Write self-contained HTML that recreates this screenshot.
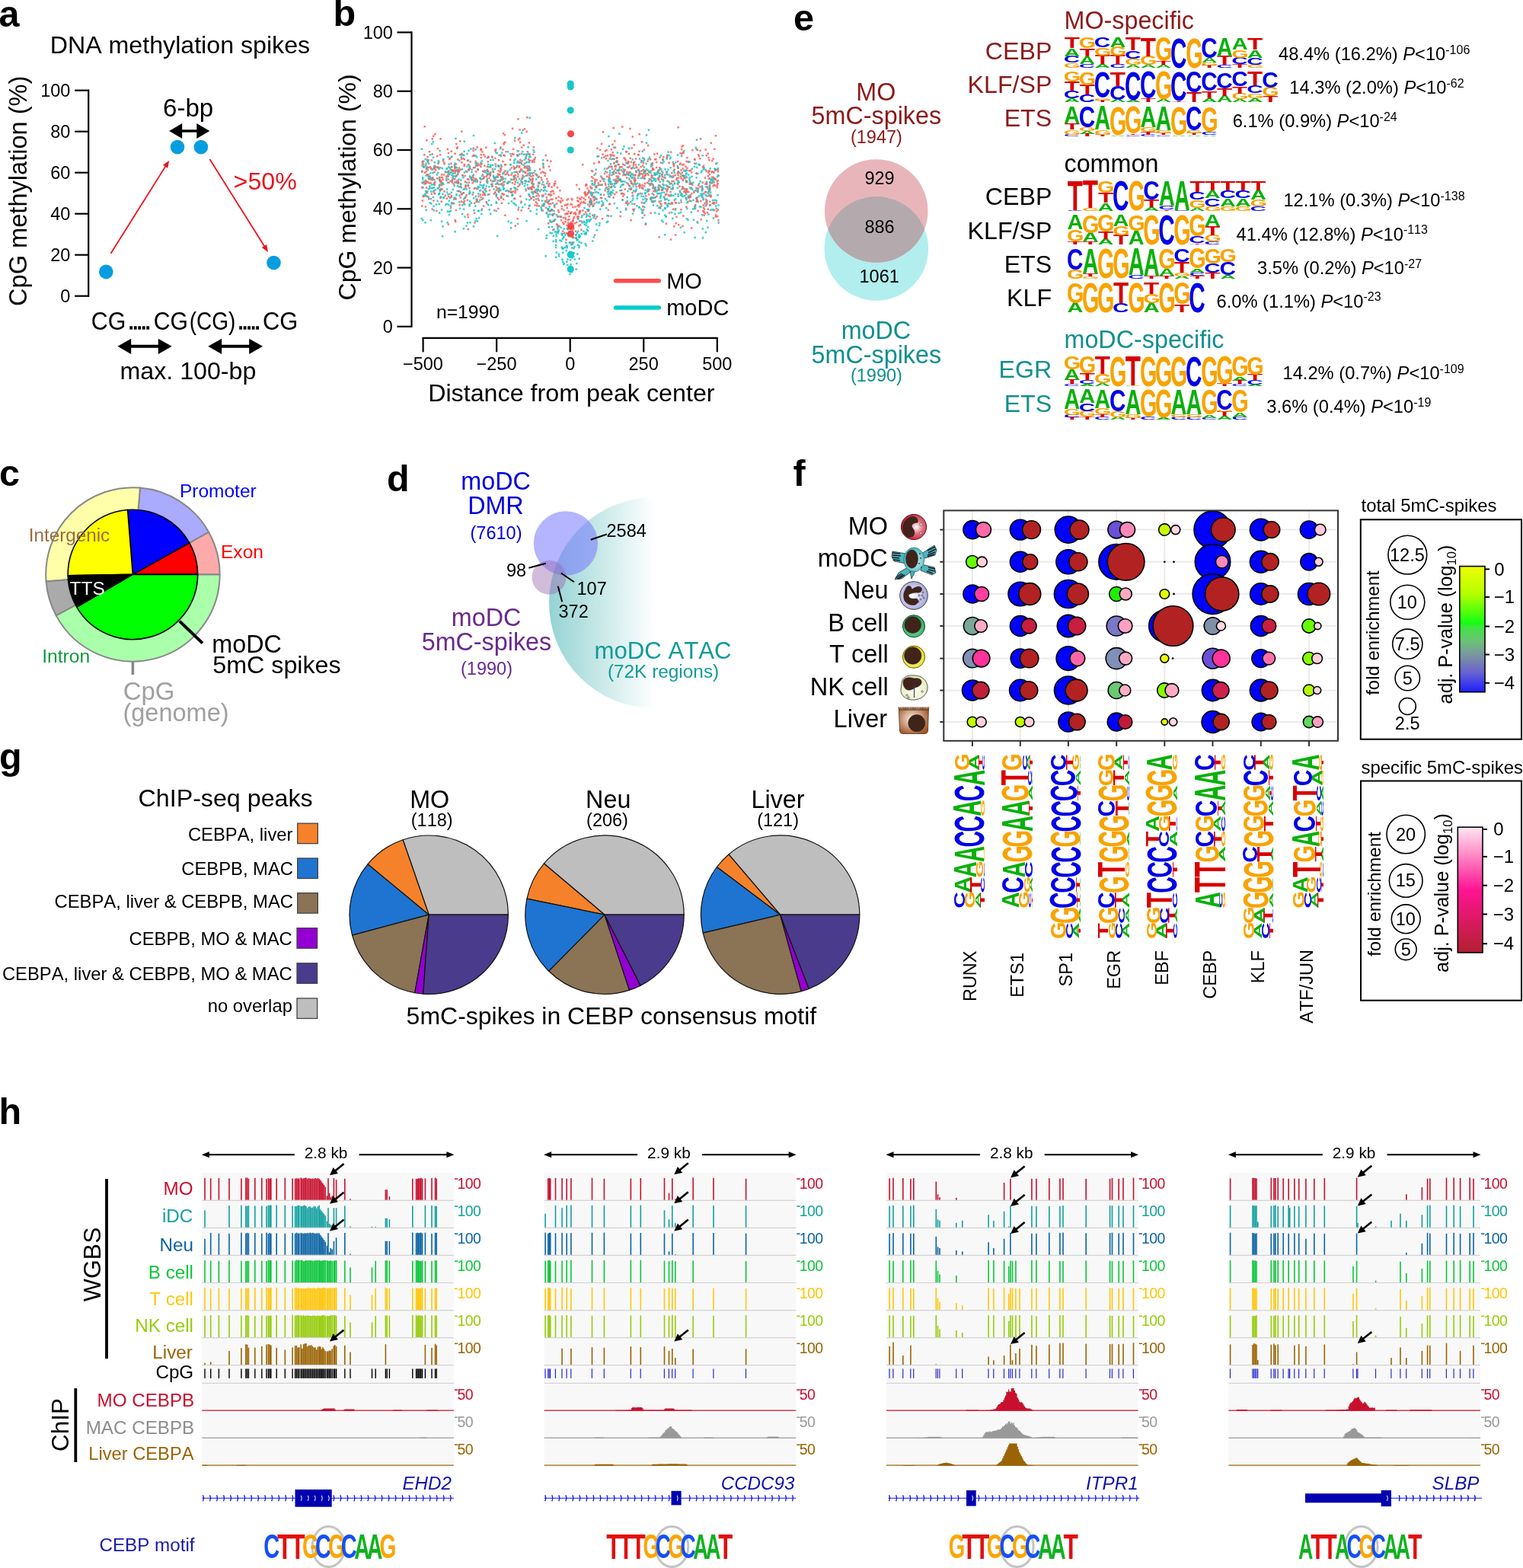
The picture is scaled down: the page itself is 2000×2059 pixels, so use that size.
<!DOCTYPE html>
<html><head><meta charset="utf-8"><title>Figure</title>
<style>html,body{margin:0;padding:0;background:#fff;overflow:hidden}svg{display:block}text{font-family:"Liberation Sans",Arial,Helvetica,sans-serif;font-kerning:none}</style>
</head><body>
<svg width="2000" height="2059" viewBox="0 0 2000 2059">
<rect width="2000" height="2059" fill="#fff"/>
<text x="-1.5" y="34.7" font-size="48.5" fill="#000" font-weight="bold">a</text>
<text x="65.76" y="70.3" font-size="32.16" fill="#000">DNA methylation spikes</text>
<line x1="116.2" y1="117.7" x2="116.2" y2="389.7" stroke="#000" stroke-width="2.2"/>
<line x1="98.2" y1="388.7" x2="117" y2="388.7" stroke="#000" stroke-width="2.2"/>
<text x="79.35" y="396.9" font-size="23.5" fill="#000">0</text>
<line x1="98.2" y1="334.7" x2="117" y2="334.7" stroke="#000" stroke-width="2.2"/>
<text x="66.28" y="342.9" font-size="23.5" fill="#000">20</text>
<line x1="98.2" y1="280.7" x2="117" y2="280.7" stroke="#000" stroke-width="2.2"/>
<text x="66.28" y="288.9" font-size="23.5" fill="#000">40</text>
<line x1="98.2" y1="226.7" x2="117" y2="226.7" stroke="#000" stroke-width="2.2"/>
<text x="66.28" y="234.9" font-size="23.5" fill="#000">60</text>
<line x1="98.2" y1="172.7" x2="117" y2="172.7" stroke="#000" stroke-width="2.2"/>
<text x="66.28" y="180.9" font-size="23.5" fill="#000">80</text>
<line x1="98.2" y1="118.7" x2="117" y2="118.7" stroke="#000" stroke-width="2.2"/>
<text x="53.21" y="126.9" font-size="23.5" fill="#000">100</text>
<text transform="translate(34.6 250.85) rotate(-90)" x="-151.11" y="0" font-size="32.6" fill="#000">CpG methylation (%)</text>
<circle cx="139.3" cy="356.9" r="9.3" fill="#069de0"/>
<circle cx="233" cy="193.1" r="9.3" fill="#069de0"/>
<circle cx="263.9" cy="193.1" r="9.3" fill="#069de0"/>
<circle cx="359.5" cy="345" r="9.3" fill="#069de0"/>
<line x1="145.4" y1="333" x2="218.16" y2="217.14" stroke="#e8141e" stroke-width="1.8"/>
<path d="M222.2 210.7 L220.32 220.74 L213.97 216.75 Z" fill="#e8141e"/>
<line x1="275.4" y1="209" x2="347.96" y2="324.56" stroke="#e8141e" stroke-width="1.8"/>
<path d="M352 331 L343.77 324.95 L350.12 320.96 Z" fill="#e8141e"/>
<text x="306.61" y="249" font-size="32.23" fill="#e8141e">&gt;50%</text>
<text x="214.02" y="153.4" font-size="33.11" fill="#000">6-bp</text>
<line x1="235.8" y1="172" x2="261.7" y2="172" stroke="#000" stroke-width="3.4"/>
<path d="M222.2 172 L239.2 162 L239.2 182 Z" fill="#000"/>
<path d="M275.3 172 L258.3 182 L258.3 162 Z" fill="#000"/>
<text transform="translate(121.3 432.8) scale(0.9193 1)" x="-1.68" y="0" font-size="33" fill="#000">CG</text>
<rect x="170.3" y="428.3" width="3.8" height="4.4" fill="#000"/>
<rect x="175.8" y="428.3" width="3.8" height="4.4" fill="#000"/>
<rect x="181.3" y="428.3" width="3.8" height="4.4" fill="#000"/>
<rect x="186.8" y="428.3" width="3.8" height="4.4" fill="#000"/>
<rect x="192.3" y="428.3" width="3.8" height="4.4" fill="#000"/>
<text transform="translate(203.2 432.8) scale(0.9127 1)" x="-1.68" y="0" font-size="33" fill="#000">CG</text>
<text transform="translate(250.5 432.8) scale(0.8488 1)" x="-2.05" y="0" font-size="33" fill="#000">(CG)</text>
<rect x="314.2" y="428.3" width="3.8" height="4.4" fill="#000"/>
<rect x="319.7" y="428.3" width="3.8" height="4.4" fill="#000"/>
<rect x="325.2" y="428.3" width="3.8" height="4.4" fill="#000"/>
<rect x="330.7" y="428.3" width="3.8" height="4.4" fill="#000"/>
<rect x="336.2" y="428.3" width="3.8" height="4.4" fill="#000"/>
<text transform="translate(346.6 432.8) scale(0.9370 1)" x="-1.68" y="0" font-size="33" fill="#000">CG</text>
<line x1="168.64" y1="454.8" x2="211.36" y2="454.8" stroke="#000" stroke-width="4.1"/>
<path d="M154.4 454.8 L172.2 444.7 L172.2 464.9 Z" fill="#000"/>
<path d="M225.6 454.8 L207.8 464.9 L207.8 444.7 Z" fill="#000"/>
<line x1="287.54" y1="454.8" x2="330.76" y2="454.8" stroke="#000" stroke-width="4.1"/>
<path d="M273.3 454.8 L291.1 444.7 L291.1 464.9 Z" fill="#000"/>
<path d="M345 454.8 L327.2 464.9 L327.2 444.7 Z" fill="#000"/>
<text x="157.46" y="497.9" font-size="32.2" fill="#000">max. 100-bp</text>
<text x="437.5" y="34" font-size="48.5" fill="#000" font-weight="bold">b</text>
<line x1="540.5" y1="41.5" x2="540.5" y2="429.8" stroke="#000" stroke-width="2.2"/>
<line x1="521.5" y1="428.8" x2="541" y2="428.8" stroke="#000" stroke-width="2.2"/>
<text x="502.85" y="437" font-size="23.5" fill="#000">0</text>
<line x1="521.5" y1="351.54" x2="541" y2="351.54" stroke="#000" stroke-width="2.2"/>
<text x="489.78" y="359.74" font-size="23.5" fill="#000">20</text>
<line x1="521.5" y1="274.28" x2="541" y2="274.28" stroke="#000" stroke-width="2.2"/>
<text x="489.78" y="282.48" font-size="23.5" fill="#000">40</text>
<line x1="521.5" y1="197.02" x2="541" y2="197.02" stroke="#000" stroke-width="2.2"/>
<text x="489.78" y="205.22" font-size="23.5" fill="#000">60</text>
<line x1="521.5" y1="119.76" x2="541" y2="119.76" stroke="#000" stroke-width="2.2"/>
<text x="489.78" y="127.96" font-size="23.5" fill="#000">80</text>
<line x1="521.5" y1="42.5" x2="541" y2="42.5" stroke="#000" stroke-width="2.2"/>
<text x="476.71" y="50.7" font-size="23.5" fill="#000">100</text>
<text transform="translate(466.5 246.05) rotate(-90)" x="-148.38" y="0" font-size="32.01" fill="#000">CpG methylation (%)</text>
<line x1="554.6" y1="443.8" x2="942.8" y2="443.8" stroke="#000" stroke-width="2.2"/>
<line x1="555.6" y1="443" x2="555.6" y2="462.3" stroke="#000" stroke-width="2.2"/>
<text x="529.01" y="485.5" font-size="23.5" fill="#000">−500</text>
<line x1="652.15" y1="443" x2="652.15" y2="462.3" stroke="#000" stroke-width="2.2"/>
<text x="625.56" y="485.5" font-size="23.5" fill="#000">−250</text>
<line x1="748.7" y1="443" x2="748.7" y2="462.3" stroke="#000" stroke-width="2.2"/>
<text x="742.17" y="485.5" font-size="23.5" fill="#000">0</text>
<line x1="845.25" y1="443" x2="845.25" y2="462.3" stroke="#000" stroke-width="2.2"/>
<text x="825.51" y="485.5" font-size="23.5" fill="#000">250</text>
<line x1="941.8" y1="443" x2="941.8" y2="462.3" stroke="#000" stroke-width="2.2"/>
<text x="922.18" y="485.5" font-size="23.5" fill="#000">500</text>
<text x="562.15" y="527" font-size="32.25" fill="#000">Distance from peak center</text>
<path d="M561.4 247.1h2.5v2.5h-2.5zM607.3 252.0h2.5v2.5h-2.5zM685.4 169.8h2.5v2.5h-2.5zM603.9 235.2h2.5v2.5h-2.5zM825.2 193.8h2.5v2.5h-2.5zM642.7 217.2h2.5v2.5h-2.5zM552.9 224.5h2.5v2.5h-2.5zM684.9 271.1h2.5v2.5h-2.5zM695.6 226.1h2.5v2.5h-2.5zM737.6 325.1h2.5v2.5h-2.5zM897.9 255.8h2.5v2.5h-2.5zM744.1 346.8h2.5v2.5h-2.5zM626.5 246.2h2.5v2.5h-2.5zM674.5 231.3h2.5v2.5h-2.5zM919.4 253.7h2.5v2.5h-2.5zM668.5 221.4h2.5v2.5h-2.5zM639.6 227.6h2.5v2.5h-2.5zM732.5 332.5h2.5v2.5h-2.5zM671.2 225.9h2.5v2.5h-2.5zM867.0 220.7h2.5v2.5h-2.5zM779.9 248.1h2.5v2.5h-2.5zM714.6 244.0h2.5v2.5h-2.5zM691.1 218.1h2.5v2.5h-2.5zM587.4 234.3h2.5v2.5h-2.5zM651.5 200.0h2.5v2.5h-2.5zM621.8 203.4h2.5v2.5h-2.5zM676.7 218.8h2.5v2.5h-2.5zM759.4 338.4h2.5v2.5h-2.5zM883.5 223.2h2.5v2.5h-2.5zM586.0 219.8h2.5v2.5h-2.5zM591.6 251.4h2.5v2.5h-2.5zM623.6 203.3h2.5v2.5h-2.5zM804.9 243.1h2.5v2.5h-2.5zM640.9 262.1h2.5v2.5h-2.5zM867.9 252.1h2.5v2.5h-2.5zM928.4 297.4h2.5v2.5h-2.5zM800.8 250.7h2.5v2.5h-2.5zM629.4 241.6h2.5v2.5h-2.5zM897.4 303.9h2.5v2.5h-2.5zM816.7 194.6h2.5v2.5h-2.5zM633.7 243.9h2.5v2.5h-2.5zM592.0 204.8h2.5v2.5h-2.5zM859.9 233.9h2.5v2.5h-2.5zM575.5 266.8h2.5v2.5h-2.5zM930.7 233.1h2.5v2.5h-2.5zM869.1 207.9h2.5v2.5h-2.5zM724.8 281.8h2.5v2.5h-2.5zM786.1 291.8h2.5v2.5h-2.5zM653.7 251.2h2.5v2.5h-2.5zM820.0 228.7h2.5v2.5h-2.5zM855.3 264.0h2.5v2.5h-2.5zM658.9 227.0h2.5v2.5h-2.5zM901.1 272.6h2.5v2.5h-2.5zM922.2 261.1h2.5v2.5h-2.5zM602.2 264.0h2.5v2.5h-2.5zM616.3 290.9h2.5v2.5h-2.5zM869.7 237.0h2.5v2.5h-2.5zM865.5 252.8h2.5v2.5h-2.5zM721.6 290.0h2.5v2.5h-2.5zM691.5 217.0h2.5v2.5h-2.5zM858.2 228.6h2.5v2.5h-2.5zM622.9 245.7h2.5v2.5h-2.5zM865.0 229.6h2.5v2.5h-2.5zM585.8 247.2h2.5v2.5h-2.5zM932.4 255.2h2.5v2.5h-2.5zM864.3 271.6h2.5v2.5h-2.5zM779.5 282.8h2.5v2.5h-2.5zM608.1 202.8h2.5v2.5h-2.5zM805.5 266.1h2.5v2.5h-2.5zM665.3 238.5h2.5v2.5h-2.5zM575.6 233.5h2.5v2.5h-2.5zM729.7 280.9h2.5v2.5h-2.5zM883.0 255.8h2.5v2.5h-2.5zM614.3 196.6h2.5v2.5h-2.5zM705.5 259.8h2.5v2.5h-2.5zM749.3 333.5h2.5v2.5h-2.5zM669.5 215.0h2.5v2.5h-2.5zM774.6 245.7h2.5v2.5h-2.5zM779.8 240.1h2.5v2.5h-2.5zM670.4 251.5h2.5v2.5h-2.5zM785.6 264.3h2.5v2.5h-2.5zM602.7 272.6h2.5v2.5h-2.5zM558.3 274.5h2.5v2.5h-2.5zM812.0 174.6h2.5v2.5h-2.5zM587.3 204.8h2.5v2.5h-2.5zM809.6 199.2h2.5v2.5h-2.5zM882.1 285.5h2.5v2.5h-2.5zM699.4 196.1h2.5v2.5h-2.5zM852.5 241.3h2.5v2.5h-2.5zM693.6 269.2h2.5v2.5h-2.5zM622.7 236.7h2.5v2.5h-2.5zM806.2 244.5h2.5v2.5h-2.5zM825.3 246.4h2.5v2.5h-2.5zM659.7 244.1h2.5v2.5h-2.5zM645.9 215.6h2.5v2.5h-2.5zM580.0 239.5h2.5v2.5h-2.5zM688.2 217.6h2.5v2.5h-2.5zM913.3 195.1h2.5v2.5h-2.5zM666.9 249.7h2.5v2.5h-2.5zM871.3 258.5h2.5v2.5h-2.5zM907.5 220.5h2.5v2.5h-2.5zM641.4 273.9h2.5v2.5h-2.5zM875.7 227.9h2.5v2.5h-2.5zM721.4 304.5h2.5v2.5h-2.5zM737.0 307.4h2.5v2.5h-2.5zM832.3 240.2h2.5v2.5h-2.5zM888.7 202.2h2.5v2.5h-2.5zM897.0 229.7h2.5v2.5h-2.5zM871.2 231.6h2.5v2.5h-2.5zM890.5 237.9h2.5v2.5h-2.5zM784.7 265.1h2.5v2.5h-2.5zM694.5 153.6h2.5v2.5h-2.5zM835.8 239.6h2.5v2.5h-2.5zM689.4 201.4h2.5v2.5h-2.5zM799.8 223.0h2.5v2.5h-2.5zM579.9 309.0h2.5v2.5h-2.5zM852.5 240.3h2.5v2.5h-2.5zM729.7 293.3h2.5v2.5h-2.5zM685.1 233.0h2.5v2.5h-2.5zM693.1 254.0h2.5v2.5h-2.5zM847.7 186.4h2.5v2.5h-2.5zM750.1 337.3h2.5v2.5h-2.5zM756.4 314.3h2.5v2.5h-2.5zM892.9 277.8h2.5v2.5h-2.5zM642.1 226.9h2.5v2.5h-2.5zM728.9 320.7h2.5v2.5h-2.5zM737.6 312.6h2.5v2.5h-2.5zM613.6 241.4h2.5v2.5h-2.5zM838.7 228.0h2.5v2.5h-2.5zM920.5 243.2h2.5v2.5h-2.5zM874.4 207.3h2.5v2.5h-2.5zM656.9 215.6h2.5v2.5h-2.5zM824.5 193.5h2.5v2.5h-2.5zM874.6 260.2h2.5v2.5h-2.5zM743.2 342.4h2.5v2.5h-2.5zM885.6 253.4h2.5v2.5h-2.5zM846.4 251.9h2.5v2.5h-2.5zM909.1 238.5h2.5v2.5h-2.5zM597.0 218.4h2.5v2.5h-2.5zM840.4 232.8h2.5v2.5h-2.5zM787.9 230.3h2.5v2.5h-2.5zM627.8 285.0h2.5v2.5h-2.5zM555.1 210.5h2.5v2.5h-2.5zM785.9 294.7h2.5v2.5h-2.5zM817.5 221.1h2.5v2.5h-2.5zM563.9 226.2h2.5v2.5h-2.5zM923.0 276.7h2.5v2.5h-2.5zM811.0 222.6h2.5v2.5h-2.5zM845.3 223.4h2.5v2.5h-2.5zM771.6 287.4h2.5v2.5h-2.5zM882.8 230.7h2.5v2.5h-2.5zM759.7 289.1h2.5v2.5h-2.5zM770.7 252.4h2.5v2.5h-2.5zM611.6 238.4h2.5v2.5h-2.5zM747.7 340.2h2.5v2.5h-2.5zM597.0 231.1h2.5v2.5h-2.5zM617.2 194.2h2.5v2.5h-2.5zM637.5 264.0h2.5v2.5h-2.5zM905.7 257.3h2.5v2.5h-2.5zM929.6 255.9h2.5v2.5h-2.5zM643.1 209.0h2.5v2.5h-2.5zM908.0 241.6h2.5v2.5h-2.5zM618.0 235.0h2.5v2.5h-2.5zM856.3 245.9h2.5v2.5h-2.5zM688.0 267.2h2.5v2.5h-2.5zM641.1 244.0h2.5v2.5h-2.5zM763.4 281.8h2.5v2.5h-2.5zM610.3 242.2h2.5v2.5h-2.5zM580.3 296.0h2.5v2.5h-2.5zM838.1 271.3h2.5v2.5h-2.5zM664.8 227.2h2.5v2.5h-2.5zM644.0 241.0h2.5v2.5h-2.5zM656.2 248.4h2.5v2.5h-2.5zM893.9 255.6h2.5v2.5h-2.5zM927.0 263.2h2.5v2.5h-2.5zM637.6 243.2h2.5v2.5h-2.5zM650.5 263.9h2.5v2.5h-2.5zM749.3 319.7h2.5v2.5h-2.5zM763.3 291.3h2.5v2.5h-2.5zM870.1 245.3h2.5v2.5h-2.5zM822.9 268.1h2.5v2.5h-2.5zM558.1 256.1h2.5v2.5h-2.5zM588.9 227.7h2.5v2.5h-2.5zM831.8 273.5h2.5v2.5h-2.5zM618.2 224.7h2.5v2.5h-2.5zM575.2 220.7h2.5v2.5h-2.5zM635.1 248.2h2.5v2.5h-2.5zM937.2 261.6h2.5v2.5h-2.5zM602.0 209.8h2.5v2.5h-2.5zM710.6 240.8h2.5v2.5h-2.5zM843.5 221.7h2.5v2.5h-2.5zM605.4 253.8h2.5v2.5h-2.5zM607.7 247.6h2.5v2.5h-2.5zM717.1 239.4h2.5v2.5h-2.5zM838.6 225.9h2.5v2.5h-2.5zM679.0 203.1h2.5v2.5h-2.5zM620.7 176.8h2.5v2.5h-2.5zM855.2 232.5h2.5v2.5h-2.5zM701.1 222.9h2.5v2.5h-2.5zM866.2 256.9h2.5v2.5h-2.5zM771.0 267.3h2.5v2.5h-2.5zM580.9 258.8h2.5v2.5h-2.5zM595.0 230.1h2.5v2.5h-2.5zM917.8 270.1h2.5v2.5h-2.5zM820.9 198.1h2.5v2.5h-2.5zM644.9 204.3h2.5v2.5h-2.5zM881.5 231.7h2.5v2.5h-2.5zM662.4 233.4h2.5v2.5h-2.5zM705.5 248.1h2.5v2.5h-2.5zM762.6 305.9h2.5v2.5h-2.5zM743.5 324.0h2.5v2.5h-2.5zM762.0 317.6h2.5v2.5h-2.5zM795.5 290.7h2.5v2.5h-2.5zM655.7 235.1h2.5v2.5h-2.5zM615.3 269.0h2.5v2.5h-2.5zM838.7 240.4h2.5v2.5h-2.5zM798.2 234.5h2.5v2.5h-2.5zM610.7 223.4h2.5v2.5h-2.5zM578.7 231.7h2.5v2.5h-2.5zM747.5 317.3h2.5v2.5h-2.5zM775.9 255.4h2.5v2.5h-2.5zM889.2 254.0h2.5v2.5h-2.5zM615.0 253.2h2.5v2.5h-2.5zM892.6 297.5h2.5v2.5h-2.5zM736.3 305.5h2.5v2.5h-2.5zM853.0 259.8h2.5v2.5h-2.5zM690.1 260.4h2.5v2.5h-2.5zM921.7 310.9h2.5v2.5h-2.5zM587.9 267.6h2.5v2.5h-2.5zM615.7 230.2h2.5v2.5h-2.5z" fill="#1cc6c6" fill-opacity="0.85"/>
<path d="M698.8 229.4h2.5v2.5h-2.5zM736.5 269.8h2.5v2.5h-2.5zM780.7 244.0h2.5v2.5h-2.5zM683.6 237.7h2.5v2.5h-2.5zM632.5 233.5h2.5v2.5h-2.5zM678.0 217.2h2.5v2.5h-2.5zM757.4 283.4h2.5v2.5h-2.5zM723.2 274.4h2.5v2.5h-2.5zM789.8 286.1h2.5v2.5h-2.5zM851.4 224.4h2.5v2.5h-2.5zM845.8 224.3h2.5v2.5h-2.5zM608.5 207.9h2.5v2.5h-2.5zM636.4 246.6h2.5v2.5h-2.5zM716.8 278.8h2.5v2.5h-2.5zM625.0 246.7h2.5v2.5h-2.5zM683.3 275.1h2.5v2.5h-2.5zM706.4 255.9h2.5v2.5h-2.5zM878.9 266.5h2.5v2.5h-2.5zM561.7 218.8h2.5v2.5h-2.5zM645.7 220.7h2.5v2.5h-2.5zM916.0 241.9h2.5v2.5h-2.5zM845.7 239.8h2.5v2.5h-2.5zM772.8 251.1h2.5v2.5h-2.5zM694.6 228.5h2.5v2.5h-2.5zM603.5 221.4h2.5v2.5h-2.5zM840.3 217.7h2.5v2.5h-2.5zM926.4 239.8h2.5v2.5h-2.5zM927.0 240.3h2.5v2.5h-2.5zM879.4 250.8h2.5v2.5h-2.5zM938.9 281.2h2.5v2.5h-2.5zM761.1 260.6h2.5v2.5h-2.5zM691.8 227.0h2.5v2.5h-2.5zM815.5 218.3h2.5v2.5h-2.5zM748.6 290.6h2.5v2.5h-2.5zM939.4 265.3h2.5v2.5h-2.5zM937.2 194.6h2.5v2.5h-2.5zM757.3 268.9h2.5v2.5h-2.5zM894.3 201.1h2.5v2.5h-2.5zM893.2 273.9h2.5v2.5h-2.5zM693.1 246.9h2.5v2.5h-2.5zM743.5 298.9h2.5v2.5h-2.5zM791.1 267.7h2.5v2.5h-2.5zM919.4 286.9h2.5v2.5h-2.5zM607.6 252.0h2.5v2.5h-2.5zM833.8 207.3h2.5v2.5h-2.5zM887.1 235.0h2.5v2.5h-2.5zM553.8 213.3h2.5v2.5h-2.5zM832.8 235.8h2.5v2.5h-2.5zM558.0 215.8h2.5v2.5h-2.5zM892.2 200.1h2.5v2.5h-2.5zM935.3 242.9h2.5v2.5h-2.5zM681.9 208.7h2.5v2.5h-2.5zM879.9 230.3h2.5v2.5h-2.5zM855.6 221.8h2.5v2.5h-2.5zM746.1 287.1h2.5v2.5h-2.5zM675.2 252.1h2.5v2.5h-2.5zM891.9 251.3h2.5v2.5h-2.5zM915.4 275.6h2.5v2.5h-2.5zM659.2 210.8h2.5v2.5h-2.5zM678.7 230.5h2.5v2.5h-2.5zM751.1 289.1h2.5v2.5h-2.5zM940.1 276.1h2.5v2.5h-2.5zM938.0 222.6h2.5v2.5h-2.5zM800.2 236.9h2.5v2.5h-2.5zM914.4 262.2h2.5v2.5h-2.5zM631.7 273.3h2.5v2.5h-2.5zM569.0 219.3h2.5v2.5h-2.5zM849.8 189.7h2.5v2.5h-2.5zM797.6 248.0h2.5v2.5h-2.5zM573.0 203.7h2.5v2.5h-2.5zM918.7 180.9h2.5v2.5h-2.5zM566.5 181.3h2.5v2.5h-2.5zM741.2 284.6h2.5v2.5h-2.5zM553.0 269.2h2.5v2.5h-2.5zM562.6 234.1h2.5v2.5h-2.5zM760.8 275.4h2.5v2.5h-2.5zM807.9 225.5h2.5v2.5h-2.5zM692.6 200.7h2.5v2.5h-2.5zM601.1 223.1h2.5v2.5h-2.5zM942.3 229.5h2.5v2.5h-2.5zM634.1 202.0h2.5v2.5h-2.5zM874.6 248.3h2.5v2.5h-2.5zM829.6 240.6h2.5v2.5h-2.5zM715.8 271.6h2.5v2.5h-2.5zM608.4 216.7h2.5v2.5h-2.5zM727.0 270.7h2.5v2.5h-2.5zM843.3 246.4h2.5v2.5h-2.5zM648.0 275.1h2.5v2.5h-2.5zM928.2 246.3h2.5v2.5h-2.5zM643.0 235.6h2.5v2.5h-2.5zM932.5 186.5h2.5v2.5h-2.5zM663.2 198.1h2.5v2.5h-2.5zM719.8 266.4h2.5v2.5h-2.5zM649.3 214.2h2.5v2.5h-2.5zM875.1 202.6h2.5v2.5h-2.5zM864.5 248.0h2.5v2.5h-2.5zM837.5 222.3h2.5v2.5h-2.5zM718.9 292.1h2.5v2.5h-2.5zM635.3 222.9h2.5v2.5h-2.5zM778.9 261.9h2.5v2.5h-2.5zM742.8 305.0h2.5v2.5h-2.5zM595.5 242.7h2.5v2.5h-2.5zM553.6 211.9h2.5v2.5h-2.5zM557.6 270.3h2.5v2.5h-2.5zM562.8 198.0h2.5v2.5h-2.5zM790.8 171.9h2.5v2.5h-2.5zM806.9 236.7h2.5v2.5h-2.5zM758.5 263.3h2.5v2.5h-2.5zM610.0 244.7h2.5v2.5h-2.5zM607.2 264.5h2.5v2.5h-2.5zM604.7 207.8h2.5v2.5h-2.5zM863.9 241.9h2.5v2.5h-2.5zM900.2 210.7h2.5v2.5h-2.5zM701.3 250.8h2.5v2.5h-2.5zM678.0 247.7h2.5v2.5h-2.5zM786.8 195.4h2.5v2.5h-2.5zM888.9 240.8h2.5v2.5h-2.5zM838.4 175.0h2.5v2.5h-2.5zM930.9 247.9h2.5v2.5h-2.5zM864.3 263.6h2.5v2.5h-2.5zM924.5 278.8h2.5v2.5h-2.5zM735.8 288.1h2.5v2.5h-2.5zM599.4 192.2h2.5v2.5h-2.5zM930.7 227.8h2.5v2.5h-2.5zM933.9 231.2h2.5v2.5h-2.5zM921.1 257.7h2.5v2.5h-2.5zM639.6 211.0h2.5v2.5h-2.5zM867.9 234.0h2.5v2.5h-2.5zM829.5 178.2h2.5v2.5h-2.5zM705.8 238.7h2.5v2.5h-2.5zM923.3 277.3h2.5v2.5h-2.5zM788.8 259.0h2.5v2.5h-2.5zM893.4 264.3h2.5v2.5h-2.5zM798.5 231.9h2.5v2.5h-2.5zM824.7 200.8h2.5v2.5h-2.5zM834.3 224.3h2.5v2.5h-2.5zM935.0 224.6h2.5v2.5h-2.5zM881.5 266.3h2.5v2.5h-2.5zM832.8 228.9h2.5v2.5h-2.5zM635.2 216.5h2.5v2.5h-2.5zM886.7 265.3h2.5v2.5h-2.5zM795.9 225.0h2.5v2.5h-2.5zM868.1 228.2h2.5v2.5h-2.5zM649.8 194.9h2.5v2.5h-2.5zM900.1 236.6h2.5v2.5h-2.5zM600.5 237.2h2.5v2.5h-2.5zM570.1 175.0h2.5v2.5h-2.5zM582.4 213.9h2.5v2.5h-2.5zM674.6 219.4h2.5v2.5h-2.5zM565.6 253.6h2.5v2.5h-2.5zM569.7 216.4h2.5v2.5h-2.5zM596.3 200.4h2.5v2.5h-2.5zM709.4 232.2h2.5v2.5h-2.5zM779.0 257.6h2.5v2.5h-2.5zM752.5 283.8h2.5v2.5h-2.5zM727.9 239.8h2.5v2.5h-2.5zM608.2 266.2h2.5v2.5h-2.5zM775.8 267.0h2.5v2.5h-2.5zM559.2 251.9h2.5v2.5h-2.5zM561.3 229.7h2.5v2.5h-2.5zM554.5 256.8h2.5v2.5h-2.5zM819.1 215.6h2.5v2.5h-2.5zM568.5 220.0h2.5v2.5h-2.5zM754.3 278.1h2.5v2.5h-2.5zM652.5 231.2h2.5v2.5h-2.5zM941.3 239.7h2.5v2.5h-2.5zM592.6 235.3h2.5v2.5h-2.5zM928.6 273.4h2.5v2.5h-2.5zM742.0 313.6h2.5v2.5h-2.5zM660.6 254.1h2.5v2.5h-2.5zM599.9 223.1h2.5v2.5h-2.5zM934.9 237.2h2.5v2.5h-2.5zM731.5 296.7h2.5v2.5h-2.5zM633.9 269.2h2.5v2.5h-2.5zM863.0 222.8h2.5v2.5h-2.5zM562.0 259.9h2.5v2.5h-2.5zM667.0 228.8h2.5v2.5h-2.5zM940.5 244.8h2.5v2.5h-2.5zM831.0 275.4h2.5v2.5h-2.5zM598.3 238.8h2.5v2.5h-2.5zM591.7 255.9h2.5v2.5h-2.5zM900.1 259.2h2.5v2.5h-2.5zM558.6 220.4h2.5v2.5h-2.5zM660.1 202.6h2.5v2.5h-2.5zM556.6 225.6h2.5v2.5h-2.5zM822.1 225.1h2.5v2.5h-2.5zM818.3 223.4h2.5v2.5h-2.5zM711.8 224.5h2.5v2.5h-2.5zM881.9 246.7h2.5v2.5h-2.5zM623.9 224.0h2.5v2.5h-2.5zM931.1 263.5h2.5v2.5h-2.5zM853.4 278.4h2.5v2.5h-2.5zM697.2 247.5h2.5v2.5h-2.5zM630.8 194.7h2.5v2.5h-2.5zM630.5 196.1h2.5v2.5h-2.5zM569.8 253.1h2.5v2.5h-2.5zM649.1 206.4h2.5v2.5h-2.5zM809.5 232.6h2.5v2.5h-2.5zM754.9 280.3h2.5v2.5h-2.5zM842.8 227.7h2.5v2.5h-2.5zM935.4 207.3h2.5v2.5h-2.5zM761.0 294.0h2.5v2.5h-2.5zM935.7 231.7h2.5v2.5h-2.5z" fill="#f8605c" fill-opacity="0.85"/>
<path d="M744.7 260.3h2.5v2.5h-2.5zM803.8 207.6h2.5v2.5h-2.5zM744.3 267.1h2.5v2.5h-2.5zM798.8 231.3h2.5v2.5h-2.5zM885.4 228.7h2.5v2.5h-2.5zM633.1 259.3h2.5v2.5h-2.5zM882.3 246.4h2.5v2.5h-2.5zM906.7 245.5h2.5v2.5h-2.5zM797.9 246.7h2.5v2.5h-2.5zM562.2 233.2h2.5v2.5h-2.5zM801.5 217.4h2.5v2.5h-2.5zM777.1 281.5h2.5v2.5h-2.5zM906.6 239.5h2.5v2.5h-2.5zM756.0 290.8h2.5v2.5h-2.5zM596.2 222.6h2.5v2.5h-2.5zM659.6 253.9h2.5v2.5h-2.5zM756.4 274.3h2.5v2.5h-2.5zM907.2 253.3h2.5v2.5h-2.5zM568.1 262.3h2.5v2.5h-2.5zM887.2 283.4h2.5v2.5h-2.5zM584.1 224.2h2.5v2.5h-2.5zM924.1 266.1h2.5v2.5h-2.5zM771.6 275.3h2.5v2.5h-2.5zM569.2 224.7h2.5v2.5h-2.5zM817.0 241.0h2.5v2.5h-2.5zM723.5 249.8h2.5v2.5h-2.5zM639.2 223.4h2.5v2.5h-2.5zM932.1 256.7h2.5v2.5h-2.5zM585.5 259.6h2.5v2.5h-2.5zM638.3 235.2h2.5v2.5h-2.5zM836.7 202.0h2.5v2.5h-2.5zM557.5 239.3h2.5v2.5h-2.5zM900.0 246.7h2.5v2.5h-2.5zM799.2 228.4h2.5v2.5h-2.5zM678.4 286.1h2.5v2.5h-2.5zM821.0 272.6h2.5v2.5h-2.5zM652.7 216.2h2.5v2.5h-2.5zM926.4 240.4h2.5v2.5h-2.5zM930.7 245.6h2.5v2.5h-2.5zM772.1 257.9h2.5v2.5h-2.5zM833.0 228.5h2.5v2.5h-2.5zM757.1 262.4h2.5v2.5h-2.5zM850.3 228.4h2.5v2.5h-2.5zM814.7 222.3h2.5v2.5h-2.5zM774.0 267.2h2.5v2.5h-2.5zM603.8 240.3h2.5v2.5h-2.5zM750.5 298.8h2.5v2.5h-2.5zM926.6 203.0h2.5v2.5h-2.5zM823.5 240.2h2.5v2.5h-2.5zM575.8 243.9h2.5v2.5h-2.5zM762.2 264.3h2.5v2.5h-2.5zM743.3 261.2h2.5v2.5h-2.5zM866.8 212.4h2.5v2.5h-2.5zM775.3 262.9h2.5v2.5h-2.5zM596.9 258.9h2.5v2.5h-2.5zM652.3 258.7h2.5v2.5h-2.5zM845.2 281.4h2.5v2.5h-2.5zM578.5 263.6h2.5v2.5h-2.5zM559.6 256.7h2.5v2.5h-2.5zM894.7 215.3h2.5v2.5h-2.5zM857.1 249.8h2.5v2.5h-2.5zM659.9 260.6h2.5v2.5h-2.5zM745.8 292.8h2.5v2.5h-2.5zM637.0 192.5h2.5v2.5h-2.5zM866.2 244.0h2.5v2.5h-2.5zM884.0 296.0h2.5v2.5h-2.5zM726.3 288.8h2.5v2.5h-2.5zM553.5 262.3h2.5v2.5h-2.5zM630.5 202.1h2.5v2.5h-2.5zM653.9 260.8h2.5v2.5h-2.5zM881.0 225.7h2.5v2.5h-2.5zM899.3 222.3h2.5v2.5h-2.5zM559.8 250.2h2.5v2.5h-2.5zM882.9 273.5h2.5v2.5h-2.5zM691.6 197.9h2.5v2.5h-2.5zM656.2 192.3h2.5v2.5h-2.5zM879.7 313.3h2.5v2.5h-2.5zM872.7 254.7h2.5v2.5h-2.5zM720.0 262.0h2.5v2.5h-2.5zM605.2 200.6h2.5v2.5h-2.5zM600.0 223.5h2.5v2.5h-2.5zM563.6 233.5h2.5v2.5h-2.5zM712.8 245.1h2.5v2.5h-2.5zM923.7 273.4h2.5v2.5h-2.5zM876.7 244.5h2.5v2.5h-2.5zM918.4 196.6h2.5v2.5h-2.5zM868.0 228.1h2.5v2.5h-2.5zM896.4 199.4h2.5v2.5h-2.5zM655.0 228.1h2.5v2.5h-2.5zM578.4 240.7h2.5v2.5h-2.5zM718.5 263.9h2.5v2.5h-2.5zM622.5 218.4h2.5v2.5h-2.5zM743.3 279.4h2.5v2.5h-2.5zM807.2 218.1h2.5v2.5h-2.5zM622.3 291.2h2.5v2.5h-2.5zM633.0 223.5h2.5v2.5h-2.5zM920.7 246.5h2.5v2.5h-2.5zM900.6 231.7h2.5v2.5h-2.5zM844.9 243.2h2.5v2.5h-2.5zM723.9 280.7h2.5v2.5h-2.5zM859.6 247.9h2.5v2.5h-2.5zM935.4 265.3h2.5v2.5h-2.5zM780.7 236.3h2.5v2.5h-2.5zM823.1 212.6h2.5v2.5h-2.5zM599.1 236.2h2.5v2.5h-2.5zM620.9 237.1h2.5v2.5h-2.5zM782.3 235.1h2.5v2.5h-2.5zM844.7 207.2h2.5v2.5h-2.5zM570.0 237.9h2.5v2.5h-2.5zM582.2 250.0h2.5v2.5h-2.5zM702.0 251.5h2.5v2.5h-2.5zM613.3 243.0h2.5v2.5h-2.5zM556.4 164.9h2.5v2.5h-2.5zM601.1 249.7h2.5v2.5h-2.5zM921.5 247.3h2.5v2.5h-2.5zM864.4 309.9h2.5v2.5h-2.5zM799.1 217.4h2.5v2.5h-2.5zM554.3 238.9h2.5v2.5h-2.5zM841.6 264.7h2.5v2.5h-2.5zM680.8 212.2h2.5v2.5h-2.5zM916.7 204.0h2.5v2.5h-2.5zM895.4 295.8h2.5v2.5h-2.5zM641.1 254.1h2.5v2.5h-2.5zM573.7 193.8h2.5v2.5h-2.5zM659.8 174.0h2.5v2.5h-2.5zM854.3 231.4h2.5v2.5h-2.5zM757.3 283.5h2.5v2.5h-2.5zM903.4 258.8h2.5v2.5h-2.5zM625.6 235.7h2.5v2.5h-2.5zM721.9 266.6h2.5v2.5h-2.5zM718.1 237.0h2.5v2.5h-2.5zM696.3 245.6h2.5v2.5h-2.5zM819.4 207.4h2.5v2.5h-2.5zM811.5 214.9h2.5v2.5h-2.5zM589.2 253.4h2.5v2.5h-2.5zM833.7 215.2h2.5v2.5h-2.5zM863.2 233.0h2.5v2.5h-2.5zM565.8 232.5h2.5v2.5h-2.5zM938.5 283.3h2.5v2.5h-2.5zM746.2 283.0h2.5v2.5h-2.5zM590.7 271.7h2.5v2.5h-2.5zM762.2 300.5h2.5v2.5h-2.5zM666.7 237.5h2.5v2.5h-2.5zM840.8 226.9h2.5v2.5h-2.5zM918.4 244.0h2.5v2.5h-2.5zM725.9 252.8h2.5v2.5h-2.5zM687.8 213.6h2.5v2.5h-2.5zM839.2 242.5h2.5v2.5h-2.5zM620.3 196.5h2.5v2.5h-2.5zM733.4 295.8h2.5v2.5h-2.5zM779.4 266.1h2.5v2.5h-2.5zM683.8 200.6h2.5v2.5h-2.5zM809.9 237.3h2.5v2.5h-2.5zM798.1 256.6h2.5v2.5h-2.5zM754.8 302.4h2.5v2.5h-2.5zM679.4 197.0h2.5v2.5h-2.5zM828.6 193.2h2.5v2.5h-2.5zM796.6 202.9h2.5v2.5h-2.5zM790.7 233.4h2.5v2.5h-2.5zM699.8 261.4h2.5v2.5h-2.5zM674.7 240.6h2.5v2.5h-2.5zM899.2 217.4h2.5v2.5h-2.5zM780.9 226.8h2.5v2.5h-2.5zM806.3 216.9h2.5v2.5h-2.5zM785.4 211.2h2.5v2.5h-2.5zM714.3 229.6h2.5v2.5h-2.5zM816.3 261.0h2.5v2.5h-2.5zM833.9 241.0h2.5v2.5h-2.5zM841.0 209.8h2.5v2.5h-2.5zM872.3 260.6h2.5v2.5h-2.5zM680.9 216.9h2.5v2.5h-2.5zM889.4 165.9h2.5v2.5h-2.5zM580.8 209.9h2.5v2.5h-2.5zM659.2 195.2h2.5v2.5h-2.5zM680.8 242.1h2.5v2.5h-2.5zM860.8 211.8h2.5v2.5h-2.5zM600.0 224.9h2.5v2.5h-2.5zM620.4 228.6h2.5v2.5h-2.5zM635.5 255.0h2.5v2.5h-2.5zM691.0 153.1h2.5v2.5h-2.5zM605.0 212.0h2.5v2.5h-2.5zM805.1 203.2h2.5v2.5h-2.5zM596.1 237.9h2.5v2.5h-2.5zM638.7 221.5h2.5v2.5h-2.5zM876.5 254.9h2.5v2.5h-2.5zM615.2 245.8h2.5v2.5h-2.5zM751.2 270.8h2.5v2.5h-2.5zM721.3 222.3h2.5v2.5h-2.5zM559.6 227.9h2.5v2.5h-2.5zM690.4 171.6h2.5v2.5h-2.5zM747.9 296.3h2.5v2.5h-2.5zM698.8 201.5h2.5v2.5h-2.5zM557.8 236.9h2.5v2.5h-2.5zM772.8 269.7h2.5v2.5h-2.5zM832.9 250.5h2.5v2.5h-2.5zM722.2 250.8h2.5v2.5h-2.5zM825.6 225.0h2.5v2.5h-2.5zM692.8 208.0h2.5v2.5h-2.5zM937.0 232.9h2.5v2.5h-2.5zM633.9 252.1h2.5v2.5h-2.5zM773.5 283.3h2.5v2.5h-2.5zM767.0 252.6h2.5v2.5h-2.5zM681.4 168.9h2.5v2.5h-2.5zM759.9 268.2h2.5v2.5h-2.5zM938.2 242.7h2.5v2.5h-2.5zM798.9 266.8h2.5v2.5h-2.5zM737.9 290.9h2.5v2.5h-2.5zM662.0 185.4h2.5v2.5h-2.5zM914.3 249.6h2.5v2.5h-2.5zM744.7 291.3h2.5v2.5h-2.5zM875.5 246.9h2.5v2.5h-2.5zM591.5 257.6h2.5v2.5h-2.5zM817.3 228.8h2.5v2.5h-2.5zM629.1 261.5h2.5v2.5h-2.5zM784.8 204.0h2.5v2.5h-2.5zM916.0 202.1h2.5v2.5h-2.5z" fill="#f8605c" fill-opacity="0.85"/>
<path d="M876.3 198.6h2.5v2.5h-2.5zM861.6 225.2h2.5v2.5h-2.5zM692.4 191.9h2.5v2.5h-2.5zM850.7 169.5h2.5v2.5h-2.5zM773.8 287.8h2.5v2.5h-2.5zM775.0 261.2h2.5v2.5h-2.5zM856.7 262.9h2.5v2.5h-2.5zM781.4 221.5h2.5v2.5h-2.5zM738.3 324.8h2.5v2.5h-2.5zM608.7 225.3h2.5v2.5h-2.5zM729.0 336.6h2.5v2.5h-2.5zM882.5 211.8h2.5v2.5h-2.5zM794.9 271.9h2.5v2.5h-2.5zM559.7 251.0h2.5v2.5h-2.5zM599.5 242.7h2.5v2.5h-2.5zM859.4 228.4h2.5v2.5h-2.5zM563.2 230.2h2.5v2.5h-2.5zM624.7 212.9h2.5v2.5h-2.5zM650.1 198.7h2.5v2.5h-2.5zM913.3 259.5h2.5v2.5h-2.5zM637.7 222.8h2.5v2.5h-2.5zM821.5 212.6h2.5v2.5h-2.5zM748.3 346.1h2.5v2.5h-2.5zM615.4 267.2h2.5v2.5h-2.5zM889.5 224.1h2.5v2.5h-2.5zM628.2 244.4h2.5v2.5h-2.5zM879.4 205.2h2.5v2.5h-2.5zM716.5 278.2h2.5v2.5h-2.5zM893.8 203.7h2.5v2.5h-2.5zM904.5 231.9h2.5v2.5h-2.5zM851.4 234.0h2.5v2.5h-2.5zM557.2 290.9h2.5v2.5h-2.5zM687.7 208.5h2.5v2.5h-2.5zM697.0 250.9h2.5v2.5h-2.5zM871.8 228.7h2.5v2.5h-2.5zM664.1 255.8h2.5v2.5h-2.5zM615.4 219.7h2.5v2.5h-2.5zM636.8 249.7h2.5v2.5h-2.5zM786.2 247.5h2.5v2.5h-2.5zM879.4 218.9h2.5v2.5h-2.5zM590.6 269.3h2.5v2.5h-2.5zM656.0 220.2h2.5v2.5h-2.5zM837.7 215.0h2.5v2.5h-2.5zM556.3 240.2h2.5v2.5h-2.5zM665.3 223.8h2.5v2.5h-2.5zM609.3 258.4h2.5v2.5h-2.5zM600.7 239.6h2.5v2.5h-2.5zM872.2 221.0h2.5v2.5h-2.5zM592.2 265.0h2.5v2.5h-2.5zM648.5 186.7h2.5v2.5h-2.5zM811.9 221.4h2.5v2.5h-2.5zM745.1 308.8h2.5v2.5h-2.5zM920.6 249.3h2.5v2.5h-2.5zM811.2 233.1h2.5v2.5h-2.5zM690.3 289.1h2.5v2.5h-2.5zM798.0 177.8h2.5v2.5h-2.5zM802.8 220.8h2.5v2.5h-2.5zM797.9 250.2h2.5v2.5h-2.5zM842.9 278.2h2.5v2.5h-2.5zM760.4 309.0h2.5v2.5h-2.5zM727.3 267.7h2.5v2.5h-2.5zM650.9 231.6h2.5v2.5h-2.5zM756.7 305.0h2.5v2.5h-2.5zM768.8 283.3h2.5v2.5h-2.5zM874.9 243.1h2.5v2.5h-2.5zM712.3 216.9h2.5v2.5h-2.5zM875.2 236.6h2.5v2.5h-2.5zM654.1 245.9h2.5v2.5h-2.5zM578.1 246.9h2.5v2.5h-2.5zM759.5 310.5h2.5v2.5h-2.5zM694.6 219.3h2.5v2.5h-2.5zM698.6 253.5h2.5v2.5h-2.5zM786.1 241.5h2.5v2.5h-2.5zM742.9 322.0h2.5v2.5h-2.5zM713.3 266.5h2.5v2.5h-2.5zM674.0 259.8h2.5v2.5h-2.5zM627.0 253.1h2.5v2.5h-2.5zM939.5 272.4h2.5v2.5h-2.5zM567.2 233.9h2.5v2.5h-2.5zM878.6 240.3h2.5v2.5h-2.5zM808.3 235.4h2.5v2.5h-2.5zM909.9 287.5h2.5v2.5h-2.5zM585.3 220.8h2.5v2.5h-2.5zM845.0 225.2h2.5v2.5h-2.5zM756.1 344.7h2.5v2.5h-2.5zM885.3 279.6h2.5v2.5h-2.5zM891.6 214.4h2.5v2.5h-2.5zM774.9 265.2h2.5v2.5h-2.5zM695.5 276.0h2.5v2.5h-2.5zM758.2 285.7h2.5v2.5h-2.5zM696.2 259.7h2.5v2.5h-2.5zM724.9 300.7h2.5v2.5h-2.5zM646.8 229.4h2.5v2.5h-2.5zM563.7 202.1h2.5v2.5h-2.5zM801.9 207.7h2.5v2.5h-2.5zM678.5 203.4h2.5v2.5h-2.5zM752.4 330.7h2.5v2.5h-2.5zM729.2 306.6h2.5v2.5h-2.5zM919.2 270.8h2.5v2.5h-2.5zM630.1 212.2h2.5v2.5h-2.5zM784.6 252.1h2.5v2.5h-2.5zM737.8 306.1h2.5v2.5h-2.5zM869.7 235.0h2.5v2.5h-2.5zM650.6 256.8h2.5v2.5h-2.5zM769.1 288.1h2.5v2.5h-2.5zM857.5 232.9h2.5v2.5h-2.5zM801.1 255.1h2.5v2.5h-2.5zM878.8 207.1h2.5v2.5h-2.5zM929.8 248.2h2.5v2.5h-2.5zM913.0 213.6h2.5v2.5h-2.5zM721.6 255.7h2.5v2.5h-2.5zM921.4 203.1h2.5v2.5h-2.5zM656.7 203.7h2.5v2.5h-2.5zM913.4 231.9h2.5v2.5h-2.5zM774.8 251.5h2.5v2.5h-2.5zM789.1 262.9h2.5v2.5h-2.5zM637.3 249.7h2.5v2.5h-2.5zM835.6 259.3h2.5v2.5h-2.5zM865.2 242.4h2.5v2.5h-2.5zM846.2 227.1h2.5v2.5h-2.5zM815.5 252.6h2.5v2.5h-2.5zM578.8 289.4h2.5v2.5h-2.5zM859.2 262.8h2.5v2.5h-2.5zM588.0 227.0h2.5v2.5h-2.5zM715.2 253.3h2.5v2.5h-2.5zM894.3 253.9h2.5v2.5h-2.5zM624.4 263.7h2.5v2.5h-2.5zM814.1 236.1h2.5v2.5h-2.5zM801.5 244.7h2.5v2.5h-2.5zM845.0 270.7h2.5v2.5h-2.5zM857.5 235.6h2.5v2.5h-2.5zM768.4 321.3h2.5v2.5h-2.5zM874.9 267.3h2.5v2.5h-2.5zM826.9 264.1h2.5v2.5h-2.5zM882.2 242.1h2.5v2.5h-2.5zM830.8 249.2h2.5v2.5h-2.5zM561.4 232.1h2.5v2.5h-2.5zM675.8 245.9h2.5v2.5h-2.5zM827.8 227.9h2.5v2.5h-2.5zM892.7 227.5h2.5v2.5h-2.5zM713.0 268.8h2.5v2.5h-2.5zM902.9 228.2h2.5v2.5h-2.5zM596.4 302.9h2.5v2.5h-2.5zM797.9 219.1h2.5v2.5h-2.5zM603.6 250.8h2.5v2.5h-2.5zM814.0 200.6h2.5v2.5h-2.5zM916.5 214.4h2.5v2.5h-2.5zM700.8 207.8h2.5v2.5h-2.5zM865.6 237.5h2.5v2.5h-2.5zM793.8 223.8h2.5v2.5h-2.5zM843.9 256.8h2.5v2.5h-2.5zM718.6 274.9h2.5v2.5h-2.5zM626.5 276.0h2.5v2.5h-2.5zM676.9 235.2h2.5v2.5h-2.5zM749.2 336.1h2.5v2.5h-2.5zM902.0 263.8h2.5v2.5h-2.5zM648.0 233.1h2.5v2.5h-2.5zM888.6 245.6h2.5v2.5h-2.5zM570.6 247.9h2.5v2.5h-2.5zM572.5 228.2h2.5v2.5h-2.5zM716.6 308.1h2.5v2.5h-2.5zM912.6 192.8h2.5v2.5h-2.5zM772.8 289.5h2.5v2.5h-2.5zM768.5 303.8h2.5v2.5h-2.5zM870.8 251.6h2.5v2.5h-2.5zM594.9 260.5h2.5v2.5h-2.5zM868.8 212.9h2.5v2.5h-2.5zM642.7 227.6h2.5v2.5h-2.5zM747.3 358.7h2.5v2.5h-2.5zM828.0 246.1h2.5v2.5h-2.5zM915.1 250.9h2.5v2.5h-2.5zM744.2 339.2h2.5v2.5h-2.5zM592.0 217.7h2.5v2.5h-2.5zM821.8 227.4h2.5v2.5h-2.5zM755.4 352.3h2.5v2.5h-2.5zM800.7 214.3h2.5v2.5h-2.5zM835.1 269.1h2.5v2.5h-2.5zM876.7 266.0h2.5v2.5h-2.5zM850.2 207.7h2.5v2.5h-2.5zM927.7 243.9h2.5v2.5h-2.5zM931.8 268.0h2.5v2.5h-2.5zM575.6 253.6h2.5v2.5h-2.5zM556.9 253.6h2.5v2.5h-2.5zM712.3 267.2h2.5v2.5h-2.5zM554.8 217.5h2.5v2.5h-2.5zM702.6 247.9h2.5v2.5h-2.5zM823.2 249.8h2.5v2.5h-2.5zM926.0 264.3h2.5v2.5h-2.5zM720.3 275.7h2.5v2.5h-2.5zM879.9 254.5h2.5v2.5h-2.5zM873.3 242.0h2.5v2.5h-2.5zM624.4 285.7h2.5v2.5h-2.5zM930.8 237.9h2.5v2.5h-2.5zM831.6 234.5h2.5v2.5h-2.5zM599.5 249.6h2.5v2.5h-2.5zM942.3 268.2h2.5v2.5h-2.5zM769.0 282.3h2.5v2.5h-2.5zM900.0 253.9h2.5v2.5h-2.5zM618.1 231.4h2.5v2.5h-2.5zM920.9 248.3h2.5v2.5h-2.5zM649.0 251.2h2.5v2.5h-2.5zM937.6 220.3h2.5v2.5h-2.5zM941.5 219.8h2.5v2.5h-2.5zM563.5 265.3h2.5v2.5h-2.5zM686.7 224.1h2.5v2.5h-2.5zM873.4 283.3h2.5v2.5h-2.5zM579.5 239.5h2.5v2.5h-2.5zM700.1 257.6h2.5v2.5h-2.5zM801.7 251.1h2.5v2.5h-2.5zM686.7 201.4h2.5v2.5h-2.5zM869.3 274.9h2.5v2.5h-2.5zM607.8 273.5h2.5v2.5h-2.5zM604.5 205.2h2.5v2.5h-2.5zM777.0 315.3h2.5v2.5h-2.5zM710.8 262.3h2.5v2.5h-2.5zM812.7 218.6h2.5v2.5h-2.5zM756.9 332.2h2.5v2.5h-2.5z" fill="#1cc6c6" fill-opacity="0.85"/>
<path d="M902.5 211.5h2.5v2.5h-2.5zM662.9 249.5h2.5v2.5h-2.5zM590.5 221.5h2.5v2.5h-2.5zM884.6 239.4h2.5v2.5h-2.5zM588.4 214.4h2.5v2.5h-2.5zM729.5 308.9h2.5v2.5h-2.5zM727.9 286.9h2.5v2.5h-2.5zM589.4 219.3h2.5v2.5h-2.5zM821.4 212.9h2.5v2.5h-2.5zM734.2 314.4h2.5v2.5h-2.5zM796.1 282.0h2.5v2.5h-2.5zM602.1 255.5h2.5v2.5h-2.5zM759.8 308.9h2.5v2.5h-2.5zM882.3 244.9h2.5v2.5h-2.5zM915.4 264.1h2.5v2.5h-2.5zM709.7 248.0h2.5v2.5h-2.5zM567.5 185.1h2.5v2.5h-2.5zM780.9 251.2h2.5v2.5h-2.5zM777.5 269.6h2.5v2.5h-2.5zM653.6 247.7h2.5v2.5h-2.5zM775.8 236.5h2.5v2.5h-2.5zM798.2 235.0h2.5v2.5h-2.5zM650.5 275.8h2.5v2.5h-2.5zM583.6 225.0h2.5v2.5h-2.5zM690.9 201.6h2.5v2.5h-2.5zM643.1 215.6h2.5v2.5h-2.5zM932.7 234.3h2.5v2.5h-2.5zM759.4 316.2h2.5v2.5h-2.5zM863.6 252.8h2.5v2.5h-2.5zM623.0 269.2h2.5v2.5h-2.5zM714.8 244.8h2.5v2.5h-2.5zM658.3 241.8h2.5v2.5h-2.5zM723.5 290.2h2.5v2.5h-2.5zM558.2 229.3h2.5v2.5h-2.5zM791.9 236.5h2.5v2.5h-2.5zM623.3 235.2h2.5v2.5h-2.5zM743.2 321.5h2.5v2.5h-2.5zM871.8 281.5h2.5v2.5h-2.5zM922.7 221.2h2.5v2.5h-2.5zM593.3 229.9h2.5v2.5h-2.5zM569.5 218.0h2.5v2.5h-2.5zM615.7 218.5h2.5v2.5h-2.5zM828.0 239.2h2.5v2.5h-2.5zM782.2 264.2h2.5v2.5h-2.5zM703.4 279.4h2.5v2.5h-2.5zM802.3 228.7h2.5v2.5h-2.5zM631.1 279.7h2.5v2.5h-2.5zM676.6 268.3h2.5v2.5h-2.5zM913.8 261.5h2.5v2.5h-2.5zM779.9 258.0h2.5v2.5h-2.5zM574.9 254.0h2.5v2.5h-2.5zM913.2 226.6h2.5v2.5h-2.5zM779.3 257.2h2.5v2.5h-2.5zM649.7 240.4h2.5v2.5h-2.5zM573.6 218.7h2.5v2.5h-2.5zM798.0 240.8h2.5v2.5h-2.5zM632.8 246.1h2.5v2.5h-2.5zM892.9 255.3h2.5v2.5h-2.5zM864.2 222.4h2.5v2.5h-2.5zM629.7 248.7h2.5v2.5h-2.5zM862.9 224.2h2.5v2.5h-2.5zM624.7 260.3h2.5v2.5h-2.5zM691.5 241.4h2.5v2.5h-2.5zM673.5 230.8h2.5v2.5h-2.5zM909.3 261.6h2.5v2.5h-2.5zM850.7 239.8h2.5v2.5h-2.5zM931.9 274.6h2.5v2.5h-2.5zM653.9 216.6h2.5v2.5h-2.5zM597.2 180.8h2.5v2.5h-2.5zM804.8 192.3h2.5v2.5h-2.5zM726.6 268.8h2.5v2.5h-2.5zM596.2 213.2h2.5v2.5h-2.5zM628.9 249.3h2.5v2.5h-2.5zM807.7 216.2h2.5v2.5h-2.5zM922.9 219.5h2.5v2.5h-2.5zM728.8 323.7h2.5v2.5h-2.5zM934.3 273.7h2.5v2.5h-2.5zM608.8 267.3h2.5v2.5h-2.5zM712.5 249.3h2.5v2.5h-2.5zM842.0 278.4h2.5v2.5h-2.5zM871.8 272.1h2.5v2.5h-2.5zM925.5 255.1h2.5v2.5h-2.5zM939.7 262.2h2.5v2.5h-2.5zM639.9 214.7h2.5v2.5h-2.5zM669.8 297.9h2.5v2.5h-2.5zM865.7 272.2h2.5v2.5h-2.5zM612.2 217.2h2.5v2.5h-2.5zM759.1 323.7h2.5v2.5h-2.5zM577.5 257.5h2.5v2.5h-2.5zM896.8 231.9h2.5v2.5h-2.5zM655.5 236.4h2.5v2.5h-2.5zM573.4 262.8h2.5v2.5h-2.5zM683.1 236.3h2.5v2.5h-2.5zM867.8 244.9h2.5v2.5h-2.5zM682.1 212.2h2.5v2.5h-2.5zM798.1 236.9h2.5v2.5h-2.5zM752.0 316.9h2.5v2.5h-2.5zM629.8 232.9h2.5v2.5h-2.5zM594.5 240.4h2.5v2.5h-2.5zM921.0 281.0h2.5v2.5h-2.5zM695.5 235.0h2.5v2.5h-2.5zM874.0 224.3h2.5v2.5h-2.5zM686.1 215.4h2.5v2.5h-2.5zM678.6 238.6h2.5v2.5h-2.5zM649.3 231.8h2.5v2.5h-2.5zM862.0 269.0h2.5v2.5h-2.5zM822.5 257.7h2.5v2.5h-2.5zM759.5 321.7h2.5v2.5h-2.5zM657.3 258.4h2.5v2.5h-2.5zM675.0 180.1h2.5v2.5h-2.5zM627.7 275.4h2.5v2.5h-2.5zM783.3 204.3h2.5v2.5h-2.5zM774.6 253.2h2.5v2.5h-2.5zM859.0 247.3h2.5v2.5h-2.5zM591.8 204.6h2.5v2.5h-2.5zM889.4 238.4h2.5v2.5h-2.5zM585.7 251.2h2.5v2.5h-2.5zM773.4 264.5h2.5v2.5h-2.5zM625.5 261.7h2.5v2.5h-2.5zM804.0 248.8h2.5v2.5h-2.5zM836.9 254.1h2.5v2.5h-2.5zM893.4 253.0h2.5v2.5h-2.5zM906.6 277.4h2.5v2.5h-2.5zM916.9 256.3h2.5v2.5h-2.5zM757.4 313.4h2.5v2.5h-2.5zM646.4 208.8h2.5v2.5h-2.5zM567.0 245.8h2.5v2.5h-2.5zM886.0 211.9h2.5v2.5h-2.5zM797.0 247.6h2.5v2.5h-2.5zM906.3 262.7h2.5v2.5h-2.5zM671.5 255.8h2.5v2.5h-2.5zM731.1 283.2h2.5v2.5h-2.5zM858.9 278.2h2.5v2.5h-2.5zM601.1 234.5h2.5v2.5h-2.5zM799.2 257.6h2.5v2.5h-2.5zM650.7 265.4h2.5v2.5h-2.5zM934.8 261.7h2.5v2.5h-2.5zM862.5 248.3h2.5v2.5h-2.5zM855.5 253.1h2.5v2.5h-2.5zM921.1 245.2h2.5v2.5h-2.5zM735.6 297.6h2.5v2.5h-2.5zM845.2 233.6h2.5v2.5h-2.5zM809.4 211.6h2.5v2.5h-2.5zM904.1 234.3h2.5v2.5h-2.5zM782.0 244.9h2.5v2.5h-2.5zM675.6 246.4h2.5v2.5h-2.5zM776.3 236.4h2.5v2.5h-2.5zM620.2 251.6h2.5v2.5h-2.5zM720.4 269.9h2.5v2.5h-2.5zM596.8 218.0h2.5v2.5h-2.5zM779.1 241.4h2.5v2.5h-2.5zM746.9 336.3h2.5v2.5h-2.5zM626.1 220.8h2.5v2.5h-2.5zM576.0 241.2h2.5v2.5h-2.5zM941.3 255.1h2.5v2.5h-2.5zM928.3 252.3h2.5v2.5h-2.5zM571.7 267.3h2.5v2.5h-2.5zM617.8 265.6h2.5v2.5h-2.5zM876.2 221.5h2.5v2.5h-2.5zM585.1 233.3h2.5v2.5h-2.5zM789.4 241.5h2.5v2.5h-2.5zM650.0 217.3h2.5v2.5h-2.5zM919.7 256.1h2.5v2.5h-2.5zM917.6 215.5h2.5v2.5h-2.5zM554.8 255.6h2.5v2.5h-2.5zM845.4 264.8h2.5v2.5h-2.5zM774.8 286.4h2.5v2.5h-2.5zM717.7 264.6h2.5v2.5h-2.5zM897.2 197.1h2.5v2.5h-2.5zM655.9 194.0h2.5v2.5h-2.5zM813.2 235.6h2.5v2.5h-2.5zM778.3 284.4h2.5v2.5h-2.5zM866.7 262.6h2.5v2.5h-2.5zM682.9 264.9h2.5v2.5h-2.5zM700.2 198.4h2.5v2.5h-2.5zM631.2 214.0h2.5v2.5h-2.5zM665.9 198.0h2.5v2.5h-2.5zM782.3 251.1h2.5v2.5h-2.5zM653.5 240.7h2.5v2.5h-2.5zM596.5 224.0h2.5v2.5h-2.5zM766.2 305.7h2.5v2.5h-2.5zM753.2 323.0h2.5v2.5h-2.5zM694.9 222.3h2.5v2.5h-2.5zM639.5 254.4h2.5v2.5h-2.5zM732.8 335.3h2.5v2.5h-2.5zM778.6 310.2h2.5v2.5h-2.5zM888.5 239.7h2.5v2.5h-2.5zM867.8 288.2h2.5v2.5h-2.5zM842.3 275.8h2.5v2.5h-2.5zM864.3 279.5h2.5v2.5h-2.5zM833.9 249.6h2.5v2.5h-2.5zM922.4 259.2h2.5v2.5h-2.5zM574.6 209.9h2.5v2.5h-2.5zM841.0 211.9h2.5v2.5h-2.5zM731.8 304.4h2.5v2.5h-2.5zM648.0 236.4h2.5v2.5h-2.5zM775.2 266.3h2.5v2.5h-2.5zM593.5 247.7h2.5v2.5h-2.5zM854.9 236.4h2.5v2.5h-2.5zM875.9 269.1h2.5v2.5h-2.5zM832.7 233.4h2.5v2.5h-2.5zM580.1 253.4h2.5v2.5h-2.5zM935.3 274.2h2.5v2.5h-2.5zM642.9 279.4h2.5v2.5h-2.5zM673.8 233.4h2.5v2.5h-2.5zM895.1 245.3h2.5v2.5h-2.5zM654.7 247.1h2.5v2.5h-2.5zM847.8 176.3h2.5v2.5h-2.5zM899.7 237.8h2.5v2.5h-2.5zM768.9 291.6h2.5v2.5h-2.5zM605.9 268.1h2.5v2.5h-2.5zM891.6 249.5h2.5v2.5h-2.5zM872.2 260.9h2.5v2.5h-2.5zM586.5 276.4h2.5v2.5h-2.5z" fill="#1cc6c6" fill-opacity="0.85"/>
<path d="M622.0 265.4h2.5v2.5h-2.5zM902.9 250.8h2.5v2.5h-2.5zM630.7 213.8h2.5v2.5h-2.5zM810.6 214.7h2.5v2.5h-2.5zM653.3 222.9h2.5v2.5h-2.5zM868.5 248.2h2.5v2.5h-2.5zM845.2 229.8h2.5v2.5h-2.5zM598.0 187.8h2.5v2.5h-2.5zM712.5 269.1h2.5v2.5h-2.5zM641.7 248.7h2.5v2.5h-2.5zM784.6 241.9h2.5v2.5h-2.5zM619.4 238.9h2.5v2.5h-2.5zM649.4 234.9h2.5v2.5h-2.5zM831.5 189.0h2.5v2.5h-2.5zM911.3 208.4h2.5v2.5h-2.5zM673.6 229.8h2.5v2.5h-2.5zM760.0 259.6h2.5v2.5h-2.5zM594.0 222.6h2.5v2.5h-2.5zM646.7 224.8h2.5v2.5h-2.5zM877.8 256.1h2.5v2.5h-2.5zM626.7 213.7h2.5v2.5h-2.5zM561.1 228.2h2.5v2.5h-2.5zM741.1 280.1h2.5v2.5h-2.5zM662.1 223.2h2.5v2.5h-2.5zM558.6 223.9h2.5v2.5h-2.5zM896.7 214.7h2.5v2.5h-2.5zM936.5 241.4h2.5v2.5h-2.5zM553.3 216.3h2.5v2.5h-2.5zM931.5 238.2h2.5v2.5h-2.5zM883.1 213.9h2.5v2.5h-2.5zM861.8 200.6h2.5v2.5h-2.5zM764.0 215.0h2.5v2.5h-2.5zM721.0 276.1h2.5v2.5h-2.5zM886.4 291.9h2.5v2.5h-2.5zM855.7 213.3h2.5v2.5h-2.5zM925.7 260.7h2.5v2.5h-2.5zM556.0 202.0h2.5v2.5h-2.5zM827.9 219.7h2.5v2.5h-2.5zM661.5 203.2h2.5v2.5h-2.5zM769.0 241.4h2.5v2.5h-2.5zM632.8 228.2h2.5v2.5h-2.5zM748.1 266.8h2.5v2.5h-2.5zM808.5 237.3h2.5v2.5h-2.5zM724.6 265.5h2.5v2.5h-2.5zM838.3 197.6h2.5v2.5h-2.5zM706.6 269.3h2.5v2.5h-2.5zM924.6 232.3h2.5v2.5h-2.5zM859.6 257.7h2.5v2.5h-2.5zM742.6 268.0h2.5v2.5h-2.5zM593.4 232.5h2.5v2.5h-2.5zM698.0 209.7h2.5v2.5h-2.5zM930.8 243.5h2.5v2.5h-2.5zM739.1 292.8h2.5v2.5h-2.5zM921.5 238.6h2.5v2.5h-2.5zM926.9 262.3h2.5v2.5h-2.5zM719.1 241.6h2.5v2.5h-2.5zM751.7 285.9h2.5v2.5h-2.5zM794.5 207.1h2.5v2.5h-2.5zM625.4 192.0h2.5v2.5h-2.5zM936.9 274.7h2.5v2.5h-2.5zM576.8 202.1h2.5v2.5h-2.5zM739.3 274.7h2.5v2.5h-2.5zM839.5 252.8h2.5v2.5h-2.5zM745.2 276.5h2.5v2.5h-2.5zM929.7 222.8h2.5v2.5h-2.5zM759.8 276.6h2.5v2.5h-2.5zM632.8 250.5h2.5v2.5h-2.5zM855.9 219.6h2.5v2.5h-2.5zM910.9 213.4h2.5v2.5h-2.5zM692.3 220.4h2.5v2.5h-2.5zM765.1 265.1h2.5v2.5h-2.5zM759.2 269.9h2.5v2.5h-2.5zM571.0 221.9h2.5v2.5h-2.5zM560.3 210.0h2.5v2.5h-2.5zM693.5 217.3h2.5v2.5h-2.5zM596.4 288.0h2.5v2.5h-2.5zM867.1 267.3h2.5v2.5h-2.5zM765.9 280.0h2.5v2.5h-2.5zM645.2 240.4h2.5v2.5h-2.5zM759.0 295.3h2.5v2.5h-2.5zM737.7 261.9h2.5v2.5h-2.5zM923.2 252.7h2.5v2.5h-2.5zM587.6 293.2h2.5v2.5h-2.5zM885.9 307.2h2.5v2.5h-2.5zM675.6 237.5h2.5v2.5h-2.5zM702.6 264.3h2.5v2.5h-2.5zM682.0 256.4h2.5v2.5h-2.5zM744.3 279.2h2.5v2.5h-2.5zM726.5 240.1h2.5v2.5h-2.5zM809.1 206.0h2.5v2.5h-2.5zM823.9 228.4h2.5v2.5h-2.5zM878.2 255.9h2.5v2.5h-2.5zM621.9 278.6h2.5v2.5h-2.5zM841.9 184.9h2.5v2.5h-2.5zM651.7 240.0h2.5v2.5h-2.5zM760.5 277.8h2.5v2.5h-2.5zM732.6 277.2h2.5v2.5h-2.5zM698.3 232.9h2.5v2.5h-2.5zM911.7 272.6h2.5v2.5h-2.5zM779.9 307.4h2.5v2.5h-2.5zM634.5 231.0h2.5v2.5h-2.5zM653.8 228.0h2.5v2.5h-2.5zM933.9 239.1h2.5v2.5h-2.5zM679.2 155.1h2.5v2.5h-2.5zM652.6 227.2h2.5v2.5h-2.5zM600.1 227.4h2.5v2.5h-2.5zM680.5 211.7h2.5v2.5h-2.5zM904.6 240.3h2.5v2.5h-2.5zM689.3 205.5h2.5v2.5h-2.5zM718.9 254.2h2.5v2.5h-2.5zM749.0 277.3h2.5v2.5h-2.5zM553.7 210.7h2.5v2.5h-2.5zM865.3 205.2h2.5v2.5h-2.5zM684.7 231.8h2.5v2.5h-2.5zM769.7 254.0h2.5v2.5h-2.5zM782.0 259.6h2.5v2.5h-2.5zM856.4 258.8h2.5v2.5h-2.5zM653.7 209.0h2.5v2.5h-2.5zM600.7 239.2h2.5v2.5h-2.5zM790.1 233.9h2.5v2.5h-2.5zM766.3 252.0h2.5v2.5h-2.5zM816.6 224.2h2.5v2.5h-2.5zM743.3 294.6h2.5v2.5h-2.5zM624.6 261.1h2.5v2.5h-2.5zM696.3 230.3h2.5v2.5h-2.5zM829.7 255.7h2.5v2.5h-2.5zM605.1 171.6h2.5v2.5h-2.5zM794.1 241.7h2.5v2.5h-2.5zM942.2 287.9h2.5v2.5h-2.5zM637.4 230.4h2.5v2.5h-2.5zM788.8 187.8h2.5v2.5h-2.5zM823.3 213.3h2.5v2.5h-2.5zM929.1 225.2h2.5v2.5h-2.5zM912.1 249.0h2.5v2.5h-2.5zM774.2 262.4h2.5v2.5h-2.5zM885.9 273.0h2.5v2.5h-2.5zM752.2 279.0h2.5v2.5h-2.5zM808.6 230.3h2.5v2.5h-2.5zM719.2 243.4h2.5v2.5h-2.5zM776.0 255.3h2.5v2.5h-2.5zM906.9 225.3h2.5v2.5h-2.5zM642.4 229.6h2.5v2.5h-2.5zM806.0 183.9h2.5v2.5h-2.5zM813.4 282.7h2.5v2.5h-2.5zM902.7 211.0h2.5v2.5h-2.5zM694.4 256.6h2.5v2.5h-2.5zM683.3 263.4h2.5v2.5h-2.5zM568.9 249.3h2.5v2.5h-2.5zM712.0 213.4h2.5v2.5h-2.5zM704.0 269.0h2.5v2.5h-2.5zM697.4 244.4h2.5v2.5h-2.5zM819.5 247.2h2.5v2.5h-2.5zM844.3 222.2h2.5v2.5h-2.5zM842.3 241.8h2.5v2.5h-2.5zM931.5 238.8h2.5v2.5h-2.5zM624.9 215.5h2.5v2.5h-2.5zM640.1 204.5h2.5v2.5h-2.5zM865.3 270.9h2.5v2.5h-2.5zM707.2 238.4h2.5v2.5h-2.5zM859.0 207.9h2.5v2.5h-2.5zM899.1 251.5h2.5v2.5h-2.5zM587.7 199.7h2.5v2.5h-2.5zM603.5 258.3h2.5v2.5h-2.5zM750.7 302.1h2.5v2.5h-2.5zM829.3 227.3h2.5v2.5h-2.5zM779.7 238.0h2.5v2.5h-2.5zM726.2 300.0h2.5v2.5h-2.5zM587.9 257.1h2.5v2.5h-2.5zM804.1 225.4h2.5v2.5h-2.5zM888.6 217.0h2.5v2.5h-2.5zM893.3 222.2h2.5v2.5h-2.5zM928.8 230.1h2.5v2.5h-2.5zM612.8 234.1h2.5v2.5h-2.5zM674.9 259.6h2.5v2.5h-2.5zM576.8 247.4h2.5v2.5h-2.5zM814.8 248.6h2.5v2.5h-2.5zM726.4 242.3h2.5v2.5h-2.5zM673.6 234.6h2.5v2.5h-2.5zM881.3 236.7h2.5v2.5h-2.5zM601.8 224.0h2.5v2.5h-2.5zM839.0 245.3h2.5v2.5h-2.5zM600.8 238.5h2.5v2.5h-2.5zM870.0 204.9h2.5v2.5h-2.5zM757.1 258.5h2.5v2.5h-2.5zM600.9 221.6h2.5v2.5h-2.5zM582.0 212.5h2.5v2.5h-2.5zM748.4 278.6h2.5v2.5h-2.5zM560.0 238.1h2.5v2.5h-2.5zM812.1 235.3h2.5v2.5h-2.5zM698.7 250.9h2.5v2.5h-2.5zM772.1 249.1h2.5v2.5h-2.5zM626.5 221.8h2.5v2.5h-2.5zM629.6 254.6h2.5v2.5h-2.5zM722.9 254.5h2.5v2.5h-2.5zM620.3 232.1h2.5v2.5h-2.5zM671.8 167.5h2.5v2.5h-2.5zM738.5 285.1h2.5v2.5h-2.5zM894.5 225.4h2.5v2.5h-2.5zM795.5 245.0h2.5v2.5h-2.5zM908.2 196.1h2.5v2.5h-2.5zM707.7 249.7h2.5v2.5h-2.5zM623.9 234.1h2.5v2.5h-2.5zM611.3 255.1h2.5v2.5h-2.5zM559.4 220.8h2.5v2.5h-2.5zM613.5 299.8h2.5v2.5h-2.5zM705.3 253.2h2.5v2.5h-2.5zM614.0 214.9h2.5v2.5h-2.5zM715.5 202.8h2.5v2.5h-2.5zM684.0 234.1h2.5v2.5h-2.5zM583.6 255.4h2.5v2.5h-2.5zM557.7 236.0h2.5v2.5h-2.5zM901.1 237.7h2.5v2.5h-2.5zM569.5 241.4h2.5v2.5h-2.5zM662.1 281.6h2.5v2.5h-2.5zM756.1 241.6h2.5v2.5h-2.5zM694.4 202.3h2.5v2.5h-2.5zM568.9 239.3h2.5v2.5h-2.5zM559.9 208.8h2.5v2.5h-2.5zM816.8 253.3h2.5v2.5h-2.5zM866.0 265.7h2.5v2.5h-2.5z" fill="#f8605c" fill-opacity="0.85"/>
<path d="M722.1 210.4h2.5v2.5h-2.5zM828.7 232.7h2.5v2.5h-2.5zM816.0 165.3h2.5v2.5h-2.5zM761.0 266.1h2.5v2.5h-2.5zM729.8 266.2h2.5v2.5h-2.5zM839.1 242.8h2.5v2.5h-2.5zM868.6 230.9h2.5v2.5h-2.5zM850.8 236.5h2.5v2.5h-2.5zM619.4 254.3h2.5v2.5h-2.5zM806.9 221.0h2.5v2.5h-2.5zM706.5 261.8h2.5v2.5h-2.5zM781.8 244.2h2.5v2.5h-2.5zM804.2 202.9h2.5v2.5h-2.5zM834.3 243.9h2.5v2.5h-2.5zM609.5 237.2h2.5v2.5h-2.5zM834.5 223.8h2.5v2.5h-2.5zM560.3 204.9h2.5v2.5h-2.5zM808.2 239.3h2.5v2.5h-2.5zM834.7 218.2h2.5v2.5h-2.5zM820.4 209.3h2.5v2.5h-2.5zM787.2 236.8h2.5v2.5h-2.5zM821.0 264.3h2.5v2.5h-2.5zM698.2 234.5h2.5v2.5h-2.5zM754.2 270.3h2.5v2.5h-2.5zM774.1 243.7h2.5v2.5h-2.5zM616.7 232.5h2.5v2.5h-2.5zM609.1 259.1h2.5v2.5h-2.5zM751.9 299.2h2.5v2.5h-2.5zM833.8 223.9h2.5v2.5h-2.5zM856.4 242.1h2.5v2.5h-2.5zM903.8 223.1h2.5v2.5h-2.5zM806.0 253.7h2.5v2.5h-2.5zM601.4 249.7h2.5v2.5h-2.5zM750.5 291.7h2.5v2.5h-2.5zM660.7 225.2h2.5v2.5h-2.5zM789.0 269.3h2.5v2.5h-2.5zM735.3 283.5h2.5v2.5h-2.5zM627.1 256.4h2.5v2.5h-2.5zM579.3 247.6h2.5v2.5h-2.5zM596.4 225.9h2.5v2.5h-2.5zM826.2 167.8h2.5v2.5h-2.5zM722.2 275.4h2.5v2.5h-2.5zM855.3 230.0h2.5v2.5h-2.5zM661.7 176.0h2.5v2.5h-2.5zM778.0 268.6h2.5v2.5h-2.5zM867.9 223.4h2.5v2.5h-2.5zM566.7 234.9h2.5v2.5h-2.5zM818.3 206.2h2.5v2.5h-2.5zM692.7 237.3h2.5v2.5h-2.5zM788.1 241.5h2.5v2.5h-2.5zM555.2 237.5h2.5v2.5h-2.5zM704.1 266.0h2.5v2.5h-2.5zM928.5 200.6h2.5v2.5h-2.5zM854.3 258.9h2.5v2.5h-2.5zM586.6 225.0h2.5v2.5h-2.5zM856.8 264.1h2.5v2.5h-2.5zM782.8 283.3h2.5v2.5h-2.5zM565.5 235.1h2.5v2.5h-2.5zM850.9 254.1h2.5v2.5h-2.5zM735.8 259.2h2.5v2.5h-2.5zM879.9 198.5h2.5v2.5h-2.5zM575.0 211.9h2.5v2.5h-2.5zM936.3 225.2h2.5v2.5h-2.5zM690.3 219.4h2.5v2.5h-2.5zM832.0 200.9h2.5v2.5h-2.5zM768.5 254.9h2.5v2.5h-2.5zM706.6 230.7h2.5v2.5h-2.5zM768.1 242.8h2.5v2.5h-2.5zM612.6 261.5h2.5v2.5h-2.5zM717.5 209.4h2.5v2.5h-2.5zM794.2 203.6h2.5v2.5h-2.5zM619.4 203.8h2.5v2.5h-2.5zM650.6 254.9h2.5v2.5h-2.5zM577.0 237.3h2.5v2.5h-2.5zM849.3 210.5h2.5v2.5h-2.5zM681.8 185.6h2.5v2.5h-2.5zM860.1 207.9h2.5v2.5h-2.5zM669.9 250.4h2.5v2.5h-2.5zM743.5 271.7h2.5v2.5h-2.5zM565.6 209.2h2.5v2.5h-2.5zM664.8 225.9h2.5v2.5h-2.5zM863.0 232.7h2.5v2.5h-2.5zM832.0 266.7h2.5v2.5h-2.5zM616.1 220.3h2.5v2.5h-2.5zM912.0 268.1h2.5v2.5h-2.5zM622.5 233.4h2.5v2.5h-2.5zM829.3 251.9h2.5v2.5h-2.5zM787.7 258.6h2.5v2.5h-2.5zM632.8 254.4h2.5v2.5h-2.5zM940.5 236.9h2.5v2.5h-2.5zM577.2 258.5h2.5v2.5h-2.5zM620.7 219.1h2.5v2.5h-2.5zM892.7 230.6h2.5v2.5h-2.5zM900.1 270.4h2.5v2.5h-2.5zM645.3 205.4h2.5v2.5h-2.5zM718.5 273.0h2.5v2.5h-2.5zM758.4 283.1h2.5v2.5h-2.5zM686.4 189.5h2.5v2.5h-2.5zM876.7 237.3h2.5v2.5h-2.5zM595.9 218.3h2.5v2.5h-2.5zM805.2 223.4h2.5v2.5h-2.5zM853.3 259.0h2.5v2.5h-2.5zM893.9 194.9h2.5v2.5h-2.5zM692.0 245.5h2.5v2.5h-2.5zM647.5 253.3h2.5v2.5h-2.5zM700.1 208.4h2.5v2.5h-2.5zM658.0 239.8h2.5v2.5h-2.5zM922.1 275.8h2.5v2.5h-2.5zM914.5 290.3h2.5v2.5h-2.5zM727.8 237.0h2.5v2.5h-2.5zM711.6 275.2h2.5v2.5h-2.5zM630.1 194.6h2.5v2.5h-2.5zM807.2 234.6h2.5v2.5h-2.5zM702.8 260.3h2.5v2.5h-2.5zM914.6 195.5h2.5v2.5h-2.5zM792.0 254.5h2.5v2.5h-2.5zM673.1 201.4h2.5v2.5h-2.5zM926.4 267.7h2.5v2.5h-2.5zM781.0 285.8h2.5v2.5h-2.5zM732.4 257.2h2.5v2.5h-2.5zM776.6 240.9h2.5v2.5h-2.5zM649.0 251.6h2.5v2.5h-2.5zM703.8 228.6h2.5v2.5h-2.5zM837.0 221.6h2.5v2.5h-2.5zM915.8 246.1h2.5v2.5h-2.5zM800.3 253.2h2.5v2.5h-2.5zM749.6 259.7h2.5v2.5h-2.5zM926.6 223.7h2.5v2.5h-2.5zM590.6 225.3h2.5v2.5h-2.5zM825.8 216.7h2.5v2.5h-2.5zM581.7 228.3h2.5v2.5h-2.5zM566.5 201.2h2.5v2.5h-2.5zM653.1 272.8h2.5v2.5h-2.5zM670.5 219.2h2.5v2.5h-2.5zM856.6 243.3h2.5v2.5h-2.5zM647.4 232.0h2.5v2.5h-2.5zM591.6 197.6h2.5v2.5h-2.5zM646.2 236.6h2.5v2.5h-2.5zM790.2 201.5h2.5v2.5h-2.5zM776.9 223.7h2.5v2.5h-2.5zM712.5 219.0h2.5v2.5h-2.5zM586.5 194.7h2.5v2.5h-2.5zM679.2 227.5h2.5v2.5h-2.5zM905.3 257.7h2.5v2.5h-2.5zM688.6 225.6h2.5v2.5h-2.5zM813.3 217.9h2.5v2.5h-2.5zM592.3 236.6h2.5v2.5h-2.5zM620.5 193.5h2.5v2.5h-2.5zM940.8 283.0h2.5v2.5h-2.5zM597.6 274.7h2.5v2.5h-2.5zM767.8 277.3h2.5v2.5h-2.5zM566.4 273.2h2.5v2.5h-2.5zM672.7 250.2h2.5v2.5h-2.5zM701.1 249.7h2.5v2.5h-2.5zM662.8 214.9h2.5v2.5h-2.5zM758.7 268.0h2.5v2.5h-2.5zM774.0 260.0h2.5v2.5h-2.5zM922.5 268.3h2.5v2.5h-2.5zM719.6 217.5h2.5v2.5h-2.5zM576.8 249.3h2.5v2.5h-2.5zM927.2 266.1h2.5v2.5h-2.5zM747.7 278.7h2.5v2.5h-2.5zM598.6 229.4h2.5v2.5h-2.5zM716.5 258.1h2.5v2.5h-2.5zM602.5 268.0h2.5v2.5h-2.5zM767.8 256.0h2.5v2.5h-2.5zM569.3 219.9h2.5v2.5h-2.5zM560.9 211.4h2.5v2.5h-2.5zM603.0 184.2h2.5v2.5h-2.5zM842.9 216.3h2.5v2.5h-2.5zM700.2 245.0h2.5v2.5h-2.5zM767.2 250.9h2.5v2.5h-2.5zM630.3 257.7h2.5v2.5h-2.5zM675.5 295.3h2.5v2.5h-2.5zM894.2 247.3h2.5v2.5h-2.5zM771.0 252.1h2.5v2.5h-2.5zM842.7 230.4h2.5v2.5h-2.5zM874.5 249.9h2.5v2.5h-2.5zM848.7 238.8h2.5v2.5h-2.5zM907.3 240.3h2.5v2.5h-2.5zM820.8 265.5h2.5v2.5h-2.5zM641.3 232.6h2.5v2.5h-2.5zM587.2 230.6h2.5v2.5h-2.5zM746.8 294.2h2.5v2.5h-2.5zM697.7 226.5h2.5v2.5h-2.5zM863.1 233.7h2.5v2.5h-2.5zM892.3 213.3h2.5v2.5h-2.5zM575.9 235.7h2.5v2.5h-2.5zM934.0 209.8h2.5v2.5h-2.5zM653.4 249.5h2.5v2.5h-2.5zM900.4 249.7h2.5v2.5h-2.5zM674.0 220.4h2.5v2.5h-2.5zM588.1 238.5h2.5v2.5h-2.5zM802.2 217.9h2.5v2.5h-2.5zM777.6 258.1h2.5v2.5h-2.5zM832.0 232.3h2.5v2.5h-2.5zM889.4 219.4h2.5v2.5h-2.5zM932.2 257.1h2.5v2.5h-2.5zM564.7 219.5h2.5v2.5h-2.5zM632.2 198.3h2.5v2.5h-2.5zM697.4 239.5h2.5v2.5h-2.5zM889.9 293.9h2.5v2.5h-2.5zM678.0 202.2h2.5v2.5h-2.5zM736.7 273.1h2.5v2.5h-2.5zM923.4 281.6h2.5v2.5h-2.5zM846.6 223.2h2.5v2.5h-2.5zM808.5 206.0h2.5v2.5h-2.5zM679.8 182.1h2.5v2.5h-2.5zM941.5 274.1h2.5v2.5h-2.5zM857.0 221.3h2.5v2.5h-2.5zM775.9 223.0h2.5v2.5h-2.5zM911.7 270.1h2.5v2.5h-2.5zM873.6 292.6h2.5v2.5h-2.5zM754.9 307.1h2.5v2.5h-2.5zM675.5 229.1h2.5v2.5h-2.5zM657.7 233.2h2.5v2.5h-2.5zM730.5 293.8h2.5v2.5h-2.5zM621.6 246.3h2.5v2.5h-2.5zM929.4 206.1h2.5v2.5h-2.5zM567.8 177.6h2.5v2.5h-2.5zM898.2 233.1h2.5v2.5h-2.5zM925.0 250.7h2.5v2.5h-2.5zM585.0 235.5h2.5v2.5h-2.5zM601.8 219.3h2.5v2.5h-2.5zM939.0 213.7h2.5v2.5h-2.5zM589.9 206.4h2.5v2.5h-2.5zM577.3 181.1h2.5v2.5h-2.5zM904.4 262.5h2.5v2.5h-2.5zM826.8 247.5h2.5v2.5h-2.5zM709.2 225.5h2.5v2.5h-2.5z" fill="#f8605c" fill-opacity="0.85"/>
<path d="M870.7 257.3h2.5v2.5h-2.5zM678.5 196.9h2.5v2.5h-2.5zM638.8 239.0h2.5v2.5h-2.5zM688.1 236.2h2.5v2.5h-2.5zM617.7 232.5h2.5v2.5h-2.5zM880.9 277.7h2.5v2.5h-2.5zM816.3 261.4h2.5v2.5h-2.5zM771.3 274.2h2.5v2.5h-2.5zM927.1 256.3h2.5v2.5h-2.5zM674.1 245.2h2.5v2.5h-2.5zM680.8 233.4h2.5v2.5h-2.5zM631.8 229.7h2.5v2.5h-2.5zM604.5 244.9h2.5v2.5h-2.5zM693.5 222.6h2.5v2.5h-2.5zM576.6 249.0h2.5v2.5h-2.5zM699.4 225.6h2.5v2.5h-2.5zM875.3 270.2h2.5v2.5h-2.5zM747.3 348.7h2.5v2.5h-2.5zM598.3 253.8h2.5v2.5h-2.5zM695.1 209.7h2.5v2.5h-2.5zM660.4 246.0h2.5v2.5h-2.5zM594.9 265.7h2.5v2.5h-2.5zM800.7 204.3h2.5v2.5h-2.5zM798.2 243.7h2.5v2.5h-2.5zM587.1 253.9h2.5v2.5h-2.5zM591.8 266.0h2.5v2.5h-2.5zM775.8 252.5h2.5v2.5h-2.5zM576.3 196.7h2.5v2.5h-2.5zM574.1 246.0h2.5v2.5h-2.5zM768.0 305.2h2.5v2.5h-2.5zM592.1 222.1h2.5v2.5h-2.5zM755.2 307.5h2.5v2.5h-2.5zM832.1 237.1h2.5v2.5h-2.5zM609.2 283.2h2.5v2.5h-2.5zM769.5 300.2h2.5v2.5h-2.5zM857.4 245.3h2.5v2.5h-2.5zM859.5 226.9h2.5v2.5h-2.5zM732.5 301.4h2.5v2.5h-2.5zM801.8 250.9h2.5v2.5h-2.5zM902.3 287.4h2.5v2.5h-2.5zM693.6 254.8h2.5v2.5h-2.5zM853.8 217.2h2.5v2.5h-2.5zM716.5 249.5h2.5v2.5h-2.5zM869.2 289.9h2.5v2.5h-2.5zM638.7 205.9h2.5v2.5h-2.5zM595.3 258.2h2.5v2.5h-2.5zM938.0 234.6h2.5v2.5h-2.5zM693.9 225.9h2.5v2.5h-2.5zM859.8 236.6h2.5v2.5h-2.5zM669.0 215.1h2.5v2.5h-2.5zM866.7 255.2h2.5v2.5h-2.5zM899.5 258.8h2.5v2.5h-2.5zM925.4 269.3h2.5v2.5h-2.5zM569.3 235.1h2.5v2.5h-2.5zM844.3 265.6h2.5v2.5h-2.5zM678.7 210.6h2.5v2.5h-2.5zM598.1 238.0h2.5v2.5h-2.5zM608.7 247.1h2.5v2.5h-2.5zM851.7 205.5h2.5v2.5h-2.5zM802.7 240.8h2.5v2.5h-2.5zM678.1 212.4h2.5v2.5h-2.5zM561.4 209.1h2.5v2.5h-2.5zM771.0 296.8h2.5v2.5h-2.5zM693.9 201.0h2.5v2.5h-2.5zM802.4 240.3h2.5v2.5h-2.5zM595.5 215.4h2.5v2.5h-2.5zM816.5 237.0h2.5v2.5h-2.5zM631.8 210.2h2.5v2.5h-2.5zM607.8 260.3h2.5v2.5h-2.5zM647.4 247.3h2.5v2.5h-2.5zM598.3 255.1h2.5v2.5h-2.5zM840.9 273.4h2.5v2.5h-2.5zM615.8 263.1h2.5v2.5h-2.5zM568.3 269.4h2.5v2.5h-2.5zM563.3 231.6h2.5v2.5h-2.5zM651.9 238.4h2.5v2.5h-2.5zM750.9 319.2h2.5v2.5h-2.5zM675.2 208.0h2.5v2.5h-2.5zM622.2 236.7h2.5v2.5h-2.5zM698.5 250.9h2.5v2.5h-2.5zM692.2 211.8h2.5v2.5h-2.5zM799.8 226.1h2.5v2.5h-2.5zM880.4 246.9h2.5v2.5h-2.5zM905.0 238.7h2.5v2.5h-2.5zM557.7 235.7h2.5v2.5h-2.5zM889.5 256.6h2.5v2.5h-2.5zM825.9 243.3h2.5v2.5h-2.5zM718.8 273.2h2.5v2.5h-2.5zM588.8 280.8h2.5v2.5h-2.5zM702.9 234.2h2.5v2.5h-2.5zM916.7 239.9h2.5v2.5h-2.5zM555.2 218.5h2.5v2.5h-2.5zM940.3 212.8h2.5v2.5h-2.5zM941.7 228.9h2.5v2.5h-2.5zM915.3 249.1h2.5v2.5h-2.5zM782.0 260.4h2.5v2.5h-2.5zM575.7 252.4h2.5v2.5h-2.5zM671.0 255.1h2.5v2.5h-2.5zM825.1 233.3h2.5v2.5h-2.5zM884.7 240.0h2.5v2.5h-2.5zM804.7 235.1h2.5v2.5h-2.5zM741.1 307.3h2.5v2.5h-2.5zM689.9 212.1h2.5v2.5h-2.5zM586.6 224.6h2.5v2.5h-2.5zM921.3 255.3h2.5v2.5h-2.5zM864.8 230.1h2.5v2.5h-2.5zM685.2 197.7h2.5v2.5h-2.5zM749.2 320.1h2.5v2.5h-2.5zM557.4 207.7h2.5v2.5h-2.5zM630.4 234.5h2.5v2.5h-2.5zM719.2 273.9h2.5v2.5h-2.5zM568.7 217.4h2.5v2.5h-2.5zM554.1 287.9h2.5v2.5h-2.5zM865.2 221.0h2.5v2.5h-2.5zM666.7 265.7h2.5v2.5h-2.5zM565.0 250.2h2.5v2.5h-2.5zM673.9 209.6h2.5v2.5h-2.5zM705.7 299.8h2.5v2.5h-2.5zM656.9 256.3h2.5v2.5h-2.5zM829.6 219.0h2.5v2.5h-2.5zM847.7 221.3h2.5v2.5h-2.5zM805.0 212.8h2.5v2.5h-2.5zM674.8 266.8h2.5v2.5h-2.5zM769.3 280.1h2.5v2.5h-2.5zM704.4 249.6h2.5v2.5h-2.5zM796.9 289.4h2.5v2.5h-2.5zM741.8 317.6h2.5v2.5h-2.5zM915.1 226.7h2.5v2.5h-2.5zM623.3 288.7h2.5v2.5h-2.5zM719.6 262.2h2.5v2.5h-2.5zM865.8 258.8h2.5v2.5h-2.5zM827.2 230.7h2.5v2.5h-2.5zM900.3 226.3h2.5v2.5h-2.5zM813.7 244.2h2.5v2.5h-2.5zM841.2 256.6h2.5v2.5h-2.5zM712.3 214.2h2.5v2.5h-2.5zM905.1 245.2h2.5v2.5h-2.5zM626.5 243.9h2.5v2.5h-2.5zM765.5 289.4h2.5v2.5h-2.5zM913.7 182.5h2.5v2.5h-2.5zM771.5 282.3h2.5v2.5h-2.5zM638.7 233.5h2.5v2.5h-2.5zM591.5 225.3h2.5v2.5h-2.5zM711.9 209.0h2.5v2.5h-2.5zM674.4 225.1h2.5v2.5h-2.5zM809.1 222.4h2.5v2.5h-2.5zM819.1 237.3h2.5v2.5h-2.5zM932.5 235.2h2.5v2.5h-2.5zM593.7 233.6h2.5v2.5h-2.5zM703.7 252.3h2.5v2.5h-2.5zM718.6 283.4h2.5v2.5h-2.5zM752.0 311.0h2.5v2.5h-2.5zM768.5 294.4h2.5v2.5h-2.5zM639.9 267.7h2.5v2.5h-2.5zM573.9 225.7h2.5v2.5h-2.5zM800.7 237.2h2.5v2.5h-2.5zM714.0 248.2h2.5v2.5h-2.5zM878.4 244.6h2.5v2.5h-2.5zM728.9 313.9h2.5v2.5h-2.5zM568.5 244.9h2.5v2.5h-2.5zM729.5 330.2h2.5v2.5h-2.5zM914.7 258.1h2.5v2.5h-2.5zM830.7 212.6h2.5v2.5h-2.5zM825.2 234.4h2.5v2.5h-2.5zM563.6 233.8h2.5v2.5h-2.5zM590.6 275.8h2.5v2.5h-2.5zM752.0 335.8h2.5v2.5h-2.5zM693.9 211.9h2.5v2.5h-2.5zM895.7 256.7h2.5v2.5h-2.5zM751.7 310.8h2.5v2.5h-2.5zM698.3 240.8h2.5v2.5h-2.5zM905.7 246.2h2.5v2.5h-2.5zM606.3 229.2h2.5v2.5h-2.5zM854.4 236.9h2.5v2.5h-2.5zM681.5 240.3h2.5v2.5h-2.5zM907.2 230.5h2.5v2.5h-2.5zM581.8 258.1h2.5v2.5h-2.5zM577.1 218.9h2.5v2.5h-2.5zM842.5 197.6h2.5v2.5h-2.5zM599.2 221.9h2.5v2.5h-2.5zM854.3 257.8h2.5v2.5h-2.5zM789.6 268.1h2.5v2.5h-2.5zM670.2 251.0h2.5v2.5h-2.5zM610.7 257.0h2.5v2.5h-2.5zM556.9 255.7h2.5v2.5h-2.5zM768.2 305.9h2.5v2.5h-2.5zM608.5 184.6h2.5v2.5h-2.5zM911.1 270.1h2.5v2.5h-2.5zM936.3 266.2h2.5v2.5h-2.5zM716.3 311.6h2.5v2.5h-2.5zM668.6 237.4h2.5v2.5h-2.5zM803.3 252.2h2.5v2.5h-2.5zM874.8 204.6h2.5v2.5h-2.5zM782.0 243.0h2.5v2.5h-2.5zM853.4 223.1h2.5v2.5h-2.5zM758.8 309.8h2.5v2.5h-2.5zM689.5 229.6h2.5v2.5h-2.5zM556.2 217.6h2.5v2.5h-2.5zM792.2 233.8h2.5v2.5h-2.5zM884.4 225.4h2.5v2.5h-2.5zM604.0 241.1h2.5v2.5h-2.5zM936.3 238.0h2.5v2.5h-2.5zM624.8 205.1h2.5v2.5h-2.5z" fill="#1cc6c6" fill-opacity="0.85"/>
<path d="M849.1 250.2h2.5v2.5h-2.5zM711.2 257.0h2.5v2.5h-2.5zM842.0 245.7h2.5v2.5h-2.5zM605.7 221.1h2.5v2.5h-2.5zM880.6 265.6h2.5v2.5h-2.5zM879.4 255.7h2.5v2.5h-2.5zM581.1 240.4h2.5v2.5h-2.5zM615.7 251.3h2.5v2.5h-2.5zM683.9 173.2h2.5v2.5h-2.5zM576.1 242.4h2.5v2.5h-2.5zM723.0 274.1h2.5v2.5h-2.5zM658.9 231.4h2.5v2.5h-2.5zM805.5 207.4h2.5v2.5h-2.5zM574.2 213.4h2.5v2.5h-2.5zM830.2 259.3h2.5v2.5h-2.5zM695.3 204.7h2.5v2.5h-2.5zM579.6 219.8h2.5v2.5h-2.5zM913.9 218.8h2.5v2.5h-2.5zM588.9 276.8h2.5v2.5h-2.5zM864.6 231.3h2.5v2.5h-2.5zM739.0 310.6h2.5v2.5h-2.5zM766.1 290.5h2.5v2.5h-2.5zM689.3 236.0h2.5v2.5h-2.5zM612.6 291.3h2.5v2.5h-2.5zM694.3 229.3h2.5v2.5h-2.5zM750.4 310.6h2.5v2.5h-2.5zM762.5 283.9h2.5v2.5h-2.5zM731.0 299.2h2.5v2.5h-2.5zM772.0 274.3h2.5v2.5h-2.5zM934.5 233.9h2.5v2.5h-2.5zM773.3 279.6h2.5v2.5h-2.5zM709.8 273.1h2.5v2.5h-2.5zM740.7 323.8h2.5v2.5h-2.5zM665.9 239.5h2.5v2.5h-2.5zM814.9 237.2h2.5v2.5h-2.5zM661.4 237.2h2.5v2.5h-2.5zM686.9 230.7h2.5v2.5h-2.5zM749.6 356.0h2.5v2.5h-2.5zM900.7 285.9h2.5v2.5h-2.5zM643.0 218.3h2.5v2.5h-2.5zM588.0 224.7h2.5v2.5h-2.5zM834.4 223.8h2.5v2.5h-2.5zM554.3 245.0h2.5v2.5h-2.5zM694.1 261.3h2.5v2.5h-2.5zM715.7 263.8h2.5v2.5h-2.5zM650.6 254.0h2.5v2.5h-2.5zM728.9 316.1h2.5v2.5h-2.5zM911.0 272.8h2.5v2.5h-2.5zM794.0 246.5h2.5v2.5h-2.5zM811.5 221.9h2.5v2.5h-2.5zM897.7 247.3h2.5v2.5h-2.5zM750.9 334.4h2.5v2.5h-2.5zM777.5 269.1h2.5v2.5h-2.5zM851.5 225.0h2.5v2.5h-2.5zM651.2 230.2h2.5v2.5h-2.5zM558.3 250.6h2.5v2.5h-2.5zM567.3 225.9h2.5v2.5h-2.5zM896.9 222.9h2.5v2.5h-2.5zM634.1 241.6h2.5v2.5h-2.5zM846.3 248.4h2.5v2.5h-2.5zM787.1 273.5h2.5v2.5h-2.5zM631.2 275.0h2.5v2.5h-2.5zM889.2 236.0h2.5v2.5h-2.5zM933.2 224.9h2.5v2.5h-2.5zM899.3 230.2h2.5v2.5h-2.5zM665.0 249.1h2.5v2.5h-2.5zM838.2 223.4h2.5v2.5h-2.5zM845.1 232.6h2.5v2.5h-2.5zM900.8 222.5h2.5v2.5h-2.5zM911.3 310.8h2.5v2.5h-2.5zM798.5 190.5h2.5v2.5h-2.5zM655.3 248.9h2.5v2.5h-2.5zM673.2 265.4h2.5v2.5h-2.5zM576.9 237.2h2.5v2.5h-2.5zM614.5 222.3h2.5v2.5h-2.5zM858.3 226.1h2.5v2.5h-2.5zM800.6 244.7h2.5v2.5h-2.5zM554.0 232.1h2.5v2.5h-2.5zM889.5 225.1h2.5v2.5h-2.5zM670.7 263.1h2.5v2.5h-2.5zM813.5 233.9h2.5v2.5h-2.5zM626.2 215.9h2.5v2.5h-2.5zM929.8 249.5h2.5v2.5h-2.5zM923.3 219.3h2.5v2.5h-2.5zM575.9 278.3h2.5v2.5h-2.5zM725.5 308.4h2.5v2.5h-2.5zM602.7 202.1h2.5v2.5h-2.5zM735.9 315.2h2.5v2.5h-2.5zM569.5 211.9h2.5v2.5h-2.5zM721.1 288.1h2.5v2.5h-2.5zM703.7 229.1h2.5v2.5h-2.5zM908.0 247.4h2.5v2.5h-2.5zM799.7 233.8h2.5v2.5h-2.5zM817.9 227.1h2.5v2.5h-2.5zM880.4 255.6h2.5v2.5h-2.5zM623.8 216.2h2.5v2.5h-2.5zM921.6 299.2h2.5v2.5h-2.5zM792.8 220.2h2.5v2.5h-2.5zM866.8 203.1h2.5v2.5h-2.5zM598.0 229.3h2.5v2.5h-2.5zM787.9 253.9h2.5v2.5h-2.5zM863.1 244.6h2.5v2.5h-2.5zM554.9 214.5h2.5v2.5h-2.5zM727.8 303.1h2.5v2.5h-2.5zM846.6 292.3h2.5v2.5h-2.5zM803.1 225.2h2.5v2.5h-2.5zM895.7 229.8h2.5v2.5h-2.5zM606.7 202.2h2.5v2.5h-2.5zM677.7 216.5h2.5v2.5h-2.5zM765.2 302.6h2.5v2.5h-2.5zM621.2 275.1h2.5v2.5h-2.5zM931.4 220.0h2.5v2.5h-2.5zM566.0 187.7h2.5v2.5h-2.5zM844.8 209.0h2.5v2.5h-2.5zM643.8 268.0h2.5v2.5h-2.5zM607.2 232.1h2.5v2.5h-2.5zM635.2 252.5h2.5v2.5h-2.5zM585.5 266.8h2.5v2.5h-2.5zM769.8 289.4h2.5v2.5h-2.5zM829.8 279.2h2.5v2.5h-2.5zM739.5 344.8h2.5v2.5h-2.5zM613.6 209.3h2.5v2.5h-2.5zM938.8 269.3h2.5v2.5h-2.5zM659.9 247.6h2.5v2.5h-2.5zM558.3 213.4h2.5v2.5h-2.5zM820.8 274.3h2.5v2.5h-2.5zM669.0 201.1h2.5v2.5h-2.5zM807.5 226.1h2.5v2.5h-2.5zM818.0 224.5h2.5v2.5h-2.5zM818.2 191.0h2.5v2.5h-2.5zM776.7 254.7h2.5v2.5h-2.5zM561.5 257.5h2.5v2.5h-2.5zM843.2 260.7h2.5v2.5h-2.5zM618.4 235.0h2.5v2.5h-2.5zM588.5 262.5h2.5v2.5h-2.5zM929.3 280.2h2.5v2.5h-2.5zM718.6 273.1h2.5v2.5h-2.5zM849.8 222.5h2.5v2.5h-2.5zM937.6 220.8h2.5v2.5h-2.5zM713.5 266.6h2.5v2.5h-2.5zM810.7 235.3h2.5v2.5h-2.5zM746.4 335.5h2.5v2.5h-2.5zM625.5 237.4h2.5v2.5h-2.5zM898.1 229.7h2.5v2.5h-2.5zM926.9 288.7h2.5v2.5h-2.5zM878.9 231.0h2.5v2.5h-2.5zM645.1 242.8h2.5v2.5h-2.5zM853.5 260.7h2.5v2.5h-2.5zM890.2 278.8h2.5v2.5h-2.5zM767.5 319.0h2.5v2.5h-2.5zM730.2 303.5h2.5v2.5h-2.5zM746.6 317.3h2.5v2.5h-2.5zM829.5 208.3h2.5v2.5h-2.5zM904.5 211.3h2.5v2.5h-2.5zM859.8 244.8h2.5v2.5h-2.5zM834.3 247.6h2.5v2.5h-2.5zM589.7 258.7h2.5v2.5h-2.5zM744.3 299.6h2.5v2.5h-2.5zM709.9 275.0h2.5v2.5h-2.5zM738.9 345.4h2.5v2.5h-2.5zM565.5 245.7h2.5v2.5h-2.5zM565.7 246.1h2.5v2.5h-2.5zM933.1 238.7h2.5v2.5h-2.5zM824.1 227.4h2.5v2.5h-2.5zM932.7 234.8h2.5v2.5h-2.5zM853.3 225.4h2.5v2.5h-2.5zM743.9 306.0h2.5v2.5h-2.5zM822.6 262.7h2.5v2.5h-2.5zM796.7 250.9h2.5v2.5h-2.5zM856.7 268.3h2.5v2.5h-2.5zM739.4 299.2h2.5v2.5h-2.5zM935.6 285.2h2.5v2.5h-2.5zM560.6 222.0h2.5v2.5h-2.5zM758.0 302.6h2.5v2.5h-2.5zM918.4 237.0h2.5v2.5h-2.5zM821.8 238.8h2.5v2.5h-2.5zM843.0 206.3h2.5v2.5h-2.5zM806.4 240.0h2.5v2.5h-2.5zM898.5 247.9h2.5v2.5h-2.5zM755.7 312.1h2.5v2.5h-2.5zM878.1 229.0h2.5v2.5h-2.5zM835.8 255.9h2.5v2.5h-2.5zM829.4 231.5h2.5v2.5h-2.5zM724.8 280.1h2.5v2.5h-2.5zM930.7 241.4h2.5v2.5h-2.5zM838.7 207.2h2.5v2.5h-2.5zM705.3 248.0h2.5v2.5h-2.5zM793.6 259.9h2.5v2.5h-2.5zM838.2 270.8h2.5v2.5h-2.5zM830.4 243.3h2.5v2.5h-2.5zM561.8 213.8h2.5v2.5h-2.5zM659.3 226.2h2.5v2.5h-2.5zM925.4 221.9h2.5v2.5h-2.5zM565.8 241.3h2.5v2.5h-2.5zM847.4 213.7h2.5v2.5h-2.5zM553.1 238.6h2.5v2.5h-2.5zM640.6 218.1h2.5v2.5h-2.5zM583.9 267.4h2.5v2.5h-2.5zM578.1 257.5h2.5v2.5h-2.5zM607.7 298.9h2.5v2.5h-2.5zM854.5 213.4h2.5v2.5h-2.5zM705.4 244.6h2.5v2.5h-2.5zM578.7 274.2h2.5v2.5h-2.5zM615.6 249.7h2.5v2.5h-2.5zM723.5 305.1h2.5v2.5h-2.5zM619.6 229.7h2.5v2.5h-2.5zM885.7 274.3h2.5v2.5h-2.5zM656.3 230.9h2.5v2.5h-2.5zM631.5 260.5h2.5v2.5h-2.5zM742.5 327.7h2.5v2.5h-2.5zM594.0 226.5h2.5v2.5h-2.5zM898.6 223.5h2.5v2.5h-2.5zM832.6 240.3h2.5v2.5h-2.5z" fill="#1cc6c6" fill-opacity="0.85"/>
<path d="M902.6 257.5h2.5v2.5h-2.5zM895.1 243.9h2.5v2.5h-2.5zM609.4 229.7h2.5v2.5h-2.5zM588.0 223.3h2.5v2.5h-2.5zM874.0 227.3h2.5v2.5h-2.5zM843.8 274.2h2.5v2.5h-2.5zM843.0 270.0h2.5v2.5h-2.5zM837.3 202.1h2.5v2.5h-2.5zM832.0 211.6h2.5v2.5h-2.5zM692.8 221.5h2.5v2.5h-2.5zM855.3 215.8h2.5v2.5h-2.5zM824.4 265.7h2.5v2.5h-2.5zM816.9 214.5h2.5v2.5h-2.5zM793.6 239.4h2.5v2.5h-2.5zM673.3 217.5h2.5v2.5h-2.5zM796.0 230.5h2.5v2.5h-2.5zM778.0 251.9h2.5v2.5h-2.5zM807.8 211.0h2.5v2.5h-2.5zM640.2 205.5h2.5v2.5h-2.5zM682.3 223.0h2.5v2.5h-2.5zM896.1 282.3h2.5v2.5h-2.5zM660.8 186.5h2.5v2.5h-2.5zM859.3 250.0h2.5v2.5h-2.5zM803.2 188.4h2.5v2.5h-2.5zM608.7 214.9h2.5v2.5h-2.5zM563.6 218.0h2.5v2.5h-2.5zM674.7 183.6h2.5v2.5h-2.5zM693.5 186.3h2.5v2.5h-2.5zM848.2 260.5h2.5v2.5h-2.5zM895.6 220.2h2.5v2.5h-2.5zM865.2 218.9h2.5v2.5h-2.5zM593.2 265.9h2.5v2.5h-2.5zM789.0 231.8h2.5v2.5h-2.5zM751.1 294.8h2.5v2.5h-2.5zM637.9 237.3h2.5v2.5h-2.5zM649.1 196.7h2.5v2.5h-2.5zM726.4 279.4h2.5v2.5h-2.5zM814.7 253.0h2.5v2.5h-2.5zM849.5 248.5h2.5v2.5h-2.5zM802.1 244.1h2.5v2.5h-2.5zM607.1 206.7h2.5v2.5h-2.5zM654.3 202.8h2.5v2.5h-2.5zM895.2 228.9h2.5v2.5h-2.5zM910.9 207.7h2.5v2.5h-2.5zM884.3 221.4h2.5v2.5h-2.5zM852.8 208.1h2.5v2.5h-2.5zM832.8 234.9h2.5v2.5h-2.5zM645.3 243.6h2.5v2.5h-2.5zM905.3 255.1h2.5v2.5h-2.5zM933.6 224.0h2.5v2.5h-2.5zM656.1 240.8h2.5v2.5h-2.5zM695.7 245.4h2.5v2.5h-2.5zM642.6 228.3h2.5v2.5h-2.5zM591.2 213.4h2.5v2.5h-2.5zM560.6 237.4h2.5v2.5h-2.5zM856.1 221.1h2.5v2.5h-2.5zM793.3 249.1h2.5v2.5h-2.5zM869.3 240.7h2.5v2.5h-2.5zM857.9 245.8h2.5v2.5h-2.5zM779.5 260.5h2.5v2.5h-2.5zM792.8 226.8h2.5v2.5h-2.5zM684.1 222.3h2.5v2.5h-2.5zM597.0 289.7h2.5v2.5h-2.5zM670.0 203.8h2.5v2.5h-2.5zM571.4 218.2h2.5v2.5h-2.5zM683.7 214.1h2.5v2.5h-2.5zM597.3 260.3h2.5v2.5h-2.5zM623.3 210.8h2.5v2.5h-2.5zM559.0 182.9h2.5v2.5h-2.5zM837.7 242.9h2.5v2.5h-2.5zM941.6 224.1h2.5v2.5h-2.5zM668.9 208.6h2.5v2.5h-2.5zM858.1 201.2h2.5v2.5h-2.5zM854.4 228.9h2.5v2.5h-2.5zM595.9 233.9h2.5v2.5h-2.5zM827.5 236.7h2.5v2.5h-2.5zM687.7 167.9h2.5v2.5h-2.5zM768.4 241.1h2.5v2.5h-2.5zM604.6 253.2h2.5v2.5h-2.5zM827.1 247.4h2.5v2.5h-2.5zM714.5 263.1h2.5v2.5h-2.5zM603.5 244.1h2.5v2.5h-2.5zM837.1 229.5h2.5v2.5h-2.5zM740.7 268.2h2.5v2.5h-2.5zM765.3 264.0h2.5v2.5h-2.5zM880.5 239.7h2.5v2.5h-2.5zM671.1 234.8h2.5v2.5h-2.5zM691.6 223.0h2.5v2.5h-2.5zM725.3 289.3h2.5v2.5h-2.5zM698.7 257.1h2.5v2.5h-2.5zM941.6 221.8h2.5v2.5h-2.5zM895.7 190.1h2.5v2.5h-2.5zM737.9 302.3h2.5v2.5h-2.5zM683.8 192.2h2.5v2.5h-2.5zM658.2 253.1h2.5v2.5h-2.5zM680.6 218.2h2.5v2.5h-2.5zM687.4 218.9h2.5v2.5h-2.5zM800.2 202.1h2.5v2.5h-2.5zM679.2 243.7h2.5v2.5h-2.5zM824.0 210.9h2.5v2.5h-2.5zM851.7 247.7h2.5v2.5h-2.5zM629.1 215.5h2.5v2.5h-2.5zM578.4 238.4h2.5v2.5h-2.5zM834.7 218.8h2.5v2.5h-2.5zM684.9 238.1h2.5v2.5h-2.5zM783.2 193.4h2.5v2.5h-2.5zM613.4 283.8h2.5v2.5h-2.5zM869.3 208.7h2.5v2.5h-2.5zM854.4 240.0h2.5v2.5h-2.5zM676.2 233.1h2.5v2.5h-2.5zM619.9 234.9h2.5v2.5h-2.5zM635.8 254.4h2.5v2.5h-2.5zM895.6 235.7h2.5v2.5h-2.5zM811.1 225.6h2.5v2.5h-2.5zM710.8 255.2h2.5v2.5h-2.5zM725.0 249.6h2.5v2.5h-2.5zM751.3 288.5h2.5v2.5h-2.5zM749.8 267.6h2.5v2.5h-2.5zM692.6 222.3h2.5v2.5h-2.5zM717.1 233.7h2.5v2.5h-2.5zM716.8 261.2h2.5v2.5h-2.5zM767.1 253.5h2.5v2.5h-2.5zM808.3 251.3h2.5v2.5h-2.5zM940.8 242.1h2.5v2.5h-2.5zM613.8 221.5h2.5v2.5h-2.5zM822.9 265.6h2.5v2.5h-2.5zM700.4 211.3h2.5v2.5h-2.5zM741.8 286.5h2.5v2.5h-2.5zM914.1 261.9h2.5v2.5h-2.5zM893.3 232.9h2.5v2.5h-2.5zM652.7 235.8h2.5v2.5h-2.5zM812.5 227.1h2.5v2.5h-2.5zM748.2 278.6h2.5v2.5h-2.5zM913.5 258.9h2.5v2.5h-2.5zM889.8 232.3h2.5v2.5h-2.5zM759.6 247.0h2.5v2.5h-2.5zM656.6 220.4h2.5v2.5h-2.5zM773.2 263.9h2.5v2.5h-2.5zM874.6 205.7h2.5v2.5h-2.5zM657.4 217.8h2.5v2.5h-2.5zM683.0 221.1h2.5v2.5h-2.5zM919.1 262.9h2.5v2.5h-2.5zM804.3 258.3h2.5v2.5h-2.5zM679.4 274.3h2.5v2.5h-2.5zM776.0 246.0h2.5v2.5h-2.5zM817.1 256.6h2.5v2.5h-2.5zM824.4 225.8h2.5v2.5h-2.5zM651.8 245.9h2.5v2.5h-2.5zM573.4 218.3h2.5v2.5h-2.5zM847.0 256.1h2.5v2.5h-2.5zM891.2 243.5h2.5v2.5h-2.5zM852.7 241.7h2.5v2.5h-2.5zM831.0 213.8h2.5v2.5h-2.5zM838.5 226.4h2.5v2.5h-2.5zM754.3 279.2h2.5v2.5h-2.5zM883.8 214.5h2.5v2.5h-2.5zM906.9 298.3h2.5v2.5h-2.5zM889.0 210.7h2.5v2.5h-2.5zM750.1 261.0h2.5v2.5h-2.5zM877.3 212.6h2.5v2.5h-2.5zM669.5 247.3h2.5v2.5h-2.5zM860.8 218.8h2.5v2.5h-2.5zM564.5 239.2h2.5v2.5h-2.5zM757.6 286.2h2.5v2.5h-2.5zM934.9 265.7h2.5v2.5h-2.5zM922.8 216.5h2.5v2.5h-2.5zM821.2 197.7h2.5v2.5h-2.5zM941.6 235.7h2.5v2.5h-2.5zM793.7 197.1h2.5v2.5h-2.5zM844.7 195.4h2.5v2.5h-2.5zM751.2 310.0h2.5v2.5h-2.5zM827.7 211.5h2.5v2.5h-2.5zM677.0 224.4h2.5v2.5h-2.5zM824.8 242.2h2.5v2.5h-2.5zM735.6 283.4h2.5v2.5h-2.5zM565.2 221.1h2.5v2.5h-2.5zM592.7 222.5h2.5v2.5h-2.5zM735.1 283.0h2.5v2.5h-2.5zM805.3 213.2h2.5v2.5h-2.5zM659.6 233.7h2.5v2.5h-2.5zM853.2 234.5h2.5v2.5h-2.5zM671.6 239.1h2.5v2.5h-2.5zM753.7 292.1h2.5v2.5h-2.5zM873.9 253.4h2.5v2.5h-2.5zM608.7 262.9h2.5v2.5h-2.5zM830.6 216.3h2.5v2.5h-2.5zM576.0 231.5h2.5v2.5h-2.5zM826.9 237.1h2.5v2.5h-2.5zM699.6 192.1h2.5v2.5h-2.5zM913.8 226.2h2.5v2.5h-2.5zM680.7 224.3h2.5v2.5h-2.5zM732.1 262.2h2.5v2.5h-2.5zM702.4 227.4h2.5v2.5h-2.5zM629.6 238.1h2.5v2.5h-2.5zM797.5 274.6h2.5v2.5h-2.5zM868.2 248.8h2.5v2.5h-2.5zM775.9 264.2h2.5v2.5h-2.5zM784.5 239.2h2.5v2.5h-2.5zM688.9 225.3h2.5v2.5h-2.5zM665.7 256.6h2.5v2.5h-2.5zM903.7 256.8h2.5v2.5h-2.5zM872.4 265.9h2.5v2.5h-2.5zM579.3 231.7h2.5v2.5h-2.5zM734.8 262.9h2.5v2.5h-2.5zM901.1 206.1h2.5v2.5h-2.5zM621.0 202.4h2.5v2.5h-2.5zM827.3 288.1h2.5v2.5h-2.5zM883.1 229.9h2.5v2.5h-2.5zM724.1 260.6h2.5v2.5h-2.5zM804.4 227.4h2.5v2.5h-2.5zM553.2 223.3h2.5v2.5h-2.5zM660.4 241.2h2.5v2.5h-2.5zM901.1 247.8h2.5v2.5h-2.5zM697.4 238.5h2.5v2.5h-2.5zM643.2 224.9h2.5v2.5h-2.5zM799.6 207.3h2.5v2.5h-2.5zM804.5 166.7h2.5v2.5h-2.5zM630.6 206.1h2.5v2.5h-2.5zM842.1 244.4h2.5v2.5h-2.5zM672.9 194.6h2.5v2.5h-2.5z" fill="#f8605c" fill-opacity="0.85"/>
<path d="M937.0 233.3h2.5v2.5h-2.5zM589.0 207.8h2.5v2.5h-2.5zM762.2 289.2h2.5v2.5h-2.5zM558.7 245.2h2.5v2.5h-2.5zM759.3 279.4h2.5v2.5h-2.5zM820.0 228.1h2.5v2.5h-2.5zM741.2 289.9h2.5v2.5h-2.5zM767.2 265.6h2.5v2.5h-2.5zM701.6 205.8h2.5v2.5h-2.5zM877.8 278.2h2.5v2.5h-2.5zM684.3 209.7h2.5v2.5h-2.5zM792.1 205.3h2.5v2.5h-2.5zM557.6 239.7h2.5v2.5h-2.5zM864.0 235.1h2.5v2.5h-2.5zM895.4 198.8h2.5v2.5h-2.5zM843.8 212.7h2.5v2.5h-2.5zM685.1 229.0h2.5v2.5h-2.5zM639.7 224.0h2.5v2.5h-2.5zM938.4 234.3h2.5v2.5h-2.5zM881.2 265.3h2.5v2.5h-2.5zM765.3 258.9h2.5v2.5h-2.5zM713.1 225.6h2.5v2.5h-2.5zM667.2 250.5h2.5v2.5h-2.5zM612.1 224.6h2.5v2.5h-2.5zM823.7 212.5h2.5v2.5h-2.5zM614.1 234.6h2.5v2.5h-2.5zM773.0 263.5h2.5v2.5h-2.5zM580.2 234.4h2.5v2.5h-2.5zM597.7 214.3h2.5v2.5h-2.5zM832.3 237.3h2.5v2.5h-2.5zM795.9 220.3h2.5v2.5h-2.5zM889.3 228.8h2.5v2.5h-2.5zM630.1 217.7h2.5v2.5h-2.5zM562.3 239.2h2.5v2.5h-2.5zM829.9 273.7h2.5v2.5h-2.5zM795.4 195.7h2.5v2.5h-2.5zM751.6 298.5h2.5v2.5h-2.5zM722.3 260.4h2.5v2.5h-2.5zM616.4 211.2h2.5v2.5h-2.5zM785.5 211.9h2.5v2.5h-2.5zM868.2 247.7h2.5v2.5h-2.5zM801.6 195.0h2.5v2.5h-2.5zM930.3 209.1h2.5v2.5h-2.5zM610.4 242.4h2.5v2.5h-2.5zM913.1 245.8h2.5v2.5h-2.5zM895.7 234.5h2.5v2.5h-2.5zM638.7 217.6h2.5v2.5h-2.5zM806.8 192.6h2.5v2.5h-2.5zM655.5 224.5h2.5v2.5h-2.5zM670.3 228.2h2.5v2.5h-2.5zM552.8 245.0h2.5v2.5h-2.5zM883.5 236.7h2.5v2.5h-2.5zM905.3 240.2h2.5v2.5h-2.5zM671.6 200.7h2.5v2.5h-2.5zM905.6 222.6h2.5v2.5h-2.5zM600.0 208.2h2.5v2.5h-2.5zM635.8 204.3h2.5v2.5h-2.5zM572.1 275.7h2.5v2.5h-2.5zM613.0 280.4h2.5v2.5h-2.5zM585.0 230.4h2.5v2.5h-2.5zM590.4 236.7h2.5v2.5h-2.5zM843.1 232.4h2.5v2.5h-2.5zM921.8 218.3h2.5v2.5h-2.5zM885.8 264.9h2.5v2.5h-2.5zM634.1 232.8h2.5v2.5h-2.5zM846.6 228.7h2.5v2.5h-2.5zM887.9 233.0h2.5v2.5h-2.5zM696.3 247.2h2.5v2.5h-2.5zM742.3 279.5h2.5v2.5h-2.5zM888.5 226.5h2.5v2.5h-2.5zM586.8 228.8h2.5v2.5h-2.5zM677.5 225.0h2.5v2.5h-2.5zM650.6 248.6h2.5v2.5h-2.5zM606.1 229.1h2.5v2.5h-2.5zM897.1 250.7h2.5v2.5h-2.5zM605.1 253.9h2.5v2.5h-2.5zM822.0 232.3h2.5v2.5h-2.5zM913.4 263.4h2.5v2.5h-2.5zM826.5 206.4h2.5v2.5h-2.5zM731.8 282.9h2.5v2.5h-2.5zM710.3 235.1h2.5v2.5h-2.5zM875.3 243.4h2.5v2.5h-2.5zM777.3 232.4h2.5v2.5h-2.5zM884.6 261.8h2.5v2.5h-2.5zM900.6 251.0h2.5v2.5h-2.5zM910.2 251.6h2.5v2.5h-2.5zM660.3 188.0h2.5v2.5h-2.5zM890.9 225.4h2.5v2.5h-2.5zM657.7 265.5h2.5v2.5h-2.5zM625.0 263.4h2.5v2.5h-2.5zM555.2 256.6h2.5v2.5h-2.5zM755.0 311.3h2.5v2.5h-2.5zM720.2 239.9h2.5v2.5h-2.5zM698.9 242.7h2.5v2.5h-2.5zM918.1 207.0h2.5v2.5h-2.5zM691.1 229.3h2.5v2.5h-2.5zM694.1 209.6h2.5v2.5h-2.5zM599.0 193.5h2.5v2.5h-2.5zM692.9 272.4h2.5v2.5h-2.5zM850.3 249.6h2.5v2.5h-2.5zM596.2 219.8h2.5v2.5h-2.5zM670.3 251.3h2.5v2.5h-2.5zM802.3 202.2h2.5v2.5h-2.5zM848.9 226.8h2.5v2.5h-2.5zM818.3 254.0h2.5v2.5h-2.5zM638.7 229.0h2.5v2.5h-2.5zM714.8 226.3h2.5v2.5h-2.5zM901.2 219.4h2.5v2.5h-2.5zM729.1 259.0h2.5v2.5h-2.5zM698.2 243.4h2.5v2.5h-2.5zM775.8 230.9h2.5v2.5h-2.5zM812.8 234.9h2.5v2.5h-2.5zM712.4 255.5h2.5v2.5h-2.5zM614.7 238.3h2.5v2.5h-2.5zM681.1 180.4h2.5v2.5h-2.5zM597.8 222.8h2.5v2.5h-2.5zM656.6 258.1h2.5v2.5h-2.5zM936.6 264.8h2.5v2.5h-2.5zM854.4 215.0h2.5v2.5h-2.5zM592.8 238.5h2.5v2.5h-2.5zM735.2 264.6h2.5v2.5h-2.5zM841.2 223.2h2.5v2.5h-2.5zM838.0 229.4h2.5v2.5h-2.5zM800.9 240.8h2.5v2.5h-2.5zM857.1 254.5h2.5v2.5h-2.5zM578.2 236.3h2.5v2.5h-2.5zM930.7 268.3h2.5v2.5h-2.5zM779.0 213.6h2.5v2.5h-2.5zM821.6 198.0h2.5v2.5h-2.5zM656.4 222.7h2.5v2.5h-2.5zM558.9 218.7h2.5v2.5h-2.5zM688.9 217.5h2.5v2.5h-2.5zM925.2 240.4h2.5v2.5h-2.5zM713.0 241.4h2.5v2.5h-2.5zM828.0 219.9h2.5v2.5h-2.5zM660.2 238.1h2.5v2.5h-2.5zM863.7 225.8h2.5v2.5h-2.5zM657.3 231.0h2.5v2.5h-2.5zM569.3 252.5h2.5v2.5h-2.5zM771.1 276.1h2.5v2.5h-2.5zM864.0 245.9h2.5v2.5h-2.5zM701.2 268.3h2.5v2.5h-2.5zM764.2 275.2h2.5v2.5h-2.5zM579.0 241.7h2.5v2.5h-2.5zM744.7 287.8h2.5v2.5h-2.5zM638.1 265.5h2.5v2.5h-2.5zM739.9 304.4h2.5v2.5h-2.5zM762.4 257.9h2.5v2.5h-2.5zM938.7 176.9h2.5v2.5h-2.5zM925.4 195.3h2.5v2.5h-2.5zM779.8 234.4h2.5v2.5h-2.5zM799.8 266.7h2.5v2.5h-2.5zM930.2 223.6h2.5v2.5h-2.5zM697.8 211.8h2.5v2.5h-2.5zM705.5 242.5h2.5v2.5h-2.5zM894.2 191.2h2.5v2.5h-2.5zM625.7 216.1h2.5v2.5h-2.5zM930.3 254.0h2.5v2.5h-2.5zM576.5 235.0h2.5v2.5h-2.5zM883.7 216.9h2.5v2.5h-2.5zM661.9 214.9h2.5v2.5h-2.5zM770.3 246.3h2.5v2.5h-2.5zM574.7 219.1h2.5v2.5h-2.5zM872.3 232.5h2.5v2.5h-2.5zM567.0 231.9h2.5v2.5h-2.5zM925.9 251.1h2.5v2.5h-2.5zM922.8 271.5h2.5v2.5h-2.5zM731.9 274.9h2.5v2.5h-2.5zM593.7 223.6h2.5v2.5h-2.5zM797.8 282.2h2.5v2.5h-2.5zM771.9 250.8h2.5v2.5h-2.5zM767.4 261.0h2.5v2.5h-2.5zM872.2 265.0h2.5v2.5h-2.5zM810.7 230.5h2.5v2.5h-2.5zM824.6 218.4h2.5v2.5h-2.5zM707.7 221.1h2.5v2.5h-2.5zM861.2 256.5h2.5v2.5h-2.5zM927.7 278.1h2.5v2.5h-2.5zM749.9 317.5h2.5v2.5h-2.5zM572.9 233.1h2.5v2.5h-2.5zM731.8 295.5h2.5v2.5h-2.5zM604.5 202.0h2.5v2.5h-2.5zM809.1 210.0h2.5v2.5h-2.5zM723.8 274.6h2.5v2.5h-2.5zM898.3 249.8h2.5v2.5h-2.5zM703.4 255.9h2.5v2.5h-2.5zM730.9 244.9h2.5v2.5h-2.5zM929.6 233.5h2.5v2.5h-2.5zM650.2 244.2h2.5v2.5h-2.5zM846.6 293.5h2.5v2.5h-2.5zM578.8 227.9h2.5v2.5h-2.5zM695.5 234.6h2.5v2.5h-2.5zM612.7 209.7h2.5v2.5h-2.5zM591.7 217.9h2.5v2.5h-2.5zM675.4 249.4h2.5v2.5h-2.5zM720.7 254.0h2.5v2.5h-2.5zM760.1 276.7h2.5v2.5h-2.5zM718.3 265.0h2.5v2.5h-2.5zM662.5 228.1h2.5v2.5h-2.5zM696.2 258.9h2.5v2.5h-2.5zM896.6 246.3h2.5v2.5h-2.5zM723.4 244.4h2.5v2.5h-2.5zM653.8 228.4h2.5v2.5h-2.5zM689.6 249.0h2.5v2.5h-2.5zM734.1 249.1h2.5v2.5h-2.5zM819.7 222.0h2.5v2.5h-2.5zM604.7 263.6h2.5v2.5h-2.5zM930.3 254.2h2.5v2.5h-2.5zM803.4 198.9h2.5v2.5h-2.5zM698.0 236.8h2.5v2.5h-2.5zM828.1 239.4h2.5v2.5h-2.5z" fill="#f8605c" fill-opacity="0.85"/>
<path d="M722.1 289.7h2.5v2.5h-2.5zM639.1 236.9h2.5v2.5h-2.5zM586.4 291.0h2.5v2.5h-2.5zM568.5 274.9h2.5v2.5h-2.5zM815.3 242.1h2.5v2.5h-2.5zM829.6 255.7h2.5v2.5h-2.5zM861.9 227.5h2.5v2.5h-2.5zM567.7 250.3h2.5v2.5h-2.5zM869.5 247.1h2.5v2.5h-2.5zM874.6 224.8h2.5v2.5h-2.5zM629.1 232.5h2.5v2.5h-2.5zM723.9 274.8h2.5v2.5h-2.5zM919.7 225.0h2.5v2.5h-2.5zM699.5 240.3h2.5v2.5h-2.5zM679.8 271.3h2.5v2.5h-2.5zM779.3 228.6h2.5v2.5h-2.5zM635.8 225.1h2.5v2.5h-2.5zM689.9 203.5h2.5v2.5h-2.5zM789.0 206.1h2.5v2.5h-2.5zM669.8 234.2h2.5v2.5h-2.5zM564.4 288.0h2.5v2.5h-2.5zM766.3 272.1h2.5v2.5h-2.5zM869.1 225.4h2.5v2.5h-2.5zM738.8 309.8h2.5v2.5h-2.5zM909.9 250.2h2.5v2.5h-2.5zM681.0 224.4h2.5v2.5h-2.5zM651.9 308.8h2.5v2.5h-2.5zM931.2 246.4h2.5v2.5h-2.5zM877.1 202.8h2.5v2.5h-2.5zM842.7 284.7h2.5v2.5h-2.5zM588.0 218.1h2.5v2.5h-2.5zM706.9 239.4h2.5v2.5h-2.5zM854.7 262.6h2.5v2.5h-2.5zM687.7 242.9h2.5v2.5h-2.5zM693.7 205.1h2.5v2.5h-2.5zM685.7 224.2h2.5v2.5h-2.5zM634.3 224.6h2.5v2.5h-2.5zM705.3 231.6h2.5v2.5h-2.5zM683.2 211.8h2.5v2.5h-2.5zM678.7 292.7h2.5v2.5h-2.5zM751.7 331.2h2.5v2.5h-2.5zM782.1 293.2h2.5v2.5h-2.5zM900.1 260.9h2.5v2.5h-2.5zM854.5 215.0h2.5v2.5h-2.5zM767.5 305.4h2.5v2.5h-2.5zM929.4 250.5h2.5v2.5h-2.5zM665.1 239.5h2.5v2.5h-2.5zM782.7 301.1h2.5v2.5h-2.5zM858.6 258.3h2.5v2.5h-2.5zM647.4 231.8h2.5v2.5h-2.5zM649.0 232.2h2.5v2.5h-2.5zM715.4 335.0h2.5v2.5h-2.5zM744.7 300.1h2.5v2.5h-2.5zM939.4 221.4h2.5v2.5h-2.5zM844.2 225.5h2.5v2.5h-2.5zM611.3 295.2h2.5v2.5h-2.5zM694.2 237.2h2.5v2.5h-2.5zM776.5 239.9h2.5v2.5h-2.5zM567.7 257.6h2.5v2.5h-2.5zM611.4 247.2h2.5v2.5h-2.5zM862.0 253.1h2.5v2.5h-2.5zM872.7 246.8h2.5v2.5h-2.5zM872.5 272.7h2.5v2.5h-2.5zM893.1 261.6h2.5v2.5h-2.5zM641.6 226.3h2.5v2.5h-2.5zM910.7 217.7h2.5v2.5h-2.5zM841.8 253.2h2.5v2.5h-2.5zM729.1 303.5h2.5v2.5h-2.5zM670.0 291.2h2.5v2.5h-2.5zM689.5 206.7h2.5v2.5h-2.5zM901.3 265.1h2.5v2.5h-2.5zM615.9 252.3h2.5v2.5h-2.5zM797.4 253.7h2.5v2.5h-2.5zM564.5 260.0h2.5v2.5h-2.5zM605.9 279.8h2.5v2.5h-2.5zM857.2 258.2h2.5v2.5h-2.5zM680.9 201.6h2.5v2.5h-2.5zM865.4 226.4h2.5v2.5h-2.5zM721.0 280.2h2.5v2.5h-2.5zM648.8 220.8h2.5v2.5h-2.5zM627.6 264.0h2.5v2.5h-2.5zM885.8 260.0h2.5v2.5h-2.5zM620.7 295.9h2.5v2.5h-2.5zM753.5 339.3h2.5v2.5h-2.5zM926.1 243.9h2.5v2.5h-2.5zM847.3 262.6h2.5v2.5h-2.5zM755.7 310.8h2.5v2.5h-2.5zM631.9 242.5h2.5v2.5h-2.5zM921.3 253.0h2.5v2.5h-2.5zM731.9 302.6h2.5v2.5h-2.5zM656.4 201.9h2.5v2.5h-2.5zM620.9 259.0h2.5v2.5h-2.5zM731.1 296.7h2.5v2.5h-2.5zM843.2 210.4h2.5v2.5h-2.5zM809.4 211.4h2.5v2.5h-2.5zM601.6 244.0h2.5v2.5h-2.5zM736.4 323.6h2.5v2.5h-2.5zM567.0 221.3h2.5v2.5h-2.5zM769.8 274.1h2.5v2.5h-2.5zM942.5 291.2h2.5v2.5h-2.5zM779.5 280.8h2.5v2.5h-2.5zM877.0 262.1h2.5v2.5h-2.5zM915.1 291.2h2.5v2.5h-2.5zM623.3 195.1h2.5v2.5h-2.5zM935.2 236.0h2.5v2.5h-2.5zM703.6 274.0h2.5v2.5h-2.5zM725.4 315.5h2.5v2.5h-2.5zM867.2 269.4h2.5v2.5h-2.5zM871.9 306.9h2.5v2.5h-2.5zM861.1 250.0h2.5v2.5h-2.5zM790.8 265.3h2.5v2.5h-2.5zM567.8 205.5h2.5v2.5h-2.5zM737.1 339.5h2.5v2.5h-2.5zM608.4 197.6h2.5v2.5h-2.5zM888.9 218.8h2.5v2.5h-2.5zM625.8 289.3h2.5v2.5h-2.5zM873.4 282.7h2.5v2.5h-2.5zM658.2 199.3h2.5v2.5h-2.5zM920.3 222.9h2.5v2.5h-2.5zM684.7 240.3h2.5v2.5h-2.5zM801.3 282.6h2.5v2.5h-2.5zM846.0 253.0h2.5v2.5h-2.5zM552.5 285.8h2.5v2.5h-2.5zM703.2 247.6h2.5v2.5h-2.5zM573.6 246.1h2.5v2.5h-2.5zM719.6 296.9h2.5v2.5h-2.5zM562.9 243.9h2.5v2.5h-2.5zM836.7 253.4h2.5v2.5h-2.5zM694.2 219.9h2.5v2.5h-2.5zM646.2 223.2h2.5v2.5h-2.5zM723.9 296.7h2.5v2.5h-2.5zM829.1 266.5h2.5v2.5h-2.5zM836.8 232.5h2.5v2.5h-2.5zM805.8 240.0h2.5v2.5h-2.5zM813.7 277.1h2.5v2.5h-2.5zM726.7 287.7h2.5v2.5h-2.5zM914.3 246.6h2.5v2.5h-2.5zM560.0 218.4h2.5v2.5h-2.5zM878.0 238.6h2.5v2.5h-2.5zM645.2 237.2h2.5v2.5h-2.5zM623.4 213.2h2.5v2.5h-2.5zM598.6 219.1h2.5v2.5h-2.5zM737.7 325.2h2.5v2.5h-2.5zM670.0 246.4h2.5v2.5h-2.5zM694.0 245.6h2.5v2.5h-2.5zM689.8 237.1h2.5v2.5h-2.5zM799.7 252.8h2.5v2.5h-2.5zM757.4 320.4h2.5v2.5h-2.5zM710.8 268.6h2.5v2.5h-2.5zM807.6 239.6h2.5v2.5h-2.5zM899.8 235.9h2.5v2.5h-2.5zM931.9 251.3h2.5v2.5h-2.5zM552.6 194.6h2.5v2.5h-2.5zM890.3 265.6h2.5v2.5h-2.5zM771.0 301.8h2.5v2.5h-2.5zM558.3 249.8h2.5v2.5h-2.5zM737.8 342.4h2.5v2.5h-2.5zM658.1 235.3h2.5v2.5h-2.5zM903.0 256.3h2.5v2.5h-2.5zM925.5 303.7h2.5v2.5h-2.5zM618.4 221.8h2.5v2.5h-2.5zM813.2 249.0h2.5v2.5h-2.5zM711.9 237.7h2.5v2.5h-2.5zM774.3 263.3h2.5v2.5h-2.5zM795.8 262.3h2.5v2.5h-2.5zM870.3 241.9h2.5v2.5h-2.5zM816.9 241.3h2.5v2.5h-2.5zM899.8 227.3h2.5v2.5h-2.5zM811.9 221.7h2.5v2.5h-2.5zM726.3 275.7h2.5v2.5h-2.5zM809.1 271.9h2.5v2.5h-2.5zM615.2 216.5h2.5v2.5h-2.5zM563.2 243.2h2.5v2.5h-2.5zM926.8 237.4h2.5v2.5h-2.5zM674.1 212.5h2.5v2.5h-2.5zM581.0 208.1h2.5v2.5h-2.5zM672.1 254.2h2.5v2.5h-2.5zM565.1 266.2h2.5v2.5h-2.5zM908.9 273.3h2.5v2.5h-2.5zM830.6 228.8h2.5v2.5h-2.5zM826.5 228.9h2.5v2.5h-2.5zM863.3 247.9h2.5v2.5h-2.5zM689.1 247.2h2.5v2.5h-2.5zM718.5 280.9h2.5v2.5h-2.5zM568.2 240.9h2.5v2.5h-2.5zM612.3 200.7h2.5v2.5h-2.5zM666.5 289.6h2.5v2.5h-2.5zM799.7 238.6h2.5v2.5h-2.5zM797.2 209.8h2.5v2.5h-2.5zM846.3 259.4h2.5v2.5h-2.5zM826.7 225.3h2.5v2.5h-2.5zM734.3 283.0h2.5v2.5h-2.5zM849.8 249.7h2.5v2.5h-2.5zM759.2 307.0h2.5v2.5h-2.5zM563.0 246.1h2.5v2.5h-2.5zM904.7 236.4h2.5v2.5h-2.5zM822.7 218.5h2.5v2.5h-2.5zM768.0 306.1h2.5v2.5h-2.5zM688.3 239.7h2.5v2.5h-2.5zM870.3 210.8h2.5v2.5h-2.5zM766.5 293.6h2.5v2.5h-2.5zM750.1 324.2h2.5v2.5h-2.5zM592.1 228.5h2.5v2.5h-2.5zM849.9 247.4h2.5v2.5h-2.5zM831.7 219.5h2.5v2.5h-2.5zM752.2 325.1h2.5v2.5h-2.5zM829.2 261.8h2.5v2.5h-2.5zM940.8 231.1h2.5v2.5h-2.5zM554.0 234.2h2.5v2.5h-2.5zM844.6 218.4h2.5v2.5h-2.5zM738.0 330.4h2.5v2.5h-2.5zM653.9 217.4h2.5v2.5h-2.5zM560.4 210.2h2.5v2.5h-2.5zM855.7 240.7h2.5v2.5h-2.5zM904.9 237.9h2.5v2.5h-2.5zM694.0 232.7h2.5v2.5h-2.5zM600.3 225.2h2.5v2.5h-2.5zM694.5 268.4h2.5v2.5h-2.5zM787.7 254.6h2.5v2.5h-2.5zM586.7 238.5h2.5v2.5h-2.5zM623.5 256.7h2.5v2.5h-2.5zM638.2 226.6h2.5v2.5h-2.5zM709.4 270.8h2.5v2.5h-2.5z" fill="#1cc6c6" fill-opacity="0.85"/>
<circle cx="749.2" cy="110.1" r="4.6" fill="#19c8c8"/>
<circle cx="749.2" cy="113.97" r="4.6" fill="#19c8c8"/>
<circle cx="749.2" cy="144.87" r="4.6" fill="#19c8c8"/>
<circle cx="749.2" cy="197.02" r="4.6" fill="#19c8c8"/>
<circle cx="749.2" cy="334.16" r="4.6" fill="#19c8c8"/>
<circle cx="749.2" cy="353.47" r="4.6" fill="#19c8c8"/>
<circle cx="749.5" cy="175.77" r="4.6" fill="#f54848"/>
<circle cx="749.5" cy="297.46" r="4.6" fill="#f54848"/>
<circle cx="749.5" cy="307.12" r="4.6" fill="#f54848"/>
<line x1="808.5" y1="368.7" x2="865.3" y2="368.7" stroke="#ff4a4a" stroke-width="5.5" stroke-linecap="round"/>
<line x1="808.5" y1="404.1" x2="865.3" y2="404.1" stroke="#00cccc" stroke-width="5.5" stroke-linecap="round"/>
<text x="875.2" y="378.6" font-size="29" fill="#000">MO</text>
<text x="875.2" y="414" font-size="29" fill="#000">moDC</text>
<text x="572.96" y="418.3" font-size="24.67" fill="#000">n=1990</text>
<text x="-1" y="638" font-size="48.5" fill="#000" font-weight="bold">c</text>
<path d="M174.4 754.4 L288.6 754.4 A114.2 114.2 0 0 0 274.09 698.69 Z" fill="#ffaaaa" stroke="#888" stroke-width="2" stroke-linejoin="round"/>
<path d="M174.4 754.4 L274.09 698.69 A114.2 114.2 0 0 0 183.96 640.6 Z" fill="#aaaaff" stroke="#888" stroke-width="2" stroke-linejoin="round"/>
<path d="M174.4 754.4 L183.96 640.6 A114.2 114.2 0 0 0 60.57 763.56 Z" fill="#ffffaa" stroke="#888" stroke-width="2" stroke-linejoin="round"/>
<path d="M174.4 754.4 L60.57 763.56 A114.2 114.2 0 0 0 73.76 808.37 Z" fill="#aaaaaa" stroke="#888" stroke-width="2" stroke-linejoin="round"/>
<path d="M174.4 754.4 L73.76 808.37 A114.2 114.2 0 0 0 288.6 754.4 Z" fill="#aaffaa" stroke="#888" stroke-width="2" stroke-linejoin="round"/>
<path d="M174.4 754.4 L259.6 754.4 A85.2 85.2 0 0 0 248.77 712.83 Z" fill="#ff0000" stroke="#000" stroke-width="1.6" stroke-linejoin="round"/>
<path d="M174.4 754.4 L248.77 712.83 A85.2 85.2 0 0 0 167.57 669.47 Z" fill="#0000ff" stroke="#000" stroke-width="1.6" stroke-linejoin="round"/>
<path d="M174.4 754.4 L167.57 669.47 A85.2 85.2 0 0 0 89.21 755.89 Z" fill="#ffff00" stroke="#000" stroke-width="1.6" stroke-linejoin="round"/>
<path d="M174.4 754.4 L89.21 755.89 A85.2 85.2 0 0 0 100.84 797.39 Z" fill="#000000" stroke="#000" stroke-width="1.6" stroke-linejoin="round"/>
<path d="M174.4 754.4 L100.84 797.39 A85.2 85.2 0 0 0 259.6 754.4 Z" fill="#00ff00" stroke="#000" stroke-width="1.6" stroke-linejoin="round"/>
<text x="91.5" y="780.5" font-size="24.5" fill="#fff">TTS</text>
<line x1="174.4" y1="868" x2="174.4" y2="886" stroke="#888" stroke-width="3.5"/>
<line x1="235.7" y1="815.6" x2="266" y2="844.6" stroke="#000" stroke-width="4"/>
<text x="235.99" y="653" font-size="24.49" fill="#0000ff">Promoter</text>
<text x="289.98" y="733" font-size="24.57" fill="#ff0000">Exon</text>
<text x="37.76" y="711" font-size="24.25" fill="#9c6b3c">Intergenic</text>
<text x="55.23" y="870" font-size="24.58" fill="#0e9a3e">Intron</text>
<text x="278.36" y="856.7" font-size="32.3" fill="#000">moDC</text>
<text x="279.21" y="884.4" font-size="32.25" fill="#000">5mC spikes</text>
<text x="161.83" y="918.5" font-size="32.89" fill="#a0a0a0">CpG</text>
<text x="161.49" y="946.5" font-size="32.49" fill="#a0a0a0">(genome)</text>
<text x="508" y="645" font-size="48.5" fill="#000" font-weight="bold">d</text>
<defs><linearGradient id="atac" x1="0" y1="0" x2="1" y2="0"><stop offset="0" stop-color="#95d3d3"/><stop offset="0.5" stop-color="#ffffff"/></linearGradient></defs>
<circle cx="859.5" cy="791.5" r="138.5" fill="url(#atac)"/>
<circle cx="742.9" cy="713.5" r="42.2" fill="#7777ff" fill-opacity="0.55"/>
<circle cx="721" cy="758.2" r="22.5" fill="#9a6ab0" fill-opacity="0.45"/>
<text x="605.28" y="643" font-size="32.3" fill="#0000dd">moDC</text>
<text x="614.15" y="675" font-size="32.3" fill="#0000dd">DMR</text>
<text x="617.54" y="707.5" font-size="23.5" fill="#0000dd">(7610)</text>
<text x="592.78" y="822" font-size="32.3" fill="#6a2a8c">moDC</text>
<text x="553.68" y="853.6" font-size="32.3" fill="#6a2a8c">5mC-spikes</text>
<text x="605.04" y="886" font-size="23.5" fill="#6a2a8c">(1990)</text>
<text x="780.43" y="864.6" font-size="31.2" fill="#139a9a">moDC ATAC</text>
<text x="797.89" y="890" font-size="24.39" fill="#139a9a">(72K regions)</text>
<text x="796.5" y="704.7" font-size="23.5" fill="#000">2584</text>
<line x1="775.8" y1="708.8" x2="796.9" y2="701.5" stroke="#000" stroke-width="2"/>
<text x="664.88" y="756.6" font-size="23.5" fill="#000">98</text>
<line x1="694.4" y1="745.7" x2="716.8" y2="739.7" stroke="#000" stroke-width="2"/>
<text x="757.5" y="781" font-size="23.5" fill="#000">107</text>
<line x1="736.8" y1="752.5" x2="754" y2="764.3" stroke="#000" stroke-width="2"/>
<text x="733.5" y="811" font-size="23.5" fill="#000">372</text>
<line x1="732.7" y1="769.7" x2="738.2" y2="790.2" stroke="#000" stroke-width="2"/>
<text x="1042" y="39.8" font-size="48.5" fill="#000" font-weight="bold">e</text>
<text x="1124.33" y="131.8" font-size="32.3" fill="#8b1a1a">MO</text>
<text x="1065.58" y="163.2" font-size="32.3" fill="#8b1a1a">5mC-spikes</text>
<text x="1116.94" y="187.5" font-size="23.5" fill="#8b1a1a">(1947)</text>
<defs><clipPath id="tealc"><circle cx="1150.8" cy="326.4" r="68.3"/></clipPath></defs>
<circle cx="1150.8" cy="326.4" r="68.3" fill="#b2eeee"/>
<circle cx="1150.7" cy="277" r="67.8" fill="#e8b6ba"/>
<circle cx="1150.7" cy="277" r="67.8" fill="#b4aaae" clip-path="url(#tealc)"/>
<text x="1135.4" y="241.8" font-size="23.5" fill="#000">929</text>
<text x="1135.4" y="306.3" font-size="23.5" fill="#000">886</text>
<text x="1128.54" y="371.4" font-size="23.5" fill="#000">1061</text>
<text x="1104.68" y="445.3" font-size="32.3" fill="#128f8f">moDC</text>
<text x="1065.58" y="477" font-size="32.3" fill="#128f8f">5mC-spikes</text>
<text x="1116.94" y="500.6" font-size="23.5" fill="#128f8f">(1990)</text>
<text x="1293.81" y="77.7" font-size="32.2" fill="#8b1a1a">CEBP</text>
<text x="1270.54" y="122" font-size="32.2" fill="#8b1a1a">KLF/SP</text>
<text x="1318.65" y="166" font-size="32.2" fill="#8b1a1a">ETS</text>
<text x="1293.81" y="269.4" font-size="32.2" fill="#000">CEBP</text>
<text x="1270.54" y="313.7" font-size="32.2" fill="#000">KLF/SP</text>
<text x="1318.65" y="357.8" font-size="32.2" fill="#000">ETS</text>
<text x="1322.03" y="401.5" font-size="32.2" fill="#000">KLF</text>
<text x="1311.52" y="496.4" font-size="32.2" fill="#128f8f">EGR</text>
<text x="1318.65" y="540.5" font-size="32.2" fill="#128f8f">ETS</text>
<text x="1397.5" y="38.4" font-size="32.3" fill="#8b1a1a">MO-specific</text>
<text x="1397.5" y="226.3" font-size="32.3" fill="#000">common</text>
<text x="1397.5" y="457.2" font-size="32.3" fill="#128f8f">moDC-specific</text>
<text transform="matrix(0.28808 0 0 0.09508 1396.82 89.11)" font-size="100" font-weight="bold" fill="#f8a300">G</text>
<text transform="matrix(0.29733 0 0 0.12305 1396.78 82.35)" font-size="100" font-weight="bold" fill="#0000e6">C</text>
<text transform="matrix(0.28976 0 0 0.15541 1397.28 73.76)" font-size="100" font-weight="bold" fill="#0ab00a">A</text>
<text transform="matrix(0.33013 0 0 0.19570 1397.63 63.06)" font-size="100" font-weight="bold" fill="#d80000">T</text>
<text transform="matrix(0.29733 0 0 0.07271 1416.82 89.13)" font-size="100" font-weight="bold" fill="#0000e6">C</text>
<text transform="matrix(0.28976 0 0 0.14390 1417.32 84.05)" font-size="100" font-weight="bold" fill="#0ab00a">A</text>
<text transform="matrix(0.33013 0 0 0.15541 1417.67 74.15)" font-size="100" font-weight="bold" fill="#d80000">T</text>
<text transform="matrix(0.28808 0 0 0.19576 1416.86 63.27)" font-size="100" font-weight="bold" fill="#f8a300">G</text>
<text transform="matrix(0.28976 0 0 0.06907 1437.36 89.2)" font-size="100" font-weight="bold" fill="#0ab00a">A</text>
<text transform="matrix(0.33013 0 0 0.16117 1437.71 84.45)" font-size="100" font-weight="bold" fill="#d80000">T</text>
<text transform="matrix(0.28808 0 0 0.15102 1436.9 73.21)" font-size="100" font-weight="bold" fill="#f8a300">G</text>
<text transform="matrix(0.29733 0 0 0.18457 1436.86 62.49)" font-size="100" font-weight="bold" fill="#0000e6">C</text>
<text transform="matrix(0.29733 0 0 0.06712 1456.9 89.13)" font-size="100" font-weight="bold" fill="#0000e6">C</text>
<text transform="matrix(0.33013 0 0 0.16117 1457.75 84.45)" font-size="100" font-weight="bold" fill="#d80000">T</text>
<text transform="matrix(0.28808 0 0 0.16220 1456.94 73.2)" font-size="100" font-weight="bold" fill="#f8a300">G</text>
<text transform="matrix(0.28976 0 0 0.17843 1457.4 61.88)" font-size="100" font-weight="bold" fill="#0ab00a">A</text>
<text transform="matrix(0.28976 0 0 0.05756 1477.44 89.2)" font-size="100" font-weight="bold" fill="#0ab00a">A</text>
<text transform="matrix(0.28808 0 0 0.11746 1476.98 85.13)" font-size="100" font-weight="bold" fill="#f8a300">G</text>
<text transform="matrix(0.29733 0 0 0.15102 1476.94 76.78)" font-size="100" font-weight="bold" fill="#0000e6">C</text>
<text transform="matrix(0.33013 0 0 0.24175 1477.79 66.23)" font-size="100" font-weight="bold" fill="#d80000">T</text>
<text transform="matrix(0.28976 0 0 0.05756 1497.48 89.2)" font-size="100" font-weight="bold" fill="#0ab00a">A</text>
<text transform="matrix(0.28808 0 0 0.16220 1497.02 85.08)" font-size="100" font-weight="bold" fill="#f8a300">G</text>
<text transform="matrix(0.33013 0 0 0.35111 1497.83 73.76)" font-size="100" font-weight="bold" fill="#d80000">T</text>
<text transform="matrix(0.28976 0 0 0.05756 1517.52 89.2)" font-size="100" font-weight="bold" fill="#0ab00a">A</text>
<text transform="matrix(0.33013 0 0 0.06907 1517.87 85.24)" font-size="100" font-weight="bold" fill="#d80000">T</text>
<text transform="matrix(0.28808 0 0 0.43627 1517.06 80.06)" font-size="100" font-weight="bold" fill="#f8a300">G</text>
<text transform="matrix(0.29733 0 0 0.55932 1537.06 88.65)" font-size="100" font-weight="bold" fill="#0000e6">C</text>
<text transform="matrix(0.28808 0 0 0.55932 1557.14 88.65)" font-size="100" font-weight="bold" fill="#f8a300">G</text>
<text transform="matrix(0.33013 0 0 0.04605 1577.99 89.2)" font-size="100" font-weight="bold" fill="#d80000">T</text>
<text transform="matrix(0.28808 0 0 0.05593 1577.18 85.98)" font-size="100" font-weight="bold" fill="#f8a300">G</text>
<text transform="matrix(0.28976 0 0 0.08634 1577.64 82.07)" font-size="100" font-weight="bold" fill="#0ab00a">A</text>
<text transform="matrix(0.29733 0 0 0.37474 1577.14 75.77)" font-size="100" font-weight="bold" fill="#0000e6">C</text>
<text transform="matrix(0.29733 0 0 0.05593 1597.18 89.15)" font-size="100" font-weight="bold" fill="#0000e6">C</text>
<text transform="matrix(0.33013 0 0 0.16117 1598.03 85.24)" font-size="100" font-weight="bold" fill="#d80000">T</text>
<text transform="matrix(0.28976 0 0 0.35687 1597.68 74.15)" font-size="100" font-weight="bold" fill="#0ab00a">A</text>
<text transform="matrix(0.33013 0 0 0.06907 1618.07 89.2)" font-size="100" font-weight="bold" fill="#d80000">T</text>
<text transform="matrix(0.29733 0 0 0.12305 1617.22 84.33)" font-size="100" font-weight="bold" fill="#0000e6">C</text>
<text transform="matrix(0.28808 0 0 0.15102 1617.26 75.59)" font-size="100" font-weight="bold" fill="#f8a300">G</text>
<text transform="matrix(0.28976 0 0 0.22448 1617.72 65.04)" font-size="100" font-weight="bold" fill="#0ab00a">A</text>
<text transform="matrix(0.28808 0 0 0.05593 1637.3 89.15)" font-size="100" font-weight="bold" fill="#f8a300">G</text>
<text transform="matrix(0.29733 0 0 0.13424 1637.26 85.11)" font-size="100" font-weight="bold" fill="#0000e6">C</text>
<text transform="matrix(0.28976 0 0 0.15541 1637.76 75.74)" font-size="100" font-weight="bold" fill="#0ab00a">A</text>
<text transform="matrix(0.33013 0 0 0.22448 1638.11 65.04)" font-size="100" font-weight="bold" fill="#d80000">T</text>
<text transform="matrix(0.28976 0 0 0.06907 1397.28 134.1)" font-size="100" font-weight="bold" fill="#0ab00a">A</text>
<text transform="matrix(0.29733 0 0 0.15102 1396.78 129.2)" font-size="100" font-weight="bold" fill="#0000e6">C</text>
<text transform="matrix(0.33013 0 0 0.16692 1397.63 118.66)" font-size="100" font-weight="bold" fill="#d80000">T</text>
<text transform="matrix(0.28808 0 0 0.17898 1396.82 107)" font-size="100" font-weight="bold" fill="#f8a300">G</text>
<text transform="matrix(0.29733 0 0 0.13983 1416.82 133.96)" font-size="100" font-weight="bold" fill="#0000e6">C</text>
<text transform="matrix(0.33013 0 0 0.17843 1417.67 124.2)" font-size="100" font-weight="bold" fill="#d80000">T</text>
<text transform="matrix(0.28808 0 0 0.24610 1416.86 111.68)" font-size="100" font-weight="bold" fill="#f8a300">G</text>
<text transform="matrix(0.33013 0 0 0.03454 1437.71 134.1)" font-size="100" font-weight="bold" fill="#d80000">T</text>
<text transform="matrix(0.28808 0 0 0.03915 1436.9 131.69)" font-size="100" font-weight="bold" fill="#f8a300">G</text>
<text transform="matrix(0.29733 0 0 0.48660 1436.86 128.48)" font-size="100" font-weight="bold" fill="#0000e6">C</text>
<text transform="matrix(0.28976 0 0 0.04605 1457.4 134.1)" font-size="100" font-weight="bold" fill="#0ab00a">A</text>
<text transform="matrix(0.29733 0 0 0.25729 1456.9 130.68)" font-size="100" font-weight="bold" fill="#0000e6">C</text>
<text transform="matrix(0.33013 0 0 0.26477 1457.75 112.72)" font-size="100" font-weight="bold" fill="#d80000">T</text>
<text transform="matrix(0.28976 0 0 0.03454 1477.44 134.1)" font-size="100" font-weight="bold" fill="#0ab00a">A</text>
<text transform="matrix(0.29733 0 0 0.52576 1476.94 131.21)" font-size="100" font-weight="bold" fill="#0000e6">C</text>
<text transform="matrix(0.33013 0 0 0.06907 1497.83 134.1)" font-size="100" font-weight="bold" fill="#d80000">T</text>
<text transform="matrix(0.29733 0 0 0.49220 1496.98 128.87)" font-size="100" font-weight="bold" fill="#0000e6">C</text>
<text transform="matrix(0.28976 0 0 0.04605 1517.52 134.1)" font-size="100" font-weight="bold" fill="#0ab00a">A</text>
<text transform="matrix(0.28808 0 0 0.51457 1517.06 130.43)" font-size="100" font-weight="bold" fill="#f8a300">G</text>
<text transform="matrix(0.33013 0 0 0.02302 1537.91 134.1)" font-size="100" font-weight="bold" fill="#d80000">T</text>
<text transform="matrix(0.29733 0 0 0.53694 1537.06 131.99)" font-size="100" font-weight="bold" fill="#0000e6">C</text>
<text transform="matrix(0.33013 0 0 0.17843 1557.95 134.1)" font-size="100" font-weight="bold" fill="#d80000">T</text>
<text transform="matrix(0.29733 0 0 0.38593 1557.1 121.45)" font-size="100" font-weight="bold" fill="#0000e6">C</text>
<text transform="matrix(0.28976 0 0 0.07483 1577.64 134.1)" font-size="100" font-weight="bold" fill="#0ab00a">A</text>
<text transform="matrix(0.33013 0 0 0.13239 1577.99 128.95)" font-size="100" font-weight="bold" fill="#d80000">T</text>
<text transform="matrix(0.29733 0 0 0.35796 1577.14 119.49)" font-size="100" font-weight="bold" fill="#0000e6">C</text>
<text transform="matrix(0.28976 0 0 0.12087 1597.68 134.1)" font-size="100" font-weight="bold" fill="#0ab00a">A</text>
<text transform="matrix(0.33013 0 0 0.14390 1598.03 125.78)" font-size="100" font-weight="bold" fill="#d80000">T</text>
<text transform="matrix(0.29733 0 0 0.30203 1597.18 115.59)" font-size="100" font-weight="bold" fill="#0000e6">C</text>
<text transform="matrix(0.28976 0 0 0.05756 1617.72 134.1)" font-size="100" font-weight="bold" fill="#0ab00a">A</text>
<text transform="matrix(0.28808 0 0 0.10627 1617.26 130.04)" font-size="100" font-weight="bold" fill="#f8a300">G</text>
<text transform="matrix(0.33013 0 0 0.13239 1618.07 122.62)" font-size="100" font-weight="bold" fill="#d80000">T</text>
<text transform="matrix(0.29733 0 0 0.26847 1617.22 113.25)" font-size="100" font-weight="bold" fill="#0000e6">C</text>
<text transform="matrix(0.28976 0 0 0.06907 1637.76 134.1)" font-size="100" font-weight="bold" fill="#0ab00a">A</text>
<text transform="matrix(0.28808 0 0 0.09508 1637.3 129.26)" font-size="100" font-weight="bold" fill="#f8a300">G</text>
<text transform="matrix(0.29733 0 0 0.15102 1637.26 122.47)" font-size="100" font-weight="bold" fill="#0000e6">C</text>
<text transform="matrix(0.33013 0 0 0.25326 1638.11 111.92)" font-size="100" font-weight="bold" fill="#d80000">T</text>
<text transform="matrix(0.33013 0 0 0.10936 1658.15 134.1)" font-size="100" font-weight="bold" fill="#d80000">T</text>
<text transform="matrix(0.28808 0 0 0.16220 1657.34 126.42)" font-size="100" font-weight="bold" fill="#f8a300">G</text>
<text transform="matrix(0.29733 0 0 0.29084 1657.3 114.81)" font-size="100" font-weight="bold" fill="#0000e6">C</text>
<text transform="matrix(0.29733 0 0 0.03288 1396.78 178.97)" font-size="100" font-weight="bold" fill="#0000e6">C</text>
<text transform="matrix(0.28808 0 0 0.09316 1396.82 176.58)" font-size="100" font-weight="bold" fill="#f8a300">G</text>
<text transform="matrix(0.33013 0 0 0.11843 1397.63 170.08)" font-size="100" font-weight="bold" fill="#d80000">T</text>
<text transform="matrix(0.28976 0 0 0.31582 1397.28 161.93)" font-size="100" font-weight="bold" fill="#0ab00a">A</text>
<text transform="matrix(0.33013 0 0 0.04512 1417.67 179)" font-size="100" font-weight="bold" fill="#d80000">T</text>
<text transform="matrix(0.28976 0 0 0.05640 1417.32 175.9)" font-size="100" font-weight="bold" fill="#0ab00a">A</text>
<text transform="matrix(0.28808 0 0 0.06576 1416.86 171.95)" font-size="100" font-weight="bold" fill="#f8a300">G</text>
<text transform="matrix(0.29733 0 0 0.38361 1416.82 166.99)" font-size="100" font-weight="bold" fill="#0000e6">C</text>
<text transform="matrix(0.33013 0 0 0.03384 1437.71 179)" font-size="100" font-weight="bold" fill="#d80000">T</text>
<text transform="matrix(0.28808 0 0 0.08768 1436.9 176.59)" font-size="100" font-weight="bold" fill="#f8a300">G</text>
<text transform="matrix(0.28976 0 0 0.43989 1437.36 170.46)" font-size="100" font-weight="bold" fill="#0ab00a">A</text>
<text transform="matrix(0.28976 0 0 0.02256 1457.4 179)" font-size="100" font-weight="bold" fill="#0ab00a">A</text>
<text transform="matrix(0.28808 0 0 0.52610 1456.94 176.93)" font-size="100" font-weight="bold" fill="#f8a300">G</text>
<text transform="matrix(0.29733 0 0 0.02192 1476.94 178.98)" font-size="100" font-weight="bold" fill="#0000e6">C</text>
<text transform="matrix(0.33013 0 0 0.02256 1477.79 177.45)" font-size="100" font-weight="bold" fill="#d80000">T</text>
<text transform="matrix(0.28808 0 0 0.50418 1476.98 175.4)" font-size="100" font-weight="bold" fill="#f8a300">G</text>
<text transform="matrix(0.29733 0 0 0.03288 1496.98 178.97)" font-size="100" font-weight="bold" fill="#0000e6">C</text>
<text transform="matrix(0.33013 0 0 0.05640 1497.83 176.67)" font-size="100" font-weight="bold" fill="#d80000">T</text>
<text transform="matrix(0.28808 0 0 0.08768 1497.02 172.71)" font-size="100" font-weight="bold" fill="#f8a300">G</text>
<text transform="matrix(0.28976 0 0 0.38349 1497.48 166.58)" font-size="100" font-weight="bold" fill="#0ab00a">A</text>
<text transform="matrix(0.29733 0 0 0.02192 1517.02 178.98)" font-size="100" font-weight="bold" fill="#0000e6">C</text>
<text transform="matrix(0.33013 0 0 0.03384 1517.87 177.45)" font-size="100" font-weight="bold" fill="#d80000">T</text>
<text transform="matrix(0.28808 0 0 0.05480 1517.06 175.07)" font-size="100" font-weight="bold" fill="#f8a300">G</text>
<text transform="matrix(0.28976 0 0 0.45117 1517.52 171.24)" font-size="100" font-weight="bold" fill="#0ab00a">A</text>
<text transform="matrix(0.28976 0 0 0.02256 1537.56 179)" font-size="100" font-weight="bold" fill="#0ab00a">A</text>
<text transform="matrix(0.28808 0 0 0.52610 1537.1 176.93)" font-size="100" font-weight="bold" fill="#f8a300">G</text>
<text transform="matrix(0.28976 0 0 0.02256 1557.6 179)" font-size="100" font-weight="bold" fill="#0ab00a">A</text>
<text transform="matrix(0.33013 0 0 0.03384 1557.95 177.45)" font-size="100" font-weight="bold" fill="#d80000">T</text>
<text transform="matrix(0.28808 0 0 0.05480 1557.14 175.07)" font-size="100" font-weight="bold" fill="#f8a300">G</text>
<text transform="matrix(0.29733 0 0 0.43841 1557.1 170.81)" font-size="100" font-weight="bold" fill="#0000e6">C</text>
<text transform="matrix(0.28976 0 0 0.02256 1577.64 179)" font-size="100" font-weight="bold" fill="#0ab00a">A</text>
<text transform="matrix(0.29733 0 0 0.05480 1577.14 177.39)" font-size="100" font-weight="bold" fill="#0000e6">C</text>
<text transform="matrix(0.28808 0 0 0.47129 1577.18 173.11)" font-size="100" font-weight="bold" fill="#f8a300">G</text>
<text transform="matrix(0.29733 0 0 0.01657 1400.98 276.88)" font-size="100" font-weight="bold" fill="#0000e6">C</text>
<text transform="matrix(0.33013 0 0 0.55127 1401.83 275.73)" font-size="100" font-weight="bold" fill="#d80000">T</text>
<text transform="matrix(0.28808 0 0 0.05523 1421.06 276.85)" font-size="100" font-weight="bold" fill="#f8a300">G</text>
<text transform="matrix(0.33013 0 0 0.51149 1421.87 272.99)" font-size="100" font-weight="bold" fill="#d80000">T</text>
<text transform="matrix(0.28976 0 0 0.15345 1441.56 276.9)" font-size="100" font-weight="bold" fill="#0ab00a">A</text>
<text transform="matrix(0.33013 0 0 0.18755 1441.91 266.34)" font-size="100" font-weight="bold" fill="#d80000">T</text>
<text transform="matrix(0.28808 0 0 0.22090 1441.1 253.22)" font-size="100" font-weight="bold" fill="#f8a300">G</text>
<text transform="matrix(0.29733 0 0 0.55225 1461.1 276.36)" font-size="100" font-weight="bold" fill="#0000e6">C</text>
<text transform="matrix(0.28808 0 0 0.55225 1481.18 276.36)" font-size="100" font-weight="bold" fill="#f8a300">G</text>
<text transform="matrix(0.28976 0 0 0.06820 1501.68 276.9)" font-size="100" font-weight="bold" fill="#0ab00a">A</text>
<text transform="matrix(0.33013 0 0 0.14208 1502.03 272.21)" font-size="100" font-weight="bold" fill="#d80000">T</text>
<text transform="matrix(0.29733 0 0 0.34792 1501.18 262.09)" font-size="100" font-weight="bold" fill="#0000e6">C</text>
<text transform="matrix(0.33013 0 0 0.02273 1522.07 276.9)" font-size="100" font-weight="bold" fill="#d80000">T</text>
<text transform="matrix(0.29733 0 0 0.07732 1521.22 275.26)" font-size="100" font-weight="bold" fill="#0000e6">C</text>
<text transform="matrix(0.28976 0 0 0.46603 1521.72 269.86)" font-size="100" font-weight="bold" fill="#0ab00a">A</text>
<text transform="matrix(0.29733 0 0 0.01657 1541.26 276.88)" font-size="100" font-weight="bold" fill="#0000e6">C</text>
<text transform="matrix(0.28976 0 0 0.55127 1541.76 275.73)" font-size="100" font-weight="bold" fill="#0ab00a">A</text>
<text transform="matrix(0.28976 0 0 0.05683 1561.8 276.9)" font-size="100" font-weight="bold" fill="#0ab00a">A</text>
<text transform="matrix(0.28808 0 0 0.14911 1561.34 272.84)" font-size="100" font-weight="bold" fill="#f8a300">G</text>
<text transform="matrix(0.29733 0 0 0.14911 1561.3 262.29)" font-size="100" font-weight="bold" fill="#0000e6">C</text>
<text transform="matrix(0.33013 0 0 0.20460 1562.15 251.88)" font-size="100" font-weight="bold" fill="#d80000">T</text>
<text transform="matrix(0.28808 0 0 0.08836 1581.38 276.81)" font-size="100" font-weight="bold" fill="#f8a300">G</text>
<text transform="matrix(0.29733 0 0 0.14911 1581.34 270.5)" font-size="100" font-weight="bold" fill="#0000e6">C</text>
<text transform="matrix(0.28976 0 0 0.15345 1581.84 260.09)" font-size="100" font-weight="bold" fill="#0ab00a">A</text>
<text transform="matrix(0.33013 0 0 0.17050 1582.19 249.53)" font-size="100" font-weight="bold" fill="#d80000">T</text>
<text transform="matrix(0.28808 0 0 0.08836 1601.42 276.81)" font-size="100" font-weight="bold" fill="#f8a300">G</text>
<text transform="matrix(0.28976 0 0 0.15345 1601.88 270.64)" font-size="100" font-weight="bold" fill="#0ab00a">A</text>
<text transform="matrix(0.29733 0 0 0.14911 1601.38 259.94)" font-size="100" font-weight="bold" fill="#0000e6">C</text>
<text transform="matrix(0.33013 0 0 0.17050 1602.23 249.53)" font-size="100" font-weight="bold" fill="#d80000">T</text>
<text transform="matrix(0.28808 0 0 0.08836 1621.46 276.81)" font-size="100" font-weight="bold" fill="#f8a300">G</text>
<text transform="matrix(0.28976 0 0 0.15345 1621.92 270.64)" font-size="100" font-weight="bold" fill="#0ab00a">A</text>
<text transform="matrix(0.29733 0 0 0.14911 1621.42 259.94)" font-size="100" font-weight="bold" fill="#0000e6">C</text>
<text transform="matrix(0.33013 0 0 0.17050 1622.27 249.53)" font-size="100" font-weight="bold" fill="#d80000">T</text>
<text transform="matrix(0.29733 0 0 0.08836 1641.46 276.81)" font-size="100" font-weight="bold" fill="#0000e6">C</text>
<text transform="matrix(0.28808 0 0 0.12702 1641.5 270.52)" font-size="100" font-weight="bold" fill="#f8a300">G</text>
<text transform="matrix(0.28976 0 0 0.17618 1641.96 261.65)" font-size="100" font-weight="bold" fill="#0ab00a">A</text>
<text transform="matrix(0.33013 0 0 0.17050 1642.31 249.53)" font-size="100" font-weight="bold" fill="#d80000">T</text>
<text transform="matrix(0.33013 0 0 0.05640 1401.83 321.1)" font-size="100" font-weight="bold" fill="#d80000">T</text>
<text transform="matrix(0.28808 0 0 0.22469 1401.02 317)" font-size="100" font-weight="bold" fill="#f8a300">G</text>
<text transform="matrix(0.28976 0 0 0.27634 1401.48 301.31)" font-size="100" font-weight="bold" fill="#0ab00a">A</text>
<text transform="matrix(0.33013 0 0 0.05640 1421.87 321.1)" font-size="100" font-weight="bold" fill="#d80000">T</text>
<text transform="matrix(0.28976 0 0 0.16355 1421.52 317.22)" font-size="100" font-weight="bold" fill="#0ab00a">A</text>
<text transform="matrix(0.28808 0 0 0.33429 1421.06 305.64)" font-size="100" font-weight="bold" fill="#f8a300">G</text>
<text transform="matrix(0.28976 0 0 0.10151 1441.56 321.1)" font-size="100" font-weight="bold" fill="#0ab00a">A</text>
<text transform="matrix(0.33013 0 0 0.14099 1441.91 314.12)" font-size="100" font-weight="bold" fill="#d80000">T</text>
<text transform="matrix(0.28808 0 0 0.31237 1441.1 304.11)" font-size="100" font-weight="bold" fill="#f8a300">G</text>
<text transform="matrix(0.33013 0 0 0.17483 1461.95 321.1)" font-size="100" font-weight="bold" fill="#d80000">T</text>
<text transform="matrix(0.28808 0 0 0.16989 1461.14 308.91)" font-size="100" font-weight="bold" fill="#f8a300">G</text>
<text transform="matrix(0.28976 0 0 0.21431 1461.6 297.04)" font-size="100" font-weight="bold" fill="#0ab00a">A</text>
<text transform="matrix(0.28976 0 0 0.25378 1481.64 321.1)" font-size="100" font-weight="bold" fill="#0ab00a">A</text>
<text transform="matrix(0.28808 0 0 0.30141 1481.18 303.35)" font-size="100" font-weight="bold" fill="#f8a300">G</text>
<text transform="matrix(0.28808 0 0 0.54802 1501.22 320.56)" font-size="100" font-weight="bold" fill="#f8a300">G</text>
<text transform="matrix(0.29733 0 0 0.54802 1521.22 320.56)" font-size="100" font-weight="bold" fill="#0000e6">C</text>
<text transform="matrix(0.28808 0 0 0.54802 1541.3 320.56)" font-size="100" font-weight="bold" fill="#f8a300">G</text>
<text transform="matrix(0.33013 0 0 0.02256 1562.15 321.1)" font-size="100" font-weight="bold" fill="#d80000">T</text>
<text transform="matrix(0.29733 0 0 0.12604 1561.3 319.42)" font-size="100" font-weight="bold" fill="#0000e6">C</text>
<text transform="matrix(0.28808 0 0 0.40005 1561.34 310.23)" font-size="100" font-weight="bold" fill="#f8a300">G</text>
<text transform="matrix(0.29733 0 0 0.05480 1581.34 321.05)" font-size="100" font-weight="bold" fill="#0000e6">C</text>
<text transform="matrix(0.28808 0 0 0.12056 1581.38 317.1)" font-size="100" font-weight="bold" fill="#f8a300">G</text>
<text transform="matrix(0.33013 0 0 0.16355 1582.19 308.68)" font-size="100" font-weight="bold" fill="#d80000">T</text>
<text transform="matrix(0.28976 0 0 0.21995 1581.84 297.43)" font-size="100" font-weight="bold" fill="#0ab00a">A</text>
<text transform="matrix(0.28808 0 0 0.15892 1401.02 365.84)" font-size="100" font-weight="bold" fill="#f8a300">G</text>
<text transform="matrix(0.29733 0 0 0.38909 1400.98 354.37)" font-size="100" font-weight="bold" fill="#0000e6">C</text>
<text transform="matrix(0.28808 0 0 0.04384 1421.06 365.96)" font-size="100" font-weight="bold" fill="#f8a300">G</text>
<text transform="matrix(0.33013 0 0 0.05640 1421.87 362.9)" font-size="100" font-weight="bold" fill="#d80000">T</text>
<text transform="matrix(0.28976 0 0 0.46245 1421.52 359.02)" font-size="100" font-weight="bold" fill="#0ab00a">A</text>
<text transform="matrix(0.28808 0 0 0.54802 1441.1 365.46)" font-size="100" font-weight="bold" fill="#f8a300">G</text>
<text transform="matrix(0.28808 0 0 0.54802 1461.14 365.46)" font-size="100" font-weight="bold" fill="#f8a300">G</text>
<text transform="matrix(0.29733 0 0 0.06576 1481.14 365.94)" font-size="100" font-weight="bold" fill="#0000e6">C</text>
<text transform="matrix(0.28976 0 0 0.49629 1481.64 361.34)" font-size="100" font-weight="bold" fill="#0ab00a">A</text>
<text transform="matrix(0.33013 0 0 0.05640 1502.03 366)" font-size="100" font-weight="bold" fill="#d80000">T</text>
<text transform="matrix(0.28976 0 0 0.50757 1501.68 362.12)" font-size="100" font-weight="bold" fill="#0ab00a">A</text>
<text transform="matrix(0.33013 0 0 0.05640 1522.07 366)" font-size="100" font-weight="bold" fill="#d80000">T</text>
<text transform="matrix(0.28976 0 0 0.12407 1521.72 362.12)" font-size="100" font-weight="bold" fill="#0ab00a">A</text>
<text transform="matrix(0.28808 0 0 0.37265 1521.26 353.22)" font-size="100" font-weight="bold" fill="#f8a300">G</text>
<text transform="matrix(0.28976 0 0 0.04512 1541.76 366)" font-size="100" font-weight="bold" fill="#0ab00a">A</text>
<text transform="matrix(0.28808 0 0 0.06576 1541.3 362.83)" font-size="100" font-weight="bold" fill="#f8a300">G</text>
<text transform="matrix(0.33013 0 0 0.19739 1542.11 358.24)" font-size="100" font-weight="bold" fill="#d80000">T</text>
<text transform="matrix(0.29733 0 0 0.24661 1541.26 344.42)" font-size="100" font-weight="bold" fill="#0000e6">C</text>
<text transform="matrix(0.33013 0 0 0.05640 1562.15 366)" font-size="100" font-weight="bold" fill="#d80000">T</text>
<text transform="matrix(0.29733 0 0 0.05480 1561.3 362.07)" font-size="100" font-weight="bold" fill="#0000e6">C</text>
<text transform="matrix(0.28976 0 0 0.07895 1561.8 358.24)" font-size="100" font-weight="bold" fill="#0ab00a">A</text>
<text transform="matrix(0.28808 0 0 0.36169 1561.34 352.45)" font-size="100" font-weight="bold" fill="#f8a300">G</text>
<text transform="matrix(0.33013 0 0 0.11279 1582.19 366)" font-size="100" font-weight="bold" fill="#d80000">T</text>
<text transform="matrix(0.29733 0 0 0.16989 1581.34 358.07)" font-size="100" font-weight="bold" fill="#0000e6">C</text>
<text transform="matrix(0.28808 0 0 0.26853 1581.38 345.95)" font-size="100" font-weight="bold" fill="#f8a300">G</text>
<text transform="matrix(0.28976 0 0 0.06768 1601.88 366)" font-size="100" font-weight="bold" fill="#0ab00a">A</text>
<text transform="matrix(0.29733 0 0 0.23565 1601.38 361.11)" font-size="100" font-weight="bold" fill="#0000e6">C</text>
<text transform="matrix(0.28808 0 0 0.24661 1601.42 344.42)" font-size="100" font-weight="bold" fill="#f8a300">G</text>
<text transform="matrix(0.28976 0 0 0.17483 1401.48 410.2)" font-size="100" font-weight="bold" fill="#0ab00a">A</text>
<text transform="matrix(0.28808 0 0 0.37813 1401.02 397.8)" font-size="100" font-weight="bold" fill="#f8a300">G</text>
<text transform="matrix(0.28808 0 0 0.54802 1421.06 409.66)" font-size="100" font-weight="bold" fill="#f8a300">G</text>
<text transform="matrix(0.28808 0 0 0.54802 1441.1 409.66)" font-size="100" font-weight="bold" fill="#f8a300">G</text>
<text transform="matrix(0.29733 0 0 0.16989 1461.1 410.03)" font-size="100" font-weight="bold" fill="#0000e6">C</text>
<text transform="matrix(0.33013 0 0 0.38913 1461.95 398.17)" font-size="100" font-weight="bold" fill="#d80000">T</text>
<text transform="matrix(0.28808 0 0 0.54802 1481.18 409.66)" font-size="100" font-weight="bold" fill="#f8a300">G</text>
<text transform="matrix(0.28976 0 0 0.17483 1501.68 410.2)" font-size="100" font-weight="bold" fill="#0ab00a">A</text>
<text transform="matrix(0.28808 0 0 0.16989 1501.22 398.01)" font-size="100" font-weight="bold" fill="#f8a300">G</text>
<text transform="matrix(0.33013 0 0 0.21431 1502.03 386.14)" font-size="100" font-weight="bold" fill="#d80000">T</text>
<text transform="matrix(0.28808 0 0 0.54802 1521.26 409.66)" font-size="100" font-weight="bold" fill="#f8a300">G</text>
<text transform="matrix(0.33013 0 0 0.15227 1542.11 410.2)" font-size="100" font-weight="bold" fill="#d80000">T</text>
<text transform="matrix(0.28808 0 0 0.40005 1541.3 399.33)" font-size="100" font-weight="bold" fill="#f8a300">G</text>
<text transform="matrix(0.29733 0 0 0.54802 1561.3 409.66)" font-size="100" font-weight="bold" fill="#0000e6">C</text>
<text transform="matrix(0.29733 0 0 0.03895 1396.78 507.16)" font-size="100" font-weight="bold" fill="#0000e6">C</text>
<text transform="matrix(0.33013 0 0 0.08590 1397.63 504.44)" font-size="100" font-weight="bold" fill="#d80000">T</text>
<text transform="matrix(0.28976 0 0 0.20044 1397.28 498.53)" font-size="100" font-weight="bold" fill="#0ab00a">A</text>
<text transform="matrix(0.28808 0 0 0.23929 1396.82 484.51)" font-size="100" font-weight="bold" fill="#f8a300">G</text>
<text transform="matrix(0.28976 0 0 0.04009 1417.32 507.2)" font-size="100" font-weight="bold" fill="#0ab00a">A</text>
<text transform="matrix(0.29733 0 0 0.07234 1416.82 504.37)" font-size="100" font-weight="bold" fill="#0000e6">C</text>
<text transform="matrix(0.33013 0 0 0.13172 1417.67 499.32)" font-size="100" font-weight="bold" fill="#d80000">T</text>
<text transform="matrix(0.28808 0 0 0.31720 1416.86 489.95)" font-size="100" font-weight="bold" fill="#f8a300">G</text>
<text transform="matrix(0.28976 0 0 0.05727 1437.36 507.2)" font-size="100" font-weight="bold" fill="#0ab00a">A</text>
<text transform="matrix(0.28808 0 0 0.17251 1436.9 503.09)" font-size="100" font-weight="bold" fill="#f8a300">G</text>
<text transform="matrix(0.33013 0 0 0.33788 1437.71 491.05)" font-size="100" font-weight="bold" fill="#d80000">T</text>
<text transform="matrix(0.28808 0 0 0.55649 1456.94 506.66)" font-size="100" font-weight="bold" fill="#f8a300">G</text>
<text transform="matrix(0.28808 0 0 0.01669 1476.98 507.18)" font-size="100" font-weight="bold" fill="#f8a300">G</text>
<text transform="matrix(0.33013 0 0 0.55550 1477.79 506.02)" font-size="100" font-weight="bold" fill="#d80000">T</text>
<text transform="matrix(0.28808 0 0 0.55649 1497.02 506.66)" font-size="100" font-weight="bold" fill="#f8a300">G</text>
<text transform="matrix(0.28808 0 0 0.55649 1517.06 506.66)" font-size="100" font-weight="bold" fill="#f8a300">G</text>
<text transform="matrix(0.28808 0 0 0.55649 1537.1 506.66)" font-size="100" font-weight="bold" fill="#f8a300">G</text>
<text transform="matrix(0.29733 0 0 0.55649 1557.1 506.66)" font-size="100" font-weight="bold" fill="#0000e6">C</text>
<text transform="matrix(0.28808 0 0 0.55649 1577.18 506.66)" font-size="100" font-weight="bold" fill="#f8a300">G</text>
<text transform="matrix(0.33013 0 0 0.04581 1598.03 507.2)" font-size="100" font-weight="bold" fill="#d80000">T</text>
<text transform="matrix(0.28808 0 0 0.51197 1597.22 503.55)" font-size="100" font-weight="bold" fill="#f8a300">G</text>
<text transform="matrix(0.29733 0 0 0.03895 1617.22 507.16)" font-size="100" font-weight="bold" fill="#0000e6">C</text>
<text transform="matrix(0.33013 0 0 0.06872 1618.07 504.44)" font-size="100" font-weight="bold" fill="#d80000">T</text>
<text transform="matrix(0.28976 0 0 0.07445 1617.72 499.71)" font-size="100" font-weight="bold" fill="#0ab00a">A</text>
<text transform="matrix(0.28808 0 0 0.37841 1617.26 494.22)" font-size="100" font-weight="bold" fill="#f8a300">G</text>
<text transform="matrix(0.28976 0 0 0.02863 1637.76 507.2)" font-size="100" font-weight="bold" fill="#0ab00a">A</text>
<text transform="matrix(0.29733 0 0 0.08347 1637.26 505.15)" font-size="100" font-weight="bold" fill="#0000e6">C</text>
<text transform="matrix(0.33013 0 0 0.10881 1638.11 499.32)" font-size="100" font-weight="bold" fill="#d80000">T</text>
<text transform="matrix(0.28808 0 0 0.33946 1637.3 491.5)" font-size="100" font-weight="bold" fill="#f8a300">G</text>
<text transform="matrix(0.33013 0 0 0.04547 1397.63 551.1)" font-size="100" font-weight="bold" fill="#d80000">T</text>
<text transform="matrix(0.29733 0 0 0.04418 1396.78 547.93)" font-size="100" font-weight="bold" fill="#0000e6">C</text>
<text transform="matrix(0.28808 0 0 0.10493 1396.82 544.74)" font-size="100" font-weight="bold" fill="#f8a300">G</text>
<text transform="matrix(0.28976 0 0 0.36941 1397.28 537.41)" font-size="100" font-weight="bold" fill="#0ab00a">A</text>
<text transform="matrix(0.33013 0 0 0.05683 1417.67 551.1)" font-size="100" font-weight="bold" fill="#d80000">T</text>
<text transform="matrix(0.28808 0 0 0.10493 1416.86 547.09)" font-size="100" font-weight="bold" fill="#f8a300">G</text>
<text transform="matrix(0.29733 0 0 0.14911 1416.82 539.62)" font-size="100" font-weight="bold" fill="#0000e6">C</text>
<text transform="matrix(0.28976 0 0 0.25006 1417.32 529.2)" font-size="100" font-weight="bold" fill="#0ab00a">A</text>
<text transform="matrix(0.29733 0 0 0.04418 1436.86 551.06)" font-size="100" font-weight="bold" fill="#0000e6">C</text>
<text transform="matrix(0.33013 0 0 0.05683 1437.71 547.97)" font-size="100" font-weight="bold" fill="#d80000">T</text>
<text transform="matrix(0.28808 0 0 0.11597 1436.9 543.95)" font-size="100" font-weight="bold" fill="#f8a300">G</text>
<text transform="matrix(0.28976 0 0 0.34668 1437.36 535.85)" font-size="100" font-weight="bold" fill="#0ab00a">A</text>
<text transform="matrix(0.28976 0 0 0.04547 1457.4 551.1)" font-size="100" font-weight="bold" fill="#0ab00a">A</text>
<text transform="matrix(0.28808 0 0 0.10493 1456.94 547.87)" font-size="100" font-weight="bold" fill="#f8a300">G</text>
<text transform="matrix(0.29733 0 0 0.40315 1456.9 540.15)" font-size="100" font-weight="bold" fill="#0000e6">C</text>
<text transform="matrix(0.33013 0 0 0.03410 1477.79 551.1)" font-size="100" font-weight="bold" fill="#d80000">T</text>
<text transform="matrix(0.28808 0 0 0.06627 1476.98 548.69)" font-size="100" font-weight="bold" fill="#f8a300">G</text>
<text transform="matrix(0.28976 0 0 0.46603 1477.44 544.06)" font-size="100" font-weight="bold" fill="#0ab00a">A</text>
<text transform="matrix(0.29733 0 0 0.05523 1496.98 551.05)" font-size="100" font-weight="bold" fill="#0000e6">C</text>
<text transform="matrix(0.28808 0 0 0.49703 1497.02 546.7)" font-size="100" font-weight="bold" fill="#f8a300">G</text>
<text transform="matrix(0.28976 0 0 0.03410 1517.52 551.1)" font-size="100" font-weight="bold" fill="#0ab00a">A</text>
<text transform="matrix(0.28808 0 0 0.51912 1517.06 548.25)" font-size="100" font-weight="bold" fill="#f8a300">G</text>
<text transform="matrix(0.29733 0 0 0.04418 1537.06 551.06)" font-size="100" font-weight="bold" fill="#0000e6">C</text>
<text transform="matrix(0.28808 0 0 0.05523 1537.1 547.92)" font-size="100" font-weight="bold" fill="#f8a300">G</text>
<text transform="matrix(0.28976 0 0 0.46603 1537.56 544.06)" font-size="100" font-weight="bold" fill="#0ab00a">A</text>
<text transform="matrix(0.29733 0 0 0.04418 1557.1 551.06)" font-size="100" font-weight="bold" fill="#0000e6">C</text>
<text transform="matrix(0.28808 0 0 0.05523 1557.14 547.92)" font-size="100" font-weight="bold" fill="#f8a300">G</text>
<text transform="matrix(0.28976 0 0 0.46603 1557.6 544.06)" font-size="100" font-weight="bold" fill="#0ab00a">A</text>
<text transform="matrix(0.29733 0 0 0.03314 1577.14 551.07)" font-size="100" font-weight="bold" fill="#0000e6">C</text>
<text transform="matrix(0.28976 0 0 0.05683 1577.64 548.75)" font-size="100" font-weight="bold" fill="#0ab00a">A</text>
<text transform="matrix(0.28808 0 0 0.46389 1577.18 544.39)" font-size="100" font-weight="bold" fill="#f8a300">G</text>
<text transform="matrix(0.28976 0 0 0.06820 1597.68 551.1)" font-size="100" font-weight="bold" fill="#0ab00a">A</text>
<text transform="matrix(0.33013 0 0 0.08525 1598.03 546.41)" font-size="100" font-weight="bold" fill="#d80000">T</text>
<text transform="matrix(0.28808 0 0 0.03314 1597.22 540.51)" font-size="100" font-weight="bold" fill="#f8a300">G</text>
<text transform="matrix(0.29733 0 0 0.37001 1597.18 537.84)" font-size="100" font-weight="bold" fill="#0000e6">C</text>
<text transform="matrix(0.29733 0 0 0.04418 1617.22 551.06)" font-size="100" font-weight="bold" fill="#0000e6">C</text>
<text transform="matrix(0.28976 0 0 0.09093 1617.72 547.97)" font-size="100" font-weight="bold" fill="#0ab00a">A</text>
<text transform="matrix(0.28808 0 0 0.41971 1617.26 541.31)" font-size="100" font-weight="bold" fill="#f8a300">G</text>
<text x="1679" y="79.1" font-size="23.7">48.4% (16.2%) <tspan font-style="italic">P</tspan>&lt;10<tspan font-size="16" dy="-8.5">-106</tspan></text>
<text x="1693.3" y="123.1" font-size="23.7">14.3% (2.0%) <tspan font-style="italic">P</tspan>&lt;10<tspan font-size="16" dy="-8.5">-62</tspan></text>
<text x="1618.7" y="167" font-size="23.7">6.1% (0.9%) <tspan font-style="italic">P</tspan>&lt;10<tspan font-size="16" dy="-8.5">-24</tspan></text>
<text x="1685.4" y="271" font-size="23.7">12.1% (0.3%) <tspan font-style="italic">P</tspan>&lt;10<tspan font-size="16" dy="-8.5">-138</tspan></text>
<text x="1623.6" y="315.6" font-size="23.7">41.4% (12.8%) <tspan font-style="italic">P</tspan>&lt;10<tspan font-size="16" dy="-8.5">-113</tspan></text>
<text x="1651" y="360" font-size="23.7">3.5% (0.2%) <tspan font-style="italic">P</tspan>&lt;10<tspan font-size="16" dy="-8.5">-27</tspan></text>
<text x="1597.5" y="403.5" font-size="23.7">6.0% (1.1%) <tspan font-style="italic">P</tspan>&lt;10<tspan font-size="16" dy="-8.5">-23</tspan></text>
<text x="1684.5" y="498" font-size="23.7">14.2% (0.7%) <tspan font-style="italic">P</tspan>&lt;10<tspan font-size="16" dy="-8.5">-109</tspan></text>
<text x="1663.3" y="542.3" font-size="23.7">3.6% (0.4%) <tspan font-style="italic">P</tspan>&lt;10<tspan font-size="16" dy="-8.5">-19</tspan></text>
<text x="1041.5" y="638" font-size="48.5" fill="#000" font-weight="bold">f</text>
<line x1="1276.9" y1="671" x2="1276.9" y2="972" stroke="#ebebeb" stroke-width="2"/>
<line x1="1339.8" y1="671" x2="1339.8" y2="972" stroke="#ebebeb" stroke-width="2"/>
<line x1="1402.9" y1="671" x2="1402.9" y2="972" stroke="#ebebeb" stroke-width="2"/>
<line x1="1466.2" y1="671" x2="1466.2" y2="972" stroke="#ebebeb" stroke-width="2"/>
<line x1="1529.3" y1="671" x2="1529.3" y2="972" stroke="#ebebeb" stroke-width="2"/>
<line x1="1592.5" y1="671" x2="1592.5" y2="972" stroke="#ebebeb" stroke-width="2"/>
<line x1="1655.8" y1="671" x2="1655.8" y2="972" stroke="#ebebeb" stroke-width="2"/>
<line x1="1719" y1="671" x2="1719" y2="972" stroke="#ebebeb" stroke-width="2"/>
<line x1="1240" y1="695.6" x2="1756" y2="695.6" stroke="#ebebeb" stroke-width="2"/>
<line x1="1240" y1="737.8" x2="1756" y2="737.8" stroke="#ebebeb" stroke-width="2"/>
<line x1="1240" y1="780" x2="1756" y2="780" stroke="#ebebeb" stroke-width="2"/>
<line x1="1240" y1="822" x2="1756" y2="822" stroke="#ebebeb" stroke-width="2"/>
<line x1="1240" y1="864.6" x2="1756" y2="864.6" stroke="#ebebeb" stroke-width="2"/>
<line x1="1240" y1="906.5" x2="1756" y2="906.5" stroke="#ebebeb" stroke-width="2"/>
<line x1="1240" y1="948" x2="1756" y2="948" stroke="#ebebeb" stroke-width="2"/>
<circle cx="1276.9" cy="695.6" r="12" fill="#0000ff" stroke="#000" stroke-width="1.6"/>
<circle cx="1291.4" cy="695.6" r="10" fill="#ff69a8" stroke="#000" stroke-width="1.6"/>
<circle cx="1339.8" cy="695.6" r="13.4" fill="#0000ff" stroke="#000" stroke-width="1.6"/>
<circle cx="1354.5" cy="695.6" r="11.9" fill="#b22222" stroke="#000" stroke-width="1.6"/>
<circle cx="1402.9" cy="695.6" r="17.6" fill="#0000ff" stroke="#000" stroke-width="1.6"/>
<circle cx="1417.4" cy="695.6" r="12.5" fill="#b22222" stroke="#000" stroke-width="1.6"/>
<circle cx="1466.2" cy="695.6" r="11.3" fill="#6a50d8" stroke="#000" stroke-width="1.6"/>
<circle cx="1480.5" cy="695.6" r="10" fill="#ff88bb" stroke="#000" stroke-width="1.6"/>
<circle cx="1529.3" cy="695.6" r="7.7" fill="#c8ff00" stroke="#000" stroke-width="1.6"/>
<circle cx="1543.8" cy="695.6" r="6" fill="#ffd8e0" stroke="#000" stroke-width="1.6"/>
<circle cx="1592.5" cy="695.6" r="24.5" fill="#0000ff" stroke="#000" stroke-width="1.6"/>
<circle cx="1606.3" cy="695.6" r="15.8" fill="#b22222" stroke="#000" stroke-width="1.6"/>
<circle cx="1655.8" cy="695.6" r="14.4" fill="#0000ff" stroke="#000" stroke-width="1.6"/>
<circle cx="1669.9" cy="695.6" r="10.8" fill="#b22222" stroke="#000" stroke-width="1.6"/>
<circle cx="1719" cy="695.6" r="11.6" fill="#0000ff" stroke="#000" stroke-width="1.6"/>
<circle cx="1733.7" cy="695.6" r="7.3" fill="#ffc8d8" stroke="#000" stroke-width="1.6"/>
<circle cx="1276.9" cy="737.8" r="8.3" fill="#66ff00" stroke="#000" stroke-width="1.6"/>
<circle cx="1289.5" cy="737.8" r="6.7" fill="#ffd0da" stroke="#000" stroke-width="1.6"/>
<circle cx="1339.8" cy="737.8" r="13.4" fill="#0000ff" stroke="#000" stroke-width="1.6"/>
<circle cx="1352.7" cy="737.8" r="10" fill="#b22222" stroke="#000" stroke-width="1.6"/>
<circle cx="1402.9" cy="737.8" r="16" fill="#0000ff" stroke="#000" stroke-width="1.6"/>
<circle cx="1415.9" cy="737.8" r="12" fill="#b22222" stroke="#000" stroke-width="1.6"/>
<circle cx="1466.2" cy="737.8" r="23.3" fill="#0000ff" stroke="#000" stroke-width="1.6"/>
<circle cx="1478.6" cy="737.8" r="24.3" fill="#b22222" stroke="#000" stroke-width="1.6"/>
<circle cx="1529.3" cy="737.8" r="1.4" fill="#000" stroke="#000" stroke-width="0"/>
<circle cx="1541.5" cy="737.8" r="1.4" fill="#000" stroke="#000" stroke-width="0"/>
<circle cx="1592.5" cy="737.8" r="23.2" fill="#0000ff" stroke="#000" stroke-width="1.6"/>
<circle cx="1604.7" cy="737.8" r="8.3" fill="#ff88bb" stroke="#000" stroke-width="1.6"/>
<circle cx="1655.8" cy="737.8" r="14.4" fill="#0000ff" stroke="#000" stroke-width="1.6"/>
<circle cx="1668" cy="737.8" r="11.2" fill="#b22222" stroke="#000" stroke-width="1.6"/>
<circle cx="1719" cy="737.8" r="11.2" fill="#0000ff" stroke="#000" stroke-width="1.6"/>
<circle cx="1731.6" cy="737.8" r="5.5" fill="#ffd0da" stroke="#000" stroke-width="1.6"/>
<circle cx="1276.9" cy="780" r="12" fill="#0000ff" stroke="#000" stroke-width="1.6"/>
<circle cx="1289.1" cy="780" r="9.5" fill="#ff40a0" stroke="#000" stroke-width="1.6"/>
<circle cx="1339.8" cy="780" r="15.8" fill="#0000ff" stroke="#000" stroke-width="1.6"/>
<circle cx="1352.3" cy="780" r="14.4" fill="#b22222" stroke="#000" stroke-width="1.6"/>
<circle cx="1402.9" cy="780" r="18.5" fill="#0000ff" stroke="#000" stroke-width="1.6"/>
<circle cx="1415.4" cy="780" r="14" fill="#b22222" stroke="#000" stroke-width="1.6"/>
<circle cx="1466.2" cy="780" r="9.5" fill="#22ee00" stroke="#000" stroke-width="1.6"/>
<circle cx="1478.2" cy="780" r="8" fill="#ffaac4" stroke="#000" stroke-width="1.6"/>
<circle cx="1529.3" cy="780" r="6.3" fill="#e0ff00" stroke="#000" stroke-width="1.6"/>
<circle cx="1541.5" cy="780" r="1.4" fill="#000" stroke="#000" stroke-width="0"/>
<circle cx="1592.5" cy="780" r="26.4" fill="#0000ff" stroke="#000" stroke-width="1.6"/>
<circle cx="1604.7" cy="780" r="22.1" fill="#b22222" stroke="#000" stroke-width="1.6"/>
<circle cx="1655.8" cy="780" r="14.2" fill="#0000ff" stroke="#000" stroke-width="1.6"/>
<circle cx="1667.8" cy="780" r="11.1" fill="#b22222" stroke="#000" stroke-width="1.6"/>
<circle cx="1719" cy="780" r="14.5" fill="#0000ff" stroke="#000" stroke-width="1.6"/>
<circle cx="1731.8" cy="780" r="14.8" fill="#b22222" stroke="#000" stroke-width="1.6"/>
<circle cx="1276.9" cy="822" r="11.5" fill="#78a898" stroke="#000" stroke-width="1.6"/>
<circle cx="1288.1" cy="822" r="8.3" fill="#ffaac8" stroke="#000" stroke-width="1.6"/>
<circle cx="1339.8" cy="822" r="13.4" fill="#0000ff" stroke="#000" stroke-width="1.6"/>
<circle cx="1351.2" cy="822" r="9.9" fill="#c81e40" stroke="#000" stroke-width="1.6"/>
<circle cx="1402.9" cy="822" r="14.6" fill="#0000ff" stroke="#000" stroke-width="1.6"/>
<circle cx="1414.1" cy="822" r="11.6" fill="#c81e40" stroke="#000" stroke-width="1.6"/>
<circle cx="1466.2" cy="822" r="13" fill="#7a78c8" stroke="#000" stroke-width="1.6"/>
<circle cx="1477.6" cy="822" r="9.3" fill="#ffa0c0" stroke="#000" stroke-width="1.6"/>
<circle cx="1529.3" cy="822" r="20.6" fill="#0000ff" stroke="#000" stroke-width="1.6"/>
<circle cx="1540.5" cy="822" r="26.3" fill="#b22222" stroke="#000" stroke-width="1.6"/>
<circle cx="1592.5" cy="822" r="11.3" fill="#8090a8" stroke="#000" stroke-width="1.6"/>
<circle cx="1603.4" cy="822" r="6" fill="#ffd8e0" stroke="#000" stroke-width="1.6"/>
<circle cx="1655.8" cy="822" r="13.4" fill="#0000ff" stroke="#000" stroke-width="1.6"/>
<circle cx="1666.4" cy="822" r="9.3" fill="#c81e40" stroke="#000" stroke-width="1.6"/>
<circle cx="1719" cy="822" r="9.1" fill="#66ff00" stroke="#000" stroke-width="1.6"/>
<circle cx="1730.3" cy="822" r="4.6" fill="#ffd8e0" stroke="#000" stroke-width="1.6"/>
<circle cx="1276.9" cy="864.6" r="12.2" fill="#8090b8" stroke="#000" stroke-width="1.6"/>
<circle cx="1288.6" cy="864.6" r="11.3" fill="#ff3399" stroke="#000" stroke-width="1.6"/>
<circle cx="1339.8" cy="864.6" r="12.6" fill="#0000ff" stroke="#000" stroke-width="1.6"/>
<circle cx="1351.6" cy="864.6" r="12.2" fill="#b22222" stroke="#000" stroke-width="1.6"/>
<circle cx="1402.9" cy="864.6" r="15.8" fill="#0000ff" stroke="#000" stroke-width="1.6"/>
<circle cx="1414.8" cy="864.6" r="9.9" fill="#ff66a8" stroke="#000" stroke-width="1.6"/>
<circle cx="1466.2" cy="864.6" r="14" fill="#8090b8" stroke="#000" stroke-width="1.6"/>
<circle cx="1478.1" cy="864.6" r="8.5" fill="#ffaac4" stroke="#000" stroke-width="1.6"/>
<circle cx="1529.3" cy="864.6" r="5.5" fill="#e8ff00" stroke="#000" stroke-width="1.6"/>
<circle cx="1540.1" cy="864.6" r="1.4" fill="#000" stroke="#000" stroke-width="0"/>
<circle cx="1592.5" cy="864.6" r="13.4" fill="#6a50d8" stroke="#000" stroke-width="1.6"/>
<circle cx="1603.7" cy="864.6" r="11.5" fill="#ff3399" stroke="#000" stroke-width="1.6"/>
<circle cx="1655.8" cy="864.6" r="11.9" fill="#0000ff" stroke="#000" stroke-width="1.6"/>
<circle cx="1666.3" cy="864.6" r="8.3" fill="#ff70aa" stroke="#000" stroke-width="1.6"/>
<circle cx="1719" cy="864.6" r="8.3" fill="#88ff00" stroke="#000" stroke-width="1.6"/>
<circle cx="1729.6" cy="864.6" r="6.9" fill="#ffd0da" stroke="#000" stroke-width="1.6"/>
<circle cx="1276.9" cy="906.5" r="13.4" fill="#0000ff" stroke="#000" stroke-width="1.6"/>
<circle cx="1287.8" cy="906.5" r="11.1" fill="#c02038" stroke="#000" stroke-width="1.6"/>
<circle cx="1339.8" cy="906.5" r="14.2" fill="#0000ff" stroke="#000" stroke-width="1.6"/>
<circle cx="1351" cy="906.5" r="11.7" fill="#b22222" stroke="#000" stroke-width="1.6"/>
<circle cx="1402.9" cy="906.5" r="18.4" fill="#0000ff" stroke="#000" stroke-width="1.6"/>
<circle cx="1413.6" cy="906.5" r="14.4" fill="#b22222" stroke="#000" stroke-width="1.6"/>
<circle cx="1466.2" cy="906.5" r="11" fill="#6acb70" stroke="#000" stroke-width="1.6"/>
<circle cx="1477.3" cy="906.5" r="7.5" fill="#ffb0c8" stroke="#000" stroke-width="1.6"/>
<circle cx="1529.3" cy="906.5" r="9.6" fill="#88ff00" stroke="#000" stroke-width="1.6"/>
<circle cx="1538.9" cy="906.5" r="8.9" fill="#ffaac4" stroke="#000" stroke-width="1.6"/>
<circle cx="1592.5" cy="906.5" r="14.1" fill="#0000ff" stroke="#000" stroke-width="1.6"/>
<circle cx="1603" cy="906.5" r="10.9" fill="#d02050" stroke="#000" stroke-width="1.6"/>
<circle cx="1655.8" cy="906.5" r="14.4" fill="#0000ff" stroke="#000" stroke-width="1.6"/>
<circle cx="1666.5" cy="906.5" r="11.5" fill="#b22222" stroke="#000" stroke-width="1.6"/>
<circle cx="1719" cy="906.5" r="7.5" fill="#b0ff00" stroke="#000" stroke-width="1.6"/>
<circle cx="1729.7" cy="906.5" r="5" fill="#ffd8e0" stroke="#000" stroke-width="1.6"/>
<circle cx="1276.9" cy="948" r="6.7" fill="#c0ff00" stroke="#000" stroke-width="1.6"/>
<circle cx="1288.4" cy="948" r="6.8" fill="#ffd0da" stroke="#000" stroke-width="1.6"/>
<circle cx="1339.8" cy="948" r="6.5" fill="#c0ff00" stroke="#000" stroke-width="1.6"/>
<circle cx="1351.6" cy="948" r="6.3" fill="#ffd0da" stroke="#000" stroke-width="1.6"/>
<circle cx="1402.9" cy="948" r="13" fill="#0000ff" stroke="#000" stroke-width="1.6"/>
<circle cx="1414.3" cy="948" r="10.8" fill="#b22222" stroke="#000" stroke-width="1.6"/>
<circle cx="1466.2" cy="948" r="11.9" fill="#0000ff" stroke="#000" stroke-width="1.6"/>
<circle cx="1477.6" cy="948" r="9.2" fill="#c01c38" stroke="#000" stroke-width="1.6"/>
<circle cx="1529.3" cy="948" r="4.1" fill="#e8ff00" stroke="#000" stroke-width="1.6"/>
<circle cx="1540.6" cy="948" r="5.2" fill="#ffd8e0" stroke="#000" stroke-width="1.6"/>
<circle cx="1592.5" cy="948" r="14.4" fill="#0000ff" stroke="#000" stroke-width="1.6"/>
<circle cx="1603.6" cy="948" r="10.6" fill="#b22222" stroke="#000" stroke-width="1.6"/>
<circle cx="1655.8" cy="948" r="11.7" fill="#0000ff" stroke="#000" stroke-width="1.6"/>
<circle cx="1666.4" cy="948" r="9.5" fill="#b22222" stroke="#000" stroke-width="1.6"/>
<circle cx="1719" cy="948" r="7.6" fill="#5edc5e" stroke="#000" stroke-width="1.6"/>
<circle cx="1730.3" cy="948" r="7.1" fill="#ffa0c0" stroke="#000" stroke-width="1.6"/>
<rect x="1239.3" y="670.4" width="517.7" height="302.4" fill="none" stroke="#333" stroke-width="2"/>
<line x1="1234.3" y1="695.6" x2="1239.3" y2="695.6" stroke="#333" stroke-width="2"/>
<line x1="1234.3" y1="737.8" x2="1239.3" y2="737.8" stroke="#333" stroke-width="2"/>
<line x1="1234.3" y1="780" x2="1239.3" y2="780" stroke="#333" stroke-width="2"/>
<line x1="1234.3" y1="822" x2="1239.3" y2="822" stroke="#333" stroke-width="2"/>
<line x1="1234.3" y1="864.6" x2="1239.3" y2="864.6" stroke="#333" stroke-width="2"/>
<line x1="1234.3" y1="906.5" x2="1239.3" y2="906.5" stroke="#333" stroke-width="2"/>
<line x1="1234.3" y1="948" x2="1239.3" y2="948" stroke="#333" stroke-width="2"/>
<line x1="1276.9" y1="972.8" x2="1276.9" y2="980" stroke="#333" stroke-width="2"/>
<line x1="1339.8" y1="972.8" x2="1339.8" y2="980" stroke="#333" stroke-width="2"/>
<line x1="1402.9" y1="972.8" x2="1402.9" y2="980" stroke="#333" stroke-width="2"/>
<line x1="1466.2" y1="972.8" x2="1466.2" y2="980" stroke="#333" stroke-width="2"/>
<line x1="1529.3" y1="972.8" x2="1529.3" y2="980" stroke="#333" stroke-width="2"/>
<line x1="1592.5" y1="972.8" x2="1592.5" y2="980" stroke="#333" stroke-width="2"/>
<line x1="1655.8" y1="972.8" x2="1655.8" y2="980" stroke="#333" stroke-width="2"/>
<line x1="1719" y1="972.8" x2="1719" y2="980" stroke="#333" stroke-width="2"/>
<text x="1113.7" y="702.4" font-size="32.5" fill="#000">MO</text>
<text x="1073.65" y="744.4" font-size="32.5" fill="#000">moDC</text>
<text x="1107.04" y="786.4" font-size="32.5" fill="#000">Neu</text>
<text x="1087.2" y="828.5" font-size="32.5" fill="#000">B cell</text>
<text x="1089.03" y="870" font-size="32.5" fill="#000">T cell</text>
<text x="1063.73" y="912.5" font-size="32.5" fill="#000">NK cell</text>
<text x="1094.6" y="954.5" font-size="32.5" fill="#000">Liver</text>
<defs>
<radialGradient id="gmo" cx="0.6" cy="0.5" r="0.6"><stop offset="0" stop-color="#ffffff"/><stop offset="0.45" stop-color="#e07080"/><stop offset="1" stop-color="#b8122c"/></radialGradient>
<radialGradient id="gdc" cx="0.55" cy="0.55" r="0.6"><stop offset="0" stop-color="#e0f6f8"/><stop offset="1" stop-color="#3aaebc"/></radialGradient>
<radialGradient id="gneu" cx="0.45" cy="0.5" r="0.6"><stop offset="0" stop-color="#ffffff"/><stop offset="0.5" stop-color="#d0d0f0"/><stop offset="1" stop-color="#9a9ad4"/></radialGradient>
<radialGradient id="gb" cx="0.5" cy="0.6" r="0.6"><stop offset="0" stop-color="#90e0a8"/><stop offset="1" stop-color="#18a850"/></radialGradient>
<radialGradient id="gt" cx="0.5" cy="0.6" r="0.6"><stop offset="0" stop-color="#fff8a0"/><stop offset="1" stop-color="#e8d810"/></radialGradient>
<radialGradient id="gnk" cx="0.5" cy="0.6" r="0.6"><stop offset="0" stop-color="#ffffff"/><stop offset="1" stop-color="#e4eab0"/></radialGradient>
<radialGradient id="liv" cx="0.45" cy="0.45" r="0.6"><stop offset="0" stop-color="#fff4ea"/><stop offset="1" stop-color="#a0582a"/></radialGradient>
</defs>
<circle cx="1200" cy="692" r="16.6" fill="url(#gmo)" stroke="#6a0a14" stroke-width="1"/>
<path d="M1196 679 C1203 677 1206 682 1205 686 C1200 686 1195 689 1198 693 C1201 697 1202 700 1199 704 C1193 708 1187 703 1186 696 C1185 688 1189 681 1196 679 Z" fill="#40241a" stroke="#222" stroke-width="0.8"/>
<circle cx="1209.5" cy="688.6" r="1.8" fill="#cfcfcf" stroke="#444" stroke-width="0.5"/>
<circle cx="1209.2" cy="700" r="1.6" fill="#cfcfcf" stroke="#444" stroke-width="0.5"/>
<path d="M1190 727 L1172 724 L1171 731 L1174 737 L1190 740 Z" fill="#4cb4c0" stroke="#1a1a1a" stroke-width="0.7"/>
<path d="M1192 745 L1180 752 L1175 761 L1184 760 L1196 751 Z" fill="#4cb4c0" stroke="#1a1a1a" stroke-width="0.7"/>
<path d="M1210 727 L1227 716 L1230 722 L1228 729 L1211 734 Z" fill="#4cb4c0" stroke="#1a1a1a" stroke-width="0.7"/>
<path d="M1210 741 L1227 745 L1229 752 L1224 755 L1209 749 Z" fill="#4cb4c0" stroke="#1a1a1a" stroke-width="0.7"/>
<path d="M1195 750 L1197 760 L1202 750 Z" fill="#4cb4c0" stroke="#1a1a1a" stroke-width="0.7"/>
<line x1="1172" y1="726" x2="1182" y2="727" stroke="#1e1e1e" stroke-width="1.5"/>
<line x1="1172" y1="729" x2="1183" y2="730" stroke="#1e1e1e" stroke-width="1.5"/>
<line x1="1172" y1="732" x2="1181" y2="733" stroke="#1e1e1e" stroke-width="1.5"/>
<line x1="1173" y1="735" x2="1182" y2="736" stroke="#1e1e1e" stroke-width="1.5"/>
<line x1="1176" y1="759" x2="1184" y2="753" stroke="#1e1e1e" stroke-width="1.5"/>
<line x1="1178" y1="760" x2="1186" y2="754" stroke="#1e1e1e" stroke-width="1.5"/>
<line x1="1180" y1="760" x2="1188" y2="755" stroke="#1e1e1e" stroke-width="1.5"/>
<line x1="1228" y1="718" x2="1218" y2="723" stroke="#1e1e1e" stroke-width="1.5"/>
<line x1="1229" y1="721" x2="1219" y2="726" stroke="#1e1e1e" stroke-width="1.5"/>
<line x1="1228" y1="725" x2="1218" y2="729" stroke="#1e1e1e" stroke-width="1.5"/>
<line x1="1227" y1="728" x2="1218" y2="731" stroke="#1e1e1e" stroke-width="1.5"/>
<line x1="1228" y1="747" x2="1219" y2="745" stroke="#1e1e1e" stroke-width="1.5"/>
<line x1="1228" y1="750" x2="1219" y2="748" stroke="#1e1e1e" stroke-width="1.5"/>
<line x1="1225" y1="753" x2="1217" y2="750" stroke="#1e1e1e" stroke-width="1.5"/>
<ellipse cx="1200.3" cy="735" rx="13.5" ry="16" fill="url(#gdc)" stroke="#2a7a84" stroke-width="0.8"/>
<ellipse cx="1197.5" cy="734" rx="8" ry="12" fill="#40241a" stroke="#222" stroke-width="0.6"/>
<circle cx="1208" cy="727" r="0.9" fill="#333"/>
<circle cx="1209" cy="733" r="0.9" fill="#333"/>
<circle cx="1207" cy="740" r="0.9" fill="#333"/>
<circle cx="1210" cy="745" r="0.9" fill="#333"/>
<circle cx="1200" cy="782" r="18.3" fill="url(#gneu)" stroke="#333" stroke-width="0.9"/>
<path d="M1189 774 C1191 767 1198 769 1197 774 C1201 772 1206 768 1210 772 C1212 776 1208 779 1204 778 C1200 778 1196 779 1193 781 C1193 786 1198 787 1203 786 C1207 787 1207 792 1202 794 C1196 796 1188 792 1187 786 C1186 781 1187 777 1189 774 Z" fill="#40241a" stroke="#222" stroke-width="0.6"/>
<circle cx="1211" cy="782" r="1.1" fill="none" stroke="#333" stroke-width="0.6"/>
<circle cx="1213" cy="785" r="1.1" fill="none" stroke="#333" stroke-width="0.6"/>
<circle cx="1209" cy="787" r="1.1" fill="none" stroke="#333" stroke-width="0.6"/>
<circle cx="1206" cy="790" r="1.1" fill="none" stroke="#333" stroke-width="0.6"/>
<circle cx="1212" cy="778" r="1.1" fill="none" stroke="#333" stroke-width="0.6"/>
<circle cx="1207" cy="782" r="1.1" fill="none" stroke="#333" stroke-width="0.6"/>
<circle cx="1200" cy="822.3" r="14.6" fill="url(#gb)" stroke="#1a3a20" stroke-width="0.9"/>
<circle cx="1198.7" cy="820.6" r="10.8" fill="#40241a" stroke="#222" stroke-width="0.6"/>
<circle cx="1200" cy="862.7" r="14.6" fill="url(#gt)" stroke="#5a5000" stroke-width="0.9"/>
<circle cx="1198.7" cy="861" r="11.2" fill="#40241a" stroke="#222" stroke-width="0.6"/>
<path d="M1184 898 C1184 889 1192 886 1201 887 C1210 887 1217 893 1218 901 C1219 909 1213 918 1201 919 C1189 920 1182 912 1183 905 Z" fill="url(#gnk)" stroke="#444" stroke-width="0.9"/>
<path d="M1186 895 C1187 889 1195 889 1201 891 C1206 890 1211 892 1210 897 C1208 902 1203 902 1200 904 C1196 907 1190 907 1188 903 C1186 900 1186 898 1186 895 Z" fill="#40241a" stroke="#222" stroke-width="0.6"/>
<line x1="1200.5" y1="897" x2="1200.5" y2="916" stroke="#333" stroke-width="1"/>
<circle cx="1191" cy="913" r="1.2" fill="none" stroke="#333" stroke-width="0.6"/>
<circle cx="1193" cy="916" r="1.2" fill="none" stroke="#333" stroke-width="0.6"/>
<circle cx="1211" cy="908" r="1.2" fill="none" stroke="#333" stroke-width="0.6"/>
<path d="M1180.2 928.4 L1181.3 933 L1182.4 928.4 L1183.5 933 L1184.6 928.4 L1185.7 933 L1186.8 928.4 L1187.9 933 L1189 928.4 L1190.1 933 L1191.2 928.4 L1192.3 933 L1193.4 928.4 L1194.5 933 L1195.6 928.4 L1196.7 933 L1197.8 928.4 L1198.9 933 L1200 928.4 L1201.1 933 L1202.2 928.4 L1203.3 933 L1204.4 928.4 L1205.5 933 L1206.6 928.4 L1207.7 933 L1208.8 928.4 L1209.9 933 L1211 928.4 L1212.1 933 L1213.2 928.4 L1214.3 933 L1215.4 928.4 L1216.5 933 L1217.6 928.4 L1218.7 933 L1219.8 928.4 L1219.5 928.4 L1218.5 960 Q1218 963.5 1214 963.5 L1186 963.5 Q1182 963.5 1181.5 960 Z" fill="url(#liv)" stroke="#5a3010" stroke-width="0.8"/>
<circle cx="1203.8" cy="949.6" r="11" fill="#40241a" stroke="#222" stroke-width="0.6"/>
<text transform="matrix(0 -0.33080 0.08699 0 1292.8 1191.97)" font-size="100" font-weight="bold" fill="#d80000">T</text>
<text transform="matrix(0 -0.29036 0.09859 0 1286.82 1192.32)" font-size="100" font-weight="bold" fill="#0ab00a">A</text>
<text transform="matrix(0 -0.28868 0.17470 0 1279.86 1192.78)" font-size="100" font-weight="bold" fill="#f8a300">G</text>
<text transform="matrix(0 -0.29795 0.20851 0 1267.46 1192.82)" font-size="100" font-weight="bold" fill="#0000e6">C</text>
<text transform="matrix(0 -0.29795 0.06763 0 1292.73 1172.74)" font-size="100" font-weight="bold" fill="#0000e6">C</text>
<text transform="matrix(0 -0.33080 0.20878 0 1288.01 1171.89)" font-size="100" font-weight="bold" fill="#d80000">T</text>
<text transform="matrix(0 -0.29036 0.30157 0 1273.65 1172.24)" font-size="100" font-weight="bold" fill="#0ab00a">A</text>
<text transform="matrix(0 -0.29795 0.02254 0 1292.78 1152.66)" font-size="100" font-weight="bold" fill="#0000e6">C</text>
<text transform="matrix(0 -0.28868 0.12398 0 1291.08 1152.62)" font-size="100" font-weight="bold" fill="#f8a300">G</text>
<text transform="matrix(0 -0.29036 0.42916 0 1282.43 1152.16)" font-size="100" font-weight="bold" fill="#0ab00a">A</text>
<text transform="matrix(0 -0.28868 0.01691 0 1292.78 1132.54)" font-size="100" font-weight="bold" fill="#f8a300">G</text>
<text transform="matrix(0 -0.29036 0.56255 0 1291.6 1132.08)" font-size="100" font-weight="bold" fill="#0ab00a">A</text>
<text transform="matrix(0 -0.29795 0.56355 0 1292.25 1112.5)" font-size="100" font-weight="bold" fill="#0000e6">C</text>
<text transform="matrix(0 -0.29795 0.56355 0 1292.25 1092.42)" font-size="100" font-weight="bold" fill="#0000e6">C</text>
<text transform="matrix(0 -0.28868 0.06763 0 1292.73 1072.3)" font-size="100" font-weight="bold" fill="#f8a300">G</text>
<text transform="matrix(0 -0.29036 0.51036 0 1288.01 1071.84)" font-size="100" font-weight="bold" fill="#0ab00a">A</text>
<text transform="matrix(0 -0.29795 0.56355 0 1292.25 1052.26)" font-size="100" font-weight="bold" fill="#0000e6">C</text>
<text transform="matrix(0 -0.29036 0.57995 0 1292.8 1031.68)" font-size="100" font-weight="bold" fill="#0ab00a">A</text>
<text transform="matrix(0 -0.29795 0.03945 0 1292.76 1012.1)" font-size="100" font-weight="bold" fill="#0000e6">C</text>
<text transform="matrix(0 -0.33080 0.06959 0 1290.01 1011.25)" font-size="100" font-weight="bold" fill="#d80000">T</text>
<text transform="matrix(0 -0.29036 0.17979 0 1285.22 1011.6)" font-size="100" font-weight="bold" fill="#0ab00a">A</text>
<text transform="matrix(0 -0.28868 0.28178 0 1272.57 1012.06)" font-size="100" font-weight="bold" fill="#f8a300">G</text>
<text transform="matrix(0 -0.33080 0.02320 0 1355.9 1191.97)" font-size="100" font-weight="bold" fill="#d80000">T</text>
<text transform="matrix(0 -0.29795 0.03945 0 1354.27 1192.82)" font-size="100" font-weight="bold" fill="#0000e6">C</text>
<text transform="matrix(0 -0.28868 0.19161 0 1351.32 1192.78)" font-size="100" font-weight="bold" fill="#f8a300">G</text>
<text transform="matrix(0 -0.29036 0.31897 0 1337.94 1192.32)" font-size="100" font-weight="bold" fill="#0ab00a">A</text>
<text transform="matrix(0 -0.29036 0.04640 0 1355.9 1172.24)" font-size="100" font-weight="bold" fill="#0ab00a">A</text>
<text transform="matrix(0 -0.28868 0.11271 0 1352.6 1172.7)" font-size="100" font-weight="bold" fill="#f8a300">G</text>
<text transform="matrix(0 -0.29795 0.40576 0 1344.33 1172.74)" font-size="100" font-weight="bold" fill="#0000e6">C</text>
<text transform="matrix(0 -0.29795 0.14652 0 1355.76 1152.66)" font-size="100" font-weight="bold" fill="#0000e6">C</text>
<text transform="matrix(0 -0.29036 0.42916 0 1345.53 1152.16)" font-size="100" font-weight="bold" fill="#0ab00a">A</text>
<text transform="matrix(0 -0.28868 0.56355 0 1355.35 1132.54)" font-size="100" font-weight="bold" fill="#f8a300">G</text>
<text transform="matrix(0 -0.28868 0.56355 0 1355.35 1112.46)" font-size="100" font-weight="bold" fill="#f8a300">G</text>
<text transform="matrix(0 -0.29036 0.57995 0 1355.9 1091.92)" font-size="100" font-weight="bold" fill="#0ab00a">A</text>
<text transform="matrix(0 -0.33080 0.07539 0 1355.9 1071.49)" font-size="100" font-weight="bold" fill="#d80000">T</text>
<text transform="matrix(0 -0.29036 0.50456 0 1350.71 1071.84)" font-size="100" font-weight="bold" fill="#0ab00a">A</text>
<text transform="matrix(0 -0.29036 0.06379 0 1355.9 1051.76)" font-size="100" font-weight="bold" fill="#0ab00a">A</text>
<text transform="matrix(0 -0.28868 0.50156 0 1351.02 1052.22)" font-size="100" font-weight="bold" fill="#f8a300">G</text>
<text transform="matrix(0 -0.29036 0.01160 0 1355.9 1031.68)" font-size="100" font-weight="bold" fill="#0ab00a">A</text>
<text transform="matrix(0 -0.29795 0.06763 0 1355.04 1032.18)" font-size="100" font-weight="bold" fill="#0000e6">C</text>
<text transform="matrix(0 -0.33080 0.49876 0 1350.31 1031.33)" font-size="100" font-weight="bold" fill="#d80000">T</text>
<text transform="matrix(0 -0.33080 0.05220 0 1355.9 1011.25)" font-size="100" font-weight="bold" fill="#d80000">T</text>
<text transform="matrix(0 -0.29036 0.05220 0 1352.31 1011.6)" font-size="100" font-weight="bold" fill="#0ab00a">A</text>
<text transform="matrix(0 -0.29795 0.09580 0 1348.62 1012.1)" font-size="100" font-weight="bold" fill="#0000e6">C</text>
<text transform="matrix(0 -0.28868 0.36631 0 1341.58 1012.06)" font-size="100" font-weight="bold" fill="#f8a300">G</text>
<text transform="matrix(0 -0.33100 0.03454 0 1419.1 1232.27)" font-size="100" font-weight="bold" fill="#d80000">T</text>
<text transform="matrix(0 -0.29053 0.10936 0 1416.72 1232.62)" font-size="100" font-weight="bold" fill="#0ab00a">A</text>
<text transform="matrix(0 -0.29812 0.12305 0 1409.08 1233.12)" font-size="100" font-weight="bold" fill="#0000e6">C</text>
<text transform="matrix(0 -0.28885 0.29644 0 1400.2 1233.08)" font-size="100" font-weight="bold" fill="#f8a300">G</text>
<text transform="matrix(0 -0.29053 0.02878 0 1419.1 1212.53)" font-size="100" font-weight="bold" fill="#0ab00a">A</text>
<text transform="matrix(0 -0.28885 0.53135 0 1416.6 1212.99)" font-size="100" font-weight="bold" fill="#f8a300">G</text>
<text transform="matrix(0 -0.29053 0.01151 0 1419.1 1192.44)" font-size="100" font-weight="bold" fill="#0ab00a">A</text>
<text transform="matrix(0 -0.33100 0.05756 0 1418.31 1192.09)" font-size="100" font-weight="bold" fill="#d80000">T</text>
<text transform="matrix(0 -0.29812 0.49220 0 1413.87 1192.94)" font-size="100" font-weight="bold" fill="#0000e6">C</text>
<text transform="matrix(0 -0.29053 0.01727 0 1419.1 1172.35)" font-size="100" font-weight="bold" fill="#0ab00a">A</text>
<text transform="matrix(0 -0.33100 0.08058 0 1417.91 1172)" font-size="100" font-weight="bold" fill="#d80000">T</text>
<text transform="matrix(0 -0.29812 0.46423 0 1411.91 1172.85)" font-size="100" font-weight="bold" fill="#0000e6">C</text>
<text transform="matrix(0 -0.29812 0.55932 0 1418.55 1152.76)" font-size="100" font-weight="bold" fill="#0000e6">C</text>
<text transform="matrix(0 -0.29812 0.55932 0 1418.55 1132.66)" font-size="100" font-weight="bold" fill="#0000e6">C</text>
<text transform="matrix(0 -0.29053 0.01151 0 1419.1 1112.07)" font-size="100" font-weight="bold" fill="#0ab00a">A</text>
<text transform="matrix(0 -0.28885 0.54813 0 1417.77 1112.53)" font-size="100" font-weight="bold" fill="#f8a300">G</text>
<text transform="matrix(0 -0.29812 0.55932 0 1418.55 1092.48)" font-size="100" font-weight="bold" fill="#0000e6">C</text>
<text transform="matrix(0 -0.29812 0.55932 0 1418.55 1072.39)" font-size="100" font-weight="bold" fill="#0000e6">C</text>
<text transform="matrix(0 -0.33100 0.05756 0 1419.1 1051.45)" font-size="100" font-weight="bold" fill="#d80000">T</text>
<text transform="matrix(0 -0.29812 0.50338 0 1414.65 1052.3)" font-size="100" font-weight="bold" fill="#0000e6">C</text>
<text transform="matrix(0 -0.29053 0.09209 0 1419.1 1031.71)" font-size="100" font-weight="bold" fill="#0ab00a">A</text>
<text transform="matrix(0 -0.29812 0.46983 0 1412.31 1032.21)" font-size="100" font-weight="bold" fill="#0000e6">C</text>
<text transform="matrix(0 -0.29053 0.02302 0 1419.1 1011.62)" font-size="100" font-weight="bold" fill="#0ab00a">A</text>
<text transform="matrix(0 -0.28885 0.12305 0 1417.4 1012.08)" font-size="100" font-weight="bold" fill="#f8a300">G</text>
<text transform="matrix(0 -0.33100 0.12087 0 1408.8 1011.26)" font-size="100" font-weight="bold" fill="#d80000">T</text>
<text transform="matrix(0 -0.29812 0.29644 0 1400.2 1012.11)" font-size="100" font-weight="bold" fill="#0000e6">C</text>
<text transform="matrix(0 -0.29053 0.12087 0 1482.6 1232.62)" font-size="100" font-weight="bold" fill="#0ab00a">A</text>
<text transform="matrix(0 -0.29812 0.13424 0 1474.15 1233.12)" font-size="100" font-weight="bold" fill="#0000e6">C</text>
<text transform="matrix(0 -0.28885 0.13424 0 1464.65 1233.08)" font-size="100" font-weight="bold" fill="#f8a300">G</text>
<text transform="matrix(0 -0.33100 0.17843 0 1455.28 1232.27)" font-size="100" font-weight="bold" fill="#d80000">T</text>
<text transform="matrix(0 -0.29053 0.08058 0 1482.6 1212.53)" font-size="100" font-weight="bold" fill="#0ab00a">A</text>
<text transform="matrix(0 -0.29812 0.10627 0 1476.95 1213.03)" font-size="100" font-weight="bold" fill="#0000e6">C</text>
<text transform="matrix(0 -0.28885 0.37474 0 1469.17 1212.99)" font-size="100" font-weight="bold" fill="#f8a300">G</text>
<text transform="matrix(0 -0.29053 0.12087 0 1482.6 1192.44)" font-size="100" font-weight="bold" fill="#0ab00a">A</text>
<text transform="matrix(0 -0.33100 0.13814 0 1474.28 1192.09)" font-size="100" font-weight="bold" fill="#d80000">T</text>
<text transform="matrix(0 -0.29812 0.30762 0 1464.48 1192.94)" font-size="100" font-weight="bold" fill="#0000e6">C</text>
<text transform="matrix(0 -0.28885 0.55932 0 1482.05 1172.81)" font-size="100" font-weight="bold" fill="#f8a300">G</text>
<text transform="matrix(0 -0.28885 0.07830 0 1482.52 1152.72)" font-size="100" font-weight="bold" fill="#f8a300">G</text>
<text transform="matrix(0 -0.33100 0.49501 0 1477.06 1151.91)" font-size="100" font-weight="bold" fill="#d80000">T</text>
<text transform="matrix(0 -0.29053 0.01727 0 1482.6 1132.17)" font-size="100" font-weight="bold" fill="#0ab00a">A</text>
<text transform="matrix(0 -0.28885 0.54254 0 1480.88 1132.63)" font-size="100" font-weight="bold" fill="#f8a300">G</text>
<text transform="matrix(0 -0.29053 0.04029 0 1482.6 1112.07)" font-size="100" font-weight="bold" fill="#0ab00a">A</text>
<text transform="matrix(0 -0.28885 0.52016 0 1479.32 1112.53)" font-size="100" font-weight="bold" fill="#f8a300">G</text>
<text transform="matrix(0 -0.28885 0.55932 0 1482.05 1092.44)" font-size="100" font-weight="bold" fill="#f8a300">G</text>
<text transform="matrix(0 -0.29053 0.01151 0 1482.6 1071.89)" font-size="100" font-weight="bold" fill="#0ab00a">A</text>
<text transform="matrix(0 -0.33100 0.24750 0 1481.81 1071.54)" font-size="100" font-weight="bold" fill="#d80000">T</text>
<text transform="matrix(0 -0.29812 0.30762 0 1464.48 1072.39)" font-size="100" font-weight="bold" fill="#0000e6">C</text>
<text transform="matrix(0 -0.29812 0.02797 0 1482.57 1052.3)" font-size="100" font-weight="bold" fill="#0000e6">C</text>
<text transform="matrix(0 -0.28885 0.53135 0 1480.1 1052.26)" font-size="100" font-weight="bold" fill="#f8a300">G</text>
<text transform="matrix(0 -0.29053 0.09884 0 1482.6 1031.71)" font-size="100" font-weight="bold" fill="#0ab00a">A</text>
<text transform="matrix(0 -0.33100 0.19768 0 1475.8 1031.36)" font-size="100" font-weight="bold" fill="#d80000">T</text>
<text transform="matrix(0 -0.28885 0.27118 0 1461.94 1032.17)" font-size="100" font-weight="bold" fill="#f8a300">G</text>
<text transform="matrix(0 -0.29812 0.02237 0 1482.58 1012.11)" font-size="100" font-weight="bold" fill="#0000e6">C</text>
<text transform="matrix(0 -0.33100 0.09785 0 1481.02 1011.26)" font-size="100" font-weight="bold" fill="#d80000">T</text>
<text transform="matrix(0 -0.29053 0.13814 0 1474.28 1011.62)" font-size="100" font-weight="bold" fill="#0ab00a">A</text>
<text transform="matrix(0 -0.28885 0.30762 0 1464.48 1012.08)" font-size="100" font-weight="bold" fill="#f8a300">G</text>
<text transform="matrix(0 -0.29812 0.06712 0 1545.63 1233.12)" font-size="100" font-weight="bold" fill="#0000e6">C</text>
<text transform="matrix(0 -0.33100 0.13814 0 1540.95 1232.27)" font-size="100" font-weight="bold" fill="#d80000">T</text>
<text transform="matrix(0 -0.29053 0.17843 0 1531.44 1232.62)" font-size="100" font-weight="bold" fill="#0ab00a">A</text>
<text transform="matrix(0 -0.28885 0.18457 0 1518.99 1233.08)" font-size="100" font-weight="bold" fill="#f8a300">G</text>
<text transform="matrix(0 -0.29053 0.03454 0 1545.7 1212.53)" font-size="100" font-weight="bold" fill="#0ab00a">A</text>
<text transform="matrix(0 -0.33100 0.12087 0 1543.32 1212.18)" font-size="100" font-weight="bold" fill="#d80000">T</text>
<text transform="matrix(0 -0.29812 0.15661 0 1534.86 1213.03)" font-size="100" font-weight="bold" fill="#0000e6">C</text>
<text transform="matrix(0 -0.28885 0.25169 0 1523.67 1212.99)" font-size="100" font-weight="bold" fill="#f8a300">G</text>
<text transform="matrix(0 -0.29812 0.08949 0 1545.61 1192.94)" font-size="100" font-weight="bold" fill="#0000e6">C</text>
<text transform="matrix(0 -0.33100 0.48350 0 1539.36 1192.09)" font-size="100" font-weight="bold" fill="#d80000">T</text>
<text transform="matrix(0 -0.29812 0.55932 0 1545.15 1172.85)" font-size="100" font-weight="bold" fill="#0000e6">C</text>
<text transform="matrix(0 -0.33100 0.09209 0 1545.7 1151.91)" font-size="100" font-weight="bold" fill="#d80000">T</text>
<text transform="matrix(0 -0.29812 0.46983 0 1538.91 1152.76)" font-size="100" font-weight="bold" fill="#0000e6">C</text>
<text transform="matrix(0 -0.29812 0.55932 0 1545.15 1132.66)" font-size="100" font-weight="bold" fill="#0000e6">C</text>
<text transform="matrix(0 -0.29053 0.15541 0 1545.7 1112.07)" font-size="100" font-weight="bold" fill="#0ab00a">A</text>
<text transform="matrix(0 -0.29812 0.18457 0 1534.83 1112.57)" font-size="100" font-weight="bold" fill="#0000e6">C</text>
<text transform="matrix(0 -0.33100 0.23024 0 1521.94 1111.72)" font-size="100" font-weight="bold" fill="#d80000">T</text>
<text transform="matrix(0 -0.29812 0.02237 0 1545.68 1092.48)" font-size="100" font-weight="bold" fill="#0000e6">C</text>
<text transform="matrix(0 -0.33100 0.12087 0 1544.12 1091.63)" font-size="100" font-weight="bold" fill="#d80000">T</text>
<text transform="matrix(0 -0.28885 0.19576 0 1535.61 1092.44)" font-size="100" font-weight="bold" fill="#f8a300">G</text>
<text transform="matrix(0 -0.29053 0.23024 0 1521.94 1091.98)" font-size="100" font-weight="bold" fill="#0ab00a">A</text>
<text transform="matrix(0 -0.28885 0.55932 0 1545.15 1072.35)" font-size="100" font-weight="bold" fill="#f8a300">G</text>
<text transform="matrix(0 -0.29053 0.06907 0 1545.7 1051.8)" font-size="100" font-weight="bold" fill="#0ab00a">A</text>
<text transform="matrix(0 -0.28885 0.49220 0 1540.47 1052.26)" font-size="100" font-weight="bold" fill="#f8a300">G</text>
<text transform="matrix(0 -0.28885 0.55932 0 1545.15 1032.17)" font-size="100" font-weight="bold" fill="#f8a300">G</text>
<text transform="matrix(0 -0.28885 0.08949 0 1545.61 1012.08)" font-size="100" font-weight="bold" fill="#f8a300">G</text>
<text transform="matrix(0 -0.29053 0.48350 0 1539.36 1011.62)" font-size="100" font-weight="bold" fill="#0ab00a">A</text>
<text transform="matrix(0 -0.28868 0.04407 0 1608.56 1192.78)" font-size="100" font-weight="bold" fill="#f8a300">G</text>
<text transform="matrix(0 -0.29795 0.05508 0 1605.43 1192.82)" font-size="100" font-weight="bold" fill="#0000e6">C</text>
<text transform="matrix(0 -0.29036 0.46483 0 1601.58 1192.32)" font-size="100" font-weight="bold" fill="#0ab00a">A</text>
<text transform="matrix(0 -0.33080 0.56687 0 1608.6 1171.89)" font-size="100" font-weight="bold" fill="#d80000">T</text>
<text transform="matrix(0 -0.33080 0.56687 0 1608.6 1151.81)" font-size="100" font-weight="bold" fill="#d80000">T</text>
<text transform="matrix(0 -0.29036 0.10771 0 1608.6 1132.08)" font-size="100" font-weight="bold" fill="#0ab00a">A</text>
<text transform="matrix(0 -0.28868 0.44618 0 1600.75 1132.54)" font-size="100" font-weight="bold" fill="#f8a300">G</text>
<text transform="matrix(0 -0.28868 0.06610 0 1608.54 1112.46)" font-size="100" font-weight="bold" fill="#f8a300">G</text>
<text transform="matrix(0 -0.33080 0.14172 0 1603.92 1111.65)" font-size="100" font-weight="bold" fill="#d80000">T</text>
<text transform="matrix(0 -0.29795 0.34703 0 1593.83 1112.5)" font-size="100" font-weight="bold" fill="#0000e6">C</text>
<text transform="matrix(0 -0.29795 0.07712 0 1608.52 1092.42)" font-size="100" font-weight="bold" fill="#0000e6">C</text>
<text transform="matrix(0 -0.29036 0.13038 0 1603.14 1091.92)" font-size="100" font-weight="bold" fill="#0ab00a">A</text>
<text transform="matrix(0 -0.28868 0.34703 0 1593.83 1092.38)" font-size="100" font-weight="bold" fill="#f8a300">G</text>
<text transform="matrix(0 -0.29036 0.06802 0 1608.6 1071.84)" font-size="100" font-weight="bold" fill="#0ab00a">A</text>
<text transform="matrix(0 -0.33080 0.07936 0 1603.92 1071.49)" font-size="100" font-weight="bold" fill="#d80000">T</text>
<text transform="matrix(0 -0.29795 0.40762 0 1598.06 1072.34)" font-size="100" font-weight="bold" fill="#0000e6">C</text>
<text transform="matrix(0 -0.29036 0.56687 0 1608.6 1051.76)" font-size="100" font-weight="bold" fill="#0ab00a">A</text>
<text transform="matrix(0 -0.29036 0.56687 0 1608.6 1031.68)" font-size="100" font-weight="bold" fill="#0ab00a">A</text>
<text transform="matrix(0 -0.28868 0.07712 0 1608.52 1012.06)" font-size="100" font-weight="bold" fill="#f8a300">G</text>
<text transform="matrix(0 -0.33080 0.10771 0 1603.14 1011.25)" font-size="100" font-weight="bold" fill="#d80000">T</text>
<text transform="matrix(0 -0.29795 0.36906 0 1595.37 1012.1)" font-size="100" font-weight="bold" fill="#0000e6">C</text>
<text transform="matrix(0 -0.33100 0.06907 0 1672.1 1232.27)" font-size="100" font-weight="bold" fill="#d80000">T</text>
<text transform="matrix(0 -0.29812 0.14542 0 1667.21 1233.12)" font-size="100" font-weight="bold" fill="#0000e6">C</text>
<text transform="matrix(0 -0.29053 0.14965 0 1657.05 1232.62)" font-size="100" font-weight="bold" fill="#0ab00a">A</text>
<text transform="matrix(0 -0.28885 0.20135 0 1646.56 1233.08)" font-size="100" font-weight="bold" fill="#f8a300">G</text>
<text transform="matrix(0 -0.29812 0.01678 0 1672.08 1213.03)" font-size="100" font-weight="bold" fill="#0000e6">C</text>
<text transform="matrix(0 -0.33100 0.16117 0 1670.91 1212.18)" font-size="100" font-weight="bold" fill="#d80000">T</text>
<text transform="matrix(0 -0.29053 0.18995 0 1659.82 1212.53)" font-size="100" font-weight="bold" fill="#0ab00a">A</text>
<text transform="matrix(0 -0.28885 0.20135 0 1646.56 1212.99)" font-size="100" font-weight="bold" fill="#f8a300">G</text>
<text transform="matrix(0 -0.29053 0.08058 0 1672.1 1192.44)" font-size="100" font-weight="bold" fill="#0ab00a">A</text>
<text transform="matrix(0 -0.28885 0.48101 0 1666.09 1192.9)" font-size="100" font-weight="bold" fill="#f8a300">G</text>
<text transform="matrix(0 -0.29053 0.01151 0 1672.1 1172.35)" font-size="100" font-weight="bold" fill="#0ab00a">A</text>
<text transform="matrix(0 -0.28885 0.54813 0 1670.77 1172.81)" font-size="100" font-weight="bold" fill="#f8a300">G</text>
<text transform="matrix(0 -0.28885 0.55932 0 1671.55 1152.72)" font-size="100" font-weight="bold" fill="#f8a300">G</text>
<text transform="matrix(0 -0.29053 0.02878 0 1672.1 1132.17)" font-size="100" font-weight="bold" fill="#0ab00a">A</text>
<text transform="matrix(0 -0.33100 0.27053 0 1670.12 1131.81)" font-size="100" font-weight="bold" fill="#d80000">T</text>
<text transform="matrix(0 -0.29812 0.26847 0 1651.25 1132.66)" font-size="100" font-weight="bold" fill="#0000e6">C</text>
<text transform="matrix(0 -0.28885 0.55932 0 1671.55 1112.53)" font-size="100" font-weight="bold" fill="#f8a300">G</text>
<text transform="matrix(0 -0.33100 0.16692 0 1672.1 1091.63)" font-size="100" font-weight="bold" fill="#d80000">T</text>
<text transform="matrix(0 -0.28885 0.39711 0 1660.23 1092.44)" font-size="100" font-weight="bold" fill="#f8a300">G</text>
<text transform="matrix(0 -0.29053 0.09785 0 1672.1 1071.89)" font-size="100" font-weight="bold" fill="#0ab00a">A</text>
<text transform="matrix(0 -0.28885 0.46423 0 1664.91 1072.35)" font-size="100" font-weight="bold" fill="#f8a300">G</text>
<text transform="matrix(0 -0.29812 0.02797 0 1672.07 1052.3)" font-size="100" font-weight="bold" fill="#0000e6">C</text>
<text transform="matrix(0 -0.33100 0.02878 0 1670.12 1051.45)" font-size="100" font-weight="bold" fill="#d80000">T</text>
<text transform="matrix(0 -0.29053 0.09209 0 1668.14 1051.8)" font-size="100" font-weight="bold" fill="#0ab00a">A</text>
<text transform="matrix(0 -0.28885 0.41389 0 1661.4 1052.26)" font-size="100" font-weight="bold" fill="#f8a300">G</text>
<text transform="matrix(0 -0.33100 0.09785 0 1672.1 1031.36)" font-size="100" font-weight="bold" fill="#d80000">T</text>
<text transform="matrix(0 -0.29812 0.46423 0 1664.91 1032.21)" font-size="100" font-weight="bold" fill="#0000e6">C</text>
<text transform="matrix(0 -0.28885 0.06712 0 1672.03 1012.08)" font-size="100" font-weight="bold" fill="#f8a300">G</text>
<text transform="matrix(0 -0.29053 0.11512 0 1667.35 1011.62)" font-size="100" font-weight="bold" fill="#0ab00a">A</text>
<text transform="matrix(0 -0.33100 0.16117 0 1659.43 1011.26)" font-size="100" font-weight="bold" fill="#d80000">T</text>
<text transform="matrix(0 -0.29812 0.22373 0 1648.12 1012.11)" font-size="100" font-weight="bold" fill="#0000e6">C</text>
<text transform="matrix(0 -0.33080 0.10361 0 1737.6 1191.97)" font-size="100" font-weight="bold" fill="#d80000">T</text>
<text transform="matrix(0 -0.29036 0.12663 0 1730.47 1192.32)" font-size="100" font-weight="bold" fill="#0ab00a">A</text>
<text transform="matrix(0 -0.29795 0.12305 0 1721.64 1192.82)" font-size="100" font-weight="bold" fill="#0000e6">C</text>
<text transform="matrix(0 -0.28868 0.21254 0 1712.84 1192.78)" font-size="100" font-weight="bold" fill="#f8a300">G</text>
<text transform="matrix(0 -0.33080 0.04029 0 1737.6 1171.89)" font-size="100" font-weight="bold" fill="#d80000">T</text>
<text transform="matrix(0 -0.29795 0.09508 0 1734.74 1172.74)" font-size="100" font-weight="bold" fill="#0000e6">C</text>
<text transform="matrix(0 -0.28868 0.16220 0 1727.94 1172.7)" font-size="100" font-weight="bold" fill="#f8a300">G</text>
<text transform="matrix(0 -0.29036 0.27053 0 1716.61 1172.24)" font-size="100" font-weight="bold" fill="#0ab00a">A</text>
<text transform="matrix(0 -0.29795 0.02237 0 1737.58 1152.66)" font-size="100" font-weight="bold" fill="#0000e6">C</text>
<text transform="matrix(0 -0.28868 0.02797 0 1735.99 1152.62)" font-size="100" font-weight="bold" fill="#f8a300">G</text>
<text transform="matrix(0 -0.33080 0.52379 0 1734.04 1151.81)" font-size="100" font-weight="bold" fill="#d80000">T</text>
<text transform="matrix(0 -0.29036 0.02878 0 1737.6 1132.08)" font-size="100" font-weight="bold" fill="#0ab00a">A</text>
<text transform="matrix(0 -0.33080 0.12087 0 1735.62 1131.73)" font-size="100" font-weight="bold" fill="#d80000">T</text>
<text transform="matrix(0 -0.28868 0.41389 0 1726.9 1132.54)" font-size="100" font-weight="bold" fill="#f8a300">G</text>
<text transform="matrix(0 -0.33080 0.03454 0 1737.6 1111.65)" font-size="100" font-weight="bold" fill="#d80000">T</text>
<text transform="matrix(0 -0.28868 0.04475 0 1735.18 1112.46)" font-size="100" font-weight="bold" fill="#f8a300">G</text>
<text transform="matrix(0 -0.29036 0.49501 0 1732.06 1112)" font-size="100" font-weight="bold" fill="#0ab00a">A</text>
<text transform="matrix(0 -0.28868 0.05034 0 1737.55 1092.38)" font-size="100" font-weight="bold" fill="#f8a300">G</text>
<text transform="matrix(0 -0.33080 0.09785 0 1734.04 1091.57)" font-size="100" font-weight="bold" fill="#d80000">T</text>
<text transform="matrix(0 -0.29795 0.41389 0 1726.9 1092.42)" font-size="100" font-weight="bold" fill="#0000e6">C</text>
<text transform="matrix(0 -0.29795 0.03915 0 1737.56 1072.34)" font-size="100" font-weight="bold" fill="#0000e6">C</text>
<text transform="matrix(0 -0.29036 0.09785 0 1734.83 1071.84)" font-size="100" font-weight="bold" fill="#0ab00a">A</text>
<text transform="matrix(0 -0.28868 0.42508 0 1727.68 1072.3)" font-size="100" font-weight="bold" fill="#f8a300">G</text>
<text transform="matrix(0 -0.29036 0.03454 0 1737.6 1051.76)" font-size="100" font-weight="bold" fill="#0ab00a">A</text>
<text transform="matrix(0 -0.29795 0.08949 0 1735.14 1052.26)" font-size="100" font-weight="bold" fill="#0000e6">C</text>
<text transform="matrix(0 -0.33080 0.44896 0 1728.89 1051.41)" font-size="100" font-weight="bold" fill="#d80000">T</text>
<text transform="matrix(0 -0.28868 0.02797 0 1737.57 1032.14)" font-size="100" font-weight="bold" fill="#f8a300">G</text>
<text transform="matrix(0 -0.29036 0.17843 0 1735.62 1031.68)" font-size="100" font-weight="bold" fill="#0ab00a">A</text>
<text transform="matrix(0 -0.29795 0.35796 0 1722.99 1032.18)" font-size="100" font-weight="bold" fill="#0000e6">C</text>
<text transform="matrix(0 -0.33080 0.02878 0 1737.6 1011.25)" font-size="100" font-weight="bold" fill="#d80000">T</text>
<text transform="matrix(0 -0.28868 0.05034 0 1735.57 1012.06)" font-size="100" font-weight="bold" fill="#f8a300">G</text>
<text transform="matrix(0 -0.29036 0.49501 0 1732.06 1011.6)" font-size="100" font-weight="bold" fill="#0ab00a">A</text>
<text transform="translate(1281.5 1249) rotate(-90)" x="-66.09" y="0" font-size="23.5">RUNX</text>
<text transform="translate(1344.4 1252.2) rotate(-90)" x="-57.63" y="0" font-size="23.5">ETS1</text>
<text transform="translate(1407.5 1252.2) rotate(-90)" x="-43.27" y="0" font-size="23.5">SP1</text>
<text transform="translate(1470.8 1249) rotate(-90)" x="-49.83" y="0" font-size="23.5">EGR</text>
<text transform="translate(1533.9 1249) rotate(-90)" x="-44.76" y="0" font-size="23.5">EBF</text>
<text transform="translate(1597.1 1249) rotate(-90)" x="-62.75" y="0" font-size="23.5">CEBP</text>
<text transform="translate(1660.4 1249) rotate(-90)" x="-42.16" y="0" font-size="23.5">KLF</text>
<text transform="translate(1723.6 1249) rotate(-90)" x="-94.69" y="0" font-size="23.5">ATF/JUN</text>
<rect x="1786.8" y="682.3" width="211.2" height="288.4" fill="none" stroke="#000" stroke-width="2"/>
<rect x="1787" y="1025.5" width="211" height="288.2" fill="none" stroke="#000" stroke-width="2"/>
<text x="1787.5" y="672.3" font-size="23.9" fill="#000">total 5mC-spikes</text>
<text x="1787.5" y="1015.6" font-size="23.9" fill="#000">specific 5mC-spikes</text>
<text transform="translate(1811 831) rotate(-90)" x="-81.78" y="0" font-size="23.9" fill="#000">fold enrichment</text>
<text transform="translate(1813 1174) rotate(-90)" x="-81.78" y="0" font-size="23.9" fill="#000">fold enrichment</text>
<circle cx="1848.3" cy="728.6" r="25.4" fill="#fff" stroke="#000" stroke-width="1.6"/>
<text x="1825.03" y="736.6" font-size="23.5" fill="#000">12.5</text>
<circle cx="1848.3" cy="790.8" r="22.5" fill="#fff" stroke="#000" stroke-width="1.6"/>
<text x="1834.79" y="798.8" font-size="23.5" fill="#000">10</text>
<circle cx="1848.3" cy="845.7" r="19.6" fill="#fff" stroke="#000" stroke-width="1.6"/>
<text x="1831.86" y="853.7" font-size="23.5" fill="#000">7.5</text>
<circle cx="1848.3" cy="890.5" r="16.2" fill="#fff" stroke="#000" stroke-width="1.6"/>
<text x="1841.79" y="898.5" font-size="23.5" fill="#000">5</text>
<circle cx="1848.3" cy="927.5" r="11" fill="#fff" stroke="#000" stroke-width="1.6"/>
<text x="1831.87" y="958.4" font-size="23.5" fill="#000">2.5</text>
<circle cx="1846.2" cy="1095.5" r="25.2" fill="#fff" stroke="#000" stroke-width="1.6"/>
<text x="1833" y="1103.5" font-size="23.5" fill="#000">20</text>
<circle cx="1846.2" cy="1156.4" r="21.8" fill="#fff" stroke="#000" stroke-width="1.6"/>
<text x="1832.73" y="1164.4" font-size="23.5" fill="#000">15</text>
<circle cx="1846.2" cy="1206.8" r="18.9" fill="#fff" stroke="#000" stroke-width="1.6"/>
<text x="1832.69" y="1214.8" font-size="23.5" fill="#000">10</text>
<circle cx="1846.2" cy="1246.7" r="13.9" fill="#fff" stroke="#000" stroke-width="1.6"/>
<text x="1839.69" y="1254.7" font-size="23.5" fill="#000">5</text>
<defs><linearGradient id="cb1" x1="0" y1="0" x2="0" y2="1"><stop offset="0" stop-color="#eeff00"/><stop offset="0.22" stop-color="#b4ff00"/><stop offset="0.455" stop-color="#12ff12"/><stop offset="0.48" stop-color="#3ee63e"/><stop offset="0.6" stop-color="#6cc078"/><stop offset="0.72" stop-color="#7a90a4"/><stop offset="0.84" stop-color="#6a64d0"/><stop offset="1" stop-color="#1e1eff"/></linearGradient>
<linearGradient id="cb2" x1="0" y1="0" x2="0" y2="1"><stop offset="0" stop-color="#ffe6f0"/><stop offset="0.5" stop-color="#ff1493"/><stop offset="1" stop-color="#b22030"/></linearGradient></defs>
<rect x="1916.8" y="743.6" width="33.2" height="165.1" fill="url(#cb1)" stroke="#000" stroke-width="1.6"/>
<rect x="1914.3" y="1086.2" width="32.7" height="164.7" fill="url(#cb2)" stroke="#000" stroke-width="1.6"/>
<line x1="1950" y1="747.4" x2="1956" y2="747.4" stroke="#000" stroke-width="2"/>
<text x="1962.3" y="755.6" font-size="24" fill="#000">0</text>
<line x1="1950" y1="784" x2="1956" y2="784" stroke="#000" stroke-width="2"/>
<text x="1961.8" y="792.2" font-size="24" fill="#000">−1</text>
<line x1="1950" y1="822.5" x2="1956" y2="822.5" stroke="#000" stroke-width="2"/>
<text x="1961.8" y="830.7" font-size="24" fill="#000">−2</text>
<line x1="1950" y1="859.5" x2="1956" y2="859.5" stroke="#000" stroke-width="2"/>
<text x="1961.8" y="867.7" font-size="24" fill="#000">−3</text>
<line x1="1950" y1="896.8" x2="1956" y2="896.8" stroke="#000" stroke-width="2"/>
<text x="1961.8" y="905" font-size="24" fill="#000">−4</text>
<line x1="1947" y1="1089" x2="1953" y2="1089" stroke="#000" stroke-width="2"/>
<text x="1961.3" y="1097.2" font-size="24" fill="#000">0</text>
<line x1="1947" y1="1124.9" x2="1953" y2="1124.9" stroke="#000" stroke-width="2"/>
<text x="1960.8" y="1133.1" font-size="24" fill="#000">−1</text>
<line x1="1947" y1="1162.7" x2="1953" y2="1162.7" stroke="#000" stroke-width="2"/>
<text x="1960.8" y="1170.9" font-size="24" fill="#000">−2</text>
<line x1="1947" y1="1200.5" x2="1953" y2="1200.5" stroke="#000" stroke-width="2"/>
<text x="1960.8" y="1208.7" font-size="24" fill="#000">−3</text>
<line x1="1947" y1="1239.2" x2="1953" y2="1239.2" stroke="#000" stroke-width="2"/>
<text x="1960.8" y="1247.4" font-size="24" fill="#000">−4</text>
<text transform="translate(1906.5 820) rotate(-90)" x="0" y="0" font-size="25.2" text-anchor="middle">adj. P-value (log<tspan font-size="16.5" dy="5">10</tspan><tspan dy="-5">)</tspan></text>
<text transform="translate(1902 1172.5) rotate(-90)" x="0" y="0" font-size="25.2" text-anchor="middle">adj. P-value (log<tspan font-size="16.5" dy="5">10</tspan><tspan dy="-5">)</tspan></text>
<text x="-1" y="1010.3" font-size="48.5" fill="#000" font-weight="bold">g</text>
<text x="181.56" y="1059" font-size="32.21" fill="#000">ChIP-seq peaks</text>
<text x="246.95" y="1104" font-size="23.8" fill="#000">CEBPA, liver</text>
<rect x="390.7" y="1081.2" width="26.6" height="26.5" fill="#f5822a" stroke="#444" stroke-width="1.3"/>
<text x="238.21" y="1148.5" font-size="23.8" fill="#000">CEBPB, MAC</text>
<rect x="390.7" y="1127" width="26.6" height="26.5" fill="#1e74d0" stroke="#444" stroke-width="1.3"/>
<text x="71.56" y="1191.5" font-size="23.8" fill="#000">CEBPA, liver &amp; CEBPB, MAC</text>
<rect x="390.7" y="1172.6" width="26.6" height="26.5" fill="#8b7355" stroke="#444" stroke-width="1.3"/>
<text x="169.57" y="1241" font-size="23.8" fill="#000">CEBPB, MO &amp; MAC</text>
<rect x="390" y="1218.7" width="26.6" height="26.5" fill="#9400d3" stroke="#444" stroke-width="1.3"/>
<text x="2.93" y="1286.5" font-size="23.8" fill="#000">CEBPA, liver &amp; CEBPB, MO &amp; MAC</text>
<rect x="390" y="1264.8" width="26.6" height="26.5" fill="#4b3b8c" stroke="#444" stroke-width="1.3"/>
<text x="272.76" y="1329" font-size="23.8" fill="#000">no overlap</text>
<rect x="390" y="1310.9" width="26.6" height="26.5" fill="#bebebe" stroke="#444" stroke-width="1.3"/>
<path d="M563.2 1201.2 L667.4 1201.2 A104.2 104.2 0 0 0 529.1 1102.74 Z" fill="#bebebe" stroke="#111" stroke-width="1.2" stroke-linejoin="round"/>
<path d="M563.2 1201.2 L529.1 1102.74 A104.2 104.2 0 0 0 482.91 1134.78 Z" fill="#f5822a" stroke="#111" stroke-width="1.2" stroke-linejoin="round"/>
<path d="M563.2 1201.2 L482.91 1134.78 A104.2 104.2 0 0 0 462.55 1228.17 Z" fill="#1e74d0" stroke="#111" stroke-width="1.2" stroke-linejoin="round"/>
<path d="M563.2 1201.2 L462.55 1228.17 A104.2 104.2 0 0 0 544.75 1303.75 Z" fill="#8b7355" stroke="#111" stroke-width="1.2" stroke-linejoin="round"/>
<path d="M563.2 1201.2 L544.75 1303.75 A104.2 104.2 0 0 0 555.75 1305.13 Z" fill="#9400d3" stroke="#111" stroke-width="1.2" stroke-linejoin="round"/>
<path d="M563.2 1201.2 L555.75 1305.13 A104.2 104.2 0 0 0 667.4 1201.2 Z" fill="#4b3b8c" stroke="#111" stroke-width="1.2" stroke-linejoin="round"/>
<text x="538.13" y="1060.7" font-size="32.3" fill="#000">MO</text>
<text x="539.77" y="1085.4" font-size="23.5" fill="#000">(118)</text>
<path d="M794 1201.2 L898.2 1201.2 A104.2 104.2 0 0 0 714.41 1133.94 Z" fill="#bebebe" stroke="#111" stroke-width="1.2" stroke-linejoin="round"/>
<path d="M794 1201.2 L714.41 1133.94 A104.2 104.2 0 0 0 691.96 1180.07 Z" fill="#f5822a" stroke="#111" stroke-width="1.2" stroke-linejoin="round"/>
<path d="M794 1201.2 L691.96 1180.07 A104.2 104.2 0 0 0 720.71 1275.27 Z" fill="#1e74d0" stroke="#111" stroke-width="1.2" stroke-linejoin="round"/>
<path d="M794 1201.2 L720.71 1275.27 A104.2 104.2 0 0 0 826.55 1300.19 Z" fill="#8b7355" stroke="#111" stroke-width="1.2" stroke-linejoin="round"/>
<path d="M794 1201.2 L826.55 1300.19 A104.2 104.2 0 0 0 841.14 1294.13 Z" fill="#9400d3" stroke="#111" stroke-width="1.2" stroke-linejoin="round"/>
<path d="M794 1201.2 L841.14 1294.13 A104.2 104.2 0 0 0 898.2 1201.2 Z" fill="#4b3b8c" stroke="#111" stroke-width="1.2" stroke-linejoin="round"/>
<text x="769.12" y="1060.7" font-size="32.3" fill="#000">Neu</text>
<text x="770.07" y="1085.4" font-size="23.5" fill="#000">(206)</text>
<path d="M1024.6 1201.2 L1128.8 1201.2 A104.2 104.2 0 0 0 956.93 1121.97 Z" fill="#bebebe" stroke="#111" stroke-width="1.2" stroke-linejoin="round"/>
<path d="M1024.6 1201.2 L956.93 1121.97 A104.2 104.2 0 0 0 941.38 1138.49 Z" fill="#f5822a" stroke="#111" stroke-width="1.2" stroke-linejoin="round"/>
<path d="M1024.6 1201.2 L941.38 1138.49 A104.2 104.2 0 0 0 923.19 1225.17 Z" fill="#1e74d0" stroke="#111" stroke-width="1.2" stroke-linejoin="round"/>
<path d="M1024.6 1201.2 L923.19 1225.17 A104.2 104.2 0 0 0 1052.27 1301.66 Z" fill="#8b7355" stroke="#111" stroke-width="1.2" stroke-linejoin="round"/>
<path d="M1024.6 1201.2 L1052.27 1301.66 A104.2 104.2 0 0 0 1062.28 1298.35 Z" fill="#9400d3" stroke="#111" stroke-width="1.2" stroke-linejoin="round"/>
<path d="M1024.6 1201.2 L1062.28 1298.35 A104.2 104.2 0 0 0 1128.8 1201.2 Z" fill="#4b3b8c" stroke="#111" stroke-width="1.2" stroke-linejoin="round"/>
<text x="986.54" y="1060.7" font-size="32.3" fill="#000">Liver</text>
<text x="994.17" y="1085.4" font-size="23.5" fill="#000">(121)</text>
<text x="533.62" y="1344.6" font-size="31.99" fill="#000">5mC-spikes in CEBP consensus motif</text>
<text x="-1.5" y="1476" font-size="48.5" fill="#000" font-weight="bold">h</text>
<text x="214.58" y="1569" font-size="24.2" fill="#c8102e">MO</text>
<text x="212.99" y="1605.1" font-size="24.2" fill="#13a0a0">iDC</text>
<text x="209.61" y="1642.5" font-size="24.2" fill="#0b64a4">Neu</text>
<text x="194.84" y="1678.8" font-size="24.2" fill="#0bc63a">B cell</text>
<text x="196.2" y="1714.4" font-size="24.2" fill="#ffc60a">T cell</text>
<text x="177.37" y="1749.2" font-size="24.2" fill="#96cc0a">NK cell</text>
<text x="200.35" y="1784.2" font-size="24.2" fill="#9a6404">Liver</text>
<text x="204.45" y="1810" font-size="24.2" fill="#000">CpG</text>
<text x="127.53" y="1846.8" font-size="24.2" fill="#c8102e">MO CEBPB</text>
<text x="112.73" y="1883.3" font-size="24.2" fill="#8c8c8c">MAC CEBPB</text>
<text x="116.25" y="1916.8" font-size="23.7" fill="#9a6404">Liver CEBPA</text>
<line x1="140" y1="1548" x2="140" y2="1784" stroke="#000" stroke-width="3.8"/>
<text transform="translate(131.5 1661) rotate(-90)" x="-48.14" y="0" font-size="31.94" fill="#000">WGBS</text>
<line x1="99.3" y1="1823" x2="99.3" y2="1920" stroke="#000" stroke-width="3.8"/>
<text transform="translate(89.5 1871.05) rotate(-90)" x="-34.95" y="0" font-size="31.47" fill="#000">ChIP</text>
<text x="130.5" y="2037" font-size="24.2" fill="#1a1aa8">CEBP motif</text>
<line x1="271.3" y1="1516.3" x2="386.83" y2="1516.3" stroke="#000" stroke-width="2"/>
<line x1="471.57" y1="1516.3" x2="589.9" y2="1516.3" stroke="#000" stroke-width="2"/>
<path d="M264.8 1516.3 L274.8 1512.3 L274.8 1520.3 Z" fill="#000"/>
<path d="M596.4 1516.3 L586.4 1520.3 L586.4 1512.3 Z" fill="#000"/>
<text x="399.78" y="1521.3" font-size="20.8" fill="#000">2.8 kb</text>
<rect x="265.3" y="1540" width="330.6" height="383.7" fill="#f8f8f8"/>
<rect x="268.2" y="1546.82" width="1.6" height="29.03" fill="#c8102e"/>
<rect x="275.9" y="1547.28" width="1.6" height="28.57" fill="#c8102e"/>
<rect x="286.6" y="1547.02" width="1.6" height="28.83" fill="#c8102e"/>
<rect x="300.2" y="1547.37" width="1.6" height="28.48" fill="#c8102e"/>
<rect x="316.1" y="1547.41" width="1.6" height="28.44" fill="#c8102e"/>
<rect x="322" y="1546.56" width="1.6" height="29.29" fill="#c8102e"/>
<rect x="323.8" y="1546.48" width="1.6" height="29.37" fill="#c8102e"/>
<rect x="325.6" y="1547.73" width="1.6" height="28.12" fill="#c8102e"/>
<rect x="334" y="1546.85" width="1.6" height="29" fill="#c8102e"/>
<rect x="343" y="1546.81" width="1.6" height="29.04" fill="#c8102e"/>
<rect x="349.2" y="1547.97" width="1.6" height="27.88" fill="#c8102e"/>
<rect x="351.6" y="1547.17" width="1.6" height="28.68" fill="#c8102e"/>
<rect x="353.3" y="1547.73" width="1.6" height="28.12" fill="#c8102e"/>
<rect x="355" y="1547.18" width="1.6" height="28.67" fill="#c8102e"/>
<rect x="362.4" y="1547.43" width="1.6" height="28.42" fill="#c8102e"/>
<rect x="373.5" y="1546.69" width="1.6" height="29.16" fill="#c8102e"/>
<rect x="383.3" y="1547.42" width="1.6" height="28.43" fill="#c8102e"/>
<rect x="386.8" y="1547.77" width="1.6" height="28.08" fill="#c8102e"/>
<rect x="388.53" y="1547.25" width="1.6" height="28.6" fill="#c8102e"/>
<rect x="390.27" y="1547.58" width="1.6" height="28.27" fill="#c8102e"/>
<rect x="392" y="1547.48" width="1.6" height="28.37" fill="#c8102e"/>
<rect x="394.4" y="1546.56" width="1.6" height="29.29" fill="#c8102e"/>
<rect x="396.1" y="1547.61" width="1.6" height="28.24" fill="#c8102e"/>
<rect x="397.8" y="1547.35" width="1.6" height="28.5" fill="#c8102e"/>
<rect x="399.4" y="1546.92" width="1.6" height="28.93" fill="#c8102e"/>
<rect x="401.13" y="1546.51" width="1.6" height="29.34" fill="#c8102e"/>
<rect x="402.85" y="1547.77" width="1.6" height="28.08" fill="#c8102e"/>
<rect x="404.58" y="1547.18" width="1.6" height="28.67" fill="#c8102e"/>
<rect x="406.31" y="1547.55" width="1.6" height="28.3" fill="#c8102e"/>
<rect x="408.04" y="1547.79" width="1.6" height="28.06" fill="#c8102e"/>
<rect x="409.76" y="1547.54" width="1.6" height="28.31" fill="#c8102e"/>
<rect x="411.49" y="1547.85" width="1.6" height="28" fill="#c8102e"/>
<rect x="413.22" y="1547.06" width="1.6" height="28.79" fill="#c8102e"/>
<rect x="414.95" y="1547.67" width="1.6" height="28.18" fill="#c8102e"/>
<rect x="416.67" y="1547.13" width="1.6" height="28.72" fill="#c8102e"/>
<rect x="418.4" y="1547.88" width="1.6" height="27.97" fill="#c8102e"/>
<rect x="420" y="1549.67" width="1.6" height="26.18" fill="#c8102e"/>
<rect x="421.53" y="1551.76" width="1.6" height="24.09" fill="#c8102e"/>
<rect x="423.07" y="1553.85" width="1.6" height="22" fill="#c8102e"/>
<rect x="424.6" y="1555.94" width="1.6" height="19.91" fill="#c8102e"/>
<rect x="426.4" y="1558.4" width="1.6" height="17.45" fill="#c8102e"/>
<rect x="428.6" y="1570.4" width="1.6" height="5.45" fill="#c8102e"/>
<rect x="430.2" y="1547.06" width="1.6" height="28.79" fill="#c8102e"/>
<rect x="431.8" y="1566.76" width="1.6" height="9.09" fill="#c8102e"/>
<rect x="433.4" y="1572.21" width="1.6" height="3.64" fill="#c8102e"/>
<rect x="435.4" y="1570.4" width="1.6" height="5.45" fill="#c8102e"/>
<rect x="437.6" y="1547.06" width="1.6" height="28.79" fill="#c8102e"/>
<rect x="440.8" y="1549.19" width="1.6" height="26.66" fill="#c8102e"/>
<rect x="452" y="1547.83" width="1.6" height="28.02" fill="#c8102e"/>
<rect x="459.2" y="1574.33" width="1.6" height="1.52" fill="#c8102e"/>
<rect x="505.6" y="1562.21" width="1.6" height="13.63" fill="#c8102e"/>
<rect x="507.4" y="1562.21" width="1.6" height="13.63" fill="#c8102e"/>
<rect x="510.6" y="1571.3" width="1.6" height="4.54" fill="#c8102e"/>
<rect x="541" y="1547.76" width="1.6" height="28.09" fill="#c8102e"/>
<rect x="545.8" y="1547.92" width="1.6" height="27.93" fill="#c8102e"/>
<rect x="547.38" y="1547.83" width="1.6" height="28.02" fill="#c8102e"/>
<rect x="548.96" y="1547.32" width="1.6" height="28.53" fill="#c8102e"/>
<rect x="550.54" y="1547.54" width="1.6" height="28.31" fill="#c8102e"/>
<rect x="552.12" y="1546.78" width="1.6" height="29.07" fill="#c8102e"/>
<rect x="553.7" y="1547.72" width="1.6" height="28.13" fill="#c8102e"/>
<rect x="557.6" y="1547.33" width="1.6" height="28.52" fill="#c8102e"/>
<rect x="566.2" y="1546.89" width="1.6" height="28.96" fill="#c8102e"/>
<rect x="570.8" y="1546.56" width="1.6" height="29.29" fill="#c8102e"/>
<rect x="572.4" y="1547.75" width="1.6" height="28.1" fill="#c8102e"/>
<line x1="265.3" y1="1576.35" x2="595.9" y2="1576.35" stroke="#d2d2d2" stroke-width="1.2"/>
<line x1="596.9" y1="1548" x2="601.4" y2="1548" stroke="#c8102e" stroke-width="1.5"/>
<text x="600.4" y="1561" font-size="19.5" fill="#c8102e" letter-spacing="-0.6">100</text>
<rect x="268.2" y="1589.17" width="1.6" height="22.73" fill="#13a0a0"/>
<rect x="300.2" y="1583.14" width="1.6" height="28.76" fill="#13a0a0"/>
<rect x="316.1" y="1582.69" width="1.6" height="29.21" fill="#13a0a0"/>
<rect x="322" y="1583.43" width="1.6" height="28.47" fill="#13a0a0"/>
<rect x="323.8" y="1583.66" width="1.6" height="28.24" fill="#13a0a0"/>
<rect x="325.6" y="1583.08" width="1.6" height="28.82" fill="#13a0a0"/>
<rect x="334" y="1583.4" width="1.6" height="28.5" fill="#13a0a0"/>
<rect x="343" y="1583.34" width="1.6" height="28.56" fill="#13a0a0"/>
<rect x="349.2" y="1583.91" width="1.6" height="27.99" fill="#13a0a0"/>
<rect x="351.6" y="1582.93" width="1.6" height="28.97" fill="#13a0a0"/>
<rect x="353.3" y="1582.87" width="1.6" height="29.03" fill="#13a0a0"/>
<rect x="355" y="1582.56" width="1.6" height="29.34" fill="#13a0a0"/>
<rect x="362.4" y="1582.52" width="1.6" height="29.38" fill="#13a0a0"/>
<rect x="373.5" y="1582.67" width="1.6" height="29.23" fill="#13a0a0"/>
<rect x="383.3" y="1583.32" width="1.6" height="28.58" fill="#13a0a0"/>
<rect x="386.8" y="1583.95" width="1.6" height="27.95" fill="#13a0a0"/>
<rect x="388.53" y="1583.98" width="1.6" height="27.92" fill="#13a0a0"/>
<rect x="390.27" y="1582.95" width="1.6" height="28.95" fill="#13a0a0"/>
<rect x="392" y="1582.91" width="1.6" height="28.99" fill="#13a0a0"/>
<rect x="394.4" y="1583.55" width="1.6" height="28.35" fill="#13a0a0"/>
<rect x="396.1" y="1583.99" width="1.6" height="27.91" fill="#13a0a0"/>
<rect x="397.8" y="1583.02" width="1.6" height="28.88" fill="#13a0a0"/>
<rect x="399.4" y="1582.64" width="1.6" height="29.26" fill="#13a0a0"/>
<rect x="401.13" y="1583.95" width="1.6" height="27.95" fill="#13a0a0"/>
<rect x="402.85" y="1586.46" width="1.6" height="25.44" fill="#13a0a0"/>
<rect x="404.58" y="1584.78" width="1.6" height="27.12" fill="#13a0a0"/>
<rect x="406.31" y="1584.08" width="1.6" height="27.82" fill="#13a0a0"/>
<rect x="408.04" y="1585.83" width="1.6" height="26.07" fill="#13a0a0"/>
<rect x="409.76" y="1585.56" width="1.6" height="26.34" fill="#13a0a0"/>
<rect x="411.49" y="1583.97" width="1.6" height="27.93" fill="#13a0a0"/>
<rect x="413.22" y="1584.1" width="1.6" height="27.8" fill="#13a0a0"/>
<rect x="414.95" y="1586.61" width="1.6" height="25.29" fill="#13a0a0"/>
<rect x="416.67" y="1584.32" width="1.6" height="27.58" fill="#13a0a0"/>
<rect x="418.4" y="1582.74" width="1.6" height="29.16" fill="#13a0a0"/>
<rect x="420" y="1588.34" width="1.6" height="23.56" fill="#13a0a0"/>
<rect x="421.53" y="1590.22" width="1.6" height="21.68" fill="#13a0a0"/>
<rect x="423.07" y="1592.1" width="1.6" height="19.8" fill="#13a0a0"/>
<rect x="424.6" y="1593.98" width="1.6" height="17.92" fill="#13a0a0"/>
<rect x="426.4" y="1596.19" width="1.6" height="15.71" fill="#13a0a0"/>
<rect x="428.6" y="1603.72" width="1.6" height="8.18" fill="#13a0a0"/>
<rect x="430.2" y="1585.99" width="1.6" height="25.91" fill="#13a0a0"/>
<rect x="431.8" y="1606.99" width="1.6" height="4.91" fill="#13a0a0"/>
<rect x="433.4" y="1608.63" width="1.6" height="3.27" fill="#13a0a0"/>
<rect x="435.4" y="1608.63" width="1.6" height="3.27" fill="#13a0a0"/>
<rect x="437.6" y="1586.14" width="1.6" height="25.75" fill="#13a0a0"/>
<rect x="440.8" y="1586.14" width="1.6" height="25.75" fill="#13a0a0"/>
<rect x="452" y="1583.47" width="1.6" height="28.43" fill="#13a0a0"/>
<rect x="459.2" y="1610.38" width="1.6" height="1.52" fill="#13a0a0"/>
<rect x="487.7" y="1610.69" width="1.6" height="1.21" fill="#13a0a0"/>
<rect x="492.4" y="1610.69" width="1.6" height="1.21" fill="#13a0a0"/>
<rect x="505.6" y="1599.78" width="1.6" height="12.12" fill="#13a0a0"/>
<rect x="507.4" y="1599.78" width="1.6" height="12.12" fill="#13a0a0"/>
<rect x="510.6" y="1601.29" width="1.6" height="10.61" fill="#13a0a0"/>
<rect x="541" y="1583.4" width="1.6" height="28.5" fill="#13a0a0"/>
<rect x="557.6" y="1582.78" width="1.6" height="29.12" fill="#13a0a0"/>
<rect x="566.2" y="1582.79" width="1.6" height="29.11" fill="#13a0a0"/>
<rect x="570.8" y="1583.66" width="1.6" height="28.24" fill="#13a0a0"/>
<rect x="572.4" y="1583.79" width="1.6" height="28.11" fill="#13a0a0"/>
<line x1="265.3" y1="1612.4" x2="595.9" y2="1612.4" stroke="#d2d2d2" stroke-width="1.2"/>
<line x1="596.9" y1="1584.05" x2="601.4" y2="1584.05" stroke="#13a0a0" stroke-width="1.5"/>
<text x="600.4" y="1597.05" font-size="19.5" fill="#13a0a0" letter-spacing="-0.6">100</text>
<rect x="268.2" y="1626.74" width="1.6" height="21.21" fill="#0b64a4"/>
<rect x="275.9" y="1618.9" width="1.6" height="29.05" fill="#0b64a4"/>
<rect x="286.6" y="1619.79" width="1.6" height="28.16" fill="#0b64a4"/>
<rect x="300.2" y="1620.01" width="1.6" height="27.94" fill="#0b64a4"/>
<rect x="316.1" y="1618.68" width="1.6" height="29.27" fill="#0b64a4"/>
<rect x="322" y="1619.68" width="1.6" height="28.27" fill="#0b64a4"/>
<rect x="323.8" y="1618.89" width="1.6" height="29.06" fill="#0b64a4"/>
<rect x="325.6" y="1619.42" width="1.6" height="28.53" fill="#0b64a4"/>
<rect x="334" y="1618.97" width="1.6" height="28.98" fill="#0b64a4"/>
<rect x="343" y="1619.75" width="1.6" height="28.2" fill="#0b64a4"/>
<rect x="349.2" y="1618.61" width="1.6" height="29.34" fill="#0b64a4"/>
<rect x="351.6" y="1620.01" width="1.6" height="27.94" fill="#0b64a4"/>
<rect x="353.3" y="1619.04" width="1.6" height="28.91" fill="#0b64a4"/>
<rect x="355" y="1619.83" width="1.6" height="28.12" fill="#0b64a4"/>
<rect x="362.4" y="1619.43" width="1.6" height="28.52" fill="#0b64a4"/>
<rect x="373.5" y="1619.87" width="1.6" height="28.08" fill="#0b64a4"/>
<rect x="383.3" y="1619.07" width="1.6" height="28.88" fill="#0b64a4"/>
<rect x="386.8" y="1619.81" width="1.6" height="28.14" fill="#0b64a4"/>
<rect x="388.53" y="1618.69" width="1.6" height="29.26" fill="#0b64a4"/>
<rect x="390.27" y="1619.5" width="1.6" height="28.45" fill="#0b64a4"/>
<rect x="392" y="1619.45" width="1.6" height="28.5" fill="#0b64a4"/>
<rect x="394.4" y="1619.2" width="1.6" height="28.75" fill="#0b64a4"/>
<rect x="396.1" y="1619.34" width="1.6" height="28.61" fill="#0b64a4"/>
<rect x="397.8" y="1619.85" width="1.6" height="28.1" fill="#0b64a4"/>
<rect x="399.4" y="1619.26" width="1.6" height="28.69" fill="#0b64a4"/>
<rect x="401.13" y="1619.52" width="1.6" height="28.43" fill="#0b64a4"/>
<rect x="402.85" y="1619" width="1.6" height="28.95" fill="#0b64a4"/>
<rect x="404.58" y="1619.42" width="1.6" height="28.53" fill="#0b64a4"/>
<rect x="406.31" y="1618.61" width="1.6" height="29.34" fill="#0b64a4"/>
<rect x="408.04" y="1619.19" width="1.6" height="28.76" fill="#0b64a4"/>
<rect x="409.76" y="1618.86" width="1.6" height="29.09" fill="#0b64a4"/>
<rect x="411.49" y="1619.28" width="1.6" height="28.67" fill="#0b64a4"/>
<rect x="413.22" y="1619.82" width="1.6" height="28.13" fill="#0b64a4"/>
<rect x="414.95" y="1619.5" width="1.6" height="28.45" fill="#0b64a4"/>
<rect x="416.67" y="1619.33" width="1.6" height="28.62" fill="#0b64a4"/>
<rect x="418.4" y="1619.41" width="1.6" height="28.54" fill="#0b64a4"/>
<rect x="420" y="1621.77" width="1.6" height="26.18" fill="#0b64a4"/>
<rect x="421.53" y="1623.86" width="1.6" height="24.09" fill="#0b64a4"/>
<rect x="423.07" y="1625.95" width="1.6" height="22" fill="#0b64a4"/>
<rect x="424.6" y="1628.04" width="1.6" height="19.91" fill="#0b64a4"/>
<rect x="426.4" y="1630.5" width="1.6" height="17.45" fill="#0b64a4"/>
<rect x="428.6" y="1635.83" width="1.6" height="12.12" fill="#0b64a4"/>
<rect x="430.2" y="1619.16" width="1.6" height="28.79" fill="#0b64a4"/>
<rect x="431.8" y="1644.31" width="1.6" height="3.64" fill="#0b64a4"/>
<rect x="433.4" y="1638.86" width="1.6" height="9.09" fill="#0b64a4"/>
<rect x="435.4" y="1640.37" width="1.6" height="7.58" fill="#0b64a4"/>
<rect x="437.6" y="1629.77" width="1.6" height="18.18" fill="#0b64a4"/>
<rect x="440.8" y="1625.22" width="1.6" height="22.73" fill="#0b64a4"/>
<rect x="452" y="1618.93" width="1.6" height="29.02" fill="#0b64a4"/>
<rect x="459.2" y="1646.43" width="1.6" height="1.52" fill="#0b64a4"/>
<rect x="505.6" y="1629.77" width="1.6" height="18.18" fill="#0b64a4"/>
<rect x="507.4" y="1629.77" width="1.6" height="18.18" fill="#0b64a4"/>
<rect x="510.6" y="1629.77" width="1.6" height="18.18" fill="#0b64a4"/>
<rect x="541" y="1618.63" width="1.6" height="29.32" fill="#0b64a4"/>
<rect x="545.8" y="1619.29" width="1.6" height="28.66" fill="#0b64a4"/>
<rect x="547.38" y="1618.74" width="1.6" height="29.21" fill="#0b64a4"/>
<rect x="548.96" y="1619.32" width="1.6" height="28.63" fill="#0b64a4"/>
<rect x="550.54" y="1618.92" width="1.6" height="29.03" fill="#0b64a4"/>
<rect x="552.12" y="1618.59" width="1.6" height="29.36" fill="#0b64a4"/>
<rect x="553.7" y="1619.37" width="1.6" height="28.58" fill="#0b64a4"/>
<rect x="557.6" y="1618.64" width="1.6" height="29.31" fill="#0b64a4"/>
<rect x="566.2" y="1619.94" width="1.6" height="28.01" fill="#0b64a4"/>
<rect x="570.8" y="1618.73" width="1.6" height="29.22" fill="#0b64a4"/>
<rect x="572.4" y="1618.75" width="1.6" height="29.2" fill="#0b64a4"/>
<line x1="265.3" y1="1648.45" x2="595.9" y2="1648.45" stroke="#d2d2d2" stroke-width="1.2"/>
<line x1="596.9" y1="1620.1" x2="601.4" y2="1620.1" stroke="#0b64a4" stroke-width="1.5"/>
<text x="600.4" y="1633.1" font-size="19.5" fill="#0b64a4" letter-spacing="-0.6">100</text>
<rect x="268.2" y="1654.91" width="1.6" height="29.09" fill="#0bc63a"/>
<rect x="275.9" y="1655.42" width="1.6" height="28.58" fill="#0bc63a"/>
<rect x="286.6" y="1655.85" width="1.6" height="28.15" fill="#0bc63a"/>
<rect x="300.2" y="1654.87" width="1.6" height="29.13" fill="#0bc63a"/>
<rect x="316.1" y="1655.81" width="1.6" height="28.19" fill="#0bc63a"/>
<rect x="322" y="1656.01" width="1.6" height="27.99" fill="#0bc63a"/>
<rect x="323.8" y="1655.83" width="1.6" height="28.17" fill="#0bc63a"/>
<rect x="325.6" y="1655.86" width="1.6" height="28.14" fill="#0bc63a"/>
<rect x="334" y="1654.62" width="1.6" height="29.38" fill="#0bc63a"/>
<rect x="343" y="1655.56" width="1.6" height="28.44" fill="#0bc63a"/>
<rect x="349.2" y="1655.92" width="1.6" height="28.08" fill="#0bc63a"/>
<rect x="351.6" y="1654.68" width="1.6" height="29.32" fill="#0bc63a"/>
<rect x="353.3" y="1655.02" width="1.6" height="28.98" fill="#0bc63a"/>
<rect x="355" y="1655.02" width="1.6" height="28.98" fill="#0bc63a"/>
<rect x="362.4" y="1655.41" width="1.6" height="28.59" fill="#0bc63a"/>
<rect x="373.5" y="1655.25" width="1.6" height="28.75" fill="#0bc63a"/>
<rect x="383.3" y="1655.33" width="1.6" height="28.67" fill="#0bc63a"/>
<rect x="386.8" y="1655.79" width="1.6" height="28.21" fill="#0bc63a"/>
<rect x="388.53" y="1654.61" width="1.6" height="29.39" fill="#0bc63a"/>
<rect x="390.27" y="1654.69" width="1.6" height="29.31" fill="#0bc63a"/>
<rect x="392" y="1654.8" width="1.6" height="29.2" fill="#0bc63a"/>
<rect x="394.4" y="1654.8" width="1.6" height="29.2" fill="#0bc63a"/>
<rect x="396.1" y="1654.71" width="1.6" height="29.29" fill="#0bc63a"/>
<rect x="397.8" y="1656.09" width="1.6" height="27.91" fill="#0bc63a"/>
<rect x="399.4" y="1655.9" width="1.6" height="28.1" fill="#0bc63a"/>
<rect x="401.13" y="1654.74" width="1.6" height="29.26" fill="#0bc63a"/>
<rect x="402.85" y="1655.37" width="1.6" height="28.63" fill="#0bc63a"/>
<rect x="404.58" y="1655.09" width="1.6" height="28.91" fill="#0bc63a"/>
<rect x="406.31" y="1655.09" width="1.6" height="28.91" fill="#0bc63a"/>
<rect x="408.04" y="1655.14" width="1.6" height="28.86" fill="#0bc63a"/>
<rect x="409.76" y="1655.59" width="1.6" height="28.41" fill="#0bc63a"/>
<rect x="411.49" y="1655.5" width="1.6" height="28.5" fill="#0bc63a"/>
<rect x="413.22" y="1655.16" width="1.6" height="28.84" fill="#0bc63a"/>
<rect x="414.95" y="1654.9" width="1.6" height="29.1" fill="#0bc63a"/>
<rect x="416.67" y="1655.11" width="1.6" height="28.89" fill="#0bc63a"/>
<rect x="418.4" y="1654.8" width="1.6" height="29.2" fill="#0bc63a"/>
<rect x="420" y="1655.45" width="1.6" height="28.55" fill="#0bc63a"/>
<rect x="421.53" y="1655.69" width="1.6" height="28.31" fill="#0bc63a"/>
<rect x="423.07" y="1655.19" width="1.6" height="28.81" fill="#0bc63a"/>
<rect x="424.6" y="1654.73" width="1.6" height="29.27" fill="#0bc63a"/>
<rect x="426.4" y="1654.88" width="1.6" height="29.12" fill="#0bc63a"/>
<rect x="428.6" y="1655.17" width="1.6" height="28.83" fill="#0bc63a"/>
<rect x="430.2" y="1655.52" width="1.6" height="28.48" fill="#0bc63a"/>
<rect x="431.8" y="1655.79" width="1.6" height="28.21" fill="#0bc63a"/>
<rect x="433.4" y="1655.19" width="1.6" height="28.81" fill="#0bc63a"/>
<rect x="435.4" y="1655.82" width="1.6" height="28.18" fill="#0bc63a"/>
<rect x="437.6" y="1655.55" width="1.6" height="28.45" fill="#0bc63a"/>
<rect x="439" y="1655.26" width="1.6" height="28.74" fill="#0bc63a"/>
<rect x="440.8" y="1655.17" width="1.6" height="28.83" fill="#0bc63a"/>
<rect x="452" y="1655.36" width="1.6" height="28.64" fill="#0bc63a"/>
<rect x="459.2" y="1664.31" width="1.6" height="19.7" fill="#0bc63a"/>
<rect x="487.7" y="1664.31" width="1.6" height="19.7" fill="#0bc63a"/>
<rect x="492.4" y="1655.66" width="1.6" height="28.34" fill="#0bc63a"/>
<rect x="505.6" y="1655.31" width="1.6" height="28.69" fill="#0bc63a"/>
<rect x="507.4" y="1654.98" width="1.6" height="29.02" fill="#0bc63a"/>
<rect x="510.6" y="1655.42" width="1.6" height="28.58" fill="#0bc63a"/>
<rect x="541" y="1655.66" width="1.6" height="28.34" fill="#0bc63a"/>
<rect x="545.8" y="1654.72" width="1.6" height="29.28" fill="#0bc63a"/>
<rect x="547.38" y="1655.25" width="1.6" height="28.75" fill="#0bc63a"/>
<rect x="548.96" y="1655.25" width="1.6" height="28.75" fill="#0bc63a"/>
<rect x="550.54" y="1655.94" width="1.6" height="28.06" fill="#0bc63a"/>
<rect x="552.12" y="1656.03" width="1.6" height="27.97" fill="#0bc63a"/>
<rect x="553.7" y="1655.18" width="1.6" height="28.82" fill="#0bc63a"/>
<rect x="557.6" y="1655.97" width="1.6" height="28.03" fill="#0bc63a"/>
<rect x="566.2" y="1655.81" width="1.6" height="28.19" fill="#0bc63a"/>
<rect x="570.8" y="1655.01" width="1.6" height="28.99" fill="#0bc63a"/>
<rect x="572.4" y="1655.31" width="1.6" height="28.69" fill="#0bc63a"/>
<line x1="265.3" y1="1684.5" x2="595.9" y2="1684.5" stroke="#d2d2d2" stroke-width="1.2"/>
<line x1="596.9" y1="1656.15" x2="601.4" y2="1656.15" stroke="#0bc63a" stroke-width="1.5"/>
<text x="600.4" y="1669.15" font-size="19.5" fill="#0bc63a" letter-spacing="-0.6">100</text>
<rect x="268.2" y="1690.85" width="1.6" height="29.2" fill="#ffc60a"/>
<rect x="275.9" y="1691.89" width="1.6" height="28.16" fill="#ffc60a"/>
<rect x="286.6" y="1691.66" width="1.6" height="28.39" fill="#ffc60a"/>
<rect x="300.2" y="1692" width="1.6" height="28.05" fill="#ffc60a"/>
<rect x="316.1" y="1691.86" width="1.6" height="28.19" fill="#ffc60a"/>
<rect x="322" y="1691.67" width="1.6" height="28.38" fill="#ffc60a"/>
<rect x="323.8" y="1691.77" width="1.6" height="28.28" fill="#ffc60a"/>
<rect x="325.6" y="1691.51" width="1.6" height="28.54" fill="#ffc60a"/>
<rect x="334" y="1690.82" width="1.6" height="29.23" fill="#ffc60a"/>
<rect x="343" y="1691.55" width="1.6" height="28.5" fill="#ffc60a"/>
<rect x="349.2" y="1690.67" width="1.6" height="29.38" fill="#ffc60a"/>
<rect x="351.6" y="1690.88" width="1.6" height="29.17" fill="#ffc60a"/>
<rect x="353.3" y="1691.83" width="1.6" height="28.22" fill="#ffc60a"/>
<rect x="355" y="1690.73" width="1.6" height="29.32" fill="#ffc60a"/>
<rect x="362.4" y="1690.8" width="1.6" height="29.25" fill="#ffc60a"/>
<rect x="373.5" y="1690.81" width="1.6" height="29.24" fill="#ffc60a"/>
<rect x="383.3" y="1691.99" width="1.6" height="28.06" fill="#ffc60a"/>
<rect x="386.8" y="1690.93" width="1.6" height="29.12" fill="#ffc60a"/>
<rect x="388.53" y="1690.69" width="1.6" height="29.36" fill="#ffc60a"/>
<rect x="390.27" y="1691.93" width="1.6" height="28.12" fill="#ffc60a"/>
<rect x="392" y="1690.84" width="1.6" height="29.21" fill="#ffc60a"/>
<rect x="394.4" y="1691.94" width="1.6" height="28.11" fill="#ffc60a"/>
<rect x="396.1" y="1691.68" width="1.6" height="28.37" fill="#ffc60a"/>
<rect x="397.8" y="1691.93" width="1.6" height="28.12" fill="#ffc60a"/>
<rect x="399.4" y="1692.1" width="1.6" height="27.95" fill="#ffc60a"/>
<rect x="401.13" y="1691.54" width="1.6" height="28.51" fill="#ffc60a"/>
<rect x="402.85" y="1691.87" width="1.6" height="28.18" fill="#ffc60a"/>
<rect x="404.58" y="1690.71" width="1.6" height="29.34" fill="#ffc60a"/>
<rect x="406.31" y="1691.82" width="1.6" height="28.23" fill="#ffc60a"/>
<rect x="408.04" y="1691.43" width="1.6" height="28.62" fill="#ffc60a"/>
<rect x="409.76" y="1691.74" width="1.6" height="28.31" fill="#ffc60a"/>
<rect x="411.49" y="1690.82" width="1.6" height="29.23" fill="#ffc60a"/>
<rect x="413.22" y="1691.79" width="1.6" height="28.26" fill="#ffc60a"/>
<rect x="414.95" y="1692.07" width="1.6" height="27.98" fill="#ffc60a"/>
<rect x="416.67" y="1690.75" width="1.6" height="29.3" fill="#ffc60a"/>
<rect x="418.4" y="1691.15" width="1.6" height="28.9" fill="#ffc60a"/>
<rect x="420" y="1691.51" width="1.6" height="28.54" fill="#ffc60a"/>
<rect x="421.53" y="1691.91" width="1.6" height="28.14" fill="#ffc60a"/>
<rect x="423.07" y="1691.03" width="1.6" height="29.02" fill="#ffc60a"/>
<rect x="424.6" y="1690.93" width="1.6" height="29.12" fill="#ffc60a"/>
<rect x="426.4" y="1691.04" width="1.6" height="29.01" fill="#ffc60a"/>
<rect x="428.6" y="1691.59" width="1.6" height="28.46" fill="#ffc60a"/>
<rect x="430.2" y="1691.8" width="1.6" height="28.25" fill="#ffc60a"/>
<rect x="431.8" y="1691.26" width="1.6" height="28.79" fill="#ffc60a"/>
<rect x="433.4" y="1691.22" width="1.6" height="28.83" fill="#ffc60a"/>
<rect x="435.4" y="1691.26" width="1.6" height="28.79" fill="#ffc60a"/>
<rect x="437.6" y="1691.19" width="1.6" height="28.86" fill="#ffc60a"/>
<rect x="439" y="1691.29" width="1.6" height="28.76" fill="#ffc60a"/>
<rect x="440.8" y="1690.79" width="1.6" height="29.26" fill="#ffc60a"/>
<rect x="452" y="1691.42" width="1.6" height="28.63" fill="#ffc60a"/>
<rect x="459.2" y="1700.36" width="1.6" height="19.7" fill="#ffc60a"/>
<rect x="487.7" y="1700.36" width="1.6" height="19.7" fill="#ffc60a"/>
<rect x="492.4" y="1691.79" width="1.6" height="28.26" fill="#ffc60a"/>
<rect x="505.6" y="1690.9" width="1.6" height="29.15" fill="#ffc60a"/>
<rect x="507.4" y="1691.71" width="1.6" height="28.34" fill="#ffc60a"/>
<rect x="510.6" y="1691.8" width="1.6" height="28.25" fill="#ffc60a"/>
<rect x="541" y="1691.68" width="1.6" height="28.37" fill="#ffc60a"/>
<rect x="545.8" y="1691.44" width="1.6" height="28.61" fill="#ffc60a"/>
<rect x="547.38" y="1691.39" width="1.6" height="28.66" fill="#ffc60a"/>
<rect x="548.96" y="1691.63" width="1.6" height="28.42" fill="#ffc60a"/>
<rect x="550.54" y="1692.02" width="1.6" height="28.03" fill="#ffc60a"/>
<rect x="552.12" y="1690.89" width="1.6" height="29.16" fill="#ffc60a"/>
<rect x="553.7" y="1690.8" width="1.6" height="29.25" fill="#ffc60a"/>
<rect x="557.6" y="1691.79" width="1.6" height="28.26" fill="#ffc60a"/>
<rect x="566.2" y="1692.05" width="1.6" height="28" fill="#ffc60a"/>
<rect x="570.8" y="1691.44" width="1.6" height="28.61" fill="#ffc60a"/>
<rect x="572.4" y="1691.33" width="1.6" height="28.72" fill="#ffc60a"/>
<line x1="265.3" y1="1720.55" x2="595.9" y2="1720.55" stroke="#d2d2d2" stroke-width="1.2"/>
<line x1="596.9" y1="1692.2" x2="601.4" y2="1692.2" stroke="#ffc60a" stroke-width="1.5"/>
<text x="600.4" y="1705.2" font-size="19.5" fill="#ffc60a" letter-spacing="-0.6">100</text>
<rect x="268.2" y="1727.8" width="1.6" height="28.3" fill="#96cc0a"/>
<rect x="275.9" y="1726.99" width="1.6" height="29.11" fill="#96cc0a"/>
<rect x="286.6" y="1727.11" width="1.6" height="28.99" fill="#96cc0a"/>
<rect x="300.2" y="1727.01" width="1.6" height="29.09" fill="#96cc0a"/>
<rect x="316.1" y="1727.6" width="1.6" height="28.5" fill="#96cc0a"/>
<rect x="322" y="1727.19" width="1.6" height="28.91" fill="#96cc0a"/>
<rect x="323.8" y="1727.06" width="1.6" height="29.04" fill="#96cc0a"/>
<rect x="325.6" y="1727.76" width="1.6" height="28.34" fill="#96cc0a"/>
<rect x="334" y="1728.15" width="1.6" height="27.95" fill="#96cc0a"/>
<rect x="343" y="1727.16" width="1.6" height="28.94" fill="#96cc0a"/>
<rect x="349.2" y="1727.78" width="1.6" height="28.32" fill="#96cc0a"/>
<rect x="351.6" y="1727.33" width="1.6" height="28.77" fill="#96cc0a"/>
<rect x="353.3" y="1728" width="1.6" height="28.1" fill="#96cc0a"/>
<rect x="355" y="1727.59" width="1.6" height="28.51" fill="#96cc0a"/>
<rect x="362.4" y="1727.11" width="1.6" height="28.99" fill="#96cc0a"/>
<rect x="373.5" y="1727.04" width="1.6" height="29.06" fill="#96cc0a"/>
<rect x="383.3" y="1726.74" width="1.6" height="29.36" fill="#96cc0a"/>
<rect x="386.8" y="1727.44" width="1.6" height="28.66" fill="#96cc0a"/>
<rect x="388.53" y="1727.29" width="1.6" height="28.81" fill="#96cc0a"/>
<rect x="390.27" y="1726.97" width="1.6" height="29.13" fill="#96cc0a"/>
<rect x="392" y="1727.26" width="1.6" height="28.84" fill="#96cc0a"/>
<rect x="394.4" y="1727.2" width="1.6" height="28.9" fill="#96cc0a"/>
<rect x="396.1" y="1727.88" width="1.6" height="28.22" fill="#96cc0a"/>
<rect x="397.8" y="1726.93" width="1.6" height="29.17" fill="#96cc0a"/>
<rect x="399.4" y="1728.21" width="1.6" height="27.89" fill="#96cc0a"/>
<rect x="401.13" y="1727.44" width="1.6" height="28.66" fill="#96cc0a"/>
<rect x="402.85" y="1727.62" width="1.6" height="28.48" fill="#96cc0a"/>
<rect x="404.58" y="1727.42" width="1.6" height="28.68" fill="#96cc0a"/>
<rect x="406.31" y="1727.97" width="1.6" height="28.13" fill="#96cc0a"/>
<rect x="408.04" y="1727.95" width="1.6" height="28.15" fill="#96cc0a"/>
<rect x="409.76" y="1727.55" width="1.6" height="28.55" fill="#96cc0a"/>
<rect x="411.49" y="1727.44" width="1.6" height="28.66" fill="#96cc0a"/>
<rect x="413.22" y="1727.8" width="1.6" height="28.3" fill="#96cc0a"/>
<rect x="414.95" y="1728.01" width="1.6" height="28.09" fill="#96cc0a"/>
<rect x="416.67" y="1727.32" width="1.6" height="28.78" fill="#96cc0a"/>
<rect x="418.4" y="1727.82" width="1.6" height="28.28" fill="#96cc0a"/>
<rect x="420" y="1728.16" width="1.6" height="27.94" fill="#96cc0a"/>
<rect x="421.53" y="1727.42" width="1.6" height="28.68" fill="#96cc0a"/>
<rect x="423.07" y="1727.06" width="1.6" height="29.04" fill="#96cc0a"/>
<rect x="424.6" y="1727.06" width="1.6" height="29.04" fill="#96cc0a"/>
<rect x="426.4" y="1727.8" width="1.6" height="28.3" fill="#96cc0a"/>
<rect x="428.6" y="1727.73" width="1.6" height="28.37" fill="#96cc0a"/>
<rect x="430.2" y="1728.16" width="1.6" height="27.94" fill="#96cc0a"/>
<rect x="431.8" y="1728" width="1.6" height="28.1" fill="#96cc0a"/>
<rect x="433.4" y="1727.08" width="1.6" height="29.02" fill="#96cc0a"/>
<rect x="435.4" y="1727" width="1.6" height="29.1" fill="#96cc0a"/>
<rect x="437.6" y="1727.1" width="1.6" height="29" fill="#96cc0a"/>
<rect x="439" y="1726.99" width="1.6" height="29.11" fill="#96cc0a"/>
<rect x="440.8" y="1727.78" width="1.6" height="28.32" fill="#96cc0a"/>
<rect x="452" y="1728.01" width="1.6" height="28.09" fill="#96cc0a"/>
<rect x="459.2" y="1736.4" width="1.6" height="19.7" fill="#96cc0a"/>
<rect x="487.7" y="1736.4" width="1.6" height="19.7" fill="#96cc0a"/>
<rect x="492.4" y="1728.02" width="1.6" height="28.08" fill="#96cc0a"/>
<rect x="505.6" y="1727.18" width="1.6" height="28.92" fill="#96cc0a"/>
<rect x="507.4" y="1727.35" width="1.6" height="28.75" fill="#96cc0a"/>
<rect x="510.6" y="1727.81" width="1.6" height="28.29" fill="#96cc0a"/>
<rect x="541" y="1726.84" width="1.6" height="29.26" fill="#96cc0a"/>
<rect x="545.8" y="1726.85" width="1.6" height="29.25" fill="#96cc0a"/>
<rect x="547.38" y="1727.97" width="1.6" height="28.13" fill="#96cc0a"/>
<rect x="548.96" y="1727.15" width="1.6" height="28.95" fill="#96cc0a"/>
<rect x="550.54" y="1727.25" width="1.6" height="28.85" fill="#96cc0a"/>
<rect x="552.12" y="1727.59" width="1.6" height="28.51" fill="#96cc0a"/>
<rect x="553.7" y="1727.73" width="1.6" height="28.37" fill="#96cc0a"/>
<rect x="557.6" y="1726.72" width="1.6" height="29.38" fill="#96cc0a"/>
<rect x="566.2" y="1727.22" width="1.6" height="28.88" fill="#96cc0a"/>
<rect x="570.8" y="1727.37" width="1.6" height="28.73" fill="#96cc0a"/>
<rect x="572.4" y="1727.45" width="1.6" height="28.65" fill="#96cc0a"/>
<line x1="265.3" y1="1756.6" x2="595.9" y2="1756.6" stroke="#d2d2d2" stroke-width="1.2"/>
<line x1="596.9" y1="1728.25" x2="601.4" y2="1728.25" stroke="#96cc0a" stroke-width="1.5"/>
<text x="600.4" y="1741.25" font-size="19.5" fill="#96cc0a" letter-spacing="-0.6">100</text>
<rect x="268.2" y="1789.73" width="1.6" height="2.42" fill="#9a6404"/>
<rect x="275.9" y="1788.51" width="1.6" height="3.64" fill="#9a6404"/>
<rect x="300.2" y="1773.97" width="1.6" height="18.18" fill="#9a6404"/>
<rect x="316.1" y="1770.12" width="1.6" height="22.03" fill="#9a6404"/>
<rect x="322" y="1765.28" width="1.6" height="26.87" fill="#9a6404"/>
<rect x="323.8" y="1765.65" width="1.6" height="26.5" fill="#9a6404"/>
<rect x="325.6" y="1769.6" width="1.6" height="22.55" fill="#9a6404"/>
<rect x="334" y="1769.56" width="1.6" height="22.59" fill="#9a6404"/>
<rect x="343" y="1767.91" width="1.6" height="24.24" fill="#9a6404"/>
<rect x="349.2" y="1765.53" width="1.6" height="26.62" fill="#9a6404"/>
<rect x="351.6" y="1765.01" width="1.6" height="27.14" fill="#9a6404"/>
<rect x="353.3" y="1765.5" width="1.6" height="26.65" fill="#9a6404"/>
<rect x="355" y="1766.64" width="1.6" height="25.51" fill="#9a6404"/>
<rect x="362.4" y="1769.87" width="1.6" height="22.28" fill="#9a6404"/>
<rect x="373.5" y="1772.45" width="1.6" height="19.7" fill="#9a6404"/>
<rect x="383.3" y="1769.53" width="1.6" height="22.62" fill="#9a6404"/>
<rect x="386.8" y="1767.1" width="1.6" height="25.05" fill="#9a6404"/>
<rect x="388.53" y="1766.81" width="1.6" height="25.34" fill="#9a6404"/>
<rect x="390.27" y="1769.47" width="1.6" height="22.68" fill="#9a6404"/>
<rect x="392" y="1769.12" width="1.6" height="23.03" fill="#9a6404"/>
<rect x="394.4" y="1765.26" width="1.6" height="26.89" fill="#9a6404"/>
<rect x="396.1" y="1770.72" width="1.6" height="21.43" fill="#9a6404"/>
<rect x="397.8" y="1765.1" width="1.6" height="27.05" fill="#9a6404"/>
<rect x="399.4" y="1764.46" width="1.6" height="27.69" fill="#9a6404"/>
<rect x="401.13" y="1764.04" width="1.6" height="28.11" fill="#9a6404"/>
<rect x="402.85" y="1768.15" width="1.6" height="24" fill="#9a6404"/>
<rect x="404.58" y="1766.92" width="1.6" height="25.23" fill="#9a6404"/>
<rect x="406.31" y="1766.7" width="1.6" height="25.45" fill="#9a6404"/>
<rect x="408.04" y="1766.33" width="1.6" height="25.82" fill="#9a6404"/>
<rect x="409.76" y="1767.86" width="1.6" height="24.29" fill="#9a6404"/>
<rect x="411.49" y="1769.46" width="1.6" height="22.69" fill="#9a6404"/>
<rect x="413.22" y="1769.28" width="1.6" height="22.87" fill="#9a6404"/>
<rect x="414.95" y="1772.28" width="1.6" height="19.87" fill="#9a6404"/>
<rect x="416.67" y="1768.77" width="1.6" height="23.38" fill="#9a6404"/>
<rect x="418.4" y="1767.82" width="1.6" height="24.33" fill="#9a6404"/>
<rect x="420" y="1768.35" width="1.6" height="23.8" fill="#9a6404"/>
<rect x="421.53" y="1771.57" width="1.6" height="20.58" fill="#9a6404"/>
<rect x="423.07" y="1769.15" width="1.6" height="23" fill="#9a6404"/>
<rect x="424.6" y="1771.21" width="1.6" height="20.94" fill="#9a6404"/>
<rect x="426.4" y="1774.05" width="1.6" height="18.1" fill="#9a6404"/>
<rect x="428.6" y="1774.56" width="1.6" height="17.59" fill="#9a6404"/>
<rect x="430.2" y="1774.29" width="1.6" height="17.86" fill="#9a6404"/>
<rect x="431.8" y="1773.36" width="1.6" height="18.79" fill="#9a6404"/>
<rect x="433.4" y="1773.66" width="1.6" height="18.49" fill="#9a6404"/>
<rect x="435.4" y="1771.11" width="1.6" height="21.04" fill="#9a6404"/>
<rect x="437.6" y="1767.3" width="1.6" height="24.85" fill="#9a6404"/>
<rect x="439" y="1766.24" width="1.6" height="25.91" fill="#9a6404"/>
<rect x="440.8" y="1767.71" width="1.6" height="24.44" fill="#9a6404"/>
<rect x="452" y="1766.82" width="1.6" height="25.33" fill="#9a6404"/>
<rect x="459.2" y="1775.48" width="1.6" height="16.67" fill="#9a6404"/>
<rect x="505.6" y="1765.18" width="1.6" height="26.97" fill="#9a6404"/>
<rect x="557.6" y="1765.89" width="1.6" height="26.26" fill="#9a6404"/>
<rect x="566.2" y="1769.96" width="1.6" height="22.19" fill="#9a6404"/>
<rect x="570.8" y="1764.7" width="1.6" height="27.45" fill="#9a6404"/>
<rect x="572.4" y="1766.57" width="1.6" height="25.58" fill="#9a6404"/>
<line x1="265.3" y1="1792.65" x2="595.9" y2="1792.65" stroke="#d2d2d2" stroke-width="1.2"/>
<line x1="596.9" y1="1764.3" x2="601.4" y2="1764.3" stroke="#9a6404" stroke-width="1.5"/>
<text x="600.4" y="1777.3" font-size="19.5" fill="#9a6404" letter-spacing="-0.6">100</text>
<rect x="268.3" y="1797.35" width="1.4" height="12.5" fill="#000"/>
<rect x="276" y="1797.35" width="1.4" height="12.5" fill="#000"/>
<rect x="286.7" y="1797.35" width="1.4" height="12.5" fill="#000"/>
<rect x="300.3" y="1797.35" width="1.4" height="12.5" fill="#000"/>
<rect x="316.2" y="1797.35" width="1.4" height="12.5" fill="#000"/>
<rect x="322.1" y="1797.35" width="1.4" height="12.5" fill="#000"/>
<rect x="323.9" y="1797.35" width="1.4" height="12.5" fill="#000"/>
<rect x="325.7" y="1797.35" width="1.4" height="12.5" fill="#000"/>
<rect x="334.1" y="1797.35" width="1.4" height="12.5" fill="#000"/>
<rect x="343.1" y="1797.35" width="1.4" height="12.5" fill="#000"/>
<rect x="349.3" y="1797.35" width="1.4" height="12.5" fill="#000"/>
<rect x="351.7" y="1797.35" width="1.4" height="12.5" fill="#000"/>
<rect x="353.4" y="1797.35" width="1.4" height="12.5" fill="#000"/>
<rect x="355.1" y="1797.35" width="1.4" height="12.5" fill="#000"/>
<rect x="362.5" y="1797.35" width="1.4" height="12.5" fill="#000"/>
<rect x="373.6" y="1797.35" width="1.4" height="12.5" fill="#000"/>
<rect x="383.4" y="1797.35" width="1.4" height="12.5" fill="#000"/>
<rect x="386.9" y="1797.35" width="1.4" height="12.5" fill="#000"/>
<rect x="388.63" y="1797.35" width="1.4" height="12.5" fill="#000"/>
<rect x="390.37" y="1797.35" width="1.4" height="12.5" fill="#000"/>
<rect x="392.1" y="1797.35" width="1.4" height="12.5" fill="#000"/>
<rect x="394.5" y="1797.35" width="1.4" height="12.5" fill="#000"/>
<rect x="396.2" y="1797.35" width="1.4" height="12.5" fill="#000"/>
<rect x="397.9" y="1797.35" width="1.4" height="12.5" fill="#000"/>
<rect x="399.5" y="1797.35" width="1.4" height="12.5" fill="#000"/>
<rect x="401.23" y="1797.35" width="1.4" height="12.5" fill="#000"/>
<rect x="402.95" y="1797.35" width="1.4" height="12.5" fill="#000"/>
<rect x="404.68" y="1797.35" width="1.4" height="12.5" fill="#000"/>
<rect x="406.41" y="1797.35" width="1.4" height="12.5" fill="#000"/>
<rect x="408.14" y="1797.35" width="1.4" height="12.5" fill="#000"/>
<rect x="409.86" y="1797.35" width="1.4" height="12.5" fill="#000"/>
<rect x="411.59" y="1797.35" width="1.4" height="12.5" fill="#000"/>
<rect x="413.32" y="1797.35" width="1.4" height="12.5" fill="#000"/>
<rect x="415.05" y="1797.35" width="1.4" height="12.5" fill="#000"/>
<rect x="416.77" y="1797.35" width="1.4" height="12.5" fill="#000"/>
<rect x="418.5" y="1797.35" width="1.4" height="12.5" fill="#000"/>
<rect x="420.1" y="1797.35" width="1.4" height="12.5" fill="#000"/>
<rect x="421.63" y="1797.35" width="1.4" height="12.5" fill="#000"/>
<rect x="423.17" y="1797.35" width="1.4" height="12.5" fill="#000"/>
<rect x="424.7" y="1797.35" width="1.4" height="12.5" fill="#000"/>
<rect x="426.5" y="1797.35" width="1.4" height="12.5" fill="#000"/>
<rect x="428.7" y="1797.35" width="1.4" height="12.5" fill="#000"/>
<rect x="430.3" y="1797.35" width="1.4" height="12.5" fill="#000"/>
<rect x="431.9" y="1797.35" width="1.4" height="12.5" fill="#000"/>
<rect x="433.5" y="1797.35" width="1.4" height="12.5" fill="#000"/>
<rect x="435.5" y="1797.35" width="1.4" height="12.5" fill="#000"/>
<rect x="437.7" y="1797.35" width="1.4" height="12.5" fill="#000"/>
<rect x="439.1" y="1797.35" width="1.4" height="12.5" fill="#000"/>
<rect x="440.9" y="1797.35" width="1.4" height="12.5" fill="#000"/>
<rect x="452.1" y="1797.35" width="1.4" height="12.5" fill="#000"/>
<rect x="459.3" y="1797.35" width="1.4" height="12.5" fill="#000"/>
<rect x="487.8" y="1797.35" width="1.4" height="12.5" fill="#000"/>
<rect x="492.5" y="1797.35" width="1.4" height="12.5" fill="#000"/>
<rect x="505.7" y="1797.35" width="1.4" height="12.5" fill="#000"/>
<rect x="507.5" y="1797.35" width="1.4" height="12.5" fill="#000"/>
<rect x="510.7" y="1797.35" width="1.4" height="12.5" fill="#000"/>
<rect x="541.1" y="1797.35" width="1.4" height="12.5" fill="#000"/>
<rect x="545.9" y="1797.35" width="1.4" height="12.5" fill="#000"/>
<rect x="547.48" y="1797.35" width="1.4" height="12.5" fill="#000"/>
<rect x="549.06" y="1797.35" width="1.4" height="12.5" fill="#000"/>
<rect x="550.64" y="1797.35" width="1.4" height="12.5" fill="#000"/>
<rect x="552.22" y="1797.35" width="1.4" height="12.5" fill="#000"/>
<rect x="553.8" y="1797.35" width="1.4" height="12.5" fill="#000"/>
<rect x="557.7" y="1797.35" width="1.4" height="12.5" fill="#000"/>
<rect x="566.3" y="1797.35" width="1.4" height="12.5" fill="#000"/>
<rect x="570.9" y="1797.35" width="1.4" height="12.5" fill="#000"/>
<rect x="572.5" y="1797.35" width="1.4" height="12.5" fill="#000"/>
<line x1="265.3" y1="1816.35" x2="595.9" y2="1816.35" stroke="#d2d2d2" stroke-width="1.2"/>
<path d="M265.3 1852.6 L265.3 1852.6 L420.0 1852.6 L420.0 1852.2 L421.3 1852.2 L421.3 1851.4 L422.6 1851.4 L422.6 1850.6 L423.9 1850.6 L423.9 1849.9 L425.2 1849.9 L425.2 1849.6 L439.5 1849.6 L439.5 1850.8 L440.8 1850.8 L440.8 1852.6 L451.2 1852.6 L451.2 1850.9 L452.5 1850.9 L452.5 1850.6 L465.5 1850.6 L465.5 1852.6 L514.9 1852.6 L514.9 1852.0 L516.2 1852.0 L516.2 1851.6 L527.9 1851.6 L527.9 1852.2 L529.2 1852.2 L529.2 1852.6 L560.4 1852.6 L560.4 1851.6 L574.7 1851.6 L574.7 1851.9 L576.0 1851.9 L576.0 1852.6 L596.8 1852.6 L596.8 1852.6 Z" fill="#c8102e"/>
<line x1="265.3" y1="1852.1" x2="595.9" y2="1852.1" stroke="#c8102e" stroke-width="1.2"/>
<line x1="596.9" y1="1825.05" x2="601.4" y2="1825.05" stroke="#c8102e" stroke-width="1.5"/>
<text x="600.4" y="1837.85" font-size="19.5" fill="#c8102e" letter-spacing="-0.6">50</text>
<path d="M265.3 1888.6 L265.3 1888.6 L550.0 1888.6 L550.0 1887.9 L551.3 1887.9 L551.3 1887.6 L560.4 1887.6 L560.4 1888.6 L596.8 1888.6 L596.8 1888.6 Z" fill="#999999"/>
<line x1="265.3" y1="1888.15" x2="595.9" y2="1888.15" stroke="#999999" stroke-width="1.2"/>
<line x1="596.9" y1="1861.1" x2="601.4" y2="1861.1" stroke="#999999" stroke-width="1.5"/>
<text x="600.4" y="1873.9" font-size="19.5" fill="#999999" letter-spacing="-0.6">50</text>
<path d="M265.3 1924.7 L265.3 1923.8 L271.8 1923.8 L271.8 1924.2 L273.1 1924.2 L273.1 1924.7 L310.8 1924.7 L310.8 1923.7 L322.5 1923.7 L322.5 1924.7 L596.8 1924.7 L596.8 1924.7 Z" fill="#9a6404"/>
<line x1="265.3" y1="1924.2" x2="595.9" y2="1924.2" stroke="#9a6404" stroke-width="1.2"/>
<line x1="596.9" y1="1897.15" x2="601.4" y2="1897.15" stroke="#9a6404" stroke-width="1.5"/>
<text x="600.4" y="1909.95" font-size="19.5" fill="#9a6404" letter-spacing="-0.6">50</text>
<line x1="451.5" y1="1528.3" x2="439.21" y2="1538.26" stroke="#000" stroke-width="2.6"/>
<path d="M433 1543.3 L437.62 1533.12 L443.92 1540.89 Z" fill="#000"/>
<line x1="451.5" y1="1565.7" x2="439.21" y2="1575.66" stroke="#000" stroke-width="2.6"/>
<path d="M433 1580.7 L437.62 1570.52 L443.92 1578.29 Z" fill="#000"/>
<line x1="451.5" y1="1601.5" x2="439.21" y2="1611.46" stroke="#000" stroke-width="2.6"/>
<path d="M433 1616.5 L437.62 1606.32 L443.92 1614.09 Z" fill="#000"/>
<line x1="451.5" y1="1746.4" x2="439.21" y2="1756.36" stroke="#000" stroke-width="2.6"/>
<path d="M433 1761.4 L437.62 1751.22 L443.92 1758.99 Z" fill="#000"/>
<line x1="265.3" y1="1967.3" x2="596" y2="1967.3" stroke="#1212e8" stroke-width="1.1"/>
<path d="M266.4 1963.4 Q268.4 1967.3 266.4 1971.2 M275.42 1963.4 Q277.42 1967.3 275.42 1971.2 M284.44 1963.4 Q286.44 1967.3 284.44 1971.2 M293.46 1963.4 Q295.46 1967.3 293.46 1971.2 M302.48 1963.4 Q304.48 1967.3 302.48 1971.2 M311.5 1963.4 Q313.5 1967.3 311.5 1971.2 M320.52 1963.4 Q322.52 1967.3 320.52 1971.2 M329.54 1963.4 Q331.54 1967.3 329.54 1971.2 M338.56 1963.4 Q340.56 1967.3 338.56 1971.2 M347.58 1963.4 Q349.58 1967.3 347.58 1971.2 M356.6 1963.4 Q358.6 1967.3 356.6 1971.2 M365.62 1963.4 Q367.62 1967.3 365.62 1971.2 M374.64 1963.4 Q376.64 1967.3 374.64 1971.2 M383.66 1963.4 Q385.66 1967.3 383.66 1971.2 M437.78 1963.4 Q439.78 1967.3 437.78 1971.2 M446.8 1963.4 Q448.8 1967.3 446.8 1971.2 M455.82 1963.4 Q457.82 1967.3 455.82 1971.2 M464.84 1963.4 Q466.84 1967.3 464.84 1971.2 M473.86 1963.4 Q475.86 1967.3 473.86 1971.2 M482.88 1963.4 Q484.88 1967.3 482.88 1971.2 M491.9 1963.4 Q493.9 1967.3 491.9 1971.2 M500.92 1963.4 Q502.92 1967.3 500.92 1971.2 M509.94 1963.4 Q511.94 1967.3 509.94 1971.2 M518.96 1963.4 Q520.96 1967.3 518.96 1971.2 M527.98 1963.4 Q529.98 1967.3 527.98 1971.2 M537 1963.4 Q539 1967.3 537 1971.2 M546.02 1963.4 Q548.02 1967.3 546.02 1971.2 M555.04 1963.4 Q557.04 1967.3 555.04 1971.2 M564.06 1963.4 Q566.06 1967.3 564.06 1971.2 M573.08 1963.4 Q575.08 1967.3 573.08 1971.2 M582.1 1963.4 Q584.1 1967.3 582.1 1971.2 M591.12 1963.4 Q593.12 1967.3 591.12 1971.2 " fill="none" stroke="#1212e8" stroke-width="1.3"/>
<rect x="387.5" y="1955.9" width="48.2" height="22.8" fill="#0000b0"/>
<path d="M395.3 1963.8 Q397.1 1967.3 395.3 1970.8 M404.32 1963.8 Q406.12 1967.3 404.32 1970.8 M413.34 1963.8 Q415.14 1967.3 413.34 1970.8 M422.36 1963.8 Q424.16 1967.3 422.36 1970.8 M431.38 1963.8 Q433.18 1967.3 431.38 1970.8 " fill="none" stroke="#fff" stroke-width="1"/>
<text x="528.4" y="1956" font-size="24.2" fill="#1010a8" font-style="italic">EHD2</text>
<ellipse cx="431.5" cy="2031" rx="21.5" ry="26.6" fill="none" stroke="#c4c4c4" stroke-width="3"/>
<text transform="matrix(0.29002 0 0 0.44774 346.19 2046.26)" font-size="100" font-weight="bold" fill="#1450f5">C</text>
<text transform="matrix(0.32200 0 0 0.46076 363.95 2046.7)" font-size="100" font-weight="bold" fill="#e20f0f">T</text>
<text transform="matrix(0.32200 0 0 0.46076 380.88 2046.7)" font-size="100" font-weight="bold" fill="#e20f0f">T</text>
<text transform="matrix(0.28099 0 0 0.44774 397.02 2046.26)" font-size="100" font-weight="bold" fill="#fba500">G</text>
<text transform="matrix(0.29002 0 0 0.44774 413.91 2046.26)" font-size="100" font-weight="bold" fill="#1450f5">C</text>
<text transform="matrix(0.28099 0 0 0.44774 430.88 2046.26)" font-size="100" font-weight="bold" fill="#fba500">G</text>
<text transform="matrix(0.29002 0 0 0.44774 447.77 2046.26)" font-size="100" font-weight="bold" fill="#1450f5">C</text>
<text transform="matrix(0.28263 0 0 0.46076 465.19 2046.7)" font-size="100" font-weight="bold" fill="#10b21e">A</text>
<text transform="matrix(0.28263 0 0 0.46076 482.12 2046.7)" font-size="100" font-weight="bold" fill="#10b21e">A</text>
<text transform="matrix(0.28099 0 0 0.44774 498.6 2046.26)" font-size="100" font-weight="bold" fill="#fba500">G</text>
<line x1="720.6" y1="1516.3" x2="837.13" y2="1516.3" stroke="#000" stroke-width="2"/>
<line x1="921.87" y1="1516.3" x2="1039.2" y2="1516.3" stroke="#000" stroke-width="2"/>
<path d="M714.1 1516.3 L724.1 1512.3 L724.1 1520.3 Z" fill="#000"/>
<path d="M1045.7 1516.3 L1035.7 1520.3 L1035.7 1512.3 Z" fill="#000"/>
<text x="850.08" y="1521.3" font-size="20.8" fill="#000">2.9 kb</text>
<rect x="714.6" y="1540" width="330.6" height="383.7" fill="#f8f8f8"/>
<rect x="719" y="1547.27" width="1.6" height="28.58" fill="#c8102e"/>
<rect x="720.45" y="1547.1" width="1.6" height="28.75" fill="#c8102e"/>
<rect x="721.9" y="1547.44" width="1.6" height="28.41" fill="#c8102e"/>
<rect x="728.7" y="1546.92" width="1.6" height="28.93" fill="#c8102e"/>
<rect x="737.3" y="1547.16" width="1.6" height="28.69" fill="#c8102e"/>
<rect x="743.4" y="1547.61" width="1.6" height="28.24" fill="#c8102e"/>
<rect x="749.1" y="1547.07" width="1.6" height="28.78" fill="#c8102e"/>
<rect x="776.7" y="1546.73" width="1.6" height="29.12" fill="#c8102e"/>
<rect x="792.6" y="1547.82" width="1.6" height="28.03" fill="#c8102e"/>
<rect x="827.6" y="1547.55" width="1.6" height="28.3" fill="#c8102e"/>
<rect x="840.5" y="1547.01" width="1.6" height="28.84" fill="#c8102e"/>
<rect x="871.7" y="1547.02" width="1.6" height="28.83" fill="#c8102e"/>
<rect x="877.7" y="1566.76" width="1.6" height="9.09" fill="#c8102e"/>
<rect x="882" y="1547.36" width="1.6" height="28.49" fill="#c8102e"/>
<rect x="886" y="1574.33" width="1.6" height="1.52" fill="#c8102e"/>
<rect x="909.4" y="1546.46" width="1.6" height="29.39" fill="#c8102e"/>
<rect x="936.2" y="1546.78" width="1.6" height="29.07" fill="#c8102e"/>
<rect x="978.8" y="1547.65" width="1.6" height="28.2" fill="#c8102e"/>
<line x1="714.6" y1="1576.35" x2="1045.2" y2="1576.35" stroke="#d2d2d2" stroke-width="1.2"/>
<line x1="1046.2" y1="1548" x2="1050.7" y2="1548" stroke="#c8102e" stroke-width="1.5"/>
<text x="1049.7" y="1561" font-size="19.5" fill="#c8102e" letter-spacing="-0.6">100</text>
<rect x="715.3" y="1593.72" width="1.6" height="18.18" fill="#13a0a0"/>
<rect x="728.7" y="1582.77" width="1.6" height="29.13" fill="#13a0a0"/>
<rect x="737.3" y="1586.14" width="1.6" height="25.75" fill="#13a0a0"/>
<rect x="743.4" y="1582.76" width="1.6" height="29.14" fill="#13a0a0"/>
<rect x="749.1" y="1582.55" width="1.6" height="29.35" fill="#13a0a0"/>
<rect x="776.7" y="1582.68" width="1.6" height="29.22" fill="#13a0a0"/>
<rect x="792.6" y="1582.76" width="1.6" height="29.14" fill="#13a0a0"/>
<rect x="827.6" y="1583.25" width="1.6" height="28.65" fill="#13a0a0"/>
<rect x="840.5" y="1582.6" width="1.6" height="29.3" fill="#13a0a0"/>
<rect x="871.7" y="1589.17" width="1.6" height="22.73" fill="#13a0a0"/>
<rect x="877.7" y="1601.29" width="1.6" height="10.61" fill="#13a0a0"/>
<rect x="882" y="1583.13" width="1.6" height="28.77" fill="#13a0a0"/>
<rect x="886" y="1605.84" width="1.6" height="6.06" fill="#13a0a0"/>
<rect x="909.4" y="1582.59" width="1.6" height="29.31" fill="#13a0a0"/>
<rect x="936.2" y="1583.12" width="1.6" height="28.78" fill="#13a0a0"/>
<rect x="978.8" y="1583.11" width="1.6" height="28.79" fill="#13a0a0"/>
<line x1="714.6" y1="1612.4" x2="1045.2" y2="1612.4" stroke="#d2d2d2" stroke-width="1.2"/>
<line x1="1046.2" y1="1584.05" x2="1050.7" y2="1584.05" stroke="#13a0a0" stroke-width="1.5"/>
<text x="1049.7" y="1597.05" font-size="19.5" fill="#13a0a0" letter-spacing="-0.6">100</text>
<rect x="715.3" y="1618.6" width="1.6" height="29.35" fill="#0b64a4"/>
<rect x="719" y="1620.02" width="1.6" height="27.93" fill="#0b64a4"/>
<rect x="720.45" y="1618.89" width="1.6" height="29.06" fill="#0b64a4"/>
<rect x="721.9" y="1618.7" width="1.6" height="29.25" fill="#0b64a4"/>
<rect x="728.7" y="1619.28" width="1.6" height="28.67" fill="#0b64a4"/>
<rect x="737.3" y="1618.81" width="1.6" height="29.14" fill="#0b64a4"/>
<rect x="743.4" y="1619.5" width="1.6" height="28.45" fill="#0b64a4"/>
<rect x="749.1" y="1619.08" width="1.6" height="28.87" fill="#0b64a4"/>
<rect x="776.7" y="1618.75" width="1.6" height="29.2" fill="#0b64a4"/>
<rect x="792.6" y="1618.64" width="1.6" height="29.31" fill="#0b64a4"/>
<rect x="827.6" y="1619.66" width="1.6" height="28.29" fill="#0b64a4"/>
<rect x="840.5" y="1618.98" width="1.6" height="28.97" fill="#0b64a4"/>
<rect x="871.7" y="1619.75" width="1.6" height="28.2" fill="#0b64a4"/>
<rect x="877.7" y="1643.4" width="1.6" height="4.54" fill="#0b64a4"/>
<rect x="882" y="1619.97" width="1.6" height="27.98" fill="#0b64a4"/>
<rect x="886" y="1647.04" width="1.6" height="0.91" fill="#0b64a4"/>
<rect x="909.4" y="1618.94" width="1.6" height="29.01" fill="#0b64a4"/>
<rect x="936.2" y="1618.96" width="1.6" height="28.99" fill="#0b64a4"/>
<rect x="978.8" y="1619.79" width="1.6" height="28.16" fill="#0b64a4"/>
<line x1="714.6" y1="1648.45" x2="1045.2" y2="1648.45" stroke="#d2d2d2" stroke-width="1.2"/>
<line x1="1046.2" y1="1620.1" x2="1050.7" y2="1620.1" stroke="#0b64a4" stroke-width="1.5"/>
<text x="1049.7" y="1633.1" font-size="19.5" fill="#0b64a4" letter-spacing="-0.6">100</text>
<rect x="715.3" y="1655.56" width="1.6" height="28.44" fill="#0bc63a"/>
<rect x="719" y="1655.13" width="1.6" height="28.87" fill="#0bc63a"/>
<rect x="720.45" y="1654.75" width="1.6" height="29.25" fill="#0bc63a"/>
<rect x="721.9" y="1655.64" width="1.6" height="28.36" fill="#0bc63a"/>
<rect x="728.7" y="1656.08" width="1.6" height="27.92" fill="#0bc63a"/>
<rect x="737.3" y="1655.51" width="1.6" height="28.49" fill="#0bc63a"/>
<rect x="743.4" y="1654.61" width="1.6" height="29.39" fill="#0bc63a"/>
<rect x="749.1" y="1654.65" width="1.6" height="29.35" fill="#0bc63a"/>
<rect x="776.7" y="1654.75" width="1.6" height="29.25" fill="#0bc63a"/>
<rect x="792.6" y="1654.87" width="1.6" height="29.13" fill="#0bc63a"/>
<rect x="827.6" y="1654.66" width="1.6" height="29.34" fill="#0bc63a"/>
<rect x="840.5" y="1654.69" width="1.6" height="29.31" fill="#0bc63a"/>
<rect x="871.7" y="1655.6" width="1.6" height="28.4" fill="#0bc63a"/>
<rect x="877.7" y="1655.97" width="1.6" height="28.03" fill="#0bc63a"/>
<rect x="882" y="1654.91" width="1.6" height="29.09" fill="#0bc63a"/>
<rect x="886" y="1656.08" width="1.6" height="27.92" fill="#0bc63a"/>
<rect x="909.4" y="1655.33" width="1.6" height="28.67" fill="#0bc63a"/>
<rect x="978.8" y="1656" width="1.6" height="28" fill="#0bc63a"/>
<line x1="714.6" y1="1684.5" x2="1045.2" y2="1684.5" stroke="#d2d2d2" stroke-width="1.2"/>
<line x1="1046.2" y1="1656.15" x2="1050.7" y2="1656.15" stroke="#0bc63a" stroke-width="1.5"/>
<text x="1049.7" y="1669.15" font-size="19.5" fill="#0bc63a" letter-spacing="-0.6">100</text>
<rect x="715.3" y="1692.08" width="1.6" height="27.97" fill="#ffc60a"/>
<rect x="719" y="1690.71" width="1.6" height="29.34" fill="#ffc60a"/>
<rect x="720.45" y="1691.12" width="1.6" height="28.93" fill="#ffc60a"/>
<rect x="721.9" y="1691.58" width="1.6" height="28.47" fill="#ffc60a"/>
<rect x="728.7" y="1692.09" width="1.6" height="27.96" fill="#ffc60a"/>
<rect x="737.3" y="1690.79" width="1.6" height="29.26" fill="#ffc60a"/>
<rect x="743.4" y="1691.1" width="1.6" height="28.95" fill="#ffc60a"/>
<rect x="749.1" y="1691.95" width="1.6" height="28.1" fill="#ffc60a"/>
<rect x="776.7" y="1690.83" width="1.6" height="29.22" fill="#ffc60a"/>
<rect x="792.6" y="1691.25" width="1.6" height="28.8" fill="#ffc60a"/>
<rect x="827.6" y="1691.17" width="1.6" height="28.88" fill="#ffc60a"/>
<rect x="840.5" y="1691.69" width="1.6" height="28.36" fill="#ffc60a"/>
<rect x="871.7" y="1692.07" width="1.6" height="27.98" fill="#ffc60a"/>
<rect x="877.7" y="1690.92" width="1.6" height="29.13" fill="#ffc60a"/>
<rect x="882" y="1691.78" width="1.6" height="28.27" fill="#ffc60a"/>
<rect x="886" y="1691.77" width="1.6" height="28.28" fill="#ffc60a"/>
<rect x="909.4" y="1691.93" width="1.6" height="28.12" fill="#ffc60a"/>
<rect x="936.2" y="1691.5" width="1.6" height="28.55" fill="#ffc60a"/>
<rect x="978.8" y="1692.06" width="1.6" height="27.99" fill="#ffc60a"/>
<line x1="714.6" y1="1720.55" x2="1045.2" y2="1720.55" stroke="#d2d2d2" stroke-width="1.2"/>
<line x1="1046.2" y1="1692.2" x2="1050.7" y2="1692.2" stroke="#ffc60a" stroke-width="1.5"/>
<text x="1049.7" y="1705.2" font-size="19.5" fill="#ffc60a" letter-spacing="-0.6">100</text>
<rect x="715.3" y="1727.26" width="1.6" height="28.84" fill="#96cc0a"/>
<rect x="719" y="1727.34" width="1.6" height="28.76" fill="#96cc0a"/>
<rect x="720.45" y="1727.06" width="1.6" height="29.04" fill="#96cc0a"/>
<rect x="721.9" y="1727.89" width="1.6" height="28.21" fill="#96cc0a"/>
<rect x="728.7" y="1727.44" width="1.6" height="28.66" fill="#96cc0a"/>
<rect x="737.3" y="1727.12" width="1.6" height="28.98" fill="#96cc0a"/>
<rect x="743.4" y="1726.97" width="1.6" height="29.13" fill="#96cc0a"/>
<rect x="749.1" y="1727.8" width="1.6" height="28.3" fill="#96cc0a"/>
<rect x="776.7" y="1727.63" width="1.6" height="28.47" fill="#96cc0a"/>
<rect x="792.6" y="1727.79" width="1.6" height="28.31" fill="#96cc0a"/>
<rect x="827.6" y="1727.3" width="1.6" height="28.8" fill="#96cc0a"/>
<rect x="840.5" y="1727.45" width="1.6" height="28.65" fill="#96cc0a"/>
<rect x="871.7" y="1726.94" width="1.6" height="29.16" fill="#96cc0a"/>
<rect x="877.7" y="1727.79" width="1.6" height="28.31" fill="#96cc0a"/>
<rect x="882" y="1726.74" width="1.6" height="29.36" fill="#96cc0a"/>
<rect x="886" y="1727.42" width="1.6" height="28.68" fill="#96cc0a"/>
<rect x="909.4" y="1727.86" width="1.6" height="28.24" fill="#96cc0a"/>
<rect x="936.2" y="1727.74" width="1.6" height="28.36" fill="#96cc0a"/>
<rect x="978.8" y="1726.86" width="1.6" height="29.24" fill="#96cc0a"/>
<line x1="714.6" y1="1756.6" x2="1045.2" y2="1756.6" stroke="#d2d2d2" stroke-width="1.2"/>
<line x1="1046.2" y1="1728.25" x2="1050.7" y2="1728.25" stroke="#96cc0a" stroke-width="1.5"/>
<text x="1049.7" y="1741.25" font-size="19.5" fill="#96cc0a" letter-spacing="-0.6">100</text>
<rect x="737.3" y="1770.73" width="1.6" height="21.42" fill="#9a6404"/>
<rect x="749.1" y="1770.78" width="1.6" height="21.37" fill="#9a6404"/>
<rect x="776.7" y="1769.12" width="1.6" height="23.03" fill="#9a6404"/>
<rect x="792.6" y="1769.81" width="1.6" height="22.34" fill="#9a6404"/>
<rect x="827.6" y="1768.06" width="1.6" height="24.09" fill="#9a6404"/>
<rect x="840.5" y="1768.92" width="1.6" height="23.23" fill="#9a6404"/>
<rect x="871.7" y="1768.03" width="1.6" height="24.12" fill="#9a6404"/>
<rect x="877.7" y="1773.97" width="1.6" height="18.18" fill="#9a6404"/>
<rect x="882" y="1770.94" width="1.6" height="21.21" fill="#9a6404"/>
<rect x="886" y="1783.06" width="1.6" height="9.09" fill="#9a6404"/>
<rect x="909.4" y="1771.47" width="1.6" height="20.68" fill="#9a6404"/>
<rect x="978.8" y="1771.3" width="1.6" height="20.85" fill="#9a6404"/>
<line x1="714.6" y1="1792.65" x2="1045.2" y2="1792.65" stroke="#d2d2d2" stroke-width="1.2"/>
<line x1="1046.2" y1="1764.3" x2="1050.7" y2="1764.3" stroke="#9a6404" stroke-width="1.5"/>
<text x="1049.7" y="1777.3" font-size="19.5" fill="#9a6404" letter-spacing="-0.6">100</text>
<rect x="715.4" y="1797.35" width="1.2" height="12.5" fill="#2a2ad0"/>
<rect x="719.1" y="1797.35" width="1.2" height="12.5" fill="#2a2ad0"/>
<rect x="720.55" y="1797.35" width="1.2" height="12.5" fill="#2a2ad0"/>
<rect x="722" y="1797.35" width="1.2" height="12.5" fill="#2a2ad0"/>
<rect x="728.8" y="1797.35" width="1.2" height="12.5" fill="#2a2ad0"/>
<rect x="737.4" y="1797.35" width="1.2" height="12.5" fill="#2a2ad0"/>
<rect x="743.5" y="1797.35" width="1.2" height="12.5" fill="#2a2ad0"/>
<rect x="749.2" y="1797.35" width="1.2" height="12.5" fill="#2a2ad0"/>
<rect x="776.8" y="1797.35" width="1.2" height="12.5" fill="#2a2ad0"/>
<rect x="792.7" y="1797.35" width="1.2" height="12.5" fill="#2a2ad0"/>
<rect x="827.7" y="1797.35" width="1.2" height="12.5" fill="#2a2ad0"/>
<rect x="840.6" y="1797.35" width="1.2" height="12.5" fill="#2a2ad0"/>
<rect x="871.8" y="1797.35" width="1.2" height="12.5" fill="#2a2ad0"/>
<rect x="877.8" y="1797.35" width="1.2" height="12.5" fill="#2a2ad0"/>
<rect x="882.1" y="1797.35" width="1.2" height="12.5" fill="#2a2ad0"/>
<rect x="886.1" y="1797.35" width="1.2" height="12.5" fill="#2a2ad0"/>
<rect x="909.5" y="1797.35" width="1.2" height="12.5" fill="#2a2ad0"/>
<rect x="936.3" y="1797.35" width="1.2" height="12.5" fill="#2a2ad0"/>
<rect x="978.9" y="1797.35" width="1.2" height="12.5" fill="#2a2ad0"/>
<line x1="714.6" y1="1816.35" x2="1045.2" y2="1816.35" stroke="#d2d2d2" stroke-width="1.2"/>
<path d="M714.6 1852.6 L714.6 1852.6 L808.2 1852.6 L808.2 1851.8 L822.5 1851.8 L822.5 1851.5 L826.4 1851.5 L826.4 1851.2 L829.0 1851.2 L829.0 1849.1 L830.3 1849.1 L830.3 1847.8 L831.6 1847.8 L831.6 1848.3 L832.9 1848.3 L832.9 1847.8 L834.2 1847.8 L834.2 1848.4 L835.5 1848.4 L835.5 1848.1 L843.3 1848.1 L843.3 1849.2 L844.6 1849.2 L844.6 1851.2 L845.9 1851.2 L845.9 1851.6 L871.9 1851.6 L871.9 1850.4 L873.2 1850.4 L873.2 1849.6 L884.9 1849.6 L884.9 1850.5 L886.2 1850.5 L886.2 1851.6 L908.3 1851.6 L908.3 1852.5 L1046.1 1852.5 L1046.1 1852.6 Z" fill="#c8102e"/>
<line x1="714.6" y1="1852.1" x2="1045.2" y2="1852.1" stroke="#c8102e" stroke-width="1.2"/>
<line x1="1046.2" y1="1825.05" x2="1050.7" y2="1825.05" stroke="#c8102e" stroke-width="1.5"/>
<text x="1049.7" y="1837.85" font-size="19.5" fill="#c8102e" letter-spacing="-0.6">50</text>
<path d="M714.6 1888.6 L714.6 1888.6 L780.9 1888.6 L780.9 1887.6 L792.6 1887.6 L792.6 1888.6 L851.1 1888.6 L851.1 1887.9 L852.4 1887.9 L852.4 1887.6 L866.7 1887.6 L866.7 1886.6 L868.0 1886.6 L868.0 1885.0 L869.3 1885.0 L869.3 1883.3 L870.6 1883.3 L870.6 1881.8 L871.9 1881.8 L871.9 1880.7 L873.2 1880.7 L873.2 1878.2 L874.5 1878.2 L874.5 1877.3 L875.8 1877.3 L875.8 1875.5 L878.4 1875.5 L878.4 1873.8 L879.7 1873.8 L879.7 1873.0 L882.3 1873.0 L882.3 1875.7 L883.6 1875.7 L883.6 1876.2 L884.9 1876.2 L884.9 1877.2 L886.2 1877.2 L886.2 1879.1 L887.5 1879.1 L887.5 1879.7 L888.8 1879.7 L888.8 1880.8 L890.1 1880.8 L890.1 1882.7 L891.4 1882.7 L891.4 1884.1 L892.7 1884.1 L892.7 1885.7 L894.0 1885.7 L894.0 1887.2 L895.3 1887.2 L895.3 1888.5 L923.9 1888.5 L923.9 1887.6 L936.9 1887.6 L936.9 1888.1 L938.2 1888.1 L938.2 1888.6 L1007.1 1888.6 L1007.1 1887.1 L1008.4 1887.1 L1008.4 1886.6 L1022.7 1886.6 L1022.7 1888.6 L1046.1 1888.6 L1046.1 1888.6 Z" fill="#999999"/>
<line x1="714.6" y1="1888.15" x2="1045.2" y2="1888.15" stroke="#999999" stroke-width="1.2"/>
<line x1="1046.2" y1="1861.1" x2="1050.7" y2="1861.1" stroke="#999999" stroke-width="1.5"/>
<text x="1049.7" y="1873.9" font-size="19.5" fill="#999999" letter-spacing="-0.6">50</text>
<path d="M714.6 1924.7 L714.6 1924.7 L779.6 1924.7 L779.6 1924.2 L780.9 1924.2 L780.9 1922.7 L805.6 1922.7 L805.6 1924.7 L856.3 1924.7 L856.3 1922.8 L864.1 1922.8 L864.1 1922.5 L877.1 1922.5 L877.1 1922.2 L891.4 1922.2 L891.4 1922.5 L901.8 1922.5 L901.8 1923.6 L903.1 1923.6 L903.1 1924.7 L1046.1 1924.7 L1046.1 1924.7 Z" fill="#9a6404"/>
<line x1="714.6" y1="1924.2" x2="1045.2" y2="1924.2" stroke="#9a6404" stroke-width="1.2"/>
<line x1="1046.2" y1="1897.15" x2="1050.7" y2="1897.15" stroke="#9a6404" stroke-width="1.5"/>
<text x="1049.7" y="1909.95" font-size="19.5" fill="#9a6404" letter-spacing="-0.6">50</text>
<line x1="903.8" y1="1527.3" x2="891.51" y2="1537.26" stroke="#000" stroke-width="2.6"/>
<path d="M885.3 1542.3 L889.92 1532.12 L896.22 1539.89 Z" fill="#000"/>
<line x1="903.8" y1="1565.3" x2="891.51" y2="1575.26" stroke="#000" stroke-width="2.6"/>
<path d="M885.3 1580.3 L889.92 1570.12 L896.22 1577.89 Z" fill="#000"/>
<line x1="903.8" y1="1601.6" x2="891.51" y2="1611.56" stroke="#000" stroke-width="2.6"/>
<path d="M885.3 1616.6 L889.92 1606.42 L896.22 1614.19 Z" fill="#000"/>
<line x1="903.8" y1="1746.4" x2="891.51" y2="1756.36" stroke="#000" stroke-width="2.6"/>
<path d="M885.3 1761.4 L889.92 1751.22 L896.22 1758.99 Z" fill="#000"/>
<line x1="714.6" y1="1967.3" x2="1045" y2="1967.3" stroke="#1212e8" stroke-width="1.1"/>
<path d="M715.7 1963.4 Q717.7 1967.3 715.7 1971.2 M724.72 1963.4 Q726.72 1967.3 724.72 1971.2 M733.74 1963.4 Q735.74 1967.3 733.74 1971.2 M742.76 1963.4 Q744.76 1967.3 742.76 1971.2 M751.78 1963.4 Q753.78 1967.3 751.78 1971.2 M760.8 1963.4 Q762.8 1967.3 760.8 1971.2 M769.82 1963.4 Q771.82 1967.3 769.82 1971.2 M778.84 1963.4 Q780.84 1967.3 778.84 1971.2 M787.86 1963.4 Q789.86 1967.3 787.86 1971.2 M796.88 1963.4 Q798.88 1967.3 796.88 1971.2 M805.9 1963.4 Q807.9 1967.3 805.9 1971.2 M814.92 1963.4 Q816.92 1967.3 814.92 1971.2 M823.94 1963.4 Q825.94 1967.3 823.94 1971.2 M832.96 1963.4 Q834.96 1967.3 832.96 1971.2 M841.98 1963.4 Q843.98 1967.3 841.98 1971.2 M851 1963.4 Q853 1967.3 851 1971.2 M860.02 1963.4 Q862.02 1967.3 860.02 1971.2 M869.04 1963.4 Q871.04 1967.3 869.04 1971.2 M878.06 1963.4 Q880.06 1967.3 878.06 1971.2 M905.12 1963.4 Q907.12 1967.3 905.12 1971.2 M914.14 1963.4 Q916.14 1967.3 914.14 1971.2 M923.16 1963.4 Q925.16 1967.3 923.16 1971.2 M932.18 1963.4 Q934.18 1967.3 932.18 1971.2 M941.2 1963.4 Q943.2 1967.3 941.2 1971.2 M950.22 1963.4 Q952.22 1967.3 950.22 1971.2 M959.24 1963.4 Q961.24 1967.3 959.24 1971.2 M968.26 1963.4 Q970.26 1967.3 968.26 1971.2 M977.28 1963.4 Q979.28 1967.3 977.28 1971.2 M986.3 1963.4 Q988.3 1967.3 986.3 1971.2 M995.32 1963.4 Q997.32 1967.3 995.32 1971.2 M1004.34 1963.4 Q1006.34 1967.3 1004.34 1971.2 M1013.36 1963.4 Q1015.36 1967.3 1013.36 1971.2 M1022.38 1963.4 Q1024.38 1967.3 1022.38 1971.2 M1031.4 1963.4 Q1033.4 1967.3 1031.4 1971.2 M1040.42 1963.4 Q1042.42 1967.3 1040.42 1971.2 " fill="none" stroke="#1212e8" stroke-width="1.3"/>
<rect x="881.5" y="1957.8" width="13.1" height="18.6" fill="#0000b0"/>
<path d="M889.3 1963.8 Q891.1 1967.3 889.3 1970.8 " fill="none" stroke="#fff" stroke-width="1"/>
<text x="946.69" y="1956" font-size="24.2" fill="#1010a8" font-style="italic">CCDC93</text>
<ellipse cx="882.3" cy="2031" rx="21.5" ry="26.6" fill="none" stroke="#c4c4c4" stroke-width="3"/>
<text transform="matrix(0.31097 0 0 0.46076 796.17 2046.7)" font-size="100" font-weight="bold" fill="#e20f0f">T</text>
<text transform="matrix(0.31097 0 0 0.46076 812.52 2046.7)" font-size="100" font-weight="bold" fill="#e20f0f">T</text>
<text transform="matrix(0.31097 0 0 0.46076 828.87 2046.7)" font-size="100" font-weight="bold" fill="#e20f0f">T</text>
<text transform="matrix(0.27137 0 0 0.44774 844.46 2046.26)" font-size="100" font-weight="bold" fill="#fba500">G</text>
<text transform="matrix(0.28008 0 0 0.44774 860.77 2046.26)" font-size="100" font-weight="bold" fill="#1450f5">C</text>
<text transform="matrix(0.27137 0 0 0.44774 877.16 2046.26)" font-size="100" font-weight="bold" fill="#fba500">G</text>
<text transform="matrix(0.28008 0 0 0.44774 893.47 2046.26)" font-size="100" font-weight="bold" fill="#1450f5">C</text>
<text transform="matrix(0.27295 0 0 0.46076 910.29 2046.7)" font-size="100" font-weight="bold" fill="#10b21e">A</text>
<text transform="matrix(0.27295 0 0 0.46076 926.64 2046.7)" font-size="100" font-weight="bold" fill="#10b21e">A</text>
<text transform="matrix(0.31097 0 0 0.46076 943.32 2046.7)" font-size="100" font-weight="bold" fill="#e20f0f">T</text>
<line x1="1170" y1="1516.3" x2="1286.93" y2="1516.3" stroke="#000" stroke-width="2"/>
<line x1="1371.67" y1="1516.3" x2="1488.6" y2="1516.3" stroke="#000" stroke-width="2"/>
<path d="M1163.5 1516.3 L1173.5 1512.3 L1173.5 1520.3 Z" fill="#000"/>
<path d="M1495.1 1516.3 L1485.1 1520.3 L1485.1 1512.3 Z" fill="#000"/>
<text x="1299.88" y="1521.3" font-size="20.8" fill="#000">2.8 kb</text>
<rect x="1164" y="1540" width="330.6" height="383.7" fill="#f8f8f8"/>
<rect x="1167.3" y="1547.38" width="1.6" height="28.47" fill="#c8102e"/>
<rect x="1172.2" y="1546.78" width="1.6" height="29.07" fill="#c8102e"/>
<rect x="1185" y="1546.99" width="1.6" height="28.86" fill="#c8102e"/>
<rect x="1195.1" y="1547.97" width="1.6" height="27.88" fill="#c8102e"/>
<rect x="1199" y="1546.97" width="1.6" height="28.88" fill="#c8102e"/>
<rect x="1228.5" y="1551.61" width="1.6" height="24.24" fill="#c8102e"/>
<rect x="1230.7" y="1568.27" width="1.6" height="7.58" fill="#c8102e"/>
<rect x="1233.2" y="1572.21" width="1.6" height="3.64" fill="#c8102e"/>
<rect x="1255" y="1572.82" width="1.6" height="3.03" fill="#c8102e"/>
<rect x="1317.8" y="1553.12" width="1.6" height="22.73" fill="#c8102e"/>
<rect x="1326.1" y="1547.87" width="1.6" height="27.98" fill="#c8102e"/>
<rect x="1354.1" y="1547.83" width="1.6" height="28.02" fill="#c8102e"/>
<rect x="1360.1" y="1547.9" width="1.6" height="27.95" fill="#c8102e"/>
<rect x="1377" y="1547.19" width="1.6" height="28.66" fill="#c8102e"/>
<rect x="1391.1" y="1547.63" width="1.6" height="28.22" fill="#c8102e"/>
<rect x="1395.2" y="1547.08" width="1.6" height="28.77" fill="#c8102e"/>
<rect x="1425.4" y="1547.97" width="1.6" height="27.88" fill="#c8102e"/>
<rect x="1456.8" y="1547.85" width="1.6" height="28" fill="#c8102e"/>
<rect x="1459.7" y="1546.9" width="1.6" height="28.95" fill="#c8102e"/>
<rect x="1468.4" y="1547.87" width="1.6" height="27.98" fill="#c8102e"/>
<rect x="1474.2" y="1546.74" width="1.6" height="29.11" fill="#c8102e"/>
<rect x="1487.7" y="1546.6" width="1.6" height="29.25" fill="#c8102e"/>
<line x1="1164" y1="1576.35" x2="1494.6" y2="1576.35" stroke="#d2d2d2" stroke-width="1.2"/>
<line x1="1495.6" y1="1548" x2="1500.1" y2="1548" stroke="#c8102e" stroke-width="1.5"/>
<text x="1499.1" y="1561" font-size="19.5" fill="#c8102e" letter-spacing="-0.6">100</text>
<rect x="1167.3" y="1583.6" width="1.6" height="28.3" fill="#13a0a0"/>
<rect x="1172.2" y="1582.95" width="1.6" height="28.95" fill="#13a0a0"/>
<rect x="1185" y="1583.3" width="1.6" height="28.6" fill="#13a0a0"/>
<rect x="1195.1" y="1583.48" width="1.6" height="28.42" fill="#13a0a0"/>
<rect x="1199" y="1582.57" width="1.6" height="29.33" fill="#13a0a0"/>
<rect x="1228.5" y="1587.66" width="1.6" height="24.24" fill="#13a0a0"/>
<rect x="1230.7" y="1601.29" width="1.6" height="10.61" fill="#13a0a0"/>
<rect x="1233.2" y="1602.81" width="1.6" height="9.09" fill="#13a0a0"/>
<rect x="1255" y="1605.84" width="1.6" height="6.06" fill="#13a0a0"/>
<rect x="1263" y="1602.81" width="1.6" height="9.09" fill="#13a0a0"/>
<rect x="1297.3" y="1595.23" width="1.6" height="16.67" fill="#13a0a0"/>
<rect x="1304.1" y="1602.81" width="1.6" height="9.09" fill="#13a0a0"/>
<rect x="1317.8" y="1590.69" width="1.6" height="21.21" fill="#13a0a0"/>
<rect x="1323.9" y="1610.38" width="1.6" height="1.52" fill="#13a0a0"/>
<rect x="1326.1" y="1583.13" width="1.6" height="28.77" fill="#13a0a0"/>
<rect x="1354.1" y="1583.57" width="1.6" height="28.33" fill="#13a0a0"/>
<rect x="1360.1" y="1583.99" width="1.6" height="27.91" fill="#13a0a0"/>
<rect x="1377" y="1583.99" width="1.6" height="27.91" fill="#13a0a0"/>
<rect x="1391.1" y="1583.84" width="1.6" height="28.06" fill="#13a0a0"/>
<rect x="1395.2" y="1583.07" width="1.6" height="28.83" fill="#13a0a0"/>
<rect x="1425.4" y="1582.75" width="1.6" height="29.15" fill="#13a0a0"/>
<rect x="1456.8" y="1582.98" width="1.6" height="28.92" fill="#13a0a0"/>
<rect x="1459.7" y="1583.21" width="1.6" height="28.69" fill="#13a0a0"/>
<rect x="1468.4" y="1583.31" width="1.6" height="28.59" fill="#13a0a0"/>
<rect x="1474.2" y="1583.33" width="1.6" height="28.57" fill="#13a0a0"/>
<rect x="1487.7" y="1583.05" width="1.6" height="28.85" fill="#13a0a0"/>
<line x1="1164" y1="1612.4" x2="1494.6" y2="1612.4" stroke="#d2d2d2" stroke-width="1.2"/>
<line x1="1495.6" y1="1584.05" x2="1500.1" y2="1584.05" stroke="#13a0a0" stroke-width="1.5"/>
<text x="1499.1" y="1597.05" font-size="19.5" fill="#13a0a0" letter-spacing="-0.6">100</text>
<rect x="1167.3" y="1619.85" width="1.6" height="28.1" fill="#0b64a4"/>
<rect x="1172.2" y="1618.99" width="1.6" height="28.96" fill="#0b64a4"/>
<rect x="1185" y="1619.26" width="1.6" height="28.69" fill="#0b64a4"/>
<rect x="1195.1" y="1619.9" width="1.6" height="28.05" fill="#0b64a4"/>
<rect x="1199" y="1619.78" width="1.6" height="28.17" fill="#0b64a4"/>
<rect x="1228.5" y="1623.71" width="1.6" height="24.24" fill="#0b64a4"/>
<rect x="1230.7" y="1637.34" width="1.6" height="10.61" fill="#0b64a4"/>
<rect x="1233.2" y="1638.86" width="1.6" height="9.09" fill="#0b64a4"/>
<rect x="1255" y="1641.89" width="1.6" height="6.06" fill="#0b64a4"/>
<rect x="1263" y="1643.4" width="1.6" height="4.54" fill="#0b64a4"/>
<rect x="1297.3" y="1631.28" width="1.6" height="16.67" fill="#0b64a4"/>
<rect x="1304.1" y="1638.86" width="1.6" height="9.09" fill="#0b64a4"/>
<rect x="1317.8" y="1626.74" width="1.6" height="21.21" fill="#0b64a4"/>
<rect x="1326.1" y="1618.87" width="1.6" height="29.08" fill="#0b64a4"/>
<rect x="1354.1" y="1619.75" width="1.6" height="28.2" fill="#0b64a4"/>
<rect x="1360.1" y="1620.04" width="1.6" height="27.91" fill="#0b64a4"/>
<rect x="1377" y="1618.61" width="1.6" height="29.34" fill="#0b64a4"/>
<rect x="1391.1" y="1618.84" width="1.6" height="29.11" fill="#0b64a4"/>
<rect x="1395.2" y="1618.58" width="1.6" height="29.37" fill="#0b64a4"/>
<rect x="1425.4" y="1619.21" width="1.6" height="28.74" fill="#0b64a4"/>
<rect x="1456.8" y="1619.07" width="1.6" height="28.88" fill="#0b64a4"/>
<rect x="1459.7" y="1618.64" width="1.6" height="29.31" fill="#0b64a4"/>
<rect x="1468.4" y="1619.39" width="1.6" height="28.56" fill="#0b64a4"/>
<rect x="1474.2" y="1618.7" width="1.6" height="29.25" fill="#0b64a4"/>
<rect x="1487.7" y="1619.03" width="1.6" height="28.92" fill="#0b64a4"/>
<line x1="1164" y1="1648.45" x2="1494.6" y2="1648.45" stroke="#d2d2d2" stroke-width="1.2"/>
<line x1="1495.6" y1="1620.1" x2="1500.1" y2="1620.1" stroke="#0b64a4" stroke-width="1.5"/>
<text x="1499.1" y="1633.1" font-size="19.5" fill="#0b64a4" letter-spacing="-0.6">100</text>
<rect x="1167.3" y="1654.98" width="1.6" height="29.02" fill="#0bc63a"/>
<rect x="1172.2" y="1655.82" width="1.6" height="28.18" fill="#0bc63a"/>
<rect x="1185" y="1655.24" width="1.6" height="28.76" fill="#0bc63a"/>
<rect x="1195.1" y="1655" width="1.6" height="29" fill="#0bc63a"/>
<rect x="1199" y="1654.68" width="1.6" height="29.32" fill="#0bc63a"/>
<rect x="1228.5" y="1655.26" width="1.6" height="28.74" fill="#0bc63a"/>
<rect x="1230.7" y="1668.85" width="1.6" height="15.15" fill="#0bc63a"/>
<rect x="1233.2" y="1673.39" width="1.6" height="10.61" fill="#0bc63a"/>
<rect x="1255" y="1674.91" width="1.6" height="9.09" fill="#0bc63a"/>
<rect x="1297.3" y="1654.98" width="1.6" height="29.02" fill="#0bc63a"/>
<rect x="1304.1" y="1654.81" width="1.6" height="29.19" fill="#0bc63a"/>
<rect x="1317.8" y="1655.76" width="1.6" height="28.24" fill="#0bc63a"/>
<rect x="1323.9" y="1662.79" width="1.6" height="21.21" fill="#0bc63a"/>
<rect x="1326.1" y="1655.38" width="1.6" height="28.62" fill="#0bc63a"/>
<rect x="1328.7" y="1655.87" width="1.6" height="28.13" fill="#0bc63a"/>
<rect x="1333.1" y="1655.45" width="1.6" height="28.55" fill="#0bc63a"/>
<rect x="1354.1" y="1654.86" width="1.6" height="29.14" fill="#0bc63a"/>
<rect x="1360.1" y="1654.63" width="1.6" height="29.37" fill="#0bc63a"/>
<rect x="1377" y="1655.58" width="1.6" height="28.42" fill="#0bc63a"/>
<rect x="1391.1" y="1655.97" width="1.6" height="28.03" fill="#0bc63a"/>
<rect x="1395.2" y="1655.98" width="1.6" height="28.02" fill="#0bc63a"/>
<rect x="1425.4" y="1655.32" width="1.6" height="28.68" fill="#0bc63a"/>
<rect x="1456.8" y="1655.62" width="1.6" height="28.38" fill="#0bc63a"/>
<rect x="1459.7" y="1656.02" width="1.6" height="27.98" fill="#0bc63a"/>
<rect x="1468.4" y="1655.84" width="1.6" height="28.16" fill="#0bc63a"/>
<rect x="1474.2" y="1655.52" width="1.6" height="28.48" fill="#0bc63a"/>
<rect x="1487.7" y="1655.24" width="1.6" height="28.76" fill="#0bc63a"/>
<line x1="1164" y1="1684.5" x2="1494.6" y2="1684.5" stroke="#d2d2d2" stroke-width="1.2"/>
<line x1="1495.6" y1="1656.15" x2="1500.1" y2="1656.15" stroke="#0bc63a" stroke-width="1.5"/>
<text x="1499.1" y="1669.15" font-size="19.5" fill="#0bc63a" letter-spacing="-0.6">100</text>
<rect x="1167.3" y="1691.44" width="1.6" height="28.61" fill="#ffc60a"/>
<rect x="1172.2" y="1690.92" width="1.6" height="29.13" fill="#ffc60a"/>
<rect x="1185" y="1690.94" width="1.6" height="29.11" fill="#ffc60a"/>
<rect x="1195.1" y="1691.69" width="1.6" height="28.36" fill="#ffc60a"/>
<rect x="1199" y="1692.16" width="1.6" height="27.89" fill="#ffc60a"/>
<rect x="1228.5" y="1691.49" width="1.6" height="28.56" fill="#ffc60a"/>
<rect x="1230.7" y="1704.9" width="1.6" height="15.15" fill="#ffc60a"/>
<rect x="1233.2" y="1709.44" width="1.6" height="10.61" fill="#ffc60a"/>
<rect x="1255" y="1710.96" width="1.6" height="9.09" fill="#ffc60a"/>
<rect x="1263" y="1713.99" width="1.6" height="6.06" fill="#ffc60a"/>
<rect x="1297.3" y="1691.34" width="1.6" height="28.71" fill="#ffc60a"/>
<rect x="1304.1" y="1692.11" width="1.6" height="27.94" fill="#ffc60a"/>
<rect x="1317.8" y="1690.89" width="1.6" height="29.16" fill="#ffc60a"/>
<rect x="1323.9" y="1698.84" width="1.6" height="21.21" fill="#ffc60a"/>
<rect x="1326.1" y="1691.45" width="1.6" height="28.6" fill="#ffc60a"/>
<rect x="1328.7" y="1691.28" width="1.6" height="28.77" fill="#ffc60a"/>
<rect x="1333.1" y="1691.95" width="1.6" height="28.1" fill="#ffc60a"/>
<rect x="1338.2" y="1691.91" width="1.6" height="28.14" fill="#ffc60a"/>
<rect x="1354.1" y="1692.07" width="1.6" height="27.98" fill="#ffc60a"/>
<rect x="1360.1" y="1691.59" width="1.6" height="28.46" fill="#ffc60a"/>
<rect x="1377" y="1690.71" width="1.6" height="29.34" fill="#ffc60a"/>
<rect x="1391.1" y="1691.53" width="1.6" height="28.52" fill="#ffc60a"/>
<rect x="1395.2" y="1691.49" width="1.6" height="28.56" fill="#ffc60a"/>
<rect x="1425.4" y="1691.4" width="1.6" height="28.65" fill="#ffc60a"/>
<rect x="1456.8" y="1691.08" width="1.6" height="28.97" fill="#ffc60a"/>
<rect x="1459.7" y="1691.73" width="1.6" height="28.32" fill="#ffc60a"/>
<rect x="1468.4" y="1692.04" width="1.6" height="28.01" fill="#ffc60a"/>
<rect x="1474.2" y="1690.81" width="1.6" height="29.24" fill="#ffc60a"/>
<rect x="1487.7" y="1691.67" width="1.6" height="28.38" fill="#ffc60a"/>
<line x1="1164" y1="1720.55" x2="1494.6" y2="1720.55" stroke="#d2d2d2" stroke-width="1.2"/>
<line x1="1495.6" y1="1692.2" x2="1500.1" y2="1692.2" stroke="#ffc60a" stroke-width="1.5"/>
<text x="1499.1" y="1705.2" font-size="19.5" fill="#ffc60a" letter-spacing="-0.6">100</text>
<rect x="1167.3" y="1727.27" width="1.6" height="28.83" fill="#96cc0a"/>
<rect x="1172.2" y="1727.49" width="1.6" height="28.61" fill="#96cc0a"/>
<rect x="1185" y="1728.07" width="1.6" height="28.03" fill="#96cc0a"/>
<rect x="1195.1" y="1728.16" width="1.6" height="27.94" fill="#96cc0a"/>
<rect x="1199" y="1727.68" width="1.6" height="28.42" fill="#96cc0a"/>
<rect x="1228.5" y="1727" width="1.6" height="29.1" fill="#96cc0a"/>
<rect x="1230.7" y="1740.95" width="1.6" height="15.15" fill="#96cc0a"/>
<rect x="1233.2" y="1745.49" width="1.6" height="10.61" fill="#96cc0a"/>
<rect x="1255" y="1747.01" width="1.6" height="9.09" fill="#96cc0a"/>
<rect x="1263" y="1750.04" width="1.6" height="6.06" fill="#96cc0a"/>
<rect x="1297.3" y="1727.19" width="1.6" height="28.91" fill="#96cc0a"/>
<rect x="1304.1" y="1727.12" width="1.6" height="28.98" fill="#96cc0a"/>
<rect x="1317.8" y="1728.15" width="1.6" height="27.95" fill="#96cc0a"/>
<rect x="1323.9" y="1734.89" width="1.6" height="21.21" fill="#96cc0a"/>
<rect x="1326.1" y="1727.19" width="1.6" height="28.91" fill="#96cc0a"/>
<rect x="1328.7" y="1727.3" width="1.6" height="28.8" fill="#96cc0a"/>
<rect x="1333.1" y="1727.14" width="1.6" height="28.96" fill="#96cc0a"/>
<rect x="1338.2" y="1726.91" width="1.6" height="29.19" fill="#96cc0a"/>
<rect x="1354.1" y="1727.09" width="1.6" height="29.01" fill="#96cc0a"/>
<rect x="1360.1" y="1728.19" width="1.6" height="27.91" fill="#96cc0a"/>
<rect x="1377" y="1726.83" width="1.6" height="29.27" fill="#96cc0a"/>
<rect x="1391.1" y="1727.06" width="1.6" height="29.04" fill="#96cc0a"/>
<rect x="1395.2" y="1727.01" width="1.6" height="29.09" fill="#96cc0a"/>
<rect x="1425.4" y="1726.83" width="1.6" height="29.27" fill="#96cc0a"/>
<rect x="1456.8" y="1727.51" width="1.6" height="28.59" fill="#96cc0a"/>
<rect x="1459.7" y="1727.83" width="1.6" height="28.27" fill="#96cc0a"/>
<rect x="1468.4" y="1727.98" width="1.6" height="28.12" fill="#96cc0a"/>
<rect x="1474.2" y="1727.67" width="1.6" height="28.43" fill="#96cc0a"/>
<rect x="1487.7" y="1727.95" width="1.6" height="28.15" fill="#96cc0a"/>
<line x1="1164" y1="1756.6" x2="1494.6" y2="1756.6" stroke="#d2d2d2" stroke-width="1.2"/>
<line x1="1495.6" y1="1728.25" x2="1500.1" y2="1728.25" stroke="#96cc0a" stroke-width="1.5"/>
<text x="1499.1" y="1741.25" font-size="19.5" fill="#96cc0a" letter-spacing="-0.6">100</text>
<rect x="1167.3" y="1767.91" width="1.6" height="24.24" fill="#9a6404"/>
<rect x="1172.2" y="1762.52" width="1.6" height="29.63" fill="#9a6404"/>
<rect x="1185" y="1780.03" width="1.6" height="12.12" fill="#9a6404"/>
<rect x="1195.1" y="1766.67" width="1.6" height="25.48" fill="#9a6404"/>
<rect x="1228.5" y="1791.24" width="1.6" height="0.91" fill="#9a6404"/>
<rect x="1297.3" y="1781.54" width="1.6" height="10.61" fill="#9a6404"/>
<rect x="1304.1" y="1786.09" width="1.6" height="6.06" fill="#9a6404"/>
<rect x="1317.8" y="1780.03" width="1.6" height="12.12" fill="#9a6404"/>
<rect x="1326.1" y="1765.59" width="1.6" height="26.56" fill="#9a6404"/>
<rect x="1328.7" y="1786.09" width="1.6" height="6.06" fill="#9a6404"/>
<rect x="1333.1" y="1777" width="1.6" height="15.15" fill="#9a6404"/>
<rect x="1338.2" y="1770.94" width="1.6" height="21.21" fill="#9a6404"/>
<rect x="1354.1" y="1765.79" width="1.6" height="26.36" fill="#9a6404"/>
<rect x="1360.1" y="1767.2" width="1.6" height="24.95" fill="#9a6404"/>
<rect x="1377" y="1765.63" width="1.6" height="26.52" fill="#9a6404"/>
<rect x="1391.1" y="1763.68" width="1.6" height="28.47" fill="#9a6404"/>
<rect x="1395.2" y="1763.51" width="1.6" height="28.64" fill="#9a6404"/>
<rect x="1425.4" y="1764.55" width="1.6" height="27.6" fill="#9a6404"/>
<rect x="1456.8" y="1765.05" width="1.6" height="27.1" fill="#9a6404"/>
<rect x="1459.7" y="1764.7" width="1.6" height="27.45" fill="#9a6404"/>
<rect x="1468.4" y="1765.16" width="1.6" height="26.99" fill="#9a6404"/>
<rect x="1474.2" y="1764.71" width="1.6" height="27.44" fill="#9a6404"/>
<rect x="1487.7" y="1763.27" width="1.6" height="28.88" fill="#9a6404"/>
<line x1="1164" y1="1792.65" x2="1494.6" y2="1792.65" stroke="#d2d2d2" stroke-width="1.2"/>
<line x1="1495.6" y1="1764.3" x2="1500.1" y2="1764.3" stroke="#9a6404" stroke-width="1.5"/>
<text x="1499.1" y="1777.3" font-size="19.5" fill="#9a6404" letter-spacing="-0.6">100</text>
<rect x="1167.4" y="1797.35" width="1.2" height="12.5" fill="#2a2ad0"/>
<rect x="1172.3" y="1797.35" width="1.2" height="12.5" fill="#2a2ad0"/>
<rect x="1185.1" y="1797.35" width="1.2" height="12.5" fill="#2a2ad0"/>
<rect x="1195.2" y="1797.35" width="1.2" height="12.5" fill="#2a2ad0"/>
<rect x="1199.1" y="1797.35" width="1.2" height="12.5" fill="#2a2ad0"/>
<rect x="1228.6" y="1797.35" width="1.2" height="12.5" fill="#2a2ad0"/>
<rect x="1230.8" y="1797.35" width="1.2" height="12.5" fill="#2a2ad0"/>
<rect x="1233.3" y="1797.35" width="1.2" height="12.5" fill="#2a2ad0"/>
<rect x="1255.1" y="1797.35" width="1.2" height="12.5" fill="#2a2ad0"/>
<rect x="1263.1" y="1797.35" width="1.2" height="12.5" fill="#2a2ad0"/>
<rect x="1297.4" y="1797.35" width="1.2" height="12.5" fill="#2a2ad0"/>
<rect x="1304.2" y="1797.35" width="1.2" height="12.5" fill="#2a2ad0"/>
<rect x="1317.9" y="1797.35" width="1.2" height="12.5" fill="#2a2ad0"/>
<rect x="1324" y="1797.35" width="1.2" height="12.5" fill="#2a2ad0"/>
<rect x="1326.2" y="1797.35" width="1.2" height="12.5" fill="#2a2ad0"/>
<rect x="1328.8" y="1797.35" width="1.2" height="12.5" fill="#2a2ad0"/>
<rect x="1333.2" y="1797.35" width="1.2" height="12.5" fill="#2a2ad0"/>
<rect x="1338.3" y="1797.35" width="1.2" height="12.5" fill="#2a2ad0"/>
<rect x="1354.2" y="1797.35" width="1.2" height="12.5" fill="#2a2ad0"/>
<rect x="1360.2" y="1797.35" width="1.2" height="12.5" fill="#2a2ad0"/>
<rect x="1377.1" y="1797.35" width="1.2" height="12.5" fill="#2a2ad0"/>
<rect x="1391.2" y="1797.35" width="1.2" height="12.5" fill="#2a2ad0"/>
<rect x="1395.3" y="1797.35" width="1.2" height="12.5" fill="#2a2ad0"/>
<rect x="1425.5" y="1797.35" width="1.2" height="12.5" fill="#2a2ad0"/>
<rect x="1456.9" y="1797.35" width="1.2" height="12.5" fill="#2a2ad0"/>
<rect x="1459.8" y="1797.35" width="1.2" height="12.5" fill="#2a2ad0"/>
<rect x="1468.5" y="1797.35" width="1.2" height="12.5" fill="#2a2ad0"/>
<rect x="1474.3" y="1797.35" width="1.2" height="12.5" fill="#2a2ad0"/>
<rect x="1487.8" y="1797.35" width="1.2" height="12.5" fill="#2a2ad0"/>
<line x1="1164" y1="1816.35" x2="1494.6" y2="1816.35" stroke="#d2d2d2" stroke-width="1.2"/>
<path d="M1164.0 1852.6 L1164.0 1852.6 L1268.0 1852.6 L1268.0 1851.8 L1269.3 1851.8 L1269.3 1851.4 L1284.9 1851.4 L1284.9 1852.0 L1294.0 1852.0 L1294.0 1851.7 L1300.5 1851.7 L1300.5 1851.4 L1301.8 1851.4 L1301.8 1851.1 L1304.4 1851.1 L1304.4 1850.6 L1305.7 1850.6 L1305.7 1850.2 L1307.0 1850.2 L1307.0 1849.7 L1308.3 1849.7 L1308.3 1847.7 L1309.6 1847.7 L1309.6 1845.6 L1310.9 1845.6 L1310.9 1844.1 L1313.5 1844.1 L1313.5 1841.8 L1314.8 1841.8 L1314.8 1840.9 L1317.4 1840.9 L1317.4 1838.2 L1318.7 1838.2 L1318.7 1835.2 L1320.0 1835.2 L1320.0 1832.6 L1321.3 1832.6 L1321.3 1827.5 L1322.6 1827.5 L1322.6 1828.0 L1323.9 1828.0 L1323.9 1824.5 L1325.2 1824.5 L1325.2 1827.3 L1327.8 1827.3 L1327.8 1823.1 L1331.7 1823.1 L1331.7 1826.1 L1333.0 1826.1 L1333.0 1828.7 L1334.3 1828.7 L1334.3 1830.3 L1335.6 1830.3 L1335.6 1835.2 L1336.9 1835.2 L1336.9 1837.4 L1338.2 1837.4 L1338.2 1840.5 L1339.5 1840.5 L1339.5 1841.4 L1340.8 1841.4 L1340.8 1840.9 L1342.1 1840.9 L1342.1 1842.2 L1343.4 1842.2 L1343.4 1844.2 L1344.7 1844.2 L1344.7 1846.5 L1346.0 1846.5 L1346.0 1848.3 L1347.3 1848.3 L1347.3 1849.0 L1348.6 1849.0 L1348.6 1849.6 L1352.5 1849.6 L1352.5 1850.0 L1353.8 1850.0 L1353.8 1850.8 L1355.1 1850.8 L1355.1 1851.5 L1356.4 1851.5 L1356.4 1852.2 L1357.7 1852.2 L1357.7 1852.6 L1494.2 1852.6 L1494.2 1852.6 Z" fill="#c8102e"/>
<line x1="1164" y1="1852.1" x2="1494.6" y2="1852.1" stroke="#c8102e" stroke-width="1.2"/>
<line x1="1495.6" y1="1825.05" x2="1500.1" y2="1825.05" stroke="#c8102e" stroke-width="1.5"/>
<text x="1499.1" y="1837.85" font-size="19.5" fill="#c8102e" letter-spacing="-0.6">50</text>
<path d="M1164.0 1888.6 L1164.0 1888.6 L1200.4 1888.6 L1200.4 1888.0 L1213.4 1888.0 L1213.4 1887.6 L1216.0 1887.6 L1216.0 1887.2 L1218.6 1887.2 L1218.6 1886.7 L1235.5 1886.7 L1235.5 1887.4 L1236.8 1887.4 L1236.8 1888.6 L1286.2 1888.6 L1286.2 1888.2 L1288.8 1888.2 L1288.8 1887.7 L1290.1 1887.7 L1290.1 1886.4 L1291.4 1886.4 L1291.4 1884.3 L1292.7 1884.3 L1292.7 1881.9 L1294.0 1881.9 L1294.0 1880.4 L1296.6 1880.4 L1296.6 1880.1 L1297.9 1880.1 L1297.9 1880.6 L1299.2 1880.6 L1299.2 1879.5 L1300.5 1879.5 L1300.5 1880.2 L1303.1 1880.2 L1303.1 1879.3 L1304.4 1879.3 L1304.4 1878.7 L1305.7 1878.7 L1305.7 1879.1 L1307.0 1879.1 L1307.0 1878.3 L1308.3 1878.3 L1308.3 1878.6 L1309.6 1878.6 L1309.6 1877.1 L1310.9 1877.1 L1310.9 1877.5 L1312.2 1877.5 L1312.2 1877.1 L1313.5 1877.1 L1313.5 1876.5 L1314.8 1876.5 L1314.8 1875.0 L1316.1 1875.0 L1316.1 1873.2 L1317.4 1873.2 L1317.4 1872.7 L1318.7 1872.7 L1318.7 1871.4 L1320.0 1871.4 L1320.0 1869.4 L1321.3 1869.4 L1321.3 1870.4 L1322.6 1870.4 L1322.6 1868.6 L1323.9 1868.6 L1323.9 1866.5 L1326.5 1866.5 L1326.5 1869.4 L1327.8 1869.4 L1327.8 1867.4 L1329.1 1867.4 L1329.1 1869.5 L1330.4 1869.5 L1330.4 1868.3 L1331.7 1868.3 L1331.7 1871.8 L1333.0 1871.8 L1333.0 1873.8 L1334.3 1873.8 L1334.3 1874.6 L1335.6 1874.6 L1335.6 1875.6 L1336.9 1875.6 L1336.9 1878.1 L1338.2 1878.1 L1338.2 1878.6 L1339.5 1878.6 L1339.5 1880.0 L1340.8 1880.0 L1340.8 1881.6 L1342.1 1881.6 L1342.1 1882.8 L1343.4 1882.8 L1343.4 1883.7 L1344.7 1883.7 L1344.7 1884.3 L1346.0 1884.3 L1346.0 1884.7 L1348.6 1884.7 L1348.6 1885.2 L1349.9 1885.2 L1349.9 1885.7 L1351.2 1885.7 L1351.2 1886.1 L1352.5 1886.1 L1352.5 1886.5 L1353.8 1886.5 L1353.8 1887.1 L1355.1 1887.1 L1355.1 1887.9 L1360.3 1887.9 L1360.3 1887.6 L1362.9 1887.6 L1362.9 1887.3 L1365.5 1887.3 L1365.5 1887.0 L1368.1 1887.0 L1368.1 1886.7 L1385.0 1886.7 L1385.0 1887.9 L1386.3 1887.9 L1386.3 1888.6 L1472.1 1888.6 L1472.1 1887.7 L1473.4 1887.7 L1473.4 1887.4 L1492.9 1887.4 L1492.9 1887.9 L1494.2 1887.9 L1494.2 1888.6 Z" fill="#999999"/>
<line x1="1164" y1="1888.15" x2="1494.6" y2="1888.15" stroke="#999999" stroke-width="1.2"/>
<line x1="1495.6" y1="1861.1" x2="1500.1" y2="1861.1" stroke="#999999" stroke-width="1.5"/>
<text x="1499.1" y="1873.9" font-size="19.5" fill="#999999" letter-spacing="-0.6">50</text>
<path d="M1164.0 1924.7 L1164.0 1924.7 L1184.8 1924.7 L1184.8 1924.4 L1186.1 1924.4 L1186.1 1924.1 L1200.4 1924.1 L1200.4 1924.7 L1230.3 1924.7 L1230.3 1924.1 L1231.6 1924.1 L1231.6 1923.3 L1232.9 1923.3 L1232.9 1922.5 L1234.2 1922.5 L1234.2 1922.0 L1236.8 1922.0 L1236.8 1921.5 L1238.1 1921.5 L1238.1 1921.2 L1239.4 1921.2 L1239.4 1920.9 L1242.0 1920.9 L1242.0 1920.6 L1243.3 1920.6 L1243.3 1920.9 L1244.6 1920.9 L1244.6 1921.2 L1247.2 1921.2 L1247.2 1921.7 L1248.5 1921.7 L1248.5 1922.0 L1249.8 1922.0 L1249.8 1922.4 L1251.1 1922.4 L1251.1 1923.0 L1252.4 1923.0 L1252.4 1923.6 L1253.7 1923.6 L1253.7 1924.1 L1255.0 1924.1 L1255.0 1924.6 L1307.0 1924.6 L1307.0 1924.2 L1308.3 1924.2 L1308.3 1923.2 L1309.6 1923.2 L1309.6 1922.2 L1310.9 1922.2 L1310.9 1921.3 L1312.2 1921.3 L1312.2 1920.3 L1313.5 1920.3 L1313.5 1919.3 L1314.8 1919.3 L1314.8 1917.7 L1316.1 1917.7 L1316.1 1914.9 L1317.4 1914.9 L1317.4 1912.1 L1318.7 1912.1 L1318.7 1909.3 L1320.0 1909.3 L1320.0 1906.5 L1321.3 1906.5 L1321.3 1903.5 L1322.6 1903.5 L1322.6 1900.4 L1323.9 1900.4 L1323.9 1897.4 L1325.2 1897.4 L1325.2 1895.4 L1335.6 1895.4 L1335.6 1899.4 L1336.9 1899.4 L1336.9 1903.3 L1338.2 1903.3 L1338.2 1906.9 L1339.5 1906.9 L1339.5 1909.5 L1340.8 1909.5 L1340.8 1912.0 L1342.1 1912.0 L1342.1 1914.6 L1343.4 1914.6 L1343.4 1917.2 L1344.7 1917.2 L1344.7 1919.0 L1346.0 1919.0 L1346.0 1920.5 L1347.3 1920.5 L1347.3 1922.1 L1348.6 1922.1 L1348.6 1923.4 L1351.2 1923.4 L1351.2 1923.8 L1353.8 1923.8 L1353.8 1924.1 L1356.4 1924.1 L1356.4 1924.4 L1359.0 1924.4 L1359.0 1924.7 L1494.2 1924.7 L1494.2 1924.7 Z" fill="#9a6404"/>
<line x1="1164" y1="1924.2" x2="1494.6" y2="1924.2" stroke="#9a6404" stroke-width="1.2"/>
<line x1="1495.6" y1="1897.15" x2="1500.1" y2="1897.15" stroke="#9a6404" stroke-width="1.5"/>
<text x="1499.1" y="1909.95" font-size="19.5" fill="#9a6404" letter-spacing="-0.6">50</text>
<line x1="1345.6" y1="1531.4" x2="1333.31" y2="1541.36" stroke="#000" stroke-width="2.6"/>
<path d="M1327.1 1546.4 L1331.72 1536.22 L1338.02 1543.99 Z" fill="#000"/>
<line x1="1345.6" y1="1568.9" x2="1333.31" y2="1578.86" stroke="#000" stroke-width="2.6"/>
<path d="M1327.1 1583.9 L1331.72 1573.72 L1338.02 1581.49 Z" fill="#000"/>
<line x1="1345.6" y1="1605.1" x2="1333.31" y2="1615.06" stroke="#000" stroke-width="2.6"/>
<path d="M1327.1 1620.1 L1331.72 1609.92 L1338.02 1617.69 Z" fill="#000"/>
<line x1="1345.6" y1="1750.1" x2="1333.31" y2="1760.06" stroke="#000" stroke-width="2.6"/>
<path d="M1327.1 1765.1 L1331.72 1754.92 L1338.02 1762.69 Z" fill="#000"/>
<line x1="1166.4" y1="1967.3" x2="1496.2" y2="1967.3" stroke="#1212e8" stroke-width="1.1"/>
<path d="M1167.5 1963.4 Q1169.5 1967.3 1167.5 1971.2 M1176.52 1963.4 Q1178.52 1967.3 1176.52 1971.2 M1185.54 1963.4 Q1187.54 1967.3 1185.54 1971.2 M1194.56 1963.4 Q1196.56 1967.3 1194.56 1971.2 M1203.58 1963.4 Q1205.58 1967.3 1203.58 1971.2 M1212.6 1963.4 Q1214.6 1967.3 1212.6 1971.2 M1221.62 1963.4 Q1223.62 1967.3 1221.62 1971.2 M1230.64 1963.4 Q1232.64 1967.3 1230.64 1971.2 M1239.66 1963.4 Q1241.66 1967.3 1239.66 1971.2 M1248.68 1963.4 Q1250.68 1967.3 1248.68 1971.2 M1257.7 1963.4 Q1259.7 1967.3 1257.7 1971.2 M1284.76 1963.4 Q1286.76 1967.3 1284.76 1971.2 M1293.78 1963.4 Q1295.78 1967.3 1293.78 1971.2 M1302.8 1963.4 Q1304.8 1967.3 1302.8 1971.2 M1311.82 1963.4 Q1313.82 1967.3 1311.82 1971.2 M1320.84 1963.4 Q1322.84 1967.3 1320.84 1971.2 M1329.86 1963.4 Q1331.86 1967.3 1329.86 1971.2 M1338.88 1963.4 Q1340.88 1967.3 1338.88 1971.2 M1347.9 1963.4 Q1349.9 1967.3 1347.9 1971.2 M1356.92 1963.4 Q1358.92 1967.3 1356.92 1971.2 M1365.94 1963.4 Q1367.94 1967.3 1365.94 1971.2 M1374.96 1963.4 Q1376.96 1967.3 1374.96 1971.2 M1383.98 1963.4 Q1385.98 1967.3 1383.98 1971.2 M1393 1963.4 Q1395 1967.3 1393 1971.2 M1402.02 1963.4 Q1404.02 1967.3 1402.02 1971.2 M1411.04 1963.4 Q1413.04 1967.3 1411.04 1971.2 M1420.06 1963.4 Q1422.06 1967.3 1420.06 1971.2 M1429.08 1963.4 Q1431.08 1967.3 1429.08 1971.2 M1438.1 1963.4 Q1440.1 1967.3 1438.1 1971.2 M1447.12 1963.4 Q1449.12 1967.3 1447.12 1971.2 M1456.14 1963.4 Q1458.14 1967.3 1456.14 1971.2 M1465.16 1963.4 Q1467.16 1967.3 1465.16 1971.2 M1474.18 1963.4 Q1476.18 1967.3 1474.18 1971.2 M1483.2 1963.4 Q1485.2 1967.3 1483.2 1971.2 M1492.22 1963.4 Q1494.22 1967.3 1492.22 1971.2 " fill="none" stroke="#1212e8" stroke-width="1.3"/>
<rect x="1269" y="1957" width="12.7" height="20.6" fill="#0000b0"/>
<path d="M1276.8 1963.8 Q1278.6 1967.3 1276.8 1970.8 " fill="none" stroke="#fff" stroke-width="1"/>
<text x="1426.06" y="1956" font-size="24.2" fill="#1010a8" font-style="italic">ITPR1</text>
<ellipse cx="1335.6" cy="2031" rx="21.5" ry="26.6" fill="none" stroke="#c4c4c4" stroke-width="3"/>
<text transform="matrix(0.27668 0 0 0.44774 1245.76 2046.26)" font-size="100" font-weight="bold" fill="#fba500">G</text>
<text transform="matrix(0.31706 0 0 0.46076 1263.21 2046.7)" font-size="100" font-weight="bold" fill="#e20f0f">T</text>
<text transform="matrix(0.31706 0 0 0.46076 1279.88 2046.7)" font-size="100" font-weight="bold" fill="#e20f0f">T</text>
<text transform="matrix(0.27668 0 0 0.44774 1295.77 2046.26)" font-size="100" font-weight="bold" fill="#fba500">G</text>
<text transform="matrix(0.28556 0 0 0.44774 1312.41 2046.26)" font-size="100" font-weight="bold" fill="#1450f5">C</text>
<text transform="matrix(0.27668 0 0 0.44774 1329.11 2046.26)" font-size="100" font-weight="bold" fill="#fba500">G</text>
<text transform="matrix(0.28556 0 0 0.44774 1345.75 2046.26)" font-size="100" font-weight="bold" fill="#1450f5">C</text>
<text transform="matrix(0.27829 0 0 0.46076 1362.9 2046.7)" font-size="100" font-weight="bold" fill="#10b21e">A</text>
<text transform="matrix(0.27829 0 0 0.46076 1379.57 2046.7)" font-size="100" font-weight="bold" fill="#10b21e">A</text>
<text transform="matrix(0.31706 0 0 0.46076 1396.57 2046.7)" font-size="100" font-weight="bold" fill="#e20f0f">T</text>
<line x1="1619.4" y1="1516.3" x2="1736.83" y2="1516.3" stroke="#000" stroke-width="2"/>
<line x1="1821.57" y1="1516.3" x2="1938" y2="1516.3" stroke="#000" stroke-width="2"/>
<path d="M1612.9 1516.3 L1622.9 1512.3 L1622.9 1520.3 Z" fill="#000"/>
<path d="M1944.5 1516.3 L1934.5 1520.3 L1934.5 1512.3 Z" fill="#000"/>
<text x="1749.78" y="1521.3" font-size="20.8" fill="#000">2.9 kb</text>
<rect x="1613.4" y="1540" width="330.6" height="383.7" fill="#f8f8f8"/>
<rect x="1614.8" y="1547.34" width="1.6" height="28.51" fill="#c8102e"/>
<rect x="1644.2" y="1546.68" width="1.6" height="29.17" fill="#c8102e"/>
<rect x="1645.87" y="1546.79" width="1.6" height="29.06" fill="#c8102e"/>
<rect x="1647.53" y="1547.02" width="1.6" height="28.83" fill="#c8102e"/>
<rect x="1649.2" y="1547.39" width="1.6" height="28.46" fill="#c8102e"/>
<rect x="1668.5" y="1546.58" width="1.6" height="29.27" fill="#c8102e"/>
<rect x="1672.1" y="1546.94" width="1.6" height="28.91" fill="#c8102e"/>
<rect x="1674" y="1546.89" width="1.6" height="28.96" fill="#c8102e"/>
<rect x="1677.4" y="1546.5" width="1.6" height="29.35" fill="#c8102e"/>
<rect x="1684.4" y="1547.28" width="1.6" height="28.57" fill="#c8102e"/>
<rect x="1691.4" y="1547.85" width="1.6" height="28" fill="#c8102e"/>
<rect x="1699.1" y="1547.58" width="1.6" height="28.27" fill="#c8102e"/>
<rect x="1704.9" y="1547.71" width="1.6" height="28.14" fill="#c8102e"/>
<rect x="1714.1" y="1547.73" width="1.6" height="28.12" fill="#c8102e"/>
<rect x="1725" y="1547.84" width="1.6" height="28.01" fill="#c8102e"/>
<rect x="1738.5" y="1547.13" width="1.6" height="28.72" fill="#c8102e"/>
<rect x="1780.8" y="1546.64" width="1.6" height="29.21" fill="#c8102e"/>
<rect x="1846" y="1568.27" width="1.6" height="7.58" fill="#c8102e"/>
<rect x="1866.6" y="1559.18" width="1.6" height="16.67" fill="#c8102e"/>
<rect x="1873.8" y="1547.71" width="1.6" height="28.14" fill="#c8102e"/>
<rect x="1877" y="1547.37" width="1.6" height="28.48" fill="#c8102e"/>
<rect x="1898.7" y="1546.59" width="1.6" height="29.26" fill="#c8102e"/>
<rect x="1908.4" y="1546.5" width="1.6" height="29.35" fill="#c8102e"/>
<rect x="1916.8" y="1546.99" width="1.6" height="28.86" fill="#c8102e"/>
<rect x="1929.4" y="1546.47" width="1.6" height="29.38" fill="#c8102e"/>
<rect x="1934.2" y="1547.72" width="1.6" height="28.13" fill="#c8102e"/>
<line x1="1613.4" y1="1576.35" x2="1944" y2="1576.35" stroke="#d2d2d2" stroke-width="1.2"/>
<line x1="1945" y1="1548" x2="1949.5" y2="1548" stroke="#c8102e" stroke-width="1.5"/>
<text x="1948.5" y="1561" font-size="19.5" fill="#c8102e" letter-spacing="-0.6">100</text>
<rect x="1614.8" y="1582.79" width="1.6" height="29.11" fill="#13a0a0"/>
<rect x="1644.2" y="1582.92" width="1.6" height="28.98" fill="#13a0a0"/>
<rect x="1645.87" y="1583.1" width="1.6" height="28.8" fill="#13a0a0"/>
<rect x="1647.53" y="1583.28" width="1.6" height="28.62" fill="#13a0a0"/>
<rect x="1649.2" y="1583.16" width="1.6" height="28.74" fill="#13a0a0"/>
<rect x="1651" y="1604.32" width="1.6" height="7.58" fill="#13a0a0"/>
<rect x="1668.5" y="1583.51" width="1.6" height="28.39" fill="#13a0a0"/>
<rect x="1672.1" y="1583.17" width="1.6" height="28.73" fill="#13a0a0"/>
<rect x="1674" y="1582.66" width="1.6" height="29.24" fill="#13a0a0"/>
<rect x="1677.4" y="1583.99" width="1.6" height="27.91" fill="#13a0a0"/>
<rect x="1684.4" y="1583.56" width="1.6" height="28.34" fill="#13a0a0"/>
<rect x="1691.4" y="1582.64" width="1.6" height="29.26" fill="#13a0a0"/>
<rect x="1692.9" y="1586.14" width="1.6" height="25.75" fill="#13a0a0"/>
<rect x="1699.1" y="1583.65" width="1.6" height="28.25" fill="#13a0a0"/>
<rect x="1704.9" y="1584.01" width="1.6" height="27.89" fill="#13a0a0"/>
<rect x="1714.1" y="1582.61" width="1.6" height="29.29" fill="#13a0a0"/>
<rect x="1725" y="1582.52" width="1.6" height="29.38" fill="#13a0a0"/>
<rect x="1738.5" y="1583.24" width="1.6" height="28.66" fill="#13a0a0"/>
<rect x="1780.8" y="1583.86" width="1.6" height="28.04" fill="#13a0a0"/>
<rect x="1782.2" y="1605.84" width="1.6" height="6.06" fill="#13a0a0"/>
<rect x="1805.8" y="1610.38" width="1.6" height="1.52" fill="#13a0a0"/>
<rect x="1826.2" y="1602.81" width="1.6" height="9.09" fill="#13a0a0"/>
<rect x="1838.2" y="1593.72" width="1.6" height="18.18" fill="#13a0a0"/>
<rect x="1846" y="1602.81" width="1.6" height="9.09" fill="#13a0a0"/>
<rect x="1866.6" y="1595.23" width="1.6" height="16.67" fill="#13a0a0"/>
<rect x="1873.8" y="1583.1" width="1.6" height="28.8" fill="#13a0a0"/>
<rect x="1877" y="1582.64" width="1.6" height="29.26" fill="#13a0a0"/>
<rect x="1898.7" y="1583.48" width="1.6" height="28.42" fill="#13a0a0"/>
<rect x="1908.4" y="1582.55" width="1.6" height="29.35" fill="#13a0a0"/>
<rect x="1916.8" y="1583.93" width="1.6" height="27.97" fill="#13a0a0"/>
<rect x="1934.2" y="1583.38" width="1.6" height="28.52" fill="#13a0a0"/>
<line x1="1613.4" y1="1612.4" x2="1944" y2="1612.4" stroke="#d2d2d2" stroke-width="1.2"/>
<line x1="1945" y1="1584.05" x2="1949.5" y2="1584.05" stroke="#13a0a0" stroke-width="1.5"/>
<text x="1948.5" y="1597.05" font-size="19.5" fill="#13a0a0" letter-spacing="-0.6">100</text>
<rect x="1614.8" y="1618.69" width="1.6" height="29.26" fill="#0b64a4"/>
<rect x="1644.2" y="1618.91" width="1.6" height="29.04" fill="#0b64a4"/>
<rect x="1645.87" y="1619.27" width="1.6" height="28.68" fill="#0b64a4"/>
<rect x="1647.53" y="1619.86" width="1.6" height="28.09" fill="#0b64a4"/>
<rect x="1649.2" y="1619.38" width="1.6" height="28.57" fill="#0b64a4"/>
<rect x="1668.5" y="1620.05" width="1.6" height="27.9" fill="#0b64a4"/>
<rect x="1672.1" y="1619.56" width="1.6" height="28.39" fill="#0b64a4"/>
<rect x="1674" y="1619.36" width="1.6" height="28.59" fill="#0b64a4"/>
<rect x="1677.4" y="1618.87" width="1.6" height="29.08" fill="#0b64a4"/>
<rect x="1684.4" y="1619.01" width="1.6" height="28.94" fill="#0b64a4"/>
<rect x="1691.4" y="1619.92" width="1.6" height="28.03" fill="#0b64a4"/>
<rect x="1699.1" y="1619.36" width="1.6" height="28.59" fill="#0b64a4"/>
<rect x="1704.9" y="1619.5" width="1.6" height="28.45" fill="#0b64a4"/>
<rect x="1714.1" y="1626.74" width="1.6" height="21.21" fill="#0b64a4"/>
<rect x="1725" y="1619.72" width="1.6" height="28.23" fill="#0b64a4"/>
<rect x="1738.5" y="1619.94" width="1.6" height="28.01" fill="#0b64a4"/>
<rect x="1780.8" y="1619.68" width="1.6" height="28.27" fill="#0b64a4"/>
<rect x="1846" y="1644.92" width="1.6" height="3.03" fill="#0b64a4"/>
<rect x="1866.6" y="1632.8" width="1.6" height="15.15" fill="#0b64a4"/>
<rect x="1873.8" y="1618.89" width="1.6" height="29.06" fill="#0b64a4"/>
<rect x="1877" y="1619.81" width="1.6" height="28.14" fill="#0b64a4"/>
<rect x="1898.7" y="1619.98" width="1.6" height="27.97" fill="#0b64a4"/>
<rect x="1908.4" y="1618.74" width="1.6" height="29.21" fill="#0b64a4"/>
<rect x="1916.8" y="1619.94" width="1.6" height="28.01" fill="#0b64a4"/>
<rect x="1929.4" y="1619.16" width="1.6" height="28.79" fill="#0b64a4"/>
<rect x="1934.2" y="1618.88" width="1.6" height="29.07" fill="#0b64a4"/>
<line x1="1613.4" y1="1648.45" x2="1944" y2="1648.45" stroke="#d2d2d2" stroke-width="1.2"/>
<line x1="1945" y1="1620.1" x2="1949.5" y2="1620.1" stroke="#0b64a4" stroke-width="1.5"/>
<text x="1948.5" y="1633.1" font-size="19.5" fill="#0b64a4" letter-spacing="-0.6">100</text>
<rect x="1614.8" y="1654.89" width="1.6" height="29.11" fill="#0bc63a"/>
<rect x="1644.2" y="1654.67" width="1.6" height="29.33" fill="#0bc63a"/>
<rect x="1645.87" y="1655.36" width="1.6" height="28.64" fill="#0bc63a"/>
<rect x="1647.53" y="1655.19" width="1.6" height="28.81" fill="#0bc63a"/>
<rect x="1649.2" y="1655.9" width="1.6" height="28.1" fill="#0bc63a"/>
<rect x="1668.5" y="1654.7" width="1.6" height="29.3" fill="#0bc63a"/>
<rect x="1672.1" y="1655.22" width="1.6" height="28.78" fill="#0bc63a"/>
<rect x="1674" y="1655.2" width="1.6" height="28.8" fill="#0bc63a"/>
<rect x="1677.4" y="1654.88" width="1.6" height="29.12" fill="#0bc63a"/>
<rect x="1684.4" y="1654.99" width="1.6" height="29.01" fill="#0bc63a"/>
<rect x="1691.4" y="1655.01" width="1.6" height="28.99" fill="#0bc63a"/>
<rect x="1699.1" y="1655.12" width="1.6" height="28.88" fill="#0bc63a"/>
<rect x="1704.9" y="1654.78" width="1.6" height="29.22" fill="#0bc63a"/>
<rect x="1714.1" y="1654.94" width="1.6" height="29.06" fill="#0bc63a"/>
<rect x="1725" y="1655.28" width="1.6" height="28.72" fill="#0bc63a"/>
<rect x="1738.5" y="1655.46" width="1.6" height="28.54" fill="#0bc63a"/>
<rect x="1776.2" y="1662.79" width="1.6" height="21.21" fill="#0bc63a"/>
<rect x="1780.8" y="1655.67" width="1.6" height="28.33" fill="#0bc63a"/>
<rect x="1805.8" y="1681.58" width="1.6" height="2.42" fill="#0bc63a"/>
<rect x="1838.2" y="1656.73" width="1.6" height="27.27" fill="#0bc63a"/>
<rect x="1846" y="1671.88" width="1.6" height="12.12" fill="#0bc63a"/>
<rect x="1866.6" y="1665.82" width="1.6" height="18.18" fill="#0bc63a"/>
<rect x="1873.8" y="1655.43" width="1.6" height="28.57" fill="#0bc63a"/>
<rect x="1877" y="1655.51" width="1.6" height="28.49" fill="#0bc63a"/>
<rect x="1898.7" y="1655.56" width="1.6" height="28.44" fill="#0bc63a"/>
<rect x="1908.4" y="1655.28" width="1.6" height="28.72" fill="#0bc63a"/>
<rect x="1916.8" y="1654.69" width="1.6" height="29.31" fill="#0bc63a"/>
<rect x="1929.4" y="1655.8" width="1.6" height="28.2" fill="#0bc63a"/>
<rect x="1934.2" y="1655.91" width="1.6" height="28.09" fill="#0bc63a"/>
<line x1="1613.4" y1="1684.5" x2="1944" y2="1684.5" stroke="#d2d2d2" stroke-width="1.2"/>
<line x1="1945" y1="1656.15" x2="1949.5" y2="1656.15" stroke="#0bc63a" stroke-width="1.5"/>
<text x="1948.5" y="1669.15" font-size="19.5" fill="#0bc63a" letter-spacing="-0.6">100</text>
<rect x="1614.8" y="1691.4" width="1.6" height="28.65" fill="#ffc60a"/>
<rect x="1644.2" y="1691.54" width="1.6" height="28.51" fill="#ffc60a"/>
<rect x="1645.87" y="1691.07" width="1.6" height="28.98" fill="#ffc60a"/>
<rect x="1647.53" y="1692.02" width="1.6" height="28.03" fill="#ffc60a"/>
<rect x="1649.2" y="1691.7" width="1.6" height="28.35" fill="#ffc60a"/>
<rect x="1668.5" y="1691.9" width="1.6" height="28.15" fill="#ffc60a"/>
<rect x="1672.1" y="1692.15" width="1.6" height="27.9" fill="#ffc60a"/>
<rect x="1674" y="1691.18" width="1.6" height="28.87" fill="#ffc60a"/>
<rect x="1677.4" y="1692.17" width="1.6" height="27.88" fill="#ffc60a"/>
<rect x="1684.4" y="1691.39" width="1.6" height="28.66" fill="#ffc60a"/>
<rect x="1691.4" y="1690.93" width="1.6" height="29.12" fill="#ffc60a"/>
<rect x="1699.1" y="1691.17" width="1.6" height="28.88" fill="#ffc60a"/>
<rect x="1704.9" y="1691.77" width="1.6" height="28.28" fill="#ffc60a"/>
<rect x="1714.1" y="1691.54" width="1.6" height="28.51" fill="#ffc60a"/>
<rect x="1725" y="1690.82" width="1.6" height="29.23" fill="#ffc60a"/>
<rect x="1738.5" y="1691.46" width="1.6" height="28.59" fill="#ffc60a"/>
<rect x="1776.2" y="1698.84" width="1.6" height="21.21" fill="#ffc60a"/>
<rect x="1780.8" y="1691.38" width="1.6" height="28.67" fill="#ffc60a"/>
<rect x="1805.8" y="1717.63" width="1.6" height="2.42" fill="#ffc60a"/>
<rect x="1838.2" y="1692.78" width="1.6" height="27.27" fill="#ffc60a"/>
<rect x="1846" y="1707.93" width="1.6" height="12.12" fill="#ffc60a"/>
<rect x="1866.6" y="1701.87" width="1.6" height="18.18" fill="#ffc60a"/>
<rect x="1873.8" y="1690.97" width="1.6" height="29.08" fill="#ffc60a"/>
<rect x="1877" y="1690.8" width="1.6" height="29.25" fill="#ffc60a"/>
<rect x="1898.7" y="1691.81" width="1.6" height="28.24" fill="#ffc60a"/>
<rect x="1908.4" y="1691.5" width="1.6" height="28.55" fill="#ffc60a"/>
<rect x="1916.8" y="1691.12" width="1.6" height="28.93" fill="#ffc60a"/>
<rect x="1929.4" y="1692.01" width="1.6" height="28.04" fill="#ffc60a"/>
<rect x="1934.2" y="1692" width="1.6" height="28.05" fill="#ffc60a"/>
<line x1="1613.4" y1="1720.55" x2="1944" y2="1720.55" stroke="#d2d2d2" stroke-width="1.2"/>
<line x1="1945" y1="1692.2" x2="1949.5" y2="1692.2" stroke="#ffc60a" stroke-width="1.5"/>
<text x="1948.5" y="1705.2" font-size="19.5" fill="#ffc60a" letter-spacing="-0.6">100</text>
<rect x="1614.8" y="1727.53" width="1.6" height="28.57" fill="#96cc0a"/>
<rect x="1644.2" y="1728.21" width="1.6" height="27.89" fill="#96cc0a"/>
<rect x="1645.87" y="1727.98" width="1.6" height="28.12" fill="#96cc0a"/>
<rect x="1647.53" y="1727.84" width="1.6" height="28.26" fill="#96cc0a"/>
<rect x="1649.2" y="1727.15" width="1.6" height="28.95" fill="#96cc0a"/>
<rect x="1668.5" y="1727.74" width="1.6" height="28.36" fill="#96cc0a"/>
<rect x="1672.1" y="1727.82" width="1.6" height="28.28" fill="#96cc0a"/>
<rect x="1674" y="1727.24" width="1.6" height="28.86" fill="#96cc0a"/>
<rect x="1677.4" y="1727.43" width="1.6" height="28.67" fill="#96cc0a"/>
<rect x="1684.4" y="1727.57" width="1.6" height="28.53" fill="#96cc0a"/>
<rect x="1691.4" y="1727.09" width="1.6" height="29.01" fill="#96cc0a"/>
<rect x="1699.1" y="1727.56" width="1.6" height="28.54" fill="#96cc0a"/>
<rect x="1704.9" y="1727.29" width="1.6" height="28.81" fill="#96cc0a"/>
<rect x="1714.1" y="1726.88" width="1.6" height="29.22" fill="#96cc0a"/>
<rect x="1725" y="1727.55" width="1.6" height="28.55" fill="#96cc0a"/>
<rect x="1738.5" y="1727.19" width="1.6" height="28.91" fill="#96cc0a"/>
<rect x="1776.2" y="1734.89" width="1.6" height="21.21" fill="#96cc0a"/>
<rect x="1780.8" y="1726.97" width="1.6" height="29.13" fill="#96cc0a"/>
<rect x="1805.8" y="1753.68" width="1.6" height="2.42" fill="#96cc0a"/>
<rect x="1838.2" y="1728.83" width="1.6" height="27.27" fill="#96cc0a"/>
<rect x="1846" y="1743.98" width="1.6" height="12.12" fill="#96cc0a"/>
<rect x="1866.6" y="1737.92" width="1.6" height="18.18" fill="#96cc0a"/>
<rect x="1873.8" y="1727.44" width="1.6" height="28.66" fill="#96cc0a"/>
<rect x="1877" y="1727.01" width="1.6" height="29.09" fill="#96cc0a"/>
<rect x="1898.7" y="1727.47" width="1.6" height="28.63" fill="#96cc0a"/>
<rect x="1908.4" y="1726.96" width="1.6" height="29.14" fill="#96cc0a"/>
<rect x="1916.8" y="1726.86" width="1.6" height="29.24" fill="#96cc0a"/>
<rect x="1929.4" y="1727.52" width="1.6" height="28.58" fill="#96cc0a"/>
<rect x="1934.2" y="1728.11" width="1.6" height="27.99" fill="#96cc0a"/>
<line x1="1613.4" y1="1756.6" x2="1944" y2="1756.6" stroke="#d2d2d2" stroke-width="1.2"/>
<line x1="1945" y1="1728.25" x2="1949.5" y2="1728.25" stroke="#96cc0a" stroke-width="1.5"/>
<text x="1948.5" y="1741.25" font-size="19.5" fill="#96cc0a" letter-spacing="-0.6">100</text>
<rect x="1614.8" y="1765.45" width="1.6" height="26.7" fill="#9a6404"/>
<rect x="1644.2" y="1765.95" width="1.6" height="26.2" fill="#9a6404"/>
<rect x="1645.87" y="1764.14" width="1.6" height="28.01" fill="#9a6404"/>
<rect x="1647.53" y="1764.6" width="1.6" height="27.55" fill="#9a6404"/>
<rect x="1649.2" y="1765.47" width="1.6" height="26.68" fill="#9a6404"/>
<rect x="1651" y="1786.09" width="1.6" height="6.06" fill="#9a6404"/>
<rect x="1668.5" y="1765.75" width="1.6" height="26.4" fill="#9a6404"/>
<rect x="1672.1" y="1764.38" width="1.6" height="27.77" fill="#9a6404"/>
<rect x="1674" y="1766.37" width="1.6" height="25.78" fill="#9a6404"/>
<rect x="1677.4" y="1765.33" width="1.6" height="26.82" fill="#9a6404"/>
<rect x="1699.1" y="1766.69" width="1.6" height="25.46" fill="#9a6404"/>
<rect x="1704.9" y="1764.98" width="1.6" height="27.17" fill="#9a6404"/>
<rect x="1714.1" y="1767.91" width="1.6" height="24.24" fill="#9a6404"/>
<rect x="1738.5" y="1765.47" width="1.6" height="26.68" fill="#9a6404"/>
<rect x="1776.2" y="1791.24" width="1.6" height="0.91" fill="#9a6404"/>
<rect x="1780.8" y="1775.48" width="1.6" height="16.67" fill="#9a6404"/>
<rect x="1826.2" y="1783.06" width="1.6" height="9.09" fill="#9a6404"/>
<rect x="1838.2" y="1769.42" width="1.6" height="22.73" fill="#9a6404"/>
<rect x="1846" y="1783.06" width="1.6" height="9.09" fill="#9a6404"/>
<rect x="1866.6" y="1773.97" width="1.6" height="18.18" fill="#9a6404"/>
<rect x="1873.8" y="1766.57" width="1.6" height="25.58" fill="#9a6404"/>
<rect x="1877" y="1766.73" width="1.6" height="25.42" fill="#9a6404"/>
<rect x="1898.7" y="1763.74" width="1.6" height="28.41" fill="#9a6404"/>
<rect x="1916.8" y="1773.97" width="1.6" height="18.18" fill="#9a6404"/>
<rect x="1934.2" y="1766.76" width="1.6" height="25.39" fill="#9a6404"/>
<line x1="1613.4" y1="1792.65" x2="1944" y2="1792.65" stroke="#d2d2d2" stroke-width="1.2"/>
<line x1="1945" y1="1764.3" x2="1949.5" y2="1764.3" stroke="#9a6404" stroke-width="1.5"/>
<text x="1948.5" y="1777.3" font-size="19.5" fill="#9a6404" letter-spacing="-0.6">100</text>
<rect x="1614.9" y="1797.35" width="1.2" height="12.5" fill="#2a2ad0"/>
<rect x="1644.3" y="1797.35" width="1.2" height="12.5" fill="#2a2ad0"/>
<rect x="1645.97" y="1797.35" width="1.2" height="12.5" fill="#2a2ad0"/>
<rect x="1647.63" y="1797.35" width="1.2" height="12.5" fill="#2a2ad0"/>
<rect x="1649.3" y="1797.35" width="1.2" height="12.5" fill="#2a2ad0"/>
<rect x="1651.1" y="1797.35" width="1.2" height="12.5" fill="#2a2ad0"/>
<rect x="1668.6" y="1797.35" width="1.2" height="12.5" fill="#2a2ad0"/>
<rect x="1672.2" y="1797.35" width="1.2" height="12.5" fill="#2a2ad0"/>
<rect x="1674.1" y="1797.35" width="1.2" height="12.5" fill="#2a2ad0"/>
<rect x="1677.5" y="1797.35" width="1.2" height="12.5" fill="#2a2ad0"/>
<rect x="1684.5" y="1797.35" width="1.2" height="12.5" fill="#2a2ad0"/>
<rect x="1691.5" y="1797.35" width="1.2" height="12.5" fill="#2a2ad0"/>
<rect x="1693" y="1797.35" width="1.2" height="12.5" fill="#2a2ad0"/>
<rect x="1699.2" y="1797.35" width="1.2" height="12.5" fill="#2a2ad0"/>
<rect x="1705" y="1797.35" width="1.2" height="12.5" fill="#2a2ad0"/>
<rect x="1714.2" y="1797.35" width="1.2" height="12.5" fill="#2a2ad0"/>
<rect x="1725.1" y="1797.35" width="1.2" height="12.5" fill="#2a2ad0"/>
<rect x="1738.6" y="1797.35" width="1.2" height="12.5" fill="#2a2ad0"/>
<rect x="1776.3" y="1797.35" width="1.2" height="12.5" fill="#2a2ad0"/>
<rect x="1780.9" y="1797.35" width="1.2" height="12.5" fill="#2a2ad0"/>
<rect x="1782.3" y="1797.35" width="1.2" height="12.5" fill="#2a2ad0"/>
<rect x="1805.9" y="1797.35" width="1.2" height="12.5" fill="#2a2ad0"/>
<rect x="1826.3" y="1797.35" width="1.2" height="12.5" fill="#2a2ad0"/>
<rect x="1838.3" y="1797.35" width="1.2" height="12.5" fill="#2a2ad0"/>
<rect x="1846.1" y="1797.35" width="1.2" height="12.5" fill="#2a2ad0"/>
<rect x="1866.7" y="1797.35" width="1.2" height="12.5" fill="#2a2ad0"/>
<rect x="1873.9" y="1797.35" width="1.2" height="12.5" fill="#2a2ad0"/>
<rect x="1877.1" y="1797.35" width="1.2" height="12.5" fill="#2a2ad0"/>
<rect x="1898.8" y="1797.35" width="1.2" height="12.5" fill="#2a2ad0"/>
<rect x="1908.5" y="1797.35" width="1.2" height="12.5" fill="#2a2ad0"/>
<rect x="1916.9" y="1797.35" width="1.2" height="12.5" fill="#2a2ad0"/>
<rect x="1929.5" y="1797.35" width="1.2" height="12.5" fill="#2a2ad0"/>
<rect x="1934.3" y="1797.35" width="1.2" height="12.5" fill="#2a2ad0"/>
<line x1="1613.4" y1="1816.35" x2="1944" y2="1816.35" stroke="#d2d2d2" stroke-width="1.2"/>
<path d="M1613.4 1852.6 L1613.4 1852.6 L1623.8 1852.6 L1623.8 1851.1 L1638.1 1851.1 L1638.1 1852.2 L1639.4 1852.2 L1639.4 1852.6 L1668.0 1852.6 L1668.0 1852.0 L1669.3 1852.0 L1669.3 1851.6 L1683.6 1851.6 L1683.6 1852.6 L1740.8 1852.6 L1740.8 1851.6 L1755.1 1851.6 L1755.1 1851.2 L1760.3 1851.2 L1760.3 1850.9 L1768.1 1850.9 L1768.1 1850.6 L1770.7 1850.6 L1770.7 1846.5 L1772.0 1846.5 L1772.0 1843.5 L1773.3 1843.5 L1773.3 1842.0 L1774.6 1842.0 L1774.6 1841.2 L1775.9 1841.2 L1775.9 1839.8 L1777.2 1839.8 L1777.2 1837.5 L1778.5 1837.5 L1778.5 1835.5 L1779.8 1835.5 L1779.8 1836.2 L1781.1 1836.2 L1781.1 1835.5 L1782.4 1835.5 L1782.4 1834.7 L1785.0 1834.7 L1785.0 1837.4 L1786.3 1837.4 L1786.3 1839.6 L1787.6 1839.6 L1787.6 1841.3 L1788.9 1841.3 L1788.9 1842.9 L1790.2 1842.9 L1790.2 1842.2 L1791.5 1842.2 L1791.5 1840.7 L1792.8 1840.7 L1792.8 1842.2 L1794.1 1842.2 L1794.1 1843.8 L1795.4 1843.8 L1795.4 1845.4 L1796.7 1845.4 L1796.7 1847.2 L1798.0 1847.2 L1798.0 1848.6 L1801.9 1848.6 L1801.9 1848.3 L1803.2 1848.3 L1803.2 1848.9 L1804.5 1848.9 L1804.5 1848.4 L1805.8 1848.4 L1805.8 1852.6 L1818.8 1852.6 L1818.8 1852.2 L1820.1 1852.2 L1820.1 1851.6 L1834.4 1851.6 L1834.4 1852.6 L1851.3 1852.6 L1851.3 1851.2 L1879.9 1851.2 L1879.9 1851.9 L1881.2 1851.9 L1881.2 1852.6 L1944.9 1852.6 L1944.9 1852.6 Z" fill="#c8102e"/>
<line x1="1613.4" y1="1852.1" x2="1944" y2="1852.1" stroke="#c8102e" stroke-width="1.2"/>
<line x1="1945" y1="1825.05" x2="1949.5" y2="1825.05" stroke="#c8102e" stroke-width="1.5"/>
<text x="1948.5" y="1837.85" font-size="19.5" fill="#c8102e" letter-spacing="-0.6">50</text>
<path d="M1613.4 1888.6 L1613.4 1888.6 L1764.2 1888.6 L1764.2 1886.1 L1765.5 1886.1 L1765.5 1883.0 L1766.8 1883.0 L1766.8 1881.8 L1768.1 1881.8 L1768.1 1881.4 L1769.4 1881.4 L1769.4 1880.3 L1770.7 1880.3 L1770.7 1879.8 L1772.0 1879.8 L1772.0 1879.1 L1773.3 1879.1 L1773.3 1877.7 L1774.6 1877.7 L1774.6 1876.1 L1777.2 1876.1 L1777.2 1875.3 L1779.8 1875.3 L1779.8 1876.3 L1781.1 1876.3 L1781.1 1877.8 L1782.4 1877.8 L1782.4 1880.5 L1783.7 1880.5 L1783.7 1881.2 L1785.0 1881.2 L1785.0 1881.8 L1786.3 1881.8 L1786.3 1882.8 L1787.6 1882.8 L1787.6 1883.8 L1788.9 1883.8 L1788.9 1884.6 L1790.2 1884.6 L1790.2 1885.9 L1791.5 1885.9 L1791.5 1887.6 L1813.6 1887.6 L1813.6 1888.6 L1930.6 1888.6 L1930.6 1888.0 L1943.6 1888.0 L1943.6 1888.6 L1944.9 1888.6 L1944.9 1888.6 Z" fill="#999999"/>
<line x1="1613.4" y1="1888.15" x2="1944" y2="1888.15" stroke="#999999" stroke-width="1.2"/>
<line x1="1945" y1="1861.1" x2="1949.5" y2="1861.1" stroke="#999999" stroke-width="1.5"/>
<text x="1948.5" y="1873.9" font-size="19.5" fill="#999999" letter-spacing="-0.6">50</text>
<path d="M1613.4 1924.7 L1613.4 1924.7 L1768.1 1924.7 L1768.1 1923.2 L1769.4 1923.2 L1769.4 1920.7 L1770.7 1920.7 L1770.7 1919.7 L1772.0 1919.7 L1772.0 1918.7 L1773.3 1918.7 L1773.3 1917.7 L1774.6 1917.7 L1774.6 1917.1 L1775.9 1917.1 L1775.9 1916.4 L1777.2 1916.4 L1777.2 1915.8 L1778.5 1915.8 L1778.5 1915.2 L1779.8 1915.2 L1779.8 1914.5 L1781.1 1914.5 L1781.1 1914.2 L1782.4 1914.2 L1782.4 1915.6 L1783.7 1915.6 L1783.7 1917.0 L1785.0 1917.0 L1785.0 1918.3 L1786.3 1918.3 L1786.3 1919.6 L1787.6 1919.6 L1787.6 1920.7 L1788.9 1920.7 L1788.9 1921.0 L1790.2 1921.0 L1790.2 1921.3 L1792.8 1921.3 L1792.8 1921.8 L1795.4 1921.8 L1795.4 1922.1 L1798.0 1922.1 L1798.0 1922.5 L1800.6 1922.5 L1800.6 1922.9 L1803.2 1922.9 L1803.2 1923.2 L1805.8 1923.2 L1805.8 1923.5 L1808.4 1923.5 L1808.4 1924.2 L1809.7 1924.2 L1809.7 1924.7 L1830.5 1924.7 L1830.5 1923.9 L1850.0 1923.9 L1850.0 1924.4 L1851.3 1924.4 L1851.3 1924.7 L1944.9 1924.7 L1944.9 1924.7 Z" fill="#9a6404"/>
<line x1="1613.4" y1="1924.2" x2="1944" y2="1924.2" stroke="#9a6404" stroke-width="1.2"/>
<line x1="1945" y1="1897.15" x2="1949.5" y2="1897.15" stroke="#9a6404" stroke-width="1.5"/>
<text x="1948.5" y="1909.95" font-size="19.5" fill="#9a6404" letter-spacing="-0.6">50</text>
<line x1="1801.3" y1="1530.7" x2="1789.01" y2="1540.66" stroke="#000" stroke-width="2.6"/>
<path d="M1782.8 1545.7 L1787.42 1535.52 L1793.72 1543.29 Z" fill="#000"/>
<line x1="1801.3" y1="1568.4" x2="1789.01" y2="1578.36" stroke="#000" stroke-width="2.6"/>
<path d="M1782.8 1583.4 L1787.42 1573.22 L1793.72 1580.99 Z" fill="#000"/>
<line x1="1801.3" y1="1604.6" x2="1789.01" y2="1614.56" stroke="#000" stroke-width="2.6"/>
<path d="M1782.8 1619.6 L1787.42 1609.42 L1793.72 1617.19 Z" fill="#000"/>
<line x1="1801.3" y1="1748.9" x2="1789.01" y2="1758.86" stroke="#000" stroke-width="2.6"/>
<path d="M1782.8 1763.9 L1787.42 1753.72 L1793.72 1761.49 Z" fill="#000"/>
<line x1="1827" y1="1967.3" x2="1946" y2="1967.3" stroke="#1212e8" stroke-width="1.1"/>
<path d="M1837.12 1963.4 Q1839.12 1967.3 1837.12 1971.2 M1846.14 1963.4 Q1848.14 1967.3 1846.14 1971.2 M1855.16 1963.4 Q1857.16 1967.3 1855.16 1971.2 M1864.18 1963.4 Q1866.18 1967.3 1864.18 1971.2 M1873.2 1963.4 Q1875.2 1967.3 1873.2 1971.2 M1882.22 1963.4 Q1884.22 1967.3 1882.22 1971.2 M1891.24 1963.4 Q1893.24 1967.3 1891.24 1971.2 M1900.26 1963.4 Q1902.26 1967.3 1900.26 1971.2 M1909.28 1963.4 Q1911.28 1967.3 1909.28 1971.2 M1918.3 1963.4 Q1920.3 1967.3 1918.3 1971.2 M1927.32 1963.4 Q1929.32 1967.3 1927.32 1971.2 M1936.34 1963.4 Q1938.34 1967.3 1936.34 1971.2 " fill="none" stroke="#1212e8" stroke-width="1.3"/>
<rect x="1714" y="1961.2" width="100.2" height="12.1" fill="#0000b0"/>
<rect x="1813.7" y="1956.9" width="13.3" height="21.2" fill="#0000b0"/>
<path d="M1821.5 1963.8 Q1823.3 1967.3 1821.5 1970.8 " fill="none" stroke="#fff" stroke-width="1"/>
<text x="1880.57" y="1956" font-size="24.2" fill="#1010a8" font-style="italic">SLBP</text>
<ellipse cx="1787.6" cy="2031" rx="21.5" ry="26.6" fill="none" stroke="#c4c4c4" stroke-width="3"/>
<text transform="matrix(0.26627 0 0 0.46076 1705.08 2046.7)" font-size="100" font-weight="bold" fill="#10b21e">A</text>
<text transform="matrix(0.30336 0 0 0.46076 1721.35 2046.7)" font-size="100" font-weight="bold" fill="#e20f0f">T</text>
<text transform="matrix(0.30336 0 0 0.46076 1737.3 2046.7)" font-size="100" font-weight="bold" fill="#e20f0f">T</text>
<text transform="matrix(0.26627 0 0 0.46076 1752.93 2046.7)" font-size="100" font-weight="bold" fill="#10b21e">A</text>
<text transform="matrix(0.27323 0 0 0.44774 1768.42 2046.26)" font-size="100" font-weight="bold" fill="#1450f5">C</text>
<text transform="matrix(0.26473 0 0 0.44774 1784.41 2046.26)" font-size="100" font-weight="bold" fill="#fba500">G</text>
<text transform="matrix(0.27323 0 0 0.44774 1800.32 2046.26)" font-size="100" font-weight="bold" fill="#1450f5">C</text>
<text transform="matrix(0.26627 0 0 0.46076 1816.73 2046.7)" font-size="100" font-weight="bold" fill="#10b21e">A</text>
<text transform="matrix(0.26627 0 0 0.46076 1832.68 2046.7)" font-size="100" font-weight="bold" fill="#10b21e">A</text>
<text transform="matrix(0.30336 0 0 0.46076 1848.95 2046.7)" font-size="100" font-weight="bold" fill="#e20f0f">T</text>
</svg>
</body></html>
